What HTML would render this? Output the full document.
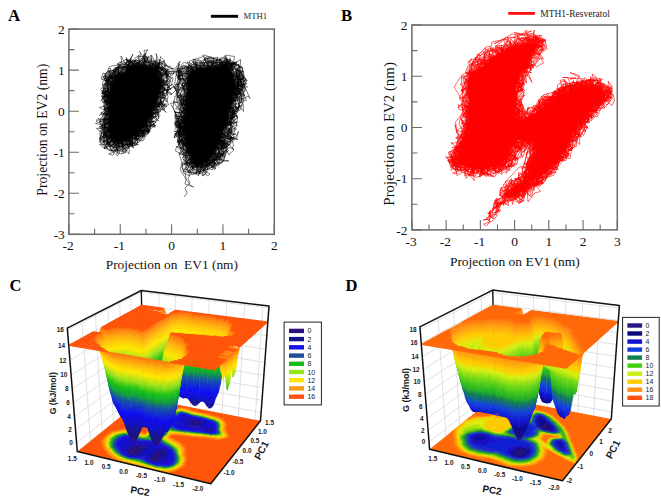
<!DOCTYPE html>
<html><head><meta charset="utf-8"><style>
html,body{margin:0;padding:0;background:#fff;width:661px;height:498px;overflow:hidden}
svg{display:block}

</style></head><body>
<svg width="661" height="498" viewBox="0 0 661 498">
<defs><filter id="bl" x="-10%" y="-10%" width="120%" height="120%"><feGaussianBlur stdDeviation="1.5"/></filter></defs>
<rect width="661" height="498" fill="#fff"/>
<g fill="#000" stroke="none" filter="url(#bl)"><path d="M110 92L113 80L120 73L130 67L146 63L157 68L161 82L159 98L151 116L141 130L130 139L120 144L112 141L108 134L108 118Z"/><path d="M188 71L206 66L228 66L234 76L236 86L232 104L226 126L219 146L208 161L198 168L191 162L186 146L184 126L185 104L186 82Z"/></g><g fill="none" stroke="#000" stroke-width="1" stroke-linejoin="round" transform="scale(.5)"><path d="M262 207l4 10-15 10-7 7 4 1-9-2 7 0-9-3-3 16-6 2-1 26 8-7 2 2-8-1-1 1-7 7 4-10-6 11 11 0-3 0-12-13-6 3-3-10 3 11 9 2-8 0 6 11-1-3 10-2 15 5-18 21 10 0-12-15-10-6 6-5-2-10-11 0-1 6-3 5 20-14-3-7 8 8 3-7-1 1 2-20-7-14 16 6-11 34-14-9-19 2 15 11 1-19 2 7 22 24 4-8-15 22-3-7-4 1 9-4-8-6 6-14 5 5-25 5 3-19-8-19-4 4 0 3 8-6 1 6 0-1-11 5 9 2 11-6 1-3 0 4-3 17-10-5 17-1-11-4 0 6 8-1 19-27-13 7-6 2 1-9 10 0 10 5-4 10 7-6 12-9 1 14-15 6 26-20 16-17 6 13 6 1 0 12-2-1 7-9 9-2-2-20 3-10-17-7 24-19 11 4-12-27-14-4 13 10 11 2 0-3 4-4-7 4 17-6 2-3-13-6 13 16-3 1-10-3 9-5 2 6 7 2 7-8-14 2 3 2-16-13 7 3-8 20-10-2 3 9 12 7 0 16-24-15-7 7-14 7 14 12 12-12-1 14-13 1-14-6-18 11 10 3 3-9 12 12 2 0 22 3 4 22-21-15 3 9 12-4 10-11-13 1-4-4-18-5 15 4-10 9 5 3 0-3-7 26 1-17 10-3 9 5 9-3-10 6-4 20-5 11-6-4 2 5-18-22-6 13-7-13-5-7-6 12-3-25-9-25 22 1-1-26-5-17 4-6-11 7 6-13 4 17-6 10-13 13 12-4-9-16-7-7 4-7-28 24 20 19-7 2 4 0 11 20 12-9-7-12 11 15 3-7 6 4 7-21-8-7 12 7 1-15-14 5 4-7 2-18 2-7 2-10 9 3-12-22 11-9-3 18 9-8-18 12 18-15 1 16-16 22-14-22-2-8 4 1 7 21-1-6 0-2-1-8-2 7-4 12-4 10 1 2 4 15-6-19-11-3-15 15 9 7 14-18-26-6 10 15 4 1 18-5 6 10-5 7 6-8 1 18-16-12 3 0-10 5-16-3-2-2 15 10 27 4-5-6 3 1 8-13 8-11 13-21-19-1-17 21-14-2 15 10-1-17 2-5-16-5-1 16-9-3-5-10 9 6 11 10-25-9-6 8 1 22 11-6 6-8-14 1-3-5 8-15 10 11 4 27-9-12 3 13-3-10 27 12-5-3-4-29-4 3 10 0-31-13-15-4-1 5 8 12-9 24 5 8-4-29 7-14-10 2 2 6 12-19 16 22 11-7 14 0-17 2-10-6-15 2 16-7-11-5 9-2-11 15-2 4 11-4-3-10 1 11 5 8 0-8 1 6 0-13-6 9 11 4-3-19 3 5 3 3-8 0-22 7 10-17 4 24 15 11-20 18-6 11 14 30 11-35-13 24-9-6 2-2 19 9-20-9-4-8-3-6 7 1-4 8-13 4 9 5 7-6 5 4 20-14-16-20 6-12-11-14 2-2 3-2-9 7-4 3 9 22 9-1-14 6-2 10 13 1 0-2-19 3 9-4-13-16 9 9 2-12 10 9 9 18 10 0 7 5-4 20 0-7 17 15-17 25-1 0 5 4-31 0 7-2 12-6-23-15 15 1 2-6-1 9 12-6-19-5 11-14 6-7 1 14 9-6 7 4-8 8-31 8 9 11-12-17 15-3-4-16 16 14 16-9-14-12-13-18 23-8 1 31 13-15-1 38-22 16-3 0-2 3 10-5-13 7 7 6 2 9-13-3 9-16-30-14-3-21 12 8-7-15 17-6 2 9 2 26 7 4-12-10-8 3 9 10 2 20-11-13-12 0-1-3-1 10-7-10 4-11 5 15 34 16-5 3 8 15 10 13 0-4 1-5-9-18 4-15 20 14 7-8-7 1-10 16 3-4 2-1 17-16 15-6-14-3-5 1 4 17-15-17 5-1 10 6-3 15-3-5-13-16 11-9 8-4-7-4-6-30 3 6 5 3-27 5 12 26-8 0-14 15 8-6 10-15-3 5 4 13-19-5-10-1 16-13-6 17 4 20-20-15-11-3 8 5-8 1 3 4 20-5 18 4-4-12 14 7-5 1 15-29-2-12 3-5-16-12-15-24-7 20-6 11 16-1-6-23 9-23 4 15 9-8 15-7 18 2-3 7 14 16-6-2 4-2-7-10-11-7-3-11-9-5 9 5 5-1-21 8 20 7-16 14 8-3 1 18-5-4 0-10 31-1-2 17 16 7 4-6-12 0-6 1 17-9-2-1-7 13-4 17-19 10-4-18 12-4 9-15-5 0-7-2-1-2 0-22-12 2 12 3 4-8 6-9 1 15 7-13 2-10-12 1-9 8 0-15 25 11 8 7-10 2-5 10-18-2-2-12 23-13 8-12-13-8 5 1-4-7-33 20-16 7 5-4 10 16-3 0 7 3 15 16 8 16-12-17-5 1 7-7 36-1 6 0-12 2 0-8-2-2-7 15 16 2-17 15 5-1-15 11-4-7-1 20-7-13-10 1 8 5 7-10 10 4-13-19-19-2 14 17 9 37 5-4-16 1 17 9-22 16-4-3-3-17 1 1 14 16 5-18 1 1-11 10-13 7-4 9-6 1-7-5 2 3-1 8-9 5-1-9-3-13-7 5 8-5 19-1 3 15 3-8-3-13 19 14-10-12 15 5-8-18-5 9-16 3 4-5-16-1-8-8 2-20 5 12 3-13 11-9 15-13-2 25-6 5-1 2 3-11-4-10 26 13-18-15 13-4 3 13 2 5 5-13-18 2 6-11 18 2 5-18 15-5-32 5-11 11-22-5 19-8 7 3-8 10 32 11-14 4-23-2 0-1 17 8-10-8-5-4 11 10-1 5-12-6-2-14 5 2 1-5-1 9 18 7-4-3-33 3 0 16-27 16 6 15 14 20 3 15 9-6-13-1-21 5 1 7-10 1-6-1-8-4 25-10 1 15-18 7 8 2 3-2-1-5-6-6-1 4-8-8 3 5-6-11-3-19 11-8 8 7-14-6-1-12 14-20 3 6 13 11 3-2-10 7-16-31-2 14-6-16 12 1 4-13 6-7 4-9 15-3-7-9-16 5-4 9 20-2 5 1 16-5-12-2-9-3 4 10 12-27 9-8-10 11-11-23 15 14 3-9 8-10-8 13 20-9 16 2-16-4-4-5 20 2 13 0-3-9 5 10 8 14-5 13 4-1-15-18 1-7 12 2-2 4 13-2 3 28 7 6-4-4 4-18 4-1-3 16-6 1 1 7 13-7-1 1 7-13 2-8 0 7-2-16-22 0-13-13 9 11 0 10 3 7 2-9-1 3-14-7-9-3 4-6 4-17-1 12-8 1 11 5 20 6-9 5-3 3-1-1-23 15-18 23 7 5 7-16-3 1-8-9-10 5-1 5-7 4-12-4 23-17 12-10-9-16 6-5 8 14 7-7-9 8-13 19-1-7-5 14 8-4 6-12 0-9-17 18 11 15-8 11 1-22 6 18-10 2 6-5 18-6-24 4-13 12-7 8-7-3 7-15 12-2-28-1 17-9-12 0 0 4 11-9 2-5 18 2 1 1-17 1-3 12-11 2 7 9 6 5-8 6 19 3 1 8 22-3-7 8-12-10 3-3 8-12 3-24 3 6-12 3 7-2-7 10-10 7 17 5 14 0-7-7 1-9 8 22 9-34 8 19 7 4-12 8-3 0-9-2 18 9-5 3 17-1-11 6 10 11-5-7-20 3-14 2-1 28 6-10-17 3 26-1-6-14 18-4-4 5-17-9-23 0-11 1 7-31-6 12-6 0 18-4 14 7-2-13 13 27 8-1-1-7 8 2-4-7-9 6 13-2-11 10 4-10 2 8-9 21-1-5-13 4 25-18-5-14-5 6 8 8 2 6-7 8-8-8-18-18-13-6 28-8-5 3-18 5-21 7 1-3 15-4 14-28 7 9 25 3 9-18-16-4-7 7-7 16 6 12-5-25-2 0 7 8-19-11-10 5-9-2 12 11 0-12-3 3-3 8 13 2-6 17 15-6 4 24 3 0-7 22-8 2 12 8-10 9-2 9-7-11 20 1 0-5-10-30-14-17-7-2 24-15-14-12 5-15-11 12 11 6 5-16-4 17-7 20 0-13 7 0 4 12-1 11 3-15-2 31-13-2-14-6-2-7-17-7-4-4-4-5 10 11 3 9 5-3-18 5-9-3 11 2-5-15-1-2-8 0-11-9 9-4-11-5 2-3 9 2 1 44-10 0 9 11-3-8 13-36-10-4-14-13 17-19-1 10 5-6 15-3 5 14-19-19-13-6 2 7 10-11 8-11 8 12 3-1-9 23 26-1 14 13 3 7-27 3 9 4-1 5 19-12-8-7-9 19-22-4 8-8-10-12 2-1-10 0 14-22 5-7 8 5 3 16-14 13 0-2 11-6-1-7 4 17-10-7 5-4 30 1-29 16 0-12-4-30 0 5-12-8 6 7-2 2-17-12 9 2-4 5 12 18 2-7 3 11-25 6-7 1 1-9-3 3 1 15 8-14 10 9-12 6 7 6-3-17-3-11-5-1 5-9-5 20 9-21-4-4 2 2-3-11-8 8 6 17-11 5 10 0 1 13-5-4-1 24 1-9-5 0 16-4 3 7 14-2-1-24 2 17 5-4-5 5-12-12 14 38-9 6-7 23 11 1 12-17 1-17-7-6 18 0-11 3 28 15-15-11 28-25 15-8-6 8 0-17 7-1 0-4 5-1-5-5 2 23 1-7-6-11 19-10 0 3-8-2-10-5 5 12-9 16 18-35-13-7 13-2-14 3-20 10 4-9 8-1 6 3 1-2 10 21-1-12 13-8-16-8 5 3 3 12 6-2-6-4-19-10 11-8-25 3 13 13-5 0-15-8 3-24-2-3 12 18-3-20 8-1-2 0-8 19 14 7-3-3 16 11 21 6 13-4 0 2-18-7-23-7-22-11-8 0-2 2 18 17-9 20-4 13 11-4-2 10 20-9-17-21 1 15 23 2-3-15-3 13 7-2-2 9-12 11 2-16 13 1-4 1-20 5 15 10-26-30-2 16 19 11-3-11-6-3-7-15-6-7-6 13-9 12 0-11-1 4 25-2-8 1-15-29-6-2 6 3-24 16 23-25-7 21 22 6-15-7-10-21 16 29 12-21-4 2 10 16-3 2 10-10 0-2-8 11 5 3 18 13 12-8-1-8-15-15-1 7-9-19-13 26-11 2-6-5-4-4 15-3 3 8-6-8 1-3 28 9 16 2-8 12 12 10 4 6-21 3 14-13 1 30 12-6 13 7-20-15-10 16-2 1-3-1 5-4-4-7 7 24-17 0 0 22-2-15 6-18-10-12-8-9-19 3-3 9 5-4-4-4-6-2 10-7-2 8 5 3-10 20-19 1-1-24-10 20 1-16 1 6 20 9-4-3 8-1-2 5 4 11-1-4 4-7 2-18 15-10 9 3-8 9-13 8 25 5 13-4 7 2 14 4-2-10 2 6-4 8-12-11-18-3-23 9 13 33 0 5 7-8-9 0 12 0-5-6 8-1 1 0 10 0-13-8 7-21 2-8 7 3-8-11-8 6-3 15-5 1-19 0-17 11 3-6-7 10 3 0 7-4 15 0-9-9-17 12-1 9 3 20-7 12 11 0 1 2 11 2-12 3 12 0 7-11-22-9-1 3 7-17-32-4-2 6 21 16 15 10 8 14-1-5 3 7 9 3 15 0 6-8 16-14-11 9 0-9-6-4-20 3 3-28-4 19-14-2-7 1 20-4 32-7-12 20-9 0 12 9 6-10 5 6 3 8-4-11 7-2 7-11-6-7-15-11-22 10 4 1 15 28-20 2 11 1 8 7-11-1 6 2 1-5-11 6-2-2-7-22 13 0-7-2-9-17-23 9-2-7-10 20-8-2 15-10 30 11 23 5-21 11 9-24-1-15-10 2-3 16 23 5 4 9-18-5 0 9 12-10 8 13-6-17 16-12-16-15-9-8 11 11-20 4-5-3 21-3-1-7 26-9-4-8 18 5-6 2 0 11 1-9-13-9-20-11-25-10-1-1 10-28-18-9-3 19-17 12 0 7 2-26 0-14 8 3 6 2 4-15-3-2 14 11 15 9 18 34-20 18-1-25-3-4 11-5-23-12-11 1 3-4-17-5-5 19-2 1-4-14 9 11 4 1-5 5-1 24-14-11-7 11 14 15-3 15-9 3 1 3 16-8-15 4 3 8-3-3 18-11 12-12-1 8-4-10 0-7 7 13 9-7 4 4 1-5-12-11-3 1-20-4-1-9-6-7 0 8 1-10-9 11 6 6-5 0 15-6 6 9 11-11-1 1 14-27-4-1 6-1 24 11-18 20-10 2-4-18-16 1 3-5-10-16 3 47-7 19 15 3 0-14-12 8 21-11-22 27 17-5-8 9-12 1 9 6-11-1 2-14-12 5-5-21 3-9 9 11-1 6-6 7-6 3 12 3 2 8 8-5-6-12-3 1-8 16-3 26 13-9-24 12 17-8 15 4-5-3 0-1 13-11-1 10 2-1 4-4-12 12-20-2 6 15-3-11 24 12-12 4 1 6-10 12-4-2 3-8 10-15-15-8 17 1-1-26 10 10 2 7-4 14 14 5 10 8 7-6-12 3-16 8-19 11-13-9 28 3-8 13-8-7-19-1 11 8-2-6-8-6 2-8 8-9-4-3 23-16 2-4-4 8-19-16 0 18 10-14 13-4-16-12-3 3 0-2 13 10 25-18 25 4-14 14 3-4-5-5-1 11 18 7 10-19 13-5-10-7 11-4 7 4-16-16-7 14 10-11-2-21 6 19-20-12-2 29-4 25-11 17-7 20 17 8-4 1 17-17-2-5 8 8-6 0-15 12-11 8-8 12 9-12-11 5-7 2 10-12-4-19 2-10-11 12-3 12-2 7 0 10 0-10-14-15-13 9 7 9-14-9 4-19 10 4-6 15 15-2-7 5 3-1 12-9-4 13-18-11 0-10 11 23 14 4 8-5 5-9-11 1-7-5 2 3-1-27 8-15-26-36 20 2 1 6-11-7-4-23 2 16 0-1 3-7-1 1 8 27 16 0 10-11 8-17-5 0-16 16 7-24-9 9-5-11 7-20-3-2 2 0 12-17 10-21 16 16-10 15-18 9 7-13 14-1-3-6-11 5 20 3 6 18 20-10 31 13-14-12-16 8 14 10-32-17 25 0-1-32 0 36-10 0 8 11 1-8 10 1-6 13 18 16-35 4 12 5-11-10 12-3 11-2 0-12 3-8 5 24 1-6-21-6-16 1-11 9-7-3 11 17 19-23-2 16 11 22 2-1-2-14-9 4-10-3-7 10-3 12 0 2 7 6-5 19-1 16-22 1 8-19 19-8 12 5-9 14-7 10 2-31-2-8-17 16 3-5-13-8 8 9 13-8 14-9 1-15 4-9 4 6 6-8-1 12-14-19 3 6-7 18 19 14 7 7-23 4-8 6 15 9-7-3-20 9 15 11-3 5-24-7 8-10 2-13 18 2-2 12-1-4 12 2-3 4 3-7-11-11-12 21-1 14-3-14 4-24-18 0-2 30 21 2-7-8 8 1-10-5-10 29-13 0-1-9 1 5-7 1-11-7-8-12 1 16-5-2 1-2 6 12 13 14 3-6-8-18-4-3-8 0 3 17 15-2 12 4-7 4 11-3-8-4 15-10-3-15 3 3 5-10 12-26 7 13-3 4-10 14 12 7-9 6-11 5-6-3-6 0-14-3 20 2 4 1-1-24-6-2-10 1 1 3 3-6 8-1 2 13 4 11 3 5-18 2 0-23-6 9 21 0 4-17 7-3-27-17 20-2-4 12-6-3-25-1-9-4-2 12 20-9-5-6 8-2 15-2 0 5-7 5 2 16 18 0 3-5 10 8-5-11 5 12 7 10 12-21-15-3 2-16-25-2 18-3-8-10 3 19 6-16 14 14-7 12-16-7 3 4-7 7-2 5 11 12 18-16 3-2 5-3 7 3-14-8-4-13 12 2-7-14 12 9-31-14 9 4-7 20 5 6-11-13-12 11 9-2 5-25-11-16-13 9-20-29 4 5-12 16-5 0-6-7 18 0-10-6-15-1 17 11 15-3 12 4-10-3 6 6 27 10 14-1 20-14-10-6-9-5 2 9-10 24-10-9 1-5 28 18-8 12-22-11-17-3-4 4-18-11-13-14-11-11 13 4-6 19 5 4 2-11 14-2 3 6-11 13 4 1 6 6 11 4 2-2 25-9 17 6-6 0 9 1-22 6 15-6-15-13 4-6-7 5 5-13-17 8 18-4 1-4 4 6 19-16 2-13 15-20-1 2 6 14-8-5-3-17-19 0 16-3 10 7 5-5-11-4-1 11 7 17-4 24-13-10-2 2 9-2 13-17 5-14-7-8-10 6-1 5 0 6-4-11 1-2-6-12 7 23-19 3-6-7-32 28-3 11 4 9 6 13 2 7 10-15-8 6-4 16 27 14 8-11 0 14-10-3 3-6-21 8-17-3-18-2-5-5 2 18 4 11 7 11 3-7-6-8-8 8 15 1-10-12 13-12 21 3 18-1-14-1 17 1-10 11-4-2-7-3 7 4 5-11-2 9 6-14-7-12 3-2-7-6 16-4-22-11 4 11-9 2 7 10 7 1-17 4 2 0 14-20-16-8 5 13 1 25-19 9 1 5 5 13 11 7-12 13-4-15 2 9 6-21 9 18 1-14-4 9 6-2-6-2 2-17 8-8 22-5 0 6-7-8 0 10-7 3-10 4-15 11-27-8 1-8-8-4 23 8 9-1-3 5-11 12-11 2-14-12 22-29-8-5-19 4 11-7-2-6-6 10-1 8 3-17 2-7-9 15 3 2 18 2 3-21-6 12-1 11 18-3 13 12 2-7-7 5 3-9 15 6 21-19 12-15-3 19 7-17 20 10-3-21-11-17 9-19 25-5-13 14 9 5 2-6-22 2-18 7 15 7-17-4 3 21 4 4 9 3-1-3-6 14-5 17 0-12 0 6 3-15-15-3-5-1 20 10 16-20-15-4 16 1-5 1-12-2 26 5-7 5 14-4-4-13-9 0-8-5 4 4 6 13 12-42-4-6-1 4-7 5-5 6-7-10 9 7-4-10-2-7 8-9-6-1-12 3 13 23 1 8-17 5-23-1-8 0-17 14-2 0 0 27 6-14 21-1-20 13 2 8 0 15-3 0-6 10-11 1-4-8-5-10-2-27 8-2-24 23-7 14 20-5 2-9-11-2-4 9-9-1 4-1-11 2 4 5 1 10-7-11 30-7 22-9 12 12 8-11-6 8 14 3-26 3 11-2 9-6 13 17-18 11 0-24 6-3-33-1 4-15 5-18-11 16 22 16-2 41 9 5-8 5 9 11-22-11-4-2 7-16 19-11 18 0-10-9 8 4-9-12 32-7-24-10 10 11-11-3 5 9-8 2-13 6 19 4-6-13 7 1 1-2-14 5 0 4 21 3-2-10-12 6 13-5 3-5 8-12-17-19 6-6-22 7-18 5 13-4-18 8 18 31-3-1 12-7-1 0-7-7 7-13-17 9-9-5 1 10 25 1-1-7-3 4-9 1 0 19-15 15-9 5-9 10 16-26-1 14 6 13-5-9 9-11 1-3-6-25-6 15-9-1-14-24-8 8-9-6 9 19 5 0-7 15 6 25 0 8-2-3 24-16 5 8 3-8-1-11 3 7-22-13-3 9 14-4 10-6 13 19 7 5-5-10 12 0-22 12 2-11 6 3-7 6-3-7 10-11 1-14-31-1-5 13 8-4 8 1 5-14 1-15 1 5 5-12 11 1-20 1-11-17 27-21-11-15-4-4 23 4-14-2 4 2-27 10-1 4-13-24-2 5 5-10 1 0 1 11 8 11-13 11 4 18-8 13 2 10 13-26-10 5 21 18 0-12-24 7 15 15-19 6 0 14-4-12 5 4-10-8 27 2 19 6 3 4-11 13 3-15 2-11 9 11-23-13 2-16 5-22 13-22 20-16 3 4-17-24-4-21 12 4 16-1-1 10 10-11 2 5-5-13 7 1 5 15 4 4-35 14 1-20-9 8-27 1-16 29 16 12 4-12-2 11 5 9-10 7 12-29-25-8-7-4 10-8-7 23-2 9 0 12-4-6-2 8 15-9-6 5 17-2-22-7 5 17 3 15 13 0-9-1-8-12 17 13-8-6 22-6 9-11 16 8 13-18 0 9-8 0 14-8-5 4 17-2 17-6-20 20-1-17 3 6-13-4 8 15-16 4 16 15-6 8 12 15 1-8 4 4 12-5-12 4 12-4 1 13-3-22 2-4 10-4-18-15 0-20 10 18 1-10-12-1-3-6 26 6-10-15-14-9-11 3-8 14 5-2 23-7-1-2-10 0-13-1-2 3 23-17-2 3 4 8-19-3 10-14 3 18 12-33-4 9 1-1-9 12 5 8-10-7 3 2-25 9 5-10 3-12 14 6-9 6-10-31 8-10-4 19-1 9 42 15 5-5 0 11-3-11-1-12-1-8 0-3-6 10-4 3-7 3-1-7 1-10-3 13 8-14 16 9-5 8-15-3 13 3 4-6 7 3-5-3-15-6-8 19-18 8-6-2 8-14 14 6 18-6-9 3 18 8 8 11-8-6-18-20 4-4-10 2-5 5-3 9-7 3-19 20-8 11 1-16 4-11-8 13-5 25 9-11 6-6 5 3 10 0 0-1 7-4 13 16-3-1 16 7-14-7-17-2-13-3 14-17 0 13 1 8-1-1-7 31-13-10 1 1 4-8 7 9-6 9 1-10-4-5-1 3 0 2-1-2-14 15-8-5 9-7-7 8-8-12-7 7-3-11 1-5 13 1 12-9 12 1-2-14-15 5 0 12 2 3 9 0 16-3-19-10-5 3-2-1 8-9 15 2-6 7-9-8-10 18-7-3-5 5 13 5-19 20 4 7-10-15-18-21-10 16 22 2 6-9 6 5-11-16-17-2 24 1 1 23-11 6 9 7 22 23 4-10-16-7 10-15-3-22-11-11-13 1 13-12 31-8-2-4 10-6 9-1-4-2-2-16-12-5-13 23 15-15 10 0 23 8 2 1 6-21-13 18-15-5 8 3-31-5 11-13-3 1 11 10 18 16 2 23 3-11 14-5-11 6-3 0 13-1 0 12 4-8-22 5 7 11 6-12-14 7 12 1 6-17 13 6-1-7 2 5-7 6 5 4 7-11-10 5 6-12 4 8 1 0 1-13-5-8-3 9-9 2-4-15-1 6-11 18-3-16 5 20-19 21-8-29-7 2 14-3 4-1-2-2-18-7 8-19 2 0-6 20-19 10-5-1-30 15 5 15 7 16 2-9-5-11 11-22-16-15-11 16 9 2-4-3-10 0 4-8 6 21 8-14 5 17-10 9 13-34-11 5 12 16-3-10-2-3-8-4 11-13 9-7 11 0 7 28-12 0-3-11 10-4-7 15-1 6-4 2-2 10 15-7-13 4 9-17-3 21-6-3-3-16 26-13 6 7-4-2 22 7-22-3 13-4 1 2 19 12 7-5-1-29-5-24-5 4-2 9-17 2-8 0 16 23 12-9-14-5 25-8-6 0 1-17 6 12-16 31 16-10 2-10 10 3-15-8-2 2 12-3-5 13-1-16-7-6-2 8 9 10-11 4 10 6-8 14-23 7-10-16 5-17 14-5-17 16-11-4-16 14-29 3 12 19-13-8 18 0 42 13 0-3 11-3-20 16 2-6 10 11-14-22 7-31-7 0-6 11 12-8 11 0-4 5-14-7 10 5-12 27 15 1 4-4-12-5-33 17-4-14-1-2-8 6 18 7-18 0 1 1 9-15-1 19 17-2-22 1 7-2-2 7 10 13-18-14 6-2 28-4 0-14-8 5 16 7-9-9-2 13 4-4-3 4 6 3 12 19-2 5 2 8 3 4 7 12-3-1 2-18-14-27 21 10-10-13-6-10 3-11-27-8-10-3 3 4 10 5 18 22 0 18-4 1 13 3-10 12 4 0-4-7-3 19 26-7-7-7 10-6-7-16 2 10 0 2-11-5 5-2 27-11-6-8 2-9-3-3 19 16-23-7-9 18-11-17-16 2-8 18 5-15-16 0-3-2-6 13-8-11 11-3-7 11-3-1 8 5 11-10-11 7 6-7-6 19-2-7-1 2-9 1-1 9 14 7-20-8-8 8 1-6-1 14-1-1 22-15-20-5 3-9 8 8 4 3 8 30-12-12-13-15 11-18-5-5 4-10 12-5-8-20 15-1 7-15 12-16 11 3-12 8-4-2-4 14-12-6-7 9 7 9 3-14-6-8 6 11 13-11-10 11-9 12 20 2 19 2 11-5 5 5 0 10-6 1-8-15 9 2 2 3 3-13-13-14-10-13 19 11 8-2-26-3-14 10 6-10 6 9-7 14-7-2 12-18 6-2 7 5-11 4 10 7-18-12 18-4 5-1 11 5-9 15 11 3-4 1 8-35-10 14 6 7 7 1-1-1-23-14 18 1-4-17 13 8-1 18 2 17-19 0 4 6-29-1 10 9-5-12 5 18 0 3-1-3-20 5 13 4-1 5-12-10-3-10 1 9 16-28 6 11 24-4-31-6-18 10 1 1 5 13-4-14-12 3-6 4 0-6 10-23 7-5 18 8-6 2 9 4 19-5-7 13-4-4-1-14-12-12 8-15-13 29-2-4-18 2 16 4 13-16 10-1 1 11 8 8-3-6 1 13 3 6-8 5 14-6 12-5-9 5 17-26-6-1-17-5-3 12 6 19-13 13 13-4-4-6 7-1 7-21 8 17-2 5 9-7 1 12-8 2 5 12 11-8 6-5-11-9 12-3-12 9 5-14-14-4 5-6 4-9 8 1-3 2-6 4-4-25 3 8-3 4 0 21 11 8-8-3-1 21-4-6 16 2-7-6 2 19-21 5-9-10 26-6 19 5-22 3 14-4-7 8 10-15-9-1 3-5-14-23 17-11-7-8-5 32-11-5-10 8 3 11-5 14-2 6-14-3 7-13 1-12-6 3 10 19 7-9-4 18 8 3 8-23-11 10 0 7-18 28 22 2-5-4 7 0 0-10-4 13-7 5 0-14-4-13 17 19-9 3-11 6-10 11-37-16 2 11 17-12 24-5-1 6 7 37-9 8-5 2-8-17 6 19-1-4-11 0 7-1-8-1 22 7 7 8-8-15-1-5 10-4 3 7-7-21 2 6-12-5-19-21-15-1-2-3-16-3 7-8 15-10 7-3 8-2-5 4-5 15 0 8 18-22 1-16-11-8 2-19-21 15-4 0 15 5-4 7 8 2-7 1-18 1-2 22 11-10 5-4 11 16-7 4 26-2 15-7-18-7-3 7-13 2 19 8 10 11-9-10 2 9-27 20 4-4 8-15 8 9-3 4 3-5-12 3 8 2-6 26 10 8 2 13 17-17-10-9 11 8 6-2-22 3-4-6 1-4-14 4-17-13-29-9-10 3 13-12 10 3-3-3 7 3 3-8-8 10 7 1 13-3-1 14-5-23 12 8 12 23 8 25 4 14-6-6 3-17 8-30-11-14 24-9 3 30-6 12 2 12-15 14 7-7-5-5-5-9-11-30 16 11-6-13 0-2 17-15-9 5-2 8 17 11 15 1 27-16-21-4 5 4 3-9-5 12-15-3 2 5 4 1 7-19-18 16-19-1-6-10 3-9-1-9-2 5-29-2 14 5-5-3 5 2-6-12-7-14-7-17 9-12-6-10-20 4-3 6 5-3 0 19-1-4 4 4-2 2 11-5 15 10 11-33-22 0-2-2 13-5 4-4 15 19-6 7-5-2 10-11 6 1-6 3-6-13 7 0 7 1-10 20-5 19-2-17-12 11 14 20-20 17 4-10-12-20 12 5-5-23 14 12 0 11-11-8-7 8 4-7 6 7 27 6 3-21-8 13 16 4 3-9 7-3-13 7 15-13 14 2 15 6-6 1 1 7-14-14-8-6 25 1-11 1 4-12-7-3-5 0-1 4 1-7-11-10-4-6 5 8-9-7 14-3-9 13 1 3-8 19-1 9 5-27-13-13-11 18 2 14 10-16-12 5 6-8-12 4 10 12-10-10-6-4-7 16-3-9-1-4 19-16 8 5 2 14-18-14 9 8 4 22 17 12-4 1 1 1-2 15-11-4-19-8 4-2-12 3-29 10 2 7 14 9-7 8 13-7-2-15 25 2-10-2-21 4 7 14-17-5-7-6 12 2-4 8 18 14-1 16 0 5 17-20-10 23-15 7 12-27-4-23-12-9 12 1-9 10-9-16-1 21-7-13 3 8 1-22 14 2-1 18-2-4-5 9-2 2 13 5 5-10 14-7 7-3 10 0 13 4-2 3-10-7 5 2 8-14 7-31-2-4-4 12 2-2-6-15-20 3 0 7 9-2-3 17-8 6-2-12-10-9-12-6 17-12-15 16 12-14-15 17-3 7 19-4-11-3 11 4 7 4-5 8-8 15 0 21 3-15-14-18 2 22-5-4 7-7-5 10 3-23 8-13 17 7-3 2 13 10-3 2 9 27-6-19 12 17 6-19-6-7-2 0-11-14-3-23-13-10-1-13 7 13-7 3-1-4-6 5 2 19-16 20-13-8 6 2-1-5-7 20 6 9-10 16 4-7 12-7-2 10 4 4 7-17-7 1 7-17 2-2-3 2 3 14-22 21 4 21 1-19 15 9 24 3-10-2-9-3-6-24 10-3-18 11 0-11 2 26 6 5-7-5 4-10 17-1 7 27 1-9-18 14-12 4 1 13 19 6 35 14-5 7 9 1 2-10-18-7 2-13-23 2-12-10 6 4 7-3 18-5 12-4-18-7 4 8 5 2 8 18 2 19-13-3 1-13 10 0-7 12 24-1 4 3-19 3 11-6-7-11 19-15 7-16-7-6-5 12 3 6-8 8 2-10-15 6-5 9-3 11-6-2 5 11-9 13-2 7 14-4-10 1-29-16-3-20 18 3-3-22-5 9-11 0-8 7-12 3 9 7 0 10 6-20 2 6 8-7 2-3-21-16 9 5 0 13 26-27-28 3 5 2-4-6 2 18 7 4-9 14 5 10 21 6-4 18 6-4 2-5-4 16 8-5-14 4 10-18 4-3 5 0-20-6-21 6-2 16 6-22 17-6 8-7 3-16 1-8-16-21 28 0-6 4-6-4 3 7-8 24 7 15 8-8-2 8 3-6-3 6 1-4 8 5-8-4 12-12-12 26 12 0 18-25 17-5-11 17-29 2-7-22-1-1-9 13 1 1 20-24-2-12 4-4-1-11-1 1 6-1 8 3-8-11 8-3 17 10-3 3 0 2 1 5-13-18-18 27-7-19 18-12 5 9-23 5-1 20 13 5 23-13-5 10-15 14 4 5-4-5-3 6-12-10 13-7 1 3-8 14-1 3 8-13 9-1-6 8-8 4 15-8 1 2 10 18 15 2-16-4 10-17-9 15-12-1 13-3 2 22-5-16-13-8 3 11-9 6 5 16-3-16-7 6-3 2-10 13 0 3-18-4-15-12 2-13 22 6-10-2 7-20 10-4-3 9 10 5 6 16-10-3-2 17 27-15 16 0 5-28-29-5-9-10 19-10 11 16-19 14 13 7 0-1-16 1 3 5-8-12-7-11 2-13 23-3 7-8-1 0 3 6 0-4 2-15 6 5-2-14 7 23 3 1 16 14 5-2-23-21-2 11 14 0 2-8 1-16 7 12-5 14-5-16-5-7-11-5 24 1-3-11 11-2 0 16 0-6-17-4 7-7-5 1 3-9-8 1-16-7-14-12 25 4-4 5 18-12-3 0 4-1-5-2 5-5-6 8-9 10-15-11-1 18-8 6-6 8-19 4 1 2 16 0-3-1 2-8-17 27-6 16 3 27 0 4-8-6 10-4 3 13-22-12 2-9-5 0-16 2 0-19 12-7-2-5-4 11-14-30 5 5 15 20 8 19 7-15 12 11-1-20 11-19-10-7 16 2 30-8 8 2-17-8-13 4 11 11 1 4-3 14 18 8-4 10 10-26-19 5 15-11 12-8 13-12 1 5-3-7 0-8 1-3-16-6 12-1 8 14 4-11-6-9-7 13 2-3-14 25-15-1 3 3 8 9-8 13 20 4 5 10 3-11-3-9-6-10-22 0-3-4 13 28-17 12-11 7-10 9 17-10-4 15-10 8-1 3 0 9-10 8-11-8-17-9 8-5 5-19-13-2-5 17 0 20-6 13-1 7 10 0-14-17-2 20-2 6 19-8 9 6 2-1 7-18-20-7-2-6-20 11 9-9-20 23 7-10 14-3 13 20-6 6-12-12-7 7 1-28 0-9 6-11-1 30-16 18 16 13 12-11-1-3-4 9 2 7 6 6 4-8 8-2-6 2 0 5 19-11 3 3 0-16-5 4 2-3-10 17-11-7 8 5 29-6 4-4-14-6-1 0-7-21-13 21-6 12-15 5 12 16 3-1-1-18-4-2 8-12-1 2-7 29 4-33-2-2-5 11 5-2 8-2 21 12 10-2-10 5 0-18 0 19-3-10 13-14-11 1 21-13-3-3 0 9-2-1 4-15-11 4 8-3-4 21-4 7-8 7 12 5-14 3-1-13-7-1 16-5-11 4 2-13-7 9-2 10 0-12 5 11 7 9-8-6-6-10-25 10 6-4-26-13 12 17-19-7 14-3-3-30-5 18-5-2 0 21 8 4-7-8 16-6 1 5-6-16-7 15 3-7 12 8 3-12 2-11-6-2 6 23 0-2 8 19 6-2-7-8 8 15-15-13 6 11 2-8-6 6 5 2 7 7 15-1-10-4 5-19-1 2-9-5 5-5-17-2-9 8 7 1-4 6 13-22 5 9-6-2-13 6-12 24 11-8 13-2 12-5 8-19 9-11"/><path d="M416 226l2-6-29 22-4 9-7 12-4-10-1 7 1-11 3 4-12 9 10 2 8 2-2 11-5 3-9-13 12-3-23 13 1 12 4-3 7-2-12-19 14 1 0-9-1-15 21 5-3-9-2-9-10 2-10 18 1-10 1-6-8-9 8 29-6 22 12-11-24 11 1-9 8 16 7-6-1 6-10 3 5-19 13-17-11-6-4 4 8-1-10-3 9-3 12 8-12 4 13 10-10 1 18 9 7-24 10-3 7 24-13 17 6-7-10 16-21-24 15 2-2 9 3-12 16-16 9-5 8 6-22 14-5 34 11-6-27 2-16-19 1 2-10-15-4 9 8-14 10-9 0-18-16-4 1 18 17 7 9 10-9-6-13-12 4 32 14 1-14-23 9 19 6-10 16-6-12 17-1 5-5-15-12 3 15-8 8-5-6 9 2-12 9 0-2-13 13 0 6 19-5 4-14 17 11-2-13 0 1-6 14-15-24-26 0 5 0 1-2 7-2-6-12-10 22 5-4 13-4 7 4-12-12-15 10-15 3-11-1-9 1 3 6 7 2-3-5 16 3 3-5-17 0 4 37-7-3-5-6 16-12 12 33-4-23-16-12-14-3 17-6-11-16-11-2-7 3-2-10 7-5-15 2 37 10-5 10-10 2 2 12 10-4-14-6 8-15 8-5-11 17-5 9-5-5-8 11-5-14 22-2-8 4 3 14 10-7-6-2-19 4 15-2 4 9-2 0-10-24 1-7 0 23 2 2-7-9-8-7-22 0 14-5 7 19 7 16 18 2-20-10-2-2-2 3-6 14 17 7-19-3 18-10 19 8 6 2 32-4-3-16 19-21-9 5-17 3 5-22 22 22 34-15 11-6-13-5-16 9 15-8 2 0 2 4 7 1 7 11-14 22 18 14-17 9-23 10 14 3 19-16-1 16 2 28-6 9 10-3-3 2-7-9-31-7-5 13 15 8-1-9 0 0-7-16 1-8-3-28 13-11 3-26 11-3 1 14 2-5 13 7-7-5-5 8 3 15 6-20 2 26 0 11 13 6-14 14-17 9 9 6-25-7 11-8-5-18-16-25 4-19-5 2 4 0 2 0 12 7-6 4 10-4 4-3 2 2 2-2-22-11 15-5 16-6-10 16 4-12-2 3 4-2-2 11-14 12 4-11 2 4-5 13 8 11 5-10 0-6-19 2 29 31 21-9 1-19-3 7 15 0 2 4 0-13-23 3 16 18 4-3 8 17-10-4-11 7-7-5 7-9-7 4-11 5 28-36-7 4 19 13-20-20 9 19-9 14 1-17 20 10-12-3 2-2 3 14-15-2-14 11-9-8 0 22 0-11 14-5-5-6 13-11 8 25-9 0-2-1-8-7-17-7 6-12 4-1-20 10 11-13 17-1-3-2 9 8 8 18-4-2 1 1-3-15-23 0-13-4-6 3 1 9-8-12 6-4 4-18-3 6 0 4 2-5-6-21-3 4 17-15-5 11 17 6-5-6-20 2 9-4 2 6-35 9-14 9-23 3-1 3-7 5-7-9-9-4 8-1-8 8-19-2 25-6 8 4 8-8-6-5 1 1-6-26-6 9 6-1 10-1-27 17-9-27-20-4-1 7-23-4 7-2 10 10-2 12-1-13-9-2 14 12-16-5 6-10 1-3-2-9 13 12-10 2 10 0-14 9-11 13 7 15 8-10-21 9 2 8 5-10 13-2-18-19 16 2-2 14-6 6 10-3-12 17-1-17 5-6-8 10 20 0-14-13 10 11 4-16-5 23 3 24-6-3 4 6 17-28 16 10-4 22-15-8-20 14-1-14-8 1 1-2 14-6-2-11-4 4-5-17 11-1 8-21 23-14-13 3-5 17-5 0 16-16 26 3 11-2-3-11-4-4 23 7 15-4 2 20 2-9-21 13-13 3-6 8-16-2-1 1 5 0-7-19-4-4-6 2-15-6 3 3-16-1 18-1-14 6 3 5 25 28 5-12 9-2 9 6-4 14-1 16-10-15-1-27 13-2 3-2 13 0 5 13-18-1 0 3 7 21-12 23 8 3 15 8 14-3 15-1-23-1 7-16 22-7 6-24-12 0 5-3 2-10-6-2-6-1 4-15 11 6-8 13-23 3-6-6 1 9 7-8 22-1-5 8 12-25 6 2 6 1-4 14 0 15 8-22-11 6-7-8-5-4 1 13-8-16-16-7-23 4-1 6-8 1 6 6 18-11-6 2 2 8-6-9-2 10 18 6-8-4-4 1 19-21 1 2 14-1 5 2 7 13 6-17-32 17 1-5 4 6-14 1 37 3-18 1 11-14-8 10 6 6-10 10-3-5 8-17-5 18 0-18-18 9 4 2 4 4 27 18 0-14-22 14-8-10 0 10-3-2 26 10-15 3-22 4 0-3-7 8 15-11 16-7 9-16-3-1-11-7-3-1-23 6-6 1-2-2-6 20 3 9-5 8 12-18 1 5-11-1-11-1 11 13-12 0-10-10-3 15-4-3 4 10-11 19 0 6 7-2 13 1 8-18 5 3-20 23-18-3 1 9 1 4 1-1 8-5 13-3 2-5 10-14-10-2-1 3 1-8-2 3 3-14 15-22 4-30 6 9 2-6 6-6-3-25 5 9 16 9 3 2-15 20 0 16-5 10 6 14 23 14-9 5 11 29-13 9-10 7-4-9 4-6 9 5 11-1 12-12-3-1 12 12 3-19 14 0-3-2-15-12-28 9 5 15-13 2 10-2 11-1-21-15 3 8 22 18-13-3 2-11-20-1-15 15-23 16 18-17-5 2-5 13-6-9 10-10-2-14 13 15-16-19 8-22 12-14 0-3-2-17-5 7-10-19 17-11 3 0-4 6-15 20 4 25-7-8 0-16 2 12-7 5-14 7-11-13-34 19-1-3-3-4 4 14-4-3 9-3 11-10-9-9 3-10 0-3 12-9-15 14-1 8 10-4-11 4-7-10 16-12-3 6-3-4 9-28 2-1 16 22-19 5 10 1 1-16-21 4 1 18 12 12 18-5-1 25 10 7 5 8 1-14-12-9 3 11 19-1-22 8-9-8 13 15-14-9-11-6 22-8 12-10-5-1 21 13 15 11 0 20-21-7-20 1 6 9 4-23-6 7-8-13-15 11-13 3-5 7-4-7 0 2 16-8-8 8 17 1 6 7 2 16-10 5 7-3-13-6 1 1-6 1-6 15 10 4 1-4 14-6 2-2 19 9 8 4 7 6 14-7 1-6-14-4-5 5 3-18-17-1-7-7-11 5 18 3-20-8-6 10 20-3-6-12 42 20 2-18-5-3-14 25-22 14-4-11-28-12 11 9-15-14 2 10 26-11-1-13 9-14-20 11-2-7 11 2 17-16 28-3-7 9-26-1 18 3-7-21 25 6-26 4 24 12-3 15-12 23 21 3-13-9 14-6 1 6 3-11 4 7 0 8-9-26 5-12 7 17 7-4-22 6 10-3 1 3 13 10-10 4 25-21 6 15 5 5-6 2 18-6-6-3-2 0-19 3 19 3-8 7-10-12 11 0-9-9-10 31-4 0-9 2-9-3 14-29 0-10-5-22 15 33 0-18 13 7 12-9-10 14 18-1 22 10-3-13 6-13 6-5 4-20-5-9 7 10-11 5-8-4 12 2-12-10 10 7-4 14 2-11-8 9-12-14 14 27 19 3-6 9 0-16 7 8 12 8-7 0-7-17-8 0-1-2-25 6 9-2-1-6 1-20-6-12 5-5-20-9 7-12-5 0-3-1 9 5-16 4-4-17-6 2 3 9-1 26-24 0-9-4 20 5-1 5 18 12 4-18 0-14-16 4-20 11-3 5-8 6-15 10-13-3-15-10 6-5-15-15-8 8-6-13 6 14 16-15-2 14 14-6 4 3 10-15 24 8 18 34-29 13-23-2 23 26 4 18 6 2-44-22-10 5-24 9 2 4 0-1-11 0 6-26 4-14-3 1 3 14 2 21 2-13 6 15 1-8-3-9-12 0-1-24-1 0 21-6 18-1-4-11-2 15-5 6-28-5 13 11-6-4 16-21 1 2-14 1 8 8-17 3 11-3-1-17 0-19 13 9-8-13-4-12 21 7-23 10 5 21-16 7 5 3 15 2 6 4 3-5 12 28 16-7 12 2-13 3-5-2-15 17-7-16 13 15 8 15 14-28 13-3 16 6-6 14-2-12 4 22 7 5-20-7-18 4-17-17 3 9 8 22 2 8-5-15-15-8-5 3 24-12 16 0 12 8-7 8-7 0 20 3 1-16 11 10 13-4 9-2-11 8-4-9 14 5-7 3-6-1 14-13 26 7-4 2 2-10 17-13 1 12 9 3-6-23 17 7 8-5-16 8 18 13-20-13 5 1-2-9-10-17-15-15 6 0-12-11 26-11 8 5-3 7-19-2-9 1-4-2 12-15-3-9 16 10-1 11 1 4-13 6-1-4 5-18-2 11 19-4-12 13 10-6 2 11 8 3-26-10-4 9-7 25 18 2 17-13 3-10 22-24-4 10 5 7 4-1-18-4 5 7 13 11 10-1 3-5-13-9-13 7-4 6 11 11-21-5-3 9-16 2-7-3 22-15-6 9 18 13-8-10 0 4 13 21-9-6-1-12 10 10 0-1-2 1-17 8-2 6-26-24-16-12-9-13 14 17-14 0 25-7-2 14 0 6 0-22 1-3-4 6 12-8 2-2 8-3 17-2 1 13-9-6-7 9 26-16 7 2 12 2 4-19 11-5-11 14-8 11 14-3-1-8-9 4-1-15-8 12 0-16-1-12-7 2 3 3 3 14-8-5-11 4 28 2 9-5 0-1-1 11-7-9-3 15 4-6-3-2-12-13 25 27 1-21-11-14-9-7 8 1 9 18 27 7 4-17-6 2-9-2-18 3-8 27-19 10 0 27-6-8 15-11-6 4 12-9-1-6-6 10-13-1 0 7-3 16-15 3 4 3-2-15-10 7 10 4 10-8 3-5 8-14 7 1-6-15-16-2 15 2-2-1 13 8 5-1 3-10 19 6-15 13 15 5-4-14-9 0 12 6-3-6-12-29-11-14 7 4 9 8-13-2-2-9 2-2 1 15-18-6-20-11-8-2-7 16 17 2-14 18 8 0-13-11-7-19 1-3 2 1-15 11-8-10-1-4 8 6-1-11-7 5-14 8 8 8 0 1-11-11 27-10-11 1 1-7-24 6 13 1 14 21-9-6 22 2-5-3-7 19-6-14 10 20 10 7-18-19 4-14-7 4 3-11 4-6 20 19 7 1-5 8 15-3-5-2 15 14 3-16-2 0-18-3 7 3-8-4 0-5-8 10 3-4 27-4 11-1-11 11 10 8-3 5 9 11 25-17 5-2-13 8-1 9-22-3-4 16-10-2-5-7-11 21 9-7 11-9 5 10 4-5 4 3 16-14-13-9 0-9-8-10-6 17-7 14 6 6 1 8-5 6-12-7-9 10 13-10-1-7 12 5 6 17-10-6-9-3 10-7 15 2 7 5 3-24 11 3-2 9-13-11 20 0-16 11-12 2 7-7 12 6 8-3 2 1-2 14-7-2-6 7 6-16-16-18 0 5-1 6 2 21-13-16 11-2-29 21-10 11 0-3-7-20 6-19-12 15 10 2-15-9-28-11-11-8-10 21-23-7 9 13-17 17-22-10 3 7 9 19-12-14 11-8 18-17-3 1 10 9 7 6 17-2 10 12 0-7-2-13 12 1-23 5 13 5 3 2-9 21-9-16 23 6-10 1 9 9 12-11-1-3-4-12-4-21 13 7 0-40-9-3-8 20 7 8-3 8 1-5-6-16-15-5 0-2-12-5 13-7 6 0 2-4-5 10 13 13 2 0-21 11-6-14-7 5 9 5-9-5-11 9-23-19-24-13 7 17 15 23-6-8 3-2 3 5-17-11-14-12-1-9 21 6-6 14 5-11-13 1-4-14-3-6 27 1-9 0 6 12 6-13-22 8 7 8-11 15 13 13-1-4 13 8 7 6 1 13-13 6-9 5 3 2 6 11-12 6-3 20-17-16 8-14 3 8 17-1-3-14-19 13 7-18-17 19-4-9 16 19 0 1 7 6-3 2-7-14 2-17 17-8-10 18 2 2-8 6 9 1-15-6-7 8 1-10 16 9-14-8 19 6 4 13 26 15 9-12-4 8-33-5 6 0 9-3-8 15 24-1-7 0 1-2 6-6-18-2-6-11 12-5 7 6 12 17-3-1 20 0 8-5-9-6-9-7-23 14-1-7-20 3 4 1-6-10 13-11-23 9 5-14-20 13 13-20 3 25-6-18 14-11 6 4-1 11-2-8-22 5 3 16 0-6 2-3 0 19 2 4 14-5-3-4 14 7-3-15 7 5 1-1 18 4 0-2-1 9 40-19-7-3-4 0-10-10 0-26 20 4-24-9-7 19 13-20-2 24 18-20-8-11 9-9 12 0-15-10 9 11 13-18-15 2-4-13-12-6-2 7 4-12-1 10 6 1 11 3 17 4-1 18-11-10 5 19 20 7 13-11 15 8 18 18 2 8 23 5-8 7-16 1 12-24-5-3-5 4 4-8 6 2-2 2-13-1-28-18-10-5-3-14-6-8-10 7 6 1-2-2-4-9 14-2 2 25 3 9 2 1 5 7 7 13-7-5-9 8 1 3-6 18-2 12 27-6-8 1 6-8 14-5 5 0 9-13-12 15 6 0-7-4 23 17-15 8 2 1 3-9 10-11-20-6-10 0-14-4-16 13 8-3 23-26-4 0-3 16-3 9-13 17-12-15-10 9 1-4 12 12-10-9-9 7 4-5 16 9 2-10 11 3-5-4 5-19 8-4-14-5-8-23 1 10-11-5-24-3 5-2-1 4-6 13 0 16 8-12 27 0 2 15 5-2-1-5-4 23 29 0-7 9-40-24 2-8-1 21-21-2 0-3-15-10-5-4-9-12-1-9 12 21-3-14 1-19-24-1-1-6-1-15-23 20-7-3 12-6 10 21-9-9 2 12-3-8-4 14 14 12-10 16 3 10 8 10 0 12-1 1 17 11-14-18-3-6 27-12 0 4 1 15 5-14 8-4-13-4 3-13 6-10 10 22 10 12-9 2-19 11-2-10 12-6 1-13-16 4-20 29 8-5-27-1-10-2 8-17 14 0-22 7 17 3 4-7 11 5 8 12 5-4 10-12 0-3 5 4 4-8 8-6-10-5 23 11-4 13 4-17-4-20-7-5 25 21 4-1 1 13 10-7-16 14-10-6-15 8 16 7 13-5 5-2 1-11 3-9 10 14-7-8-8 4-5-12-3 15 20 14-18-6 0-15 4-12 11 16-30-1 1-9-3-27 7-11 15-2 8 3-10 1 20 15-4 10 10 8-2-8 10 7-4 1 3 21 7-9 0 16 1 4-14-5 10-18 17 9-17 4-4-4-7 1-5 0 7-20 5-1-16 20-7-11 2-11-7 3 6 7-19-2-18-11 6 3 14-10 14-14-6 10 3 1 19 14-12 4 4-19 3-8 11 2 0 26 2-3 26 11 2-4 15-7 15-25-1 12-4 15-31 4-13 20-32-17-1 2 7 5-15 11-5 13-34 0-4 4 2-6-9-10-9 10-5-24-4-4-4 8-6 16 27-6-1 9-9-7-25 0 6-24 22 0 4 6-1-14 5 8-6-20-3-5 14 2-10 45-3 10-10-16 1 4 13-1 11 9-5-3 1 0-30-12 3 24 13-5 2-3 27 1-15-12 1-1-2-8 20-22-2 11 1-4 6 0-21-8-12 2-8-2-7 7 27 5 2-20-3 2 9 8 30-4 16 21-9 18 16-27 25 14-21-9 2-2-13 5-12-8-11-18 16-5 24 10 2-10-6-11-1 3 1 3-8 4 0 7 14 13 8 7-3 4 7 8 2 0 2-16 9 8-5-13-2 5 14 15-8-28-7-2 28-20-17 17-13 7 4-10-13-16 8-5-14 12-15 5-32 3 16-30-22 6-13 3 9 0 13 17 16-7 26 0-4-6 0 8 6 3-4-12-11 15-2-10-3 2 4-6 29 11 7 19-29-25-10 3-6 9 1-7-2-2 4-35 1-12-5 7 15-4 7 21-11 18 2 16 4-4-12 8-3 26-9-6 7 16-9 2-1 5-14-16 3 10-19 14-6-22 5-15 9 19-27 12-14 1-1-9-5-5 11 5 7-13 24-9 8-4 20 14-19-5 3 5 3 0-8 8-5-9-21-21 7 16 22 8 3 19 10 4-14-15 13 1 7 2-34 16-3-10-32 4 22 0-1 5 8-17-22 10 24-14-5-3 14 27-3 11-7 4 5-12-27 1-7-13-8-1-4 9-1-1 4-6 0 6 12-3-4 10-9-15-13 1 2 11 1-15-4-13 1-11-17 6-4 4 9 17 11-10 8 1 15-2 6-18-2 13-6 2-8 7 11-15 3 9-14 9 22-14 7 2-5-5-15 4 1-10-20-10 9 11-3-7-3-27 2 28 0-3 8-9 3-5-2 1 6 15-13 4 4-1 0 8-6-4-2 11-12 21-14 0 8-6 33 2 7 1-6-2 16-5-5 10-3-7 11-6 5 18-13-5-8-1 3 2-9-5-12 4 1-5-7-12-15-5 10 8 6-10-4-10 8-4-8-9 2 7 0 7-10-4 11 1-12 13 1-11 18 18-5 3-2-16 3-3 16-5-19 6 6-3 6-4 28 2 8 0 5 0 10 29-3 6 13 7 10-1-20-10 5-16 0 0-4-15-1-3-2-2 8-7 19-7 2 17-10-16-14 6 8 2-26 5 22 4 10 16 13 2-2 9-4-9 4-1 18-8 3-2 6-7-23-10 4 4-5 2 20-9-4 9-8-6 22-4-24-9 3-26 0-2-6 13 3-5-3 4-4-3-8-12 16 16 26 8 3 14 2-3-11 13 18 5 8 6-3 3 6-10 2-5-11 5 0 0 6-9-12 21 12-9 4-4-3-1-21-10-2-10 3-1-3-8-11-17-21-11 12-3 14-22-7-1-15-8 13 18 12 16-3 15 4 12 8-18-9 17 2-2-18 6 15 13 17 13 10 1 1 2-16 6 1-12-5 15-4-10-17 17 9-13-16 2 5-14 7-3-7 5-14 4-5 12-3-5-9 7 18 7-20-16-37-27 23-2-2-8 3 3-3-8-8-19 23 3 4-15 6-4-5 12-25-6-17 2-14 21-1 30 1 2-7 7 8-14-5 12-13 3 5-3 12-15 37-11-4-11-12 12 2 1-6 10 23-13 9-12 2-12 18 11-4 6-9 13 2-21-5-4 29-12-5 6 6-1-11 17-5 18-12-3-3 2-10 16 0 2 14 6-7 7 3-1 11 1-1 7-7 20 4-7 11-7-3-6 1-21 24-10-7 13 5 14 18 1 18-1 12 2-23 19 2 7 1-9-3 1-3-7 11 1-6-6 2-5 16-23-1-17 1 4-6 19-10-14-8 8 12 12 23 11 1-2 4-9 2 6-5 11-8-10 8-6 4 6-9-7-9 6-6-5-5 5-11-12 13 10 3-21 0-6 16-6 25-3-7-11-10-15-16-22 1 8-13-2 14 8-24-12-10 8 3 7-6-6 3 9 8 19-8 30 29-10-2-16-9-8 9 2-11 11-2-4 8-14-5-14-2 11 7-1 10 18-9-3 14-2-13 7-4-7-28 16-16-18 11 7-17 16-16 17-3-14-5 22 1-9-12-15-6 5-10 15-6 0-15 11-24-2-8-9 6 18 1-11-4-4-9-18 11 20 4 23-7 5-2-20-6-2 4-5 1 4 12-11 11 0-27-19-5 8 3 4 0 3 6 2-3 5 9-12 3 2-2-9 4 7-3-4 8 16-10 4 18-18-10 12 12 6-5 14-7-1 1-23 15-1 19 19-3-14-12-14 1 5 17 20 11 16-2-2-1-3-25-10-3-21 11 23-12 3 10 8-22-20-14 1 8-2 27-22 16 3 3 11 12-16-3 3 4 6 7-7-6-26-11 5 7 0-2 9-3 20-3-31 3 4-32 7-3-3-14 14-10 13 8-4 12-10 8-5 4-14 2 11 5 7 4 2-12 17-4-16 7 1-27 20 18-10-5 14-6 3-6 2-15 0-10-4 18 8-1-1 10-20-5-3 7-22 13 9-12 0-15 7 14 0-12 15-17-3 26 7-4 0 22 15-11 4 21 0 2 23-11-6-8 0 19 13 0-8-6 2 12-2 8-25 0-5 8 4 35 6-3 0-7-8 4 3-1 7 0-2 3-2 3-22-5-12-9 8 24 0-9-15 7 10 9 4 12-14-12-6-23 8 9 3-2-5-12 11-10 1-8-15-18 7 0-4 0 28 6 10 7-15 5-10 22-6-17-7-1 18 6-5-1 7-3-10 13 7 0-3-8 12 0-3-16 0-8 17-5 25-1 3-2-5-10-1-6 6-6 0 2-14-17-4-6 20 24-24 6 2-24 19 14-8 1-6 1-4-7 10 9 5 30-17-17 6 10 8-5-8-10-8-3-4 0 3-8-16 14-6 5 9 2-2-28 9-12-13-10 10-3-8-12 16 13-13 17-1 14-3-29 9-4-7 10-8 4 5-11-10 15 2-10-3-16 14-4 4 10-12 2 8 21 1-10-6 14 0-10 3 5 16 7-4-2-11-11 14-7-3 6 0 4-3-1-12-2-26-13-7-3 5 11 8-2 0-16 18 7 0 26-4-4-20-7 23-4 3 11-5-20 18 4 10 8 6 17-20 2 15-6-7-11-10 6 16-20-14 7-29 9-13 1 26-3-5 2-5 9-4-6 6 7-15-1-21 9-3-7 12-14-11-2-22 7-14 12-1-10-2 16 2 8 5-7 0-6-6 25 9-7-1-5-9 17 6 17 7 13 13 9-3 5-20 4 7-13-10 8 7 10-7 7 8 5 0 21 19-3-4-13 1 9 5-14-4 9 15-9-1-2 5-2-16-2 10-8 8 15-25 15 8-32 2-7 5 12-21-8-5-23-3-3 13 1-1 1-4 1 2-6 1 13 5-9 0 1-17 1 2 5 4 1 14 14 6 1 5 18 25 2-3-8-2 17 16 8-6-12 13-15-3-12-4-20-28 15-10 11-6 12-22-12 16 16-2 15-15 15 1 11 3-7-5 6-1-5-4-5 3 6 10-17-11-3 7 3 7-10 1 3 31 6 1 8 1 4 9 17-9-16 15 8 1 7 9-17-6-20-11 19-3-4 15-11-19 4-3-9 0-3 0-23-3 4-24-18 5-7 8-10 12 21 1 9 12-3-4-11-13-10-6 8-14 4-2-9 13 7-1-17-1 11-5-19-12-12-2 21 6 4-15 6-7 6 25 10 2-13-2 22-13 0 11 4 20-3-26 7 5-5-11-5 15 8-13 14-1-29 15-22 9-10-4 17 1-3 5-18-22 9 7 0 7-1 18 2 9 18 8-5 9 10 12-7-17 5 9 4-8-10-8-2-1 3-3 1-22 14-9-3-2 3 14 0-6-1 5-8-7-8-16 18 0 4 10 12-3 14 20 3-4 9-1 1-20 2 11-7-5 11 9-16-17 10 33 5 22 19-5-18-21-13 9 15 3 2 13 14 11 0 15-15-2-9-4-20 8 1 4 6-4 13-8 10-13 8 6-22 14 13 1-4-9 6-15-22 16-22-38 17 10 11 1 11-1-10 15 18 3 16 7 6-11 14-15 4 17 1 4-5-7-5 1-21 9-18-8 5 1-25 13 2-2-25 4-1 26-3-3-29 10 11-2-1-19-2-4-5 12 14 4 7-11-13-19-8 6-14 18 18-1 1-9 8 10-9-15 19-2-2 0 3-9-9 5 11-10 7 24 12 1-13-10-12 6 17 3 0-11 21 2-18 12-25-17-2 11-5-1-21-8-1 0 6-15-34 9 9 15-12 36-7 6 11-29 9 7 2 5 19-20 13 4 11-14-9 28 10-4-21-21 4 1 5 4 22-9 15 25 6-3 21-8 0 3 9-16-2 6 13 17-15-30-15-17 26-7 12 18-1 9 18 6-10-15 19-13-19 4 5-13 1-36 0-1-16 13 3 2 25-18 1 17-9 4-13-20-8 3 24-12-26 7-21-15 7 26-5 6-8-11-5-3-9-9-11-7 3-7 9 11 10 12-16 7 11 1 15 7 15 1 6 6-20 1 15-5-8-5 0 1-15-5 7 15-26 8 7-32 7 1-3 5 21-7-19-5-9-13 0 5-11-2 14-6-6 16 10-7 13-2 17-2-3 17-14 9-2 13 36 0-3 14-13-8 11 1-17 1-3-6 6-4 13 0-5-10-3-1 3 7-4 13-14-4-19 5 8 2 18 3-25 23-16 9-15 22 7-4-1-23 10 12-12-30 11-7 7 1 11-7 18-8-2-7-21 11 35-18 4 9 2 3-4 4 2 8-8 25 17 1 2-7-3-9-4-18 25-18 15-2 10 0-1-11-5-3-20-6-20 11-8 9 7-20 4 24-24-1-3 19 15-32 9 8-5 15 14-20 14 1-19-8 6 4-1-8-16-7-6 12 3 4-16-8 2-5 4 11 22-1-33 16 30 18-5 4-1 7-3 0 1-11 1 15 6-9-3-9 5-19-14-5 6-2-19 3 6 4 10 7 15-3 19 3 6 1 1 6 11 3-8-4-16 2 5-15-1 8 5-7 3-6-5 12-14 2 15 22 2-13-27 26-8 12 2-14 8-13-15-28 13 7 2 12-18-6-10-6-1 14-2 1 8-4 3 5-10-10-6 5 8-11 10-14 9 7-5 10 31 0 1-5-7-9 0 21-2 7 8 10 7 13-7-12 9-7-3 6 1 6-12 16-2-21 10 10-35-5 3 12-10-4-16-14 0 17-4-16-6 5 3-26 13 0 3-3 12-2 3 0-11 7-3-9 0-1 13 3-2-9 4-4 7 7-2 3 0-15-12 7-20 17-15-6-7-9 6 11 4-12-2 33 25 3-8-11 4-4-1 7-31 6 9-4-1-1 3 19 0-22-2-3-1-3-4-9-4-13 13 6 5 12-2 6-12 9-17 1 15 5 8-6 20-2 18-19-7 10 15 24-17 7-2 5 6-4-3 7-7 13-6-17-21-15 1 12-10-30 0 3 6-1-3-6 16-11-2-6-3 9 4-12-3-19-4 8 16 4-4 9 12-1-13 4 22-14 4 18 14-3-27 5-20 6-19 9 2-20 0-9-2-2 2 2-4-2 1-2-13-8-23-9-9 14 2-15-10 10-26-5 17 9 3 12 7-1-10 7-17-27 2-2-11 4-20-2 0 5-5-15 21 7 4-4 23 29-5-18 15-8 10 2-13 4 9-3-16-6 8 1-4 8 25 16 0-17 12 11-19 19-19-3-5-3-5-6-2 11 21-8 0-6 11-1 31 19 14-4 19 11-12-1-3-5 10-19 6-12-6-1 12 7 22 9-2 9-1 4-19-15-11 6-27 11-5 1-9 7 8 10-1-3-1-7-19 23 2 7-18 6-7-17 3-3-14-21-6-3-1 4-10-8 10-8 11 17-8 7-23 12 1-16-5 8 11 17-4-2 2 3 2 0-5 23-17-9 2 18 10-5 11-10-1 10 8-13-5-12 13 15-18-14-15 15-9-3 0 4 8 2 3 6-6 4 2-6-1-13 16 10-2 19 12 15 5 4 13 9-2-15 5-3-14 2 16 4 5-9-4-10-4-5-19 17 3-11-8 6-34-19-3 1 25 8 4 6-14 20 10-24-15-7 2-1 3-1 17 8-1-7 16-12-28 6 27-18 8-14-13 19 5 9 2 4-4 11 31-6 1 10 2-2-6 11-4 17-28-4-16-9 1-3 9 2-6 9 7-9 8 3-3 10 5-9-1-18 12-5 7 15 12 7 16-8 2 9-16 6-15 2 5 1-20-13 7 12-6 0-15-27 12 12 6-15 9 4 4-13 22-16 6-27-7 8-18 1 0-12-11 10-1-4 20 3-12-21-25 3-1 13-2-11 3-24 12-1 16 0 2 1 13 0-7-6-19 1-20 25 11-1 10 14-9 2-18-6-5 11 5-1 19-6 4 9 7 10 0-23-12 7 6 1 16 1-17-6-27 12 16 11-22 11-11-12 7-19-14 4-1 13 5-7 1 0 15 16 19-9-10 1-3 14-4-4 37-19 10-9 2-2-3 3-16-6 24 10-13-17-20-11-16 5 10 1-6-4 0-3 8 4-2-7 16 11-5 2-9 2 2-11 12-18 2 3 11-4-6 4 0 16 11 26 6-1 3-15 6-8-15 4 5 12 20 4-16-11 5-7 15 7-3 4 13-16 15 0 8-9 11 10 11-7 36 13 9 11 0-27-5 18-9-23 3 12 8 3-3-9 22-8-18 20 3-18 16 12 17-6-3 12-29 17 17-4 17-2 0 4 1-9-12 1-11 0 24 4-2-8-10-7-4 19-9 2-8-12 1-22 7 9 2-5-2 2 6 13 5 6-7 5-2 17 9 4-3-3-1 9-7-15-8-2-3 14 15 0 8 14-19 15-16-7 2-7 14 10 4 2-10-9 17-12 6-22-15-7-13-10-17-15 24 4-3-2-5 16-7-4 6 0-6 5-13 9-16-11-16-2 5 9 5 7-8 29 6 25 18-1-1 6-3-13-8 7-11 3 13-2 20-44-4 4 9-7 17 2 16-24-26 16-8 2-3-2-3 1 2 11 3 12-11 0-3 0 15-14-10 9-12-10-17 4 12-3-8-2-9-12 18-9-15-10 7-20-5-16-8 6-5-2 13-1-8 8 28 2-32-9 3 10-15 1 6 15-10 10 18-14-11 15-3-1-7-10-11-1 0-15-5 2 0-7 25 0 19 4 12-10 5 7-6-3 2-7-2 11 3-2 4 32-6-4-9 1-1-3 9-9-2 14 6-15-2-16-18 6 14 8 7 24-7 7 11 13 4 7 21-14 10 3-14 12-1-11 17 18-8 19-12-27-18-8 8-3 26 1 3-8 15 5 14 12-5 11 6-5-3 4-3 9-5-8-21 9 11 13-17-14-22 8-24-2-32 6 2-8 10-10 5 15-7-1-1 2-28 0-8 2-14 7-9 9-3-1 19-7 26 3-4-13 9-2 5 11 10 5 5-6-5-11 1-15 5-16-11 18-1-7-2 4 1 13 11-16 5 9-6 14-10-10 5-12 17 1-8-9-7-1 0-8 17-6 1-3-1 27 0 8 3 0-1-7-20-6 11-3-11 4 1-10-13-14 9-13 24-5-7-11 6-14 7 21-14 6 14-16-16-4 32 11-2 5-21-3-2-27 13 0 8 3-9 10-10 10 5-18 9 3-4-5 11-1-8 3-1 6-9 14-4-20 6 29 7-2-9 9-20 6-9-4 1 2-21-8-9-1 2-10 13 4-22-1-7 13 4-8 2-3 10 9 2-5 15-6-1-25 2-10-15 9 3 6 3 7 14 11 23 24 35-4 1-11 20-14-5-2 22-2-18-13-7-4 0-2 9 18 9 16 11-9 4 9 8 26 0 11-24 9-2 4 7-2-1-7-1-3-3 12 15-3-6-2-5-2-10-13-8 9 9-11 27-2-8-1-1-2-2 22 18 0-6-12-12 22-6 1 5-7-11 1 0-3 3 6 16-5 0 8-3 11-4 6 1-18-1-18-24-11-3 22 19-7 17 0 9-9-1-13 3 9-5-6 3-3 12 4-1 7-7-13-12-11 18-20-11-5 4 11 3-4-6 7-11 1-2-2-15 2-10-11-14 40 12 24-15 9 7 12 3-15 6 1-3 7 9-6 7-23 1-16-19-14-9-11-15-8-4 11-3-5 3-9 0 10-11-4 1-9 8-3 1 14-6 8-18 5 3 27-3 23 27-15 18-12-17 2-17 4 14 12-14-3 0 5 8-7 11-6 8-16 11 5 5-6-22-5-10 9-6-1 8-8 4-21 2-17-20 12-15 11 15 1-6 16 15 11-3-11-8-11-19-9 8-6 9-14-8 29-2 6-17 18-4 12-3-3 12-12 22-14 1 15 9 19-7-1 8 0 19-9 12-4 2 12-8 14-4-8-11-4 8-6 3 15-8-13 0 10-1-26-2 0-9 2-9 7-3 0 4 11-8-3-16 8-13 11-6 1 6-19-5-8 11 12-3-11 14-5 6 11-28-10 6 15-12 5-9-7 2-8-7-16-11 22-17-1-11 4 6-21-2-1 14-1-8-8 2-3-9 1 15 12-10-1-21-5-5 10 11-18-7 18 0 3-3-8-21-28 9-4 23-8 12 8 14 23 1-9 9 0-5 20 7 31 12 5 2 4-2-5 25-6-31-18 16-13 13 13-5 8 8 14 12 21 16 10-6 1 9-7-16-28 5-11 12-13-5-6 2 12-14-16-6-5-12 22 19-4-6-1-12 7-6 6-4 12 4 5-2 4-7-3 9 3-12 4-14-11 2-4 13-22-16 11-12 13-12-3 17-13-6 9 7 4-7 3 0-17-19 4-19 20 4 29 12-14 15-7 11 6 10 11 1-6 13 4 14-5-3 13 9 8-24-23 1-25-6-9 1-7-20-8-6-5 7-20 18 5 0-6 2 7 0 13 8 4-21-6 13-17-23 15 7 5-5-7-5-3 1-12-9 10-5-22 14 11-4-26-8 17 1-6-3 15-6 13-25 11-10 12 0-15 6 16 6 8 9-2 17-12 5-4-22 0 10 11-25 8-2-1 16-12-4-5 8 1 13-3 9-4-14-10-14 8 12 19 12 1-4 8-19-5 10-15 2 10-8 7-2 1 4-16 2 10 10-11-2-9-24 24 0-18 9-1-1 2 3-16 18-12 4 1-5-14-14 13-6-5 28 3 5-3 4 0 3-13-5-11 26 3 1 10-3 8 3 12-2 2-5-19 3-7 4 5-6 7 2 5 3 7-11-4-4 9-6-7 10-4-13-9 12 3-3-6 7 26-24"/><path d="M336 176l8-8 8 12-10 10-10-6 16-12 8 16"/><path d="M384 344l-8 12 4 10-10 10 4 10-6 8"/></g>
<path d="M68.9 234.3h10M68.9 213.78h5.5M68.9 193.26h10M68.9 172.74h5.5M68.9 152.22h10M68.9 131.7h5.5M68.9 111.18h10M68.9 90.66h5.5M68.9 70.14h10M68.9 49.62h5.5M68.9 29.1h10M68.9 234.3v-10M94.58 234.3v-5.5M120.25 234.3v-10M145.93 234.3v-5.5M171.6 234.3v-10M197.28 234.3v-5.5M222.95 234.3v-10M248.62 234.3v-5.5M274.3 234.3v-10" stroke="#6a6a6a" stroke-width="1.1" fill="none"/><rect x="68.9" y="29.1" width="205.4" height="205.2" fill="none" stroke="#6a6a6a" stroke-width="1.5"/><g font-family="Liberation Serif" font-size="13.4" fill="#111"><text x="64.8" y="33.7" text-anchor="end">2</text><text x="64.8" y="74.74" text-anchor="end">1</text><text x="64.8" y="115.78" text-anchor="end">0</text><text x="64.8" y="156.82" text-anchor="end">-1</text><text x="64.8" y="197.86" text-anchor="end">-2</text><text x="64.8" y="238.9" text-anchor="end">-3</text><text x="68.1" y="250.2" text-anchor="middle">-2</text><text x="119.45" y="250.2" text-anchor="middle">-1</text><text x="171.6" y="250.2" text-anchor="middle">0</text><text x="222.95" y="250.2" text-anchor="middle">1</text><text x="274.3" y="250.2" text-anchor="middle">2</text></g><text x="105.7" y="268.8" font-family="Liberation Serif" font-size="13.4" fill="#111" style="white-space:pre" textLength="132.3" lengthAdjust="spacingAndGlyphs">Projection on  EV1 (nm)</text><text transform="translate(47,129.7) rotate(-90)" text-anchor="middle" font-family="Liberation Serif" font-size="13.7" fill="#111">Projection on EV2 (nm)</text><text x="8.1" y="21.4" font-family="Liberation Serif" font-weight="bold" font-size="17" fill="#000">A</text><path d="M210.9 16.3H238.1" stroke="#000" stroke-width="2.9"/><text x="243.6" y="18.6" font-family="Liberation Serif" font-size="8.8" fill="#222" textLength="23.6" lengthAdjust="spacingAndGlyphs">MTH1</text>
<g fill="#ff0000" stroke="none" filter="url(#bl)"><path d="M481 66.2L497.4 53L513.9 44.8L533.6 42.3L539.4 43.9L532.4 57.1L522.9 69.4L517.2 82.6L514.7 99.1L515.9 109.4L511.8 121.7L516.3 132.8L511.8 147.6L505.7 160.8L496.2 167.4L483 169L469.4 167.4L459.6 163.3L457.1 155.9L463.7 146.4L466.1 123.8L467.8 99.1L465.7 82.6L470.3 72.3Z"/><path d="M535.3 115.5L547.6 103.2L565.3 92.1L583.8 87.1L597 86.7L602.4 92.9L597 99.9L587.1 110.6L575.6 127.9L566.6 146.4L555 160.8L542.7 172.3L530.3 180.1L522.1 192.9L515.1 197L507.7 196.6L506.5 192.9L511 188L521.3 183L530.3 171.1L537.7 154.6L537.7 138.2L533.6 127.1Z"/><path d="M512 124L526 119L536 123L538 133L524 140L512 136Z"/></g><g fill="none" stroke="#ff0000" stroke-width="1.2" stroke-linejoin="round" transform="scale(.5)"><path d="M993 214l29-36-8-6-28-3 46 3-4-9-5 6 13-2-2 7-4-3-13-4 9 1-40 14-23 4-7-15 0 20 2 15-13 9-3-11 11-29 10 16-14-30 4-8-16 5 19-1-24 24 11 16-9-12 19-20-4 3-18-24 17 11-4 4 11-11-1 7 35 21-28-5 7-32 15-18-11 1 29-3 2 25 19-15-11 21-5-7-10-13 35-3-16-19 11 0 2 2-4-6-11-7-4 12-2 12 23-30-6 2 15 15 22-4 11-8 15 30-6 3-8 5-9-13-17 2 3 8 4 3-23 11 9 0-1-12-8-2-2-3-2-30-17 16-27 2-15 7 2-17-1 32 2 7 2 32 11 2-17 25 13 1-11 8 11 16 0 12-1 10 3-5 27-3-2 18 5 16 21 8 3-22-1 14-32-8-16-19-9-23 12-7 21 0-18 0 4 8 4-7-18-22-15-13-2 40-9 11-9 16 20-9 22-15 20 1 2 12 8 8-4-13-6 4 17-9-36-12-10-10 8 2 10 4-9 24-2-7 12-4 8 19-1-27 11 3-4-7-13 19-7-19 21 7 20 20 11 16 2 8-11 21-2 14 1 1 2-15 1 6-8-15-25 8-18 9-11-6-1-1-10-6 16 14 0-3-6 12-10-1 25 36 0-32 0-15-22-3-18 12-19-20 0-17-2-2 5 25 10 15 10-17 1 23 7 4 3-3-6 2 3 27 1-3-17-10 8 0-12 7 4 2-13-4 4 0 6 3 18 2-2 12-6-7 17-13 24 14-47-15-6-3-13 3 7 6 7-6 36-11-6 6 15-11 18-16-3 11 10 11 5 1 17-4-22-10-4 10 16 5-18 3-25 17 5 7 17-13-2-2 10-9-2 12-11 8 14-7-17-12 3 0 6-19-2-12-1-2 23 14 0-7-5-29 11 23-12 7 11-2 3-4-21-3-1-8 5 11 4-18-1-2-30-1 5 19-25-5 2-18 7 5-24 25-5 29 3-16-18 3-15 13-9-1 6 13-7-7 11-3-1-12-15 0-7 2 4 9-4-11 5 8 7 3 3 2 4-5 16-10 10 3-10 14-11-15-13 1 15 25 23 8 2-22-2-14-23-3 21 10-21-8-2-1-8 7 21 0-10 6 10-17 0 8-7 2-12 1 20 8 2 12 10-19-9 11-9-8 1-11-15 21 14 0 3 22 13-17 8-11-15 22 13 1 9-20 0-9 25 3-15 8-8-1 3 3 24-23 3 19 6 4-1 11-4-3-14-17-4 3 8-10 14-11 6 7-8-6 0-13-2-6 11 14 13-20-6 1-27 45 5 12 4-39 12-13-32 18-12-1-15-4 8 19-6 6-18 16 10 7 6-11-4-12 4-7 19 16 6-4 9-1-16-24-6 19-13-21 6-19 3 19 13 4-3-9-14-21 16 20-21-9 0-30 4-14 17 1 14 6-5 18-9 10 6 15 2 13-22-18 6-29 0-14 2 7 9 28 18 14 0-16 11 14 13 13-16 3 1-21-20 3-2 4 20-15 13 20 5 8-18-7-8 27-15-19 21 6-7 13-12-6 17-1 29-10 14 6 4-4-4 12-11 2 3-7-15-11 2 14-4 6 10-23 18 8-4-1-12 15-10 0-8-30 0-14-9 2-20 33-5 10-5-7 11-8-1-1-27-13 1 0-8-1-26 18-7-7 3 11 13-15 10-9 16-9 5 18-21-9 27 13 18-4 7-13 9-14 11 15 2 21-11 3 0 6 0-1-9 21-16-12 11-10-6 5 8-5 8-18 7 15-2 2-3 6-14-5 11-7-16-2 14-19-2-11-5-4 3 0-14-7 18-1 0-16-14 6-5-2 3 4-1-2-34 20-15 7-18 3 5 1 13-1-4 23 4-1 6-1-11-12 10 13-12 8 23-16 11-25-16-14-3 13 6-5 7 14 5-16 2-16 16 7-12-9 2 16 0-15-3-27-5-12 0-15 23-13 6 20-6 8 14-1-1 6 1 1 13-8 16-3 16 11-5 11-7 22-3 2 12 14 19-9-5-3 2-4 10 17-21 23 1 5-19 5 13-9 6 20-11-13 12-17-14-22 2-6-14-2 4-16 7 17 3-9 0 20-35-11-15 3-7 0-14-13-22-3-1 12 6 13 11 20 1 22 20 10 34-12 6 7 10-15-10 4 10 6-24 6 6 20-3-32 0-10-14-7 11 13 9 4-1 10-4-34 22 22 0 9-6-39 1 23 5 1-6 13 8 8-12 4-14 1-19-2-8-19-7-4-34 22-15-9 8-10 4-2 1-17 1 0 33 3-3 18-11-17 10-22 9 14-6 12-6-7 1 4 1 15 13-7-11 26-10-13-7-9 9 12 18-14-16 8-20 18 19-21 12 2-5-24 30 9-21 6 8-9 3-14-17-10-1-1-13 19 5 2 9 3-11-17 17-15 3-6-6-28-4 30-5-1 22 3-21-5-10 24-2 5 23-20 1 2-11 15-8 20 12-13-13-16 18 3-12-17-28 4-2 38-15 8 7 5 9-9-4 17-5 15-1-4-10 6 5-12 1-18 1 9 9-15-4-24 13-4 1-8 11-1 5 19 2 3-24 7 18-8-16 0 23-18 55 13 7-38 2-20-9-15 5-6-18-20 18 6-5-2 24-8 0-20-5-10-13 0 8 1 15 2 5 6-12 13 8-4 8-17 0-6 9-3-1 2 9-1-10-8 12-6 3-2-3 8 0-14 0-13-17 1 2 8-1-1 17 3-8-4-6 18-30-3 0-8 6 19 19 8 7-8-16 8 3-10 4-10-32 4-25 13-14-1-20 9 1-13 18 6-7 3 2 41-6 12 6 12-4-12-8 26-2-19 20 8 4-5 4-19-35 11 27 31 7 15-5 13 20 1-6-4-3 8 20 17-15 9-17-15-14-3 6-16-6-12 1 8 11 9-24 13 3 4 4-13 5-8 27 9-6-36-3 19-9 27 7 18-2 11-14 22 10-13-9-5 25 13-6 22 20-5-9-1 11-7 7-15 0-1-22-15-15 6 6-4 19-4-9 0 3 13 28-26 13-4-24 17 6 3 21-11-5-24-6 2 0-9-16 14-36 9-13 34-19-9-4 17-12 0-6-7 6-21-7-2 19-14 2-32 8-19 15 5 3-10-4 35-5-1-19-12 20-15-5 23-4 10-11 30 16-7-16-2 24 1 5-17 4-31 16 31-12-14 6 19-20 6 9 17 11-14 9-2-19-10-18-12 4-12 18-40 8-9-16-2-1 1 14-6-6-6-29-20-11-8 14-5 17-13 7 18 11-27 13 8 7 4-12-6 12 5 7-20 29-18-13-14 6 1 9 4-25 10-4-2 14-13-2-10 19-4 15 19-12 7-8-12 3 9 9-10-39 14-6-7 5-3 0 6-2 5 9 6 4-11 3 13 2-2-14 0-3 11 27 16 0 3 5 26-18-10 24-3-24-7-7-8 26-9-10-7-6-19 3-22 12 16 5-18 4 8 0-2 17-6-11 22-14 3-15 10-14-1-4-11-15 3-3-4 7 2 13 17 31-9-24-7 15 12-2 5-9-11 0-18 7 19 6 30-6 7 0-8 12-5-4-3 13 25-4-26 7-10-14-22 26-16 10 4 23-5-26-6-27 5-21 18 4-13-1 21 10 6-11-5 7 2 3-8-9-6 19 14-9-4 20-1-28 20 6 12 2-2 7 19-11-30-10 20 3-11 24 3 11-12-10 29 9 16-2-24 4-6-26 6-17-3-17-14 29 7 30 4-7-18-21 5-6 0-10-18-16-13-2 7 28-11 15-11 14-1 14 4-18-5 8 6 19 13-2-5 8-5-11-17-4 2-15 15 4 27 10 7-2-28 6 6-5-10-5 16 6-8 5-3 20 0-13-13-14 1 27 9-6 12-7 9-23-15 21 10-11 8-23 10 10 7 15 11-15 15-3 7-29 13 12-4-39-14 12-31 8 14 0-16 13-14-7 16-35 6-8-3-16-2 7 23 17 1 30 22-11-13 7-27 5 4 34 13-11 12 2-1-7-15-40-11-12-17 15-3-4-5-11 7 6-8 7 19 5-10-2 10 19 0-6 21 1 13-17 25-8 7-8 1-7 14-1 5 1-6 9-17 30 21-16 3-11-26 12 10 15 10-2 11-5-8 22 8-11 6-3-8 2 6 18 1-12-24 29-14-14 13-10 7-7-13-10 18-16 20 15-1-1-14 2 3-24 4-4 7-9 12 14 18-15 2 5-16-13-13 2 13 25 1-5 7 12 20 7 25-1-2 3 20 0-10 35-6-6 4 3 21-9 7-25-18-16-5-16 7-14 2-13 7-5-3-18 2 25-18 1-8 0-4 6-23-32 24-8 14-6 6 5 1-3-6 8 25 18 5-16 9-1-7-11-14 3 6 5 4 2-10-3-24-6 6 6 22-12-27 23-15 0-9-5 14 11-4 7-20-2-5-13-20 3-13 8 11 5 9 2-11 0 18 10 6-7-1 2 5 8 5 24-9-7 35-10-7 18 2 28 16-1-21 25-15 3-32-20-10 18 7-24 3-3-12 17-35 8-11-17-5 19 20-12 14-20 8-12 1-2-2 5-3-3-17 12-11 6-5-6-13 12-7-3 10-9 4 8 20-29-2 23-10 4 3 15 0-4 26-33 13 5 32-16-11 21-10 5-1 24-21 13 15-13-16-9 20 4 3 12 1 12-1-2-10 5-7-5-3-4 3-17-16 8-15 1 10 15-1 11-20-34 1 6 17-3-40 18 2 5 15 1-9-11-29 7 12-9-23 12 39-5 13 8-4-12 8-22-10 14-2-19 9 26 0-2-15-10 11 0 12 14 21-7 5 7-11-23 11 3 15-23 3-4 23-20-15 3-16-8-6-8 9-23-8 7-7-11 16-2-24 11 11-5 29 4 24-13 14-4 10-11 22 16-3 2 5-8 17-8-6-6-12 17 12 4 13 5-4-11-22 14-11 1-2-18-2 15-2-1-6-8 6 12 4 6-14-5 9 6 18-6 9 4 6-23-3-3-7 4-2 8-1-2 9 7 0 6 15-8-16-4 11 11-8 7-6 12-2 34-8-21-17 3 3-12-24 3 15 10-8-3 5 9-40-1 10-10-11-10 19 0 13-3 0-17-10 6 6-11 14-3 17 15 29-4-3 3-10-13-24 12-29-8-29 3 8-12-1 8 5 17-17 24 6 3-5 2-7-1 12 23-9 14 5 5 0-5-9 10 4 14-10-13 11 18 8-16-2-8-10 20 1-7 0 16 35 10 2-1-2 0 15 1-13-16-13-3 23-3-20 5-2-5-9-12-15-2 6-6-31 0-18-6 4-20-1-8 4-5 16-14 7 8-8-40 7 3-27 33 8-10-3 16 7-5-2-8-20 3-25-3 10 7 19-6-1 2-9-12-7 1 24 10 3 6 0 3-8 9 14 11 2 18-26-15 7-6-7-8-1-7 2-3-9-7-7 37 15 8 8 20-13-12 2-23-25 21-13 21-12 28 11 3-23-23 5 2-7 7-6 14 0 16-19 8-4-5-5-1 0-4-2 14 23-14 5-2 8 4-1-6-2-24 26-6 12-17-2-3-5-12-15-12 8 18 14 6-15-6 19 3-10 9-14 7-19-25-27-28 6-5 24 0 17 8-11 2 1 3 8 1-13 12-13-3 14-16 18 13-6 7-3-10-5-12 12 0-13 4 8-4 19-3-25-7-5-9 5 8-14 4-3-9 24 18 5-23-4 0 3-20 3-2 17-5 3 0-13 24-19 9 29 22-16-6-14 26 29-16-12 8 8-13 6 19-10 19 27-14-16-13-33 7 14 17 4 26-16-22 20-16-25 27 7-29 40-20 1 22-3 9-11 2 14-9 3-21-11-6 32 17-2 2 15 22-11 3-5 14-3-13 1-3 23-7-4 4 16-13 5 2 21 10 27 9 1-16-12-4 6-26 3-9-1-2 0 2 5 15-8-11-1-18-20 0 10 26-8 11-13 15-13 20 7-2 7 6-3-14 9 4-26 2 6 8 8-14-15 4 14 4 12 3-1-2-18-11 25-8-11-20 18 28-1 15 19-12-23-11 5 11 7-11-3-12-13-7-2-17-20 15-16-25-1 10-15-10 4 9 18 5 5-6-2 18 2-5-19 7-4-5 8 0-13 50-3 5-19 1-12-8 5-2 9-20-11-22-20 2 0 5 11-24 9 24-7 4-9 3 30 5 35 0-11 18 17-8-11-1 10 14-10-17 6-38-19-21-6 1-20-12 1 13 3-22-4 1-37-7 34 9-13-23 13 24-20 9-7 9-10 7 3-7-3 30-20-3 21 33 32 10 9-26 4 17 9 2 13-7-25-27 11 4-3-14-8-15 7 13-16-12 15 2 2 18 11-14 0 0 10 2-7-14 18 1 2-5-23-15 9 9-16 7-22-27-5-6 18-8 18 32-23 18-4-15-5-1-3-3-13 7-21 12 14 14 15 6 0 12 24 5 13 24 5-4-12 4-13 5-15-2 1-10-17 1 7 7 13 3 32-4 0 13-1-11 8-6-4 0 4-1 14 10-31-6-10 10 13 8 8-12-11-11-11-29-17-10 37 15 23-10 5-23-12-12 5-5-3-9-9-8-3-6-10 0-3 0-12 24 4 21-24 7-6 5-23-2 11-6-5 19 1 7 10 19-8-1-4 18 15-10 8 11 1 3-9 5 1 3-15 24-14 10 14-11-3-11-10-3-13 19 1-12 2 2-22-4 3-5-4-13 6-11 7 10 6 21 9-17-4-20 12-16 17-10 7-13-6-23-19-2 8 12 2 8 5-3-3-22 6-11-6-12 20-4 26 4-9 7 13 26-2-30-5 18 26 6-2-1 2-3-23 41 18-4 10 5-27 2 9 22 1 1 14 10 22-13-4 12-36 4 5-2 2 12-34-1-3 5-14 6 10-36-4-8-11-10 9-1 11-14-6 0 1-8 17-4 11-35-2-21-7 5 18-13 21 23-1-19-15 20-7 16-10 8 16-39-3-7-8 6 2 0 17-1-15 0 20 1 28-2 8 9-16-9 7 28-2 4-1 1 7 4 14 8-8-1-9-5-2 23 12 7-1-3-1 16 17 16-33 14 7 4 9-16-8 3-12-3-2-12-4-10-27-2-10-15-3-14-5-3-16 18 4 2-14-21 5-2 9 23 8-15 22 5-8 14 11-4 19-30 21-18 4 3 23-10-2 13-4-11 12 7 28-11-40 15 1-19-7 5-11 14-14-13 7-8-13-6-3 17-15-11 13 17 13 1 3-5 10 7 4-18 9 12-2 6 15 12-4 20-10 2 24-3-27 1-7 19 7-2 5-3 19 28-5 4-3 1 18 0 28-4 1 2 14-17 8 11-14-13 1 33 8 9-23-6-3-45 7-10-11-7 21 8-1-13 17-28 25 8-23 5-12 15-10-11 7 7-5-7 0 12-22 5 10 20 19-15-1 16-16-27-13 31 12-3 29 5-6 2 27 15-12-9-7-14-21-9 6 16-16-4-14-12 12 10-25 12-3-3 0 16 14-2 3-13 1 0-3-3-10-28-11 4 11-11 9-3 7-3-10 10-22-21-34-11-18 17 0 18 1 6 1-6 5 3 4-12-6-20-2 13-13-29-3 0 8-6 5 5-9 4-12-1 2 21-17 3 12-8 1 14-7-2 18 17 23 31-4 11-7-17-6-19 9-2 9-11 8-10 5-39 6 25-5-13-16 4 0 17-17 26 20-9 30 19-26-12 6 9 17 25 7-20 15 18-3-25-15-9-22 0 3 0-15-8-14 1 8 25-12-6-13 6 20 0 1-17 23-9 29-15 2 2-15 4-12-31 7 2-9 10 20 11 25-12 1-3 0 22-1-8-17-12 28 8 16-3 0 6-23 5 3-20 1 5-3 28-12-8-34 10 1-2-22-1 11 14 9-11 8-1 12 2 23-10 0-18 8-27 17 1 6 3-17 18-14 1 8-18 5 19-18-16 5 2 19 13-9 1-21 2-17-2-16-16-16 18 8-2 2 14 10-32-8-7-1-2-10 6 6 14-4-11 25 11-21 13 12-7 0 8-1-7-12 5 10-10-9 12-21 11-23-12 10 6-12-14-1 14-33 5-5 3 8-1 13-4 6-14-10 25 11 18-26-6 22 4 3 13-23-5 14-12 10-14 21-3-3 23 12-19 9 20-25-22-21 13 17-8 13-16 8 2 19 7 32-18 18 18 11-3-17-12-4 7 21 7 12-3 4-20 1-15-2 17 14-13 14-7-16 4-20 19 23-13-12 19 13-14 11 0 9-1-6 20 7 3 12-21 0-14-11 7-10-9 11-9-11 10 30-15-3 28 2-1 9-5 2-2-8 21-1-12 1-10-8-12-18 7-13-11 19 8-25-1-2 11-2-7-2-9 0 0 16-4-9-8 10 9-10 7-5-1-12-13 5 1-3-1 0 5 6 10 4 11-4 12 11-2 22 3-3 7-14 3-5-19 2-9-13 4 7-1-18-4 6-10 0 2 29 13-3 5 10-14-13 13 0-2 10-7 2-17-5-5 7 22 11-17 4 9-27 7 18-19-7 18-15 19-19 4-3-14-15-5 14-13 12-3 16 17-7-17 11 9 1 5-18-2 24 13-20 1 6-13 15 7-9-10-4-13 3-6-10 16-11 16 9-4 6 20 25 0 12-6-6 3-3-1-2 4 2-5 2 16 4 29 11-12-1-20-14 20-9 14-16-1-17-12 8 4 18-5 21-11-18 2 4 1-10-10-18-12-12 4 26-6-5-20 22 11-7 9-11 7 8-1 6-9 21 16-2 18-9-22-25-17-2-8-2-1 0-5-4-12 11 28-23 14 7-22 12 22 0-23 7 3-7-27-7 18 23 13-2-7 12-24 8 8 2 2-17 10 1 7 7 17 0-6-10-8 4-9-10-31-2 7 8 18 5 0-17 2 6-12-15 22-13 11-10 12 5-33 3 19 5 0 3-6 4 4 5-2 22 8-8 2 14-8 9 8-15-16 2 12-3 1 9 5 21-7-7-5-4-1-8-2-11-6 3 5 8-5-4-18 1 17-27-9 14 24-10-2 0 2-2-8-8 13-1 5 21-21-10 20-3 5 11 4-7 8 15-7-12 2 2 3 13 0-10 2 18-6 5 0-18 2-16 6-15 4 12-24-15-13 15-11 4 7-6-1 23 17 4 12-2 6-5-10-19-13-11-16 8-16-5-3 1-8 10 5 17-3 6 20-21-5-10 12-19-4-5-1-8-8 5 8 14 9-11-3 7 4 4 15 9 12-9 19-20-31 25 5 2-13 2 8 21-14-7-25-18 12 15 8-4 12 12 3 3 8-3 1 18-6 1-24-20-21 1 1 10 7-2-21-14 16 2 9 18 17-18-2-7 9-1-11 4 5 26-18-5-15-10-1 2 9-2-7-14 12 11-2-9-2 16 10-21-3 14-7 8 19-12-8 9 2-24 21 17-4-13 40 13-1-1-8-25 7 1-18 17-12-8-4 18-3-7 7-12-6-8-10-2 12-23-33 8 8 3 7-15-5 13 41-10 1-13 11-15-8 3-3 3-7 10-12 14 4 6 20 17-2 0 7-20 6-6-24 4-7 35-27 9-9-1 14-1-11-16 24-3 5-15-9-26 7 25 14-18 23 12 1-2-16 4-20 4 7-4 6-24-1 6-18-3 1-14 4 11 11 15 9-5 12-19 8-5-13-22 6 30-13 28 4-10 0 9 21 5 7-2-9-22-8-6 6 1-17-8 5-11-17 5-2-4 12 13 1-8-5-3-18-15-11-3 2-5 1-17 13-1 0 14-12 1 22-13 16-10-14-12 28-5 5-10 24-9 6-13 12-9-7 19-41 0 38-1 9 2-15-6-18-6 9-1 10 0 5-9 16 5-25-13 6-1-2-15 11 4 17 14-7 4 2 26 6-16 8 2 9 0-8 14 5 0-13-2-10 1 31-26-4 5-10 3 0-2-12 12-1-3-12-11-23-6 0-4 19 6 0-3 20-15 12-7 2 0 0 4-7-12 4-6 3-2 17 3-8-3 14 19-11 26-9 12-11 11-26 0 14 17 4-15-9 13-7-30 15-2 10-11-1 11-14-30-19 1 11 2-1-19 18 22 3 8 1 2-26 22 3-7 10 3-6 13-4 26-9-1 9 3 2 38 7 14-9 0-8 17-29-6-12 12 1 2 10-1-18 19 17-7 15 20 21-16-12-16 16-8 2-5-5 14-19 9-5-22-16 7 22-6-3 8-5-13 3 26-1 16-5 4-1 3-8 7-25-8 6 9-11-21 0-3-8 32 20-5 28 26 8-20 5 14 17 1-13 18-24-1-16 11-15-33-18 9 5 29-3-8 3-20 0-23 2-22 6 3-16 1 13-39 10-11-9-8 9 0-6 4 19 1 8-25 10-8-11 5 0-11-1-6-19-9-13-11-14 11 7-14 1-2-9 7 21-4 11 3 0 12-12-5 2-7 19-7 3-2-1 9 1-4 10-10-4 3-8-2-20-5 3-3-10-25-10 15 16-7-8 1-13 7-5 14 6 1 13-2 1 4-4-5-9 13 0 42 18 4 15-9 28-24-4-8 22 11-8 3-28-9-1-8 14 34 13 1-20 4-10 4 36-2-14 8-3 14-3-7 4-4-14 16 26-18-4-18-12 16 4 5-33-9 5 9 10 16 5 13 3-15 2 19 9 1 9-7 5-2 0-9-21 12 13-16 14-25-14-5 26-24 13 7-24-7 2-9 3 6 0-5 4-28-9 17-25-2 6 12 7 20 8 2 7-4 1-31 14-3-4 16 15-21 21-8 4-6 7-7-3 0-20-12 11-12 2 9-5-21 15-4-12-10-2 7-17 7 34-3 9 2-13 0-16 16-14 9-5-3 16-6-9-24-6 14 18 3 6-18-8 26-7-32-24 5-1 17 14 13 3-14-11-17 1 5-7 13-1-4 5 19 9-12-2 3 4 1 0 18 5-5-8 2 1 13-10-15-19-1 4 12-28-5-10-22-9 3 1 8-3-1-15 8 2 0 5 1 10 9-12-2 10 9 19-2 12 1-7-2-26 10 9-7-11-7-6 23 8 6 4-8 4-13-13-7 18 20 7 0-6 5-35 25 0 7 11-15 17 3-19 25 7-21-16-27-7 29 14 4 1 13 16 10-3 25-13 5 8-9 2-24 3 10 26 22-14-14 0 6 9 23-1-7-3-3-10 20 27-38 10 7 1 16-2 36 15 4 2 15 0-6-12 22-24-9 14-16 3 14 16-12-8-3 7 11-3 18 7 8 20-39-18-6-20 17-8-4 25 6 9-9-9 21-3-29 1-4 3 8 24-6-5-21-9 17-19 26-9 2 7 0-7-20-5-6 12 19 3-28-16-4 4 0-20 6 8-5-14 7-7-5 13 5-7-23 1 10 12-1-25 19 0 11-8 6 0 13-13-2 21 13 0-7 7 9 37 13-25 4-16 0-3 17-3-19 2-4-11-18-12 13 19-14-9-7-17 11-10 13 26 9-3 6-10-1-5 3 0-9-17-6 15-1 12-14-4 8-16 5-14 2-13-23 12-5 14 6 0-22 10-30-6 28 7-4 7 0-3-19-1-22-9 18 20-33 20-8-14 4-22 14 5-25-9 10 16-6-8-23 17 17 17-2-1 0-30 17 8-19 14-4-16 9-19-4-10 15 24-22 0 14-13-4 0-10 10-16-11 1 11 6-11 11 7 2-3 11-22-35 7-11 5-8 8-4 5 11 9 0 8 8-13-25 5 3-7-2 10-8-10 6-12 7 0 16 3-1 29-6 11-12-27-2 0-18 4-11-8 9 11-8 31 2 9 8-4 3 19 1 27-23-4-2-4 3-29-18 0 7 19 22-8-14-6 13 0-12 4 7-11 15 9 11 9-22-1-8-14-6 9 15-7 26 15 11 14 9 10 35 0-13-7 16 10 3-12 14-3-11-6-10-32 17 14-17-13 5 19 16-7 5-13-13 16-13 1 7 1 12-5 11-4 1-7-21 11 7 15 28-29-11-30 25-10-14-4 5-15-6 12-7-6-11-6-17 7 3 18 24 20-21 4 8 10 5 18-5 9-15 30 2-5 17 15 14 2 11-12 8-5-4-6 9-16 8-18 5-4 5 2-9 2 2 7-7-8 9 28 13 12-12-13 6 9 0 2-4-10 4-36-6-2-4-20 20 5-5-2 9 0 9-11-5 25 32-11 0-8 19-3 0 13-24-6 4-4 8 29 11 13-19 6-18 5 8-5-6 12 2-31-21 11-6-3-4-11-10-1-8-15 6 8-15 13 11-9-17-22-6-2-4-1 12-8 15-14-15 8 7 5 19-13 6 11 11-23 2-6 14-16 24 1-2-8-24 16-5-2 8 13-5-1-9 0-6 7-15-4 4 6 13 12-2-32-4 16-33 6 11 6 7 36 7 0 6-1 2-5 4 20-16-1 10 1 0 21-15-1-5 23 9-13 5 12 4-12-14 8-3 2-21-10 4 1 5 27 4 4-6-13-24-6-12 4-1 9-2-2-6-12-26-16 27-27 13 28 6 14 4-24 5 2-2-2-18-19 5 26 14 15-5 14-15-24-20-7-11-10-16 14 0-9-1 7-8 9 2 8 13 6-20-21-15 5 30-1-31 10 5 13 8 8 10-25-3 4 12-18 4-15 12-7 21 14 11 27 11 8-23-4 3 5 8-10 10-3 25 20 0-17-20-18-25-10-23 6-13 0-35 17-30 5-5-5-5-1 7-7-7 12-7-15 10-14 2 10 1-10-12 7 3 4 5 7-24-17 28-9-5-8-6 24 6 5 17 44-11-16-9 22-6-8 15 13-2 18-19 4-10-10 12-24-6-1 5 18 5-6 1-7-7 6 6 6 4-10-12 31-4-10 0 5 3-2-4-10 13 0-16-8 9 5-6 3-11 2 1 8-1-14 1-3 7 20 21 4-16 3 14-20 12-2-9 11-11-30 10-17 6-7-13 10 20-2-6-10-3-14-3 3-1-11 9-5 23-16 3 24-2-3 15-16-19 6-10 9-8-9-1 9 13-27-10 11 1 30-13-6 4-10-10 2 9 29-2 2-13-1 9 7 17-14-2 41 18-13 4 4-7-8 6-6 26-2 22-51 5 6 6-8-6 7 18-9-12 12-9-8-8 4 9-12-11-19-13-8 15 7 2-11 0 0-14-2-9-6 17-8-11 29-4-5 5 1 29 14-18-2-1 21-2-14 12 15-15 16-4-16-14-12 8 11-6 4 1 13-17 5-5 4 28-10 15 2 14-28 11-10-6-14-6 2 4-2 20 17 16 15-23-12 20-6 12 6 3-17-22-16-14-5-4 22 9 31 7 14-4-11-4 18-29-1 2-6 15-14 0 12-3 28-4-8 34-6 11 10 6 8 7-14 5 9-14 7-28-22 1-24-5 12-16 1-11-9-3 12 13 10-18 3-1-9-21-37-3-15 13-15 1 1-7-5 8-2-9 18-16-15-2 21-6 1 2-16 2-7 9 10 7 4-4 11 2 19 13-8 7-17-3 28-5-9 10 6-28 8 10-4 13-1-4-2 1-10-10 15 5-29-2-14-5 19-13 9 18-2 34 9-10-6 13 13 13-14-22-12 10-8-2-4 9-10 15 5 13-13 9 22-50-7-21 0 11-18-7 25 14-4 3-1-11 20-23 30-10-10-23 18 2-22 1-7 3-7 14-9-5 19-11 17-8-17 4 42-16-1 38 29-16 24-13 5-13-14-16-2 8 17 6-12 1-12-16 5-5 9 3-15 3-8 10-11-9-14-7-14 1-27 13 36-20 30 4 2 9-15 26-3 16 9 3 16 14-18-33 5 0-12-6 12-5 12-12 5-12 1-12 0 6-18 4-22-5 21 4 14-7-12 3 3-5-10 8-6 4-6 10 11 14-15-3 8 3-14 5-14-7 8-17-2-3 12 20 13-13 11 24-1 6-23-14 9 10 18 0 7-8 27 2-15-9 15-1-12-14-13 4 0-9-10-4 14 18-9 21-12 1-6-9-2-6 6 7 6 27-2-10 15-11-11-22 20 0 4 8-17 12 27-24-26 10-25 10-5 22 2 13 8-8 2-18-11 1 17 0-13 22 7-3 7-16 1-4 3-20-9-14 2 12 22 2 5-16 18 9-8 6-14 24 2-9-12 6-1 22-20 10 1 18-10-8-19 0 23 1-18 17-17-8 1 29-7-28 6-1 1 4-15 14-8 39 7-15 1-4 0-6-11 4-3-3-24-26 14 19 2-5-8 0-3-24 33-11 17-20 8 34-17 30 9-21 6-18 14 10-1 7-24 0 7-11-10 0 2-10-3 13 25-9-12 3-17-6-9 7-6-8-3 10 17-2-4 8-9-3 6-12 9 10-10 21 37-11-3 13 4-15 13 13 2 6-7-1 2 41-3 16-33-3 0-9 19 5-14-18 17 7-5 25 15-1-12-6-10 4-25 10-1 21-11 1-4-20 30 9-15-9-5-13 10-4 2 18 1-21 10-4 3-5 27-38-2 26 8-7-1 7-7 4 1-17-18-24 19 11 7 0-16-1 18 5 0 12 2 8-8 34-15-24 18-4-3-7 3 31-15 7-1 5 3 9-7 13-15 23 10-7-21-5-8 31-11-5 1-13-9-6-10-1-26-1 7-28 20-14-6 10 2 2-13-6-4 2 1 9-12 14 9-2-5 32 3-7-6 12 26-20 8-9-10 9 22-1 9-7 2 8-24 14-13-10 21-21 1 9-18 2-2 16 3-16 6 16 12 35-20 5 20-6 10-2 7 3-4 1 9-26-6 16-8-10 3-13-6 6 13-14 19-23-9 12 2 5-1-4-12-9 1 14-3-3-20-13 1-12-11 6-1-1-2-20-9-2 2 17-5 7 16-13 3 18-1 20-2-12 15 24 4-13-6-21 15 27 12 3 3 1 8 7 8 2 12-11 16 6-1-7-10 20-9 10 7-8-8-9-15 1 19-19 3-8 3 16-8-14 5 6-18 0 14 20-7-14-10 20 0 4-35-7-26-19-3-34 10 7-24-9-5-15-2-13 13-16 18 7-21-4 6 21 6 11 0 17-19-15-4-16 3 13 17-13-9-10 4 1 4 31 13 3 4 27-6 19 15-1-4-5 8-1 1 21-19-5 16 3-5 8 18 9-15-3-4-16-5 19 5 6 15-5 0-6 11 7 5-5-3-8-3-10 7 3 7-13-1 6-5 2 13 9 10-4 6 2-19-19 27 6-8-22-3-14 25-23 12 16-15 17-10 35 7-15 2 2-20-14 15 12 9-9-4-7 0 16-5-8-2 4-8 23 13-1-11 1-2-14-13-26 19 15 14 8 16-19-7 18-12-40 0 21 10 0-1 19-19 3-8 3-9-5-13-23-12 7 17 11 10-7 15-1-1-13-13 7-2 8-17-27 10 5 5 21-1 35-21-9 5-1 23 1-5-2-13 18-3-8 14-6 3-4-20 1 1 9-13 12 1-30 5 7-6-13-15 22 8 5-28-33-4 11 17 15-2 3 10-2-9 6 4-12 14-13 11-13-13 10 4 24 15-1-18-12 3-12 9 12-26-24 4-1-18 15 2 7 9 2-19 1 4-10 18-27 19 20 11-9 9 13-13 8 23 12 16 10-4-9-24 13 14-9 2-3-7-1-2 14 5 3-1-5 8-22 10 11-10 1 19-8-18 21 3-9 11-11-19 19-13-14 2-9 7 17-10 0-3 9 8-33 14-23-4-11 2-2 8 12-27 19-3 14 12-11 22 8-6-2-17-12-19 7 3 18 17 0-11-7 15 1-12-2 12 11 21-23-22 13-7 0 12 5 11-28-8-13 9 0-3-9 15-20-12-12 13 23-7-8-4 22 3-44-10-3 10-10 1-9-6-25-8-2 15 17-26-30-2 8 3 10-2 7-14 7-3-22 5 27-3 12 22 0 11 18 19-18 6-28 3-8 3-2-13 3-8 8-8-20 10-3-9-17 9-12-4 15-15-21 14 0 15-5-6-1 4-15-2 11 21 1-4-9 15 4-28 4 3 5 6 3-20-17 24 3-3 2 18 6-9-16-1 11 8-3 7-8 1-3-12-2-17-12-13 24 15-11 4 10-7 3-26 5-23-24-3 23-23 22 2 0-9 9-21 3 12-2 5 25 34 10 5 5 35-14 2 5-21 18 25 2 4-8-4 19-12 9 13 9-2 12 13-18-2-21-6-15 3 16-33 0 11-13-25-6 12 5 21-12 6 12-5-10-9-23 6-22 12-6-7-4-14-6 36-4-15-3-13-11 13 8 18 6-17 2-20-24-13 5-10 15 23 10 0-2 6 24-6 14 10 4 7-6 3 4 4-17-13-17-6 24 19 2-25-7-13 16 0-1-5-5-20-6 15-1 18-7-7-17 8-19-11 7-34 5-16-8-5-11-1 25 26-9 4 8-7-2 4 7 5-16-15 14 12-36 1 6-6-10-4-5-18 19-1 3 5-6 2-3 1 3 24-13 9-1 16 22-9-6-13-11-9-2-4-2 10-3 26 0-14-1 1 8-14-1-3 1-12 2 1 0-13 11 11 3-12 13 7-7-7-13-12 19 1 23 15 10 22 3 1-8 8-16 15 6 0 25 15 8-2 17 10-14-5 1-5 8 8-13-3 8 3-18-11 22 18 7-13-3 6-6 10 5 6 0 1 11 1-4-1 1-10-11 6-14-11-8 4 21-10 25 25-6-1 22 0-17-4-1 10 5-2 35-26-8-2-27-6 22 22-5 1-5-19 22 13-24-9-34-7-8 12-7-20-6-10 12 19 15-9 1-3-3-8 15 3 10 19 7 5 3-19-6-9-9-23 3 18 3-7-9 24-8-4 6 8 12-14 15 12 10-11-4-36-7-19 9 16 6 9 2-28 9-11-2-2-2-16-1 8 19 15 8 20-1 13-14 12 0 0-26-13 10 16 19 7 16-28 4-1 7 16-8 23 9-24 21 10-3-18-3-8-32 10-11 10 9 3-3 1-3-17-3 16-5-16 24 10-4-10 28-19-18 0 3 5 3-28-4 13 22 23 2 5 9-7 15 11-5-8-3-12-2-39-19-5 6 5-11 13-18 10 18 7 5-6-23 12-5-1 13 18 8-9 7 14-25 0 15 20 15 8 8-23 2-8-21 6-18 0 5-15-4-11-12 18 17 6 11-4 19-9-7 6-20 10 1 8-29 28-7 2-6 10-5-5-6 5-2 8 4-15-23-1 34 15 11 4 15-14 18 1-3 8-9-18 4 4-17 14-3-12-7-11 5-7-12-19-1-5 17 3 5-10 1 7 2-3-16-17-7 4-29-10-4-6 22 16-34 13-13 10-17-6-21 13 28 12 31 6-1-25-15-4 33-16 1 10 38 22-4 11-9 11-7-5 15-6-12 12-1 0-2-8 8 5 10-8 14 7-3-1-5 0-3 7 17 1-5 1 3-3 4-15-4-18 22 4-20-14 7-8-10 13 11 17 5-25 5-16-16 6-23-18-4-7 12 2 13-13-12 5-19-21 19 4-2-4 11 13-18 17 10-12-16-1-7 2 4 22-7-18 0-2 15-15 17 18-12 3 18-3-6-3-11 14 34 1 0-18-7-1-13 7 6 6 10-5 7 13 16-5-21 2-12 20 12 5 15 6-5 16-5-9-14-6 4-15 0 1 19 22 11-12-1 6-7-11 6-1 0 8 5-11-11 15-12-17 3 14-2-1-6 6-24-7-17-22 6-13-17 6-11 21 13 3-10-4 11 10 20 1-14 10 2 6-29 10-8-7-29-4-20 16 6 6-11 6 6-20 0 7-13-15-7 11 2 2-10 3-14 5-16 19 0 2 0-35-17-17-17 2 2-12-2-3 19-35 35 2 11 33 17 17 20-25 15-26 20 24 19-4 9 0-3-19-14 10-9 23-19-15 7 32-34 0-9-19 1-18 1 20-7-26 15 12 16-6 2-4-4 17 3 15-4 2-5 9 30 31-14 7-31 0-19 14-12 2-10-20 12 15 34-15 9 12 23-29-5-15 2 2 0 22 7 17-12 3-12 14-3 2 16-17-10-4-2 13-7-1-3 3 4-5 1 12-15-6-24-10 9 14-5-17-8 5-6 9 4 5-18-2-23-11-5-14 7 11 15 22 2 10 25-6-11-7-4-3 1-6 2-14-24-1 19 8-2 6-6-21 5 15-2 5-9-10-6 23 7 3-16-16-6 7-7-16-18-2 11 30 15-12-14-10-15-12 17 22 3-6 7 15-27-7 4 14-6-17 8 19-9 15 0-8-10-15-3 3 16-9-8-9 14 8 18-8-19 8 8-32 4-13 1 6-25-20 14 23-2 14 16-10 0 18 6 7 17 6 19-1-8-9 5 11-18-2 14 1 6 3-10 2 15 2-1-1-11-1-5-8 17-15-11-6-4-5 17 2-10 1-6 8 22-21 16 11 7-2-22-6 15-1-20-28-9 1-14-6 0 4-8 1-11 1-17 13 18 4 16-16-10 25 1 4 28 5 7-1 11-7-13-5-5 9 28-9-6 24-6 8-1-5 17 14-18-4 0 0 6 3 1 0-8-4-18 3-17 13-11 2 4-8-3-22-17 4 2 23 14-2-3-10 2 8 14-10-9-7 10-7-3-5-2-19 1 6 2-18 1 7 17-11 2 8-16-1 11-9-9-5 4-10-8"/><path d="M1097 288l-9-2 9-23-9 2 3 3 5 7 31-26-4-13-10 6 21-26-12 11-5 3 14 2 13-13-3 10-10-8-8-4 29-7 6-13 1 11 19-5 12 9 2 0-14 17-18 28-16 26-24-26-1 11-14 14-2-21-11-16-10 17-15 2 8 0-2 15 5 11 7-20 2 3-1-4 2-13-24 24 1 31 1 9 24-2 17 4 9-16-37-4-16 18-1 0 9 11 12-11 5-1 3-7-2 13-7 24-6-13 14 10 11 2-5 3 4-3-13-9 19 7-12 10-5 5-21 3-17-11-1-1 7-19 15 12 19-9-26 12 15 10-2 1 18-9-6 9-3-4-16-14-1 12 8 21 13-12 1-12-4 3 24-9-5 7-13 3-21 15 4-14-10 10 0 10 7-9 1-13-1-4-7-1 16-18 17 3-10 7-5-25-2-4-9-8-19 34-5 12-1 0 7-28 12-32-3-1 4 2-4-20 26-22-13-8-5 5 22 8-10-4 3-1 23-14-21 14-3 0-2-9 2-13-2 7 8 23 17 29 7-21-6 3-14-8-10-5-4 5 1-13-21-14-8 7 0-4 9 11 20 15-10 26 13 17 3 10 8-4-1-17 1 2 15-5-5-3 16 7 9-2-4 4 2-5 0 12-9-1-8 20-7 10-16-12 5 4-12 13-3-18-2 17 19-12 12-11 7-1 3 2 20 3 4-23-10 12 3 5-31-8 12 20-11-16-5 1 2-11-7 36-16 14-22 9 6-12 6-2-2-13 7 12 33-15-20 5-2-6-4-6-12-8-2 3-8 1 13-1-22 11 5 22-6 22 9 5 24-12-29-15-6-3 6-16 25 14 9 2 8-3 0-1-7 1-7-14-20-4 9 22 14-1-14-1 11-20 13 9-25-18 5-2 12 3 18 3 3-22-9-17-4 4 23-25 10-9 2 3 3-6 0-7 6-14 11 11 2-1 9-21 5-7 7 5-18 20 12-6-13-8 8-10-6-19-17 6-15 14-11-14-3-11-14 27-6 10 27-2-7-6-2-2 5 9-17 4-5 3-33 24 28 36-8 3-8-4-4 10 4 2-5-6 18-29-24-10-6 18-6-7 13-1-7-12 6-10 0 22 6-2 7-11-7 2 12 2 14 1-18 4 11-18-25-1 14-13 17 10 23-24-16-7 7-18 17 0 5-11 0 5 22-7 32 6 2-12-12 1 9 25 11-6-6-25-31-2 3 11-30 13 9-7-8-19 13 11 15 7 7-9-12-5 10 11 5-11 17-5-4 22 21 1-20-7-9 35-9-1 1-18 9 13 1-1-20 10-5-11 4 17 16-2 9-9-7 24 5 0 22-12-6 2-5-5-25 11-57-11-16 30-2 0-15 12 13 4 16 8-5 3 18-10 20 8 4 6-3-28-15 27 14-19-5 1-31 10-6-1-7 10 10-10-9-2-6-7 12 16 5 18-1-11 2 14 30 0 3 7-7-9-6-30 18-12-2-12-9 9-21-23 28 7 2 3 16-18 35 1 9-19-10 2 2 16-21 0-20 15-11 3 9 6 0-7 5 20 6 15-18-1-9-6-3 18 9 37-19-15 0-19-3-4 25-9 5 5 23-3-23-16 19-8-1 1 15-25 7-19 0 6-9-16-5-9-3-18 14 7 15-9-2 25 7 19-5-1-8 5-5 9-6-3-2-3 1 10-12 7-14 7-6 3-32 2-1 9-7 2-13-10 22 0-11-1-18-1 2 4-11-4-8 16-6 24 2-24 4 28-2 0 7 7 6-26-1-6 20-15 4 17-9 19 2-15-4-2 1 9 0-6 23-4 5-21 4 3 26 7-9-3-15 23 13-10 5 13 5-7 10 3 1 4-5-8 15-17 10-23 1-14 14 5 6 3-15-4 2-12 20-19-27-1-6 4-1 24-4-7-1 3-1-26-10 5-5 2-3 16-12 9 9-17 2 2 7 8 4-1-1 16 11-6 10-11 2-17 7 8-16-4 24-17 4 9-28 26-2 19 0-7 19-7-5-5 15 3 3-4 2 4-1-17 10 6-10 5-14-1 2 8-6-11 7 23-5 5 0-10-8 12 10-21-9-5-9 21-16-3 9-12 0 1-12-2-2 2 14-3 10 14-10 9 3 8-7-9 5 13-7-2-5 1 2-8-20 5-5-13 1-2 0-5-24-15-18 20 9 8 5-8 19-2-17-21 15-5-7 12 13 24 11-20 11 10-2-8-7 10 5 4-4 13 8-6-19-10 8 1-17 7-9 10-6-1 19-22 8-6-11-4 17 5 1-22-26-1-15-2 2-4-5 8 3 2 15 8-16 22 38 6-6-3 12 2-13-6-2-10-4-33-12 4-15 8 17-4-7 22 1 12 15 3-2 1-7-17-13-5 13 16-9-4 9-24 8 7 9 11-8 5-6-5-9 10 4 10-12 21 11-22-29-14-2 1 25 23 2-28-9 7-12-11-8-9 0 8-10 10 9 2 20-4 7-2-7 15-12 5 1 27 4-8-14 2-4-4 27-16-18 7-16 12 18 9-11-29 15-4 2 9-14-5-10 11 9-14 16-15-20 25-4-12 18-18 12-17 7 18-12-3 15 6-6 29-8-1 16-19-1 16-9-36 6 6 9-13 5-25 2 13-2 5 7-14-22 13 6 14 11-1 3-15-9 1-2-12 18 13 19 3-15 16 8 23-20-14 19-4-2-15 1 11 9-19-8-3-33-2-7-7-10 14 5 8-10 16 5 8-15-17-1 3 3 0 22 21-18 20 13-8-8-3-16 14-7 6 24-20-27 4 14 23 6-6 0 17 4-35 6 9 16 6 12 24-10 27-24 16 6-23 4 28 2-7 16-10 7 5-9-3 1-26-2-22 1-9-12-3 6-8 6-5-1 2-8-13 8-1 2 6 9-2-10-15-50 28 15 4 9-13-10 4-3 7-1-4 15 2 3-7 7-21 4-21 17 31 10-12 0 2-8-9-14-8-13 7 8-11-12-15 13 2 5 0-13 26 25-11 7 7 14 25 32-2 20-11-9 14-4 1-9-4-4 6 3-3-14-14-8 9 21-13-21 16 6 4 18 10 12 0-20 4 11 13 7-17-16-9 8 3 0-13-10 0 11-25-15 4 14-6-14-10 6-29-6 17-14 23 0 6 4 2 2-7-15-2 3-5-9 1-6 17-5 7 3 4 4 3 12 23 9-25-18-18-18-15-37 19-9 23 23 15-5-4 13 18 12 8 13 13-1 11-9-7 16 1-14-18 12 18-14-13-20 21-8-36 10 1-10 9 6-3-3-10 5-20-12-16-14 25-6-16 3-1 5 10 15-15 14-8 9-21-15 1 34 37 16 10-6-7 6-9-11 45 20 17-9-10 0 6-15-8-2-4 0 12 0-9 11-4-3 19-7-21-6-30 11 7 9-9 11-2-7 8-2 24-13-30 6-15 17-15 17-26 2-1-28-12 7 17-10-14-29 23-11-9 3-4 16 9 13-31 26-4 0 10-16 14 5-6 20 11-8 18-11 30 13 10 6 8 1-22-1 11-9-15-12 24-14 3-12-7 19 7 4 0 7 3 0-4-23-7-1 7-7-5-14 11 3 3 0-35-13-8-7-24-1 1-7 44-4-8 12-6 20-6 10-16 15-14 7 9 29-1 31-8-14 11-23-12 32-4-16 13 0-13-1 4 27-9 5-1 5 13 10 5 6-10-24 3-2-5 25-3 3-4-31 3-12 3-2-9 16 1 11-10-12 8 1 24 0-23 0-21-14 0-7-1-6 17 9-13 6 13 14-1 14-2-15-9-11 10 7 3 4 20 0-16 13 3-25-3-15-7 13-13-14 3 10 2 7 12 3 3-20-24-5 17-7-5 12-15 6 4 1 25 13 3 9 5 8 12-13 12 18 0-11-11-9 18-16 13 17-16-31 5-8 18-7-12-1-3-16-19-1-13-6-14-3 21-3-11 14-16 0 4 14 13 25 3 7 5 13 16-2-1-24 4 27-11 6 0 18-11 9-10 5 3 2 10-5 10-26-20 19-10-20 0 6-1-1-14 8 5 17 19-30 24-18 15-8-18-20-16 11 6-4-12 25 3-13-8 16-3 9-3 1 4 14-5-4-10-19-4-6-10 0 30-4-5-20 17-20-8 4-15 0 20-4-3 2 4 17-15-13 17-8 5-16-14-2-10 17-3-17 13 1-8-4 3 1-11 10-7 5 0 21 20 2 1-3 6-1 5-9-22-1 4 3 14 1 5-9-6-11 2 11-8 15 3 16 2 13 24-14-32-7-4 10-8 4 0-27-5-7 11 5-2 16-7 8 3-15 8 14 7 21 11-1-10-22 2 8-12-28-2-17 1 23 9 15-1 5 1-15 9 7 0-7 5 20 1 22 19 5-14-3 2-17-39-2 15 2-4 20-16-5 6-19-9-2 2 18-5-9-7 4 13-5 18 3 3-2 10 2 8-10 3-34-4 21-16-15-12 24 8-1 16 11-19 11 31-13-1 37-9-5-20-2 3-8 1 4 11-4-17 4-9 5 3 9 13-7 17-23 19-35 5 0-3 4 0-14 2 12-7-18-3-17 16-3 10-27 14-1-45 20 0 10 13-1-33-14-3 10-6 27 5 12-16-4 17 2-3 15 4 11 13-4-5-2-6 0-20 6 26-10-3 8 13 9 10-3 2 5 10 4-7 6-3-1-2-4-3 6-21-11-10 0-4 3 6-16 24 13-23 21 11-17-37 13 3-14 11 26 6 1-4-12-3-14 6-28-5-6-2 3-1-25 5-7-13-9 2 15 44-46 2 10 6 0 13 11-15-1 9 0 9-17 27 6 21-27 18 2-13 5 25-8 13-8 14-18 16-1 0 18-22 8-12 9-19-5 10 1-9 13 8 9 3 1 22-4 5 21-1 2 4-14-17 6-1-9 5 7 2 16-8-10-24 10-10-9 7 20 8-5 3 1 1 15-5-8-1 18-7-3-12-6 3-3 1 2-8-18 17 7-24 3-5-22 8-6-8 7-3-10 7-3-5-6-10-7-17 21-24-13 22 5-12 12 30 20 23 19-10 4-26 1-11-10-5 20-8 8 19 3 5-13-1-2 7 1-12-13 7-9-4-13-28-2 16 2-20 7 3 2 8 3-13 0-6 0-8-10 9-4-10-20 8 11-2 7-5 9 0 20-2-3-3 9-8 10-4-1-5 11-7 14 3 8 26 1-6-14 12 1-20-24 6-13-17-9 17 4 13-13-38-11 0 27 1-12 2 9-1 15 1-24-13 19 6-9 19 3-2 15-4-5-3 35-1-2 17 12 12-21 2 27 4 9-8-5 13-21 11-4-1-22 23 4 7-5 9-26 9-3 11-8 17-18 14 27-31-27 6-19 5-27 1 4 12 7 7-2-4 12-6 19 1 22 5-15-19 5-3 2-4 5-9 12-2-4 26 8 11 6-27-3 6-11-19 5 9-13-9 15 18-3-7 6-17-11 27 14 16 9-23-11-10 11-29-26-12 3 14-28 13 4 20-29 6-10-14 3-12-13 19 8 19 12 8-14 5 9-26-10-15-13-6 24 15 13-11 0-7 7 5-2 5 13-2-14-26-5-3-3 28 14-8 25 10 12 15-9-2 3 1-20 13-30 3-11-11-15-18 1 20 3 31 1 16 18-2-13-7 14-8-7 15-1 10 43 7-13-3-8 4-17-2-1 8-2 18-13 6 1 8 3-17-11 1-6 4-23 7 8-17 20-2 0 20 1 1-3-32 0 19 19-4 5-14-7 18 19 4-15 6 15-7-11 5-9-7-12 6-5 8 3-7 11-3 2-15 2-8-4 15-9 25 1 3-30 8 4-1 9 11-20-6-19 10 18-20 8 8-20-14-3-9-3 8-1 10 19-21 14 11 1-1-4-16-7 28 3 16 3-15 1 4 0-6-6-15 14-3 1 21-11-8 2 6-2-17 1 3 3 10 5 5 3-2 0-21-3 6-11 6 26 0-3-9-14 4 1-12-12 1 13 13-25 21 16-1 11-12-15-11-18 14 0 6 4-6 1 1 3-2-1-21 6 26-11-3 4 16 16-10-23 9 13-10 28-23 16 4-8 6-7-11-11-8-20 18 9 6-5 8 0-14-4 10-2 0-2-21 25 4 7-15 1 0-6-2-21 10 14 29 3-12 0-13-5 7-4-12-6-3-18 16 19 0 12-8 31-30 0-6 1 13 23-11 0-8-10-16 7 12 16 1-12 1-12 11 0 14 9 3 0 10-19-15 10 3 19-13-2 6-13-16-2 27-6 2 5 7-14 1-17 5-5-6 6 15 13-16-5 10-16 7 4 7 11-13 1-8-2-7 10-10 14-4-10 1 4 5 11-7-14-34-5 17-12-1 14-7 4 26-3-10 13 2 31 3 5-7-7-26-23 5-11-23 10 5-17 21 2-5-6 13 15 20-17-23-2 6-10 11 3 22-7 18 0 6 4-11-4 0 6-28-3 19 11 9-13-14 24 5 14-4-17 11-15 3 20-28 31-2-14-19-30 5-4 1 11-2-19 3 22 0 3-12-16 10 5-4-5 24 29-1-22-4 16-2-12-30 0-38 13-5-19 7-3 13-8 29-5 16-3-5-3 1-22 23-10 12 2-1-8 11 1 15 23-3 23-19 14-13-14 2 4-7 1 7-16 21 5-22-4-3 9-10 9-12 4 6 3-26 11 9 3 9 2 11-5-21 18 2-2 24-29 7 10-32 9-9 16 14-18 25-26 6-7-13-1-14 21-2-7 21-8-6-7 3 12 10-10 8-9 6-5-3 5 6 5-8 16-13 16-4 18-12 5 0 2-2 3-3 1 13-2-6-2-7-11 13-10 6 17-9-24 7 7-8 8 7-6-20 5-30 0 7 5-14 19 0 14 0 14 18-18-2-4-1 0 17-8-3-3-10 22 4-6 3 3 3-7-13 5 7 18-27-5 3 13-20-22 24-8-16-20 2 21-32-12 0 8 30-24 11-2-10-3-2-9 4 10-13 5-22-1-12-4 10 23-8 1 26 32 4 9-6 4-8 1-7-15 2-7 1-8-2-11 4 22-5 8-10 17-6-8 24-24 17-9 5-12 0 7 19-38 3 8 3-16 4-2 26-8-16 14 2-4-11-5-6 2-1 29-13-8 8 19-10 3-9 19-11 10 10 27-21-1-20-16 2-3-6 28 6 3-11 10-3-16 2-24-2 6-11 12 6-5 9 1 16-7 1-13-10 3-6 27-22 14-5-1 3 4-3-12-17-5 4 14 3 0-3-18 4 6-4-13 2 4-11 16 18-3 2-20-6 8-19-9-9 15 1 18 8 9 4 7 7-3 21-2 0 3-14 1-7-18-15 17 7-10 11-6-22-16 5-13 11-4-17-1 17 15 5 0-5-29 14 26-18 1 1 15 6 30 18 2-7 10-9-8 5-10 1-16-12-2 18-15 9 1 23 1-1-4 6-5 2-12-5-34 0-2-18-19 15-7-9-1 7-4 1-12-8 4-5 2 1 22 3 3 22 7 17 29 25-11-25 0 19-15-4 11-15-21-10 20 12-20 15 1-1-29-3 4 6-4 4 20 7-8 11 20 10 8 19 5-5-3-20-12 15-9-36-5 24 33-7-17 27 1-7-16 11 0-7-8 7-7-19 8 3-3 16 11 16-1 11-8 10-10-1-5 5-3 3-22 6-13-6-6-14-15 25 10 14-13-10 6 1 7 10 7-33 15-22-7 6 14 4 3-11 2-8 6-3 5-8-2 14 3 0-4-19-2-10 0-14 5-9-5-22 18-3 18-8 0 21-7 16 21 18 6-49 0 13-14-8-7-4-17 9-12 9 12-12 10-15-12 12-10-6 6-23 5-12 22-14-5-2 5-6 11-9-34 7 5 17-21 26-3-4-10 16 5-22 7 22 5 12-2-7-2-15 17-7-23 1 10 2-3 4 18-2-18-8 8 7 27-4-14-39 31 3-19-9 26 19-8 24-15 8 1-16 8-7-13 16 14-11 10 4 7-10 21 17-11 11-13-4-2 13 3 9 29-3-14-19-21-19 17 1-14-14-9-12 17-14-14-7 17-4 0 11-5-14-4 7-7 4-29 8 16 14 17-16 7 9 1 1-16-15-8 3 5 5 2 15-16-6-9 0-2 10 29-5-15-9 40-12 12 38-8 4-9-14-9 6-16-11-8 8 8 15-34 6 19 42-8-25-11-19-7 23 5-22 7 26 16 7 14 15-23-10 7 5 7-1-21-9 12-21-4-6-4-1-15-27-11 3 0-1-1 9 1 7 8 20 9 16 2 11-4 18 3-15-8 12 26 4 8-4 4-12-1-4 13 9-30-8-23 2 13 12-8 7 36-4 15-4 3-4-5 7 18-10 6 4-11 12 3 1-10-5-3 14 2 9 4-6-14 13-7-16 4-5 7 7 7 2-11-7 13 2 7 0-26-4 5 8 13 9-17-13-6-10-10 6-9-21-22 16 27-18-20 28-3-2-3 14 11 3-12-12-3 17-3 3 11 11-3 36 7 0 1-9-6-14 5 0 8-11-10-11-11 9 15-8 8-9 8 33-18 4-1-20 10 9 9 5 29-27 3-9-35-10 10-2-17 6 10 1-12 4 15-16 1-8-13-11 3-7-5 24 18 7 8 3-9-7 18 8-3-30 8-20-9-6 3-13 11 2-18 4 6 38-4 12-4-2 1 5 7-15-22 20 13-10 19-7 8-17-3-8-17-5-8-5 29 1 11 3 13-5-12-19-18-10 14 8-8-24 2 18-31-18 2 5 21-4 7 6 6 8-5-5 8-3-28-22 11-1-12-13-2 14 0 7-27 7 7-9 19 1-23-5-4 10-2-1-6 32-5 7 12 4-9-18 11-5-1-10-1-6 31 10 0 13-13-8-29-15 10 11 40 16 19 31-8-7-4 6 8-4 10 15-6 11 4 0-10-4-4 1 24-4-3-6 6-21-21 22-19-5 7-11 26-7-14 6 12-3-28-6 5-3-7-31-22 19-19 21-12 16 4-12-11-13-3-4 18 5 27-1-2-1-4-19-5-22 13 14 6-7 8 12 0 1-15 18 4 25 0 19 8 4 12-7 5-8-7-10-21 21-1 22-8 21 8 9-21-2 11 9 8 1-9-17-2-23-25-11 20-9 4-11 23 8-10-17-18-3 7 7-20 9-2-3-9-3 0 24 12-10 9 18-10 13 4-5-3 18 9-7 19 10 3 1 12 1 7-16-10-3 11 13-26 8-9 0 13-18-7 7 10 8 5-11 11 2-1-8-3 19-19-3-1 8-25-1 26-25-9-1 22-10 31-16-2-16-23 2 5 18-18 11 17 11 12-4 13-6-5-1-19-7-4 0-34 6 11 20 21-16 7-6-8-3-19-17-13 9 17 8 12-10 12 0 11-2-3-25 22 3-15 18 11 1-4 10-8 3 11 3 3-2-9 1 0 1-12 13 9 0-24-29 2 2-10-14-1-14-16 0 9-13-2-11 0-6 26 7-15-17 24-1-2-3-6 1 13 10 3-15 16-8 4-16 19-11 17 0 1 33 17-8-5-10 13-10-2 13-5-6 12-8-17 11 3-11 12 9 0 5 5 2-8-34 9 12-6 0 4 1 1 9-4 3-8 11-12-17 8 15-2 2 2-12 1 19-7-15-4 10-20 8 0-5 6-21-5-23 12 15-8-9-17 40 12 16-4 26-8-21 17 10-9-8 20 6 13-28 7-7 9-24 2 3-1-1-12 4-14 7 7-1-12 8-3-9 12-4-1-13-1-13 0 22 20 0-4 6-5-8-2 21-4-12 3-1 8 2-1-14-13 23 2 8-7 3-4-17 10-12-4 4-4 14 0 16-21-5-6-31 15 17-2-21-3 1-13 3 12 9 9 0 7-13-16 23 0 14 4 2 6-13-2 0-12-31-1 6 6 13 16-13-5 26 22 2-6-1 17-2-9-4-18 2-7-22-3-2 1-9-16 0-5 23-16-15 16 28 4 2-16-16-15-6 2-12 6 8-8-4 26-2-9-4 8 9-9-5 2 35-10-15 7 2-13 3 2 9-9 1-19-3 1 0 8 22-33 3 16-39 34-16-26 17 8 30 9 6 6-26-10 5-29-6 1 31-4 14 7-2-6 15 11 2-17 2-15-22 1-1-11 6 12-5 0 2 0 19 10-5 1 24 2-7 10-17-1 11 12 19 9-14 17-11-31-3-13-17 9 2-9-11 36-7-2 2-7-2-15 18 1-13-7-9 9 8-3 5-7 20 7 9 17 14 6-9 10-13 15-21 7-15-11 20 11 7 11 22-4-21 5-6 5 3 0-4-4 9-34 20 8-1 8-9-6 11 9 4-23 22-34 13-13 12-6-33 7-15-7-23 2-3 20-1 1-17 7 8 25 32 2-22 30-4-13 17 9-2-7-12 4 4 2-25-9-14 10-3 11 4 6 8 1-8-4-17 16 4 8-17 4 0-7 7-22 4 4 19-14 5-4 20-12 11 8 28 8-14-7 16-8-15-2 8-17-18-5-13 12 3-15-1 8-10 12 16-6-20 22 15 3 3 10-6-37 15-12-10 6 5 21-21 5 19-18 1-5 1 6 26-17 15-16 25 20 8-13-12-5-20-5 17 12-3 20-12-24-13-8 10-10 1 2 36-4-21 1 1 1 21 27-9 2-24-8-12-10-26-10 12-8 5 8 32-6-10 7 29-24-15 3 10 20-10-5 4 11 26-12-9 8-14-21 3 15 7-9-9 2 2 10-6 28-13-3-1 2-17 4-2-22-5 0 7 40 10-20 12-7-3-3 3-6-5 5-8 12-1-21 10-18-3-24 19 9-12-7-9 1 1 26-5-3 1 2-3 1 22 27-6-9 10 9-10-18-6 24 3-3 3-7-5-1-19 21 11-44-6-27-18 10 26-2 14-10 7-8 14 25 11-5 11-4-42-8 22 11 7 2-54 4-8-7-21 5-11 21 10-3-1-23-9-7 1-1-11 3 13 1-18 16 37 5 1 15-11 7-6 12 0-12 0 11-1 24 18-13-12-3 8 30 8 3-36 7 10-25 34 1 21-9-14 2 28-19 5-23-6-16-19 8 8 0 10 0-13 8-8 4 1 33 8 7 2 4-5-13-3 15-15 7 4 3-16-9-17 12 12 2-23-15 13 1-9 1-3-22-1-22-24-16-11 4 29 8 13 7-12 9-33-12-7 2 0 8-9 10-5 6 15 8-3 17 14-29 1 9-6 30-19 4-6 10 16 1 2 16-10-24-13-10-8 6 6-13 2 12 1-12 9-33-4 5 16 2 9 7 3-17-15-7 1 12-9 10 11-8-10 8 12 18-7 18 2 2 3-20 6-8-16-8 3-9-8-4 7-13 3 3 4 23-17-14 7 16-8 15 8-14 8 0 5 8-12 0 6 7-3-20-11 20 9 7-5 1-5-11 14-10 8-9-4 16 6 1-1-13-11-6 38-15 36-8-2-7 11-19 3 29 0 1 3-21 1-3 19-7-1 8 18-1 3 5 8 10-6-3-5-1 16 20-11-14-12-6-3-6-2 3-4 1 7 6 16 10-12 16-1 3-7-24 9 20 9-17-4 11 0 6 3-5-2-12-5-4-1 10 10-2-7 20-11-10-7-22 2 21 1 11 19-45 28-11 12-15 4-6-34 19-7 6 16 26 7-15-4-2-1-11-16-8 23-2 0 8 2-4 12-13-19-6 5 5 1 27 5-28 3 5-6 27-4-14-24-2 16-17-1 0 5 18 5 31-14-2 9 6-22-2-3-7-7 4-1 3 10-19 7 2 4 23-4-11 7-26-9-3-14 32-6 8 10-9-6 22 13 0-15-8-12 1 12 5 9 2-12-25-7 10 7-2-17-7-6-13 2-11-28 9 12-13 25-8-9 6-21 12-12-8-14-10 23-7 15 0-16-5 8 8-16 6-17 10-12 1-2-5 4-12 7-7 11 10-5-5 21 26 10-38-29 7-15-1-1-2 5 6-5-8 9 15 7 1-10 17-10 5-9 11 11 0 19-26 19 11 6 12-6 1 16 6-7 11-3 6 1 1 1-1-16-10-9 11-1-25-2 11-9 12 24 28 5-17 4 13 11 4-5-24-10-2 4-13-16-3 25-1-17-11 30 1-23-7 7 23-7 9-17-13-13 6 11 29 11 4-36 15 13-2-6-2 7 4 10 2 21-1-17-34 3-5 2-19 29-19-7-1-3 2-18 1-6 12-29 1-9 9 1 11-20 9 1-2 1 5 12 1 0 29-12 6 1-23-9 5-1 18-3-2 9 0 14-15 6 2 4-30 17-2-18-27 37 13-5 4-1 7 15-20-16-21 8 9-11-4 13 0-10 8-2-5 6 1-14-2-7-6 3-9 29 27-8-1-10-4 10-1-8-9-11-3-8 6-12 0 29-2 0-12 21 24 4-6 0 7-17 9-7-5 18-27 2 8-6-13-9 8-4 2 23 19 7 20 1-7-5-24-22 4 23 17-1-2 1-11-7-7-7 14-8 11 2 26 17-16 2 7 7-13 0-4 20-33-21-6 9 35 2-19-15 14-1-3 9-10 9 10-8-3 4-7 14 19 0 16 1 9 25 3-6-10-7-10-22 19-10-24-17 8-3 3 4-25-4 3-27 3 51 10-6-1-20 15-1-14-2 8-6 10-15 5 11-9 11-9 7-21-16 11-18 12 20 7 29-6-7-4-5-2 12 7-13-5-7-7-14-12-6-14 14 14 8 17-6-12 11 24 0 0-25-6 3-3-5 33 26-3-13 13-12 12-9-3 7 17-30 11 0 26-13-20 13 4-1-18 2 13 5-12-1 11 5-3-6 0-2 9 15-10 8-8 4-11-3 1-4-13 4 16-1-9-9 13 6 16-16-8 2 14-20-11-3 11-6-12 14-1-1-15 4-16 6-9 23-10-10-11 23 18 30 4 4-21 7 15-20 2-2-14-3-10 6-26-8 13 8-6 13 4-3 10 5-12-5 11 15 4 22-5-8-1-10 1-17-14-10 18 15-11-5-4-26-8 13 3-15-7 20-14-7-20-24 9 6-16-8 3-8 17-8 3-10-19 24 5 10 3 1 10-4 6-8-10-5 26-21-17 4 17 10-4 11 3-6 40-15 4-7-1 0-36 14 3 18 18-8-19-6 22-7 17-12-11 8-1-10 6 10-17-14-16 12 20 2-5-19 27-13 1 0-13 5 13 34 22-8-14 0-23-7-3-5-10-7 23 13 2 39 12 22 2 4-16 2-19 10 12-25-22-18-5-14-15 9-4 7 3 5 9 6-1 21 6-21-11 15-10-11-21-8 11 0-6 8-7 7 4-2-4-4-9-6-5 8 14-8-2 4 12 26 6 0-16 7 5 25 15-5-5-13-17-4 7-7 19 0 31-19 5-20-10-22 12-3-4 4-5-7-7 12-7-19-21 4 15-10 16-9 1-4 20 20-1-15 3 2 7-17-3 11 14 10-9-16 15-14-3 12 12-3-31 28 20-21-1 2-2 8-13 0 1-8 21 15 10-6 9-11 13 24-9 1 3 7 0-36 12 15-21-13 16 14-16-7 10 6 4 13-35 17 6-2-6-28-4 21 6 11 9 8-6-26-3 17 12-6 10 8-34 6-9-23-13 26 13 4 31-2 2 13-21-5 21-11 3 4 4 3 0-7-5 7 1-13-1-1 24-16-24 3-20 20-4 0-1 6 12 11 1-21-1 9-6 13 10-17-7 9 11 18-16-21-12-2 13 1-2 3-29 1-2 7-8-4 24 5 16-14-13 7-14-20 6-7-27-18 13 8 22 36-10-6-13 21 1 6 3-4-42 3 2 9 26 22 14-5-23 11 2 7 24-6 6-10 8-6 8-27-19 8-8-10 6 24-7-4-18-1-7 4-2-5 11-4-41 19 6 11 2 9-5-6-3 4-10-18-4-17 15-19 6 0 4 9 6-13-29 3 6 19-4-20 14-7 4 3-12-29 11 10 12-5 15-3-7-8 17 23 11-2-5-5 14-4 0-22-4 6-14-10 24 1-7 3 11 0-7 43-28-12 2 10-12 15 4 5 7-4-6 16-26-8-12-8 9 11 18-8-18 15-8-19-2 29-10-29-2-5 21-12-13-5 9 10 19-13 23 5 4-11-5-17-5 24 5 1 6-15-6 21 3-2-27 7 33-18 26-3-10-27-24 11 24 8 20 16-2 7-5 12 12 5-21 15 16-18-13 6-8-15-14-6 12-6 30 5 15-4 2 16-11-37 24-7 4-3 9 8 5-16-1-6 12-2-28 26 2-9-12-10-8-6-1-8-6 23 17 15 19-9-18 5-17-3-15-7 1 12 25 10 4 1 10-1-7-31-9 28 14 8-14 8-2-10 1 14-1 6-6-2-32-12-15 29 10-6 0-9 3 14 6-13 11 28 3-3-2-4-12-5-15 12-19-25-3-3-7 20-4 22-9 16-13-4-2 6 5 4 9-6-17 6 30-4 12 4 10 2 0 7 8-3-16 7-7-2 1 11-15 5 2 0-12-7-2-3-5 0 10 23-16 5-9 7 12-9 1 6-9 11 13-5 2 5 20-31 8-4 3 10 6-9 16-17-10 4-6-17-42 15 2 0 8-4-12 24-11 19-20 9-7 23 16 11-14-13-28 9 5-5 1-3 13-30-6 9-8 33 12-20-9 7-13 13 17 8-1-12 18-18 1 9-4 10 21-27-13-9-12 4 2-1 9 6-1 14 11 10 3-11-7-17-6-14 17 19-14-5-28 21-9 1 4 2 4-2 7 1-11-5 1 14 2-8 6-22 15-1 18 8-3-21 13-1-4 18 10-9-5 5 10-3-25 19 7-4-25 18-1-1-16-36 12-2 9 1 34 8-24 10-1-19-3-1 20 2 16-11 3 3-4-2-20 0-5 21 1-17 9-16 11-20 0 11 15-12 12 1 36 1 5-15-7-2-12 3-37 3 3-1 8-2-19 19-15-3 0-1-3 0 8 23 9-9-16 2-13 13 17 19 12 2 9 11-12 3-9 13-4 5-2-29-1 8 8 1 33-51 10-2-4 13-12-4-25 15-13-10-4 8 26-15 10 15-7 9-5-8-3 1-5-13 1-10-4 3 0 15 8-4 16 2 21-5-11 7-15 8-20-2 23-23-3 2-7 23-4 1 1 3 3 11 15-14-10-14-9 7-18 1-17 9-1-4-14 9 2-4 4-6 0 24-10 3 12 4-17 6-1 2 3-4 27-14 11-16-6 10 13-8 16-13-16 5-18-11 1 27-13-3-3-1 20 8 21 18 5-21-14-9 0-14 15-25 7 0-9 19-10 20-6 20-9-5-2-6-5-6 3 9 10 14 0 7-1 5-6 3-2-4 6-8-18-4 4 4-18 0 2-13 2 17 14-21-1 14 8 5 3 11 2-6 6-15-4 10 6-7-10 6 22-28-6-21 22-22 3 7 9-5-16 0 5-2 7-5-8-7 21 16 17 3-2-18-15-5 14-4-3-2-20 29 9 15 11-13-18 2 12-8-7-7-22-19 7 16 10 5 21-28-6-10 1 1 6 40-21 8-3-1 15-10-2-31 3 17 9-6 26-10-9-11-19-7 3 31-15-35 6 8 6-8-12 5 19-34 17 10 11 4-22-15-11-16 14-27-14-14 1 7 12-15 8-2-19 7 12 12 0-3 9 3 7 1 1 32 6-2-1 13-5-20 4-22 5 11-21 3 8-20 20-8 19 11-3-27 15 20 1 22-18-1-3-2 17 2 11-12-8 0-11 4-14 14 6-4 15 9 4-10 1 0 20-21-23 8-21-3 12 9 1 11-27-36-15 13-2-6-10-11 13 5 11 12 1 8-7 0 11 22-26-27 4 7-7 11 13-21 2-4-10-11-8-3-3 8-2 11-16 19-26 15-2-21-5 7 19 26-8-2 9 6-18 10-4-13 13 9 17 20 19 9-5-9 6 3 4-8 4 0-13 1 1 10-5-2 15-12-4-8-2-19-11-2-10 20-12-24-30 19-2-3 2-7 31 0-24 13 6 6-6-4 17-7-1-16-6 2 1 6-5-15-4 18 5-7-1 12-1 15 10-25 2-16-4 7 3 9-2-7 1 2-4-10-2 16 6 0 7 17 3 3-1-1-5-4-27 11 28-12-26 10 9-18 9 12-11-14 12-1 18-19 9 16-4-1-9-8 26-34-2 15 11 2-6 4-9 0 25 14 32 11-3 1-34-4 22-1 3 4-26 2-9 2 9 13-1-1-7 8-28 5 8 22 15 13-15 14 3 6-12 9-9-26-17-26 8 9 24-16 1 9 9 25-18 3 4 22-18 9-11 23-20 3 8 2 15-12 0-16-19-9 8 18 4 7 3-10-7 7 21 4 8 0-32 12 11 5 28-16-17 5-11-3 2-16-11-22 1-3 0 15-7-20 8-18-2 17 8-10 16 6-8-9 5-1 17-4-9 15-20 1 1 15 48-4 9 5 3-16 22-13-3-7 11-20-4 18-4-3 9 8 1-30-12 3-8 2 26-24 10-5-2-14 5-1 1-9-6 18 17-11-7 4-2 20 12-14-5-23-12 12 2-4-8 14-14 6 30-24-9 8 14 3 5-11-16-10 6-6-15-30-1 8 20 14 0-7 0-8 24 14 1-10 7 5 1 3-39 13 15 7 1-23 6-6-26-2 2-4 7-9 7 3-16-1-1 17 22-12-3 7-5 17 8 18-21-30-6 5 3 10-14 8 4-5-8-13-13 1 11 18-8 0 2-30-5-8 8 14-7-10-11 22 10 12-12-6 6 31-19 9-17 13-5 22 1 30 11 23-18 1-11 5 16 3 14-14-11-27-17-4-7 19 11 11 5 15-1-2 11-4-8-16-20-6-8 3-2 9 11-11-5 16-10-14 9-5-5 1 2-33 9-16 10-10-6-3-5 20 0-14 17 13 1-5 3-8-4 6 13-6 1 11-3-3 20 31-3 0 5 19-6-17-8-20-7 16 24-14-17-21 5-17 9 9-10-15 0-17-1 6 16 13 13 11 0-11 8-9-18 16 3 11-6 8 1-1-8-13 20 16-25 3-5-10 10-20-9-10 10-2-15 1 23-13-8-4-7 2 6-1-8-7-34-1-16 36-8-3 5 13 5-2 5 8 9-5 22 12-20 25-15-3 13 5 2 12-31 13 2-1-7 26 5-4 6 20-12-3 9 13 13-7-8 0 7 6-3-20 3 4-15 19-2-7-19 8 24-1 7 12-3 9-22-4-16 11 0 7 0-4 15-26 24-2-6 9 7 17-3 5-7-13-3 12-11 17-3-7-22-15-1-2 0 11-4-22 15 16-20 6-3-10 19-5-2 13 7-5-19 0 12-1 5-3 24 6 2-24 0-7 21-1 5-15 23 6 10-12-12-19 4 16-5-2-13 1-11 17-3-13-22-1 1 19 5 5-7-3-15 0 11 13 22-3 16-5-27-3 22-3 6-11 8-7-5 4-19-2 18-7-2 0 10 9 4 0 27-31 6-5-17 0-13-26 2-6 7-15 0 12 9-2-4-32-22-5 2 1-3-19-8 13 21 0 25 2-11 8 9-6-4 4 24 14 14-2-3 3 15-16 2 11-25-21 14 9 4 3 16-5-26-4 10-10-3 5-4 0-1 7 8 19 7-1-3 15-23 21-3-25-8 5 11 18-22-12-12 19-15 18 10 19-5-6-5-6-10 3 13-11 6 10-14 9-8-4-16-6 29-32-12-11-15-8 17 9-12-4 15-4-11 13-3 4-7 11 20-21 3-16-5 10 5 12 13 16-5 13-8-7-4-8 13 1 5-11 4 52-2 1 11-16-15-3-12-4 20-2-9-29 9 5-29-8-9 11-9 23 19-7 2 6-10 25 18-4 1-15-18 3 5 10-22-16-5 20 21-14 4-12 13 6 12 12 16 0-24 4-3-2-29-15 1 11-3-14 10 7 7 18-7 7 5 3 1-16 24-2 8-14-2 1-6-23-3-19 29 10-14-2 1 0-3 4 5 18 3-20 1-8 5 16-41-23 22-8 2-20 5 16 6-8-16-4 21 6 14-6-4-7-10-37 12 0-6-17 0-11 6 29 10-13 32-5-27 3-8 1 3 0 3 11-27 26-3-34 8 1-2 21 3-13 2 32-12 9 4 26-25-2 2-2 15-6 27-7-4 14-9-1-11 5-7-16-9-5 10-17 7-5 22-4 6-1-9-32 0 1 19 15 12-25-13 22-1-8-3 18-6-4-11 11-5 29 10-5-8-10 29 10 11-18 18-13 12-15 0 4-16 13 26-9-6-10-1-5-18-7 38 17-15 19-5-4-4-6-7 16-4-8-20 13 1 19-11-25 16-19-3-18-20 3-7-11-3-6 2 3 25 2 22 13 5 8 9 7 8 8 7-9-19-4-2 10-4 0-4 5-7-3-9 8-6 8-4-35 10 1-34 7 1-6-11-12 6 6-3 5 12-30-5 14 10 6 16 21 19-15-24 10 11 4 5 10-17-15-14 22-5-1 2 12 8-15 13-16 0-5-21-7-15 18 15-19-8 3 9-12-7 11 2-1-10 8 13-23 19 2 21 2-6-1-24 3-8 36-5-12-16-12-8 8-30 31 14 10-15-12 9 1 29 29-11 6 28 3-9 1-4-20 17-7-18 19 26-19-5-15 22-16 29-16 1 5 20-20-27-12-7 19 6 5"/><path d="M1004 400l-1 10-9 4 0 14-8 1-9 12 3 2-2-7 0-9-3-1 17-1 1-15 10-2 7-5-19 4-4 1 5-10-4 13-4 11 8-9 7 11-10 1 13-5-11 2 4-3-9 17 1 2-7-6-1-9 0 4 2-7 0 14 4 1 1-7 9 2-10 12-1 0-1 1-16 5 6 4 7-9-8-6 10-5 8-19 6-2-5-7 2 12 8-11 7 6-3-11-1-5-2 2-13 5 5 3 9 1-7 17 3-14-4-6-2-7 8 7 6 6 1-9-14 14-16 11 2 4 0 9-14 2 6-1 0 1 11-16 13-16-4-8 11-4-11 6-5 8 1 5-4 2 12-2 4-1-9-6 4 9-8-3 16-7-12-1 5 8 3-10-4-3 2-1-3 2 0 11"/><path d="M1051 258l-9-16 5 14-7-9 20 3-12 19-20-1-8-6 7-1 5 10-4-11-15 0-4-13 1 1-3-3 7 29 10 10 2 0-4-2 1-10 12-5-14 5-4 0-15-22 2-4 23 5 21 5 10 0-7-12 13-4-4-13 0 5 0 9 11 6 22 7-6 19-3-3-11 3 7-12 2-8-21 23-11 11-29-6 8-2-6-11 4-12 1 6 4-10 3 22-16-12-6-26 0 15 8 9-2 21 10 4-2-1 0-1 1 11-13-5 9 6-8-1 8-2-11-19-4-5 3 4 11 16-4-1-9-21 0 9 21 8-5 2 11-2 1 1-18 6-13-11 2 9 14-1-2-14 6 6 6 0 0-8-9-1 10-16 23 1 13 15-16-3-19-5-20 2-4-5 4-8 5-2 4 17 3 0 10-7 3 3-6-5-5 20 14 10 10-12 19-8-8 4 19-5 7-4 2-6-6 3-14-1-19 4-8 10 14 6-14-8 11 0-13 2 4-6 1 22-7 13 6 3 4-11-8-2-4 7-13-10 3-36 3-2 6-12-3-11-20 23-1-9 0 3 16 13-14-7 4 0-4-5 4 13 1-3 15 21 3 1-17-10 15 6-3-8-4-3 2 19 3-8-28 8 0-1 12-11-1 1 9-14 14-4-9 3-8-14-1-10 3 3 14 4-26 9 2 1 24 12-2 6-16 19-8-7 1-24 24 8 15 8-19 6 12-15 20 9-8-25 19-1-7-1-4-10-4 2-11 4-21 6 10-3 1-7 15-10-13 2 14 13-15 8 3 20-12-11 3 10 1-11 19 5-3-5 14 24-4 2-4 2-13 7-8-3-8 10 6-2 7-14-12-17-13-9 2 0-5-3 5 8 23 12 0-12 4-4 37-13-3 5 13 29 3-5-7 5 11-13 2 0-22-3-1 4-2-3 6-23 6 7-12-4-19-7-6 28-12-27-7 4 2 0-5-11 12-5 5 4-4 9-19-14-5 21-13 1 18 20-5 0-10-9 9-3-17-14 20 8 23 16-2-6 18 10 3 7 15-4 1-7-9 2 12 2 3-3-9 11 9-8 2-10 12 4-8-3-10 8 3-21 8 1-3-2-3 17-2 13-2 10-7 0-3-3 10-17 5-14-6 3 3 10-16-3 13-6-1 8-3-9-9 16-3 0-6 4 2 11-13-9-9-2-1 7 2-11-3 12 13 12-1 2-3-1-8 2-6-12 3 10 9-3 1-16 18-10-6-1-19-6 17 12 3 1 2-3-15-11 2-5-2-4 12 22-6-2 3 10 2-19 4 8-5 14-6 8-5-11-17 16 0-19-4-6-7-2 6 1-2 11-11-11 7 15 16-4-6 7 0-6 2-4-7-10 5 12 4-2-15 10 17-6-10 3 8-2-5 1-16-17-1-23 12 14-14-16 13 14-14 0 4 1 0 3 13-13 7 17 8 2-5 20 21-1 2 5 2-10 8-28 14-20-4 7 1 1 7 0-16 2-6 3 30 8-19-22 4 16-9 11-9-10-9-8-6 5 3 3-20-11 24 4 13 3 14-11 1 11-15-5 0-4 8 2 23 19 1 10-1-4-7-23-23-7 7 4-14 17 6-20 6 8-3 11-24 11 15-6-3-28-8-3 2 11 9 3-3 5 4 4-21 16-7-23-10-2 12-5 2-11 33-1-27 12-8 29-20-4 10-13 22-14-17 8 2-7-1 14 2-8-21-1-1-7-4 3-1 13 15-17 5 0-10 1 9 6 5 5-10-9 15-5 8-6 21 11-2-6 0 9 4-6-11 13 18 15 9 8 5-11-15 22-10-24 7-11 4-5-1-1 14 1 2 10 0 1-12-10 15-9 3 7 13 8 3 9-7-12-9 14-19 6-6-12-8-10-14-2-4 11 1-3 9 26 16 5-5-8-9 0 0 2 21 6 7 10-10-21 5 6-24-1-1 15 1-4-25-17 11 8 19 2 7 16-17-6 11-12-13 2-5-18 14 6 19-2 14 3-1-1-13-12-20 14 15 10 22 0-14 11 3 2-10-8-27 6 0 3 4 2 7 5 3-5 5 2-1-1-13-13-2 0-1-23-9 7-11 4 12 4-2 9-18 11-4 1 10-20-9-14-6 22 16 13-9-2 7-20-13-1-3-1 31-1 1-32 19 0-3 2 19-6 20 3 1 2-5 5 4 1-32 3-23 26-5-4 0-19 6 8-12-7-7 3 8 1 1-8 1-7-6 10 10 18 0-11 20 6 13-8-22-10 14 3 33 4 3 4-10-7 7 5-4 3-3 4-8-17-19 17-7-5-9 1 11-15-1-2 14 6 12-11-28 24 2-13-9-23 0 15-2 24 16 8 0 2-5-11-4 11 8 6 9-11-1 20-7-5-8 13 3-20 2 2 3-1-8-11 12-8 13 23 2 1 11-10 0-18-22 2 6 11 13-9-15-13 7 12-30-14 8 3 8-13 22 12-12 12 6 9-25 6-19-1-2 7-6-2-3-10 17 17 25-6-16-12 5 7-7-1-3 9 4 4 8-19-14 5-19 0-1-24 12 23 13 17 0-20-7-21-2-3 7-3-2-11-7-5-6 2 1 8 15 7-1 14-20 0-18-13 27 4 11 13-18 15 5-2 14 22 0 9-9-1 8-1-16-6-1 2 11-1-2 11-4 1 10-15-9-19 10 4 8-4-17-9-19-5 9-1-16-13 4 38 11 0 3-10-4 7 14-2 23-12 25 4-29 16 1 6-10 5 12-11-10-14-8-6-10-15 4 19 9 8-2 1-16 9-4-17-11-15 1 8 32-13 4 16-27-4-1-17 4 15 0-12-7 15-4-1 7-6 6-12-3-9-12 8 9 26 5-2 2-3 5-3 24 2-10-5 0 2-3 20-8-8 8 1-8 10-2-1 24-1-5 5 9 2 6-21-4 18-2-3-12 23 10-22-6-11-8 7 7 6-11-9-7 23-4-4 3-1-9-5 1-12-4 7 5 4 8 5-3 7-17-6 5 0-4-9 11 3-4-13 16-1-2-11-1-9 18 21 18-5-32 3-1-18 7 8 10 13-3-7-11-12-27-15 6 13 0-5-1 5-3 18-5-2 17 3-7 5 9 0 2-10 10-13 26 3 8 23-5-2 5 0-7-19-12 21 20-15 6-19-23 6-1-21 14 2 5 12-2-7-3-6-1 7 6-1 11 11-3 6 2 14 4-9-6-5-8-2 0 5-1 6 5 6-9-12 2-8-14 5 23-2-13 8 15 15 1-6-4 17-2-4-5 3 7-5 11-13 6-2-28 5-13 0-9-9 0 16 15-13-8 19 13 5-5 10-5-13 4-2-19-6 15-2-19 1 3 12-6 13 7-15 8-6 10-2 11 5-4-27-17 9 15 6-4-8 3-7-6 2 1 1 2-15 2-15 10-2-2 15-5 19 0-1-2-8-12 7 6-1 15 3-4 22 9-18 4 3 12-12-13 6 7 4-15 5 7-14-17-6-11-12 6 10-12 5 8-13-9 6 3-15-9 14-10-2 10 16-22-6-12 14 13-4-3 2 3 3 7-9-17-23 20-14 4 4-10-4 5 6 13 5-2-8-26 7 1 4 3-8 23 1-1 6 4 4 7 13-1-1 1-20 15-4 8 2 2 20 2-1 6 6-15-17-13 10 18 2 16 5-2-5-7-5 11 4-7 1-1 7-22-13-25 1-2-7-13 13 2 17 16 3 14-7 1-15-11 2-7 6-9-1 22-6-16-11-4 10 32-3-8-5-5 10 23 14 7 13-16 7 15-2-36 5 2-1 3-19 12 13 3-7-10-8-9-2 4 16 13-12 23 6 11-14 4-5-10 5-14-13-7 18 17 6 0 14 8-9-2 5 3-11-8-13 13 1-5 4-16 0-4-3-6-10-1 11-13 7 10-6 5-2-4 18 15 2-11 5 5-14-6 10 5-3 9 0 0-5-9 10 6-9-10 4 8-11 3-14 14-1-11-9 5 32 2-9 6-16"/></g>
<path d="M411.9 229.9h10M411.9 204.29h5.5M411.9 178.68h10M411.9 153.06h5.5M411.9 127.45h10M411.9 101.84h5.5M411.9 76.22h10M411.9 50.61h5.5M411.9 25h10M411.9 229.9v-10M429.02 229.9v-5.5M446.13 229.9v-10M463.25 229.9v-5.5M480.37 229.9v-10M497.48 229.9v-5.5M514.6 229.9v-10M531.72 229.9v-5.5M548.83 229.9v-10M565.95 229.9v-5.5M583.07 229.9v-10M600.18 229.9v-5.5M617.3 229.9v-10" stroke="#6a6a6a" stroke-width="1.1" fill="none"/><rect x="411.9" y="25" width="205.4" height="204.9" fill="none" stroke="#6a6a6a" stroke-width="1.5"/><g font-family="Liberation Serif" font-size="13.4" fill="#111"><text x="407.5" y="29.6" text-anchor="end">2</text><text x="407.5" y="80.82" text-anchor="end">1</text><text x="407.5" y="132.05" text-anchor="end">0</text><text x="407.5" y="183.28" text-anchor="end">-1</text><text x="407.5" y="234.5" text-anchor="end">-2</text><text x="411.1" y="246.3" text-anchor="middle">-3</text><text x="445.33" y="246.3" text-anchor="middle">-2</text><text x="479.57" y="246.3" text-anchor="middle">-1</text><text x="514.6" y="246.3" text-anchor="middle">0</text><text x="548.83" y="246.3" text-anchor="middle">1</text><text x="583.07" y="246.3" text-anchor="middle">2</text><text x="617.3" y="246.3" text-anchor="middle">3</text></g><text x="449.9" y="266.3" font-family="Liberation Serif" font-size="13.5" fill="#111" textLength="129.8" lengthAdjust="spacingAndGlyphs">Projection on EV1 (nm)</text><text transform="translate(394,133.9) rotate(-90)" text-anchor="middle" font-family="Liberation Serif" font-size="14.9" fill="#111">Projection on EV2 (nm)</text><text x="341.1" y="20.8" font-family="Liberation Serif" font-weight="bold" font-size="16.8" fill="#000">B</text><path d="M508.2 13.4H534.9" stroke="#ff1010" stroke-width="2.8"/><text x="540.3" y="17.2" font-family="Liberation Serif" font-size="9.6" fill="#222" textLength="69.5" lengthAdjust="spacingAndGlyphs">MTH1-Resveratol</text>
<defs><linearGradient id="gC" gradientUnits="userSpaceOnUse" x1="0" y1="0" x2="0" y2="1000"><stop offset="0.000" stop-color="#ff550a"/><stop offset="0.029" stop-color="#ff550a"/><stop offset="0.057" stop-color="#ff550a"/><stop offset="0.086" stop-color="#ff550a"/><stop offset="0.114" stop-color="#ff550a"/><stop offset="0.143" stop-color="#ff740d"/><stop offset="0.171" stop-color="#ff920e"/><stop offset="0.200" stop-color="#ffad0c"/><stop offset="0.229" stop-color="#ffc508"/><stop offset="0.257" stop-color="#ffd604"/><stop offset="0.286" stop-color="#ffe800"/><stop offset="0.314" stop-color="#dae609"/><stop offset="0.343" stop-color="#b4e312"/><stop offset="0.371" stop-color="#8bde19"/><stop offset="0.400" stop-color="#55d016"/><stop offset="0.429" stop-color="#1fc114"/><stop offset="0.457" stop-color="#12b224"/><stop offset="0.486" stop-color="#0fa338"/><stop offset="0.514" stop-color="#118068"/><stop offset="0.543" stop-color="#14589f"/><stop offset="0.571" stop-color="#1241bb"/><stop offset="0.600" stop-color="#102ed0"/><stop offset="0.629" stop-color="#0e1be4"/><stop offset="0.657" stop-color="#0c0cf2"/><stop offset="0.686" stop-color="#0d0de5"/><stop offset="0.714" stop-color="#0f0fd7"/><stop offset="0.743" stop-color="#1010c3"/><stop offset="0.771" stop-color="#1212aa"/><stop offset="0.800" stop-color="#141491"/><stop offset="0.829" stop-color="#1a128b"/><stop offset="0.857" stop-color="#201086"/><stop offset="0.886" stop-color="#271083"/><stop offset="0.914" stop-color="#2d1080"/><stop offset="0.943" stop-color="#2d1080"/><stop offset="0.971" stop-color="#2d1080"/><stop offset="1.000" stop-color="#2d1080"/></linearGradient></defs><path d="M90.4 441L82 320.6M102.2 431.5L95.3 313.8M113.5 422.5L107.9 307.5M124.1 413.9L119.6 301.5M134.2 405.8L130.8 295.8M160 401.3L158.9 292.6M175 404.2L175.3 294.6M190.4 407.2L192.1 296.7M206.1 410.2L209.2 298.8M222.1 413.3L226.7 300.9M238.4 416.5L244.7 303.1M255.1 419.7L263 305.3M76.5 442.7L143.6 390.3M143.6 390.3L261.1 412.5M75.5 429.7L143.3 378.8M143.3 378.8L262 400.3M74.4 416.4L143 367.1M143 367.1L262.9 387.9M73.3 402.9L142.8 355.3M142.8 355.3L263.8 375.3M72.2 389L142.5 343.1M142.5 343.1L264.8 362.4M71 374.8L142.2 330.8M142.2 330.8L265.8 349.2M69.9 360.2L141.9 318.2M141.9 318.2L266.8 335.7M68.7 345.3L141.6 305.3M141.6 305.3L267.8 322M67.4 330.1L141.3 292.2M141.3 292.2L268.8 307.9" fill="none" stroke="#d4d4d4" stroke-width=".7"/><path d="M141.3 290.5L143.7 398.1" fill="none" stroke="#111" stroke-width="1.4"/><path fill="#ff550a" d="M77.3 451.6L210.8 483.7L260.5 420.8L143.7 398.1Z"/><path fill="#ff740d" stroke="#ff740d" stroke-width=".4" d="M114.5 460.5l3.5 .8l1.2 -1.1l-3.5 -.8zM164.8 472.6l3.7 .9l1.1 -1.2l-3.7 -.9zM110.5 458.2l5.2 1.2l1.2 -1.1l-5.2 -1.2zM169.6 472.3l1.9 .4l1.1 -1.2l-1.9 -.4zM108.3 456.3l3.4 .8l1.2 -1.1l-3.4 -.8zM172.6 471.6l1.9 .4l1.1 -1.2l-1.9 -.4zM106.2 454.4l3.4 .8l1.2 -1.1l-3.4 -.8zM105.7 452.9l1.7 .4l1.2 -1.1l-1.7 -.4zM176.6 469.7l1.9 .4l1.1 -1.2l-1.9 -.4zM105.2 451.5l1.7 .4l1.2 -1.1l-1.7 -.4zM103.1 449.6l1.7 .4l1.2 -1l-1.7 -.4zM180.6 467.8l1.9 .4l1 -1.2l-1.9 -.4zM102.7 448.2l1.7 .4l1.2 -1l-1.7 -.4zM181.6 466.7l1.9 .4l1 -1.1l-1.8 -.4zM102.2 446.8l1.7 .4l1.2 -1l-1.7 -.4zM182.6 465.5l1.8 .4l1 -1.1l-1.8 -.4zM101.8 445.4l1.7 .4l1.2 -1l-1.6 -.4zM183.7 464.4l1.8 .4l1 -1.1l-1.8 -.4zM101.4 444l1.6 .4l1.2 -1l-1.6 -.4zM100.9 442.6l1.6 .4l1.2 -1l-1.6 -.4zM183.9 461.7l1.8 .4l1 -1.1l-1.8 -.4zM100.5 441.2l1.6 .4l1.2 -1l-1.6 -.4zM184.9 460.6l1.8 .4l1 -1.1l-1.8 -.4zM101.7 440.2l1.6 .4l1.2 -1l-1.6 -.4zM184.1 459.1l1.8 .4l1 -1.1l-1.8 -.4zM102.5 437.9l1.6 .4l1.2 -1l-1.6 -.4zM184.3 456.5l1.8 .4l1 -1.1l-1.8 -.4zM103.6 437l1.6 .4l1.2 -1l-1.6 -.4zM183.5 455l1.8 .4l1 -1.1l-1.8 -.4zM104.8 436l1.6 .4l1.2 -1l-1.6 -.4zM182.7 453.5l1.8 .4l1 -1.1l-1.8 -.4zM106 435l1.6 .4l1.2 -1l-1.6 -.4zM183.7 452.5l1.8 .4l1 -1.1l-1.8 -.4zM107.1 434.1l1.6 .4l1.2 -.9l-1.6 -.4zM182.9 451l1.8 .4l1 -1l-1.8 -.4zM108.3 433.1l1.6 .4l1.1 -.9l-1.6 -.4zM183.9 450l1.8 .4l1 -1l-1.8 -.4zM109.4 432.2l1.6 .4l1.1 -.9l-1.6 -.4zM183.1 448.6l1.8 .4l1 -1l-1.8 -.4zM112.2 431.6l1.6 .4l1.1 -.9l-1.6 -.4zM182.3 447.1l1.8 .4l1 -1l-1.7 -.4zM114.9 431l1.6 .4l1.1 -.9l-1.6 -.3zM181.6 445.7l1.7 .4l1 -1l-1.7 -.4zM117.6 430.5l1.6 .4l1.1 -.9l-1.6 -.3zM179.1 443.9l1.7 .4l1 -1l-1.7 -.4zM120.3 429.9l1.6 .3l1.1 -.9l-1.6 -.3zM176.6 442.2l3.4 .8l1 -1l-3.4 -.7zM123 429.3l4.8 1l1.1 -.9l-4.8 -1zM139.1 432.8l6.5 1.4l1 -.9l-6.5 -1.4zM172.5 440.1l3.4 .7l1 -1l-3.4 -.7zM145.1 432.9l1.6 .4l1 -.9l-1.6 -.4zM168.4 438l3.4 .7l1 -1l-3.4 -.7zM146.1 432l1.6 .4l1 -.9l-1.6 -.4zM147.2 431.1l1.6 .4l1 -.9l-1.6 -.3zM168.7 435.7l1.7 .4l1 -1l-1.7 -.4zM148.2 430.1l1.6 .3l1 -.9l-1.6 -.3zM171.3 435.1l1.7 .4l1 -1l-1.7 -.4zM175.7 434.9l6.8 1.4l.9 -1l-6.7 -1.4zM186.7 436.1l6.8 1.5l.9 -1l-6.8 -1.4zM196.2 436.9l6.9 1.5l.9 -1l-6.9 -1.5zM207.4 438.2l10.5 2.2l.9 -1l-10.4 -2.2zM218.8 439.4l1.8 .4l.8 -1l-1.8 -.4zM221.4 438.8l1.8 .4l.8 -1l-1.8 -.4zM224 438.2l1.8 .4l.8 -1l-1.8 -.4zM226.6 437.6l1.8 .4l.8 -1l-1.8 -.4zM227.4 436.6l1.8 .4l.8 -1l-1.7 -.4zM226.5 435.3l1.7 .4l.8 -1l-1.7 -.4zM225.5 434l1.7 .4l.8 -.9l-1.7 -.4zM224.6 432.7l1.7 .4l.8 -.9l-1.7 -.4zM225.4 431.7l1.7 .4l.8 -.9l-1.7 -.4zM224.5 430.4l1.7 .4l.8 -.9l-1.7 -.3zM223.6 429.2l1.7 .3l.8 -.9l-1.7 -.3zM224.5 428.2l1.7 .3l.8 -.9l-1.7 -.3zM224.4 426.1l1.7 .3l.8 -.9l-1.7 -.3zM225.2 425.2l1.7 .3l.8 -.9l-1.7 -.3zM224.3 423.9l1.7 .3l.8 -.9l-1.7 -.3zM223.4 422.7l1.7 .3l.8 -.9l-1.7 -.3zM222.5 421.5l1.7 .3l.8 -.9l-1.7 -.3zM221.7 420.3l1.7 .3l.8 -.9l-1.7 -.3zM219.2 418.8l3.3 .7l.8 -.9l-3.3 -.6zM175.3 409.1l1.6 .3l.9 -.8l-1.5 -.3zM210.2 416l8.2 1.6l.8 -.9l-8.1 -1.6zM177.7 408.6l1.6 .3l.9 -.8l-1.5 -.3zM190.2 411.1l19.1 3.8l.8 -.8l-19.1 -3.7zM180.2 408.1l7.8 1.5l.9 -.8l-7.8 -1.5z"/><path fill="#ff920e" stroke="#ff920e" stroke-width=".4" d="M118 461.3l21.2 5.1l1.2 -1.1l-21.2 -5.1zM161.1 471.7l3.7 .9l1.1 -1.2l-3.7 -.9zM115.7 459.4l1.7 .4l1.2 -1.1l-1.7 -.4zM167.8 471.9l1.9 .4l1.1 -1.2l-1.9 -.4zM111.8 457.1l3.4 .8l1.2 -1.1l-3.4 -.8zM170.7 471.1l1.9 .4l1.1 -1.2l-1.9 -.4zM109.6 455.2l1.7 .4l1.2 -1.1l-1.7 -.4zM173.7 470.4l1.9 .4l1.1 -1.2l-1.9 -.4zM107.4 453.3l1.7 .4l1.2 -1.1l-1.7 -.4zM106.9 451.9l1.7 .4l1.2 -1.1l-1.7 -.4zM177.7 468.5l1.9 .4l1 -1.2l-1.9 -.4zM104.8 450l1.7 .4l1.2 -1l-1.7 -.4zM178.7 467.4l1.9 .4l1 -1.1l-1.8 -.4zM104.3 448.6l1.7 .4l1.2 -1l-1.7 -.4zM103.9 447.2l1.7 .4l1.2 -1l-1.7 -.4zM181.8 464l1.8 .4l1 -1.1l-1.8 -.4zM103 444.4l1.6 .4l1.2 -1l-1.6 -.4zM182.9 462.8l1.8 .4l1 -1.1l-1.8 -.4zM102.6 443l1.6 .4l1.2 -1l-1.6 -.4zM102.1 441.6l1.6 .4l1.2 -1l-1.6 -.4zM183.1 460.2l1.8 .4l1 -1.1l-1.8 -.4zM102.9 439.3l1.6 .4l1.2 -1l-1.6 -.4zM183.3 457.6l1.8 .4l1 -1.1l-1.8 -.4zM104.1 438.3l1.6 .4l1.2 -1l-1.6 -.4zM182.5 456.1l1.8 .4l1 -1.1l-1.8 -.4zM105.3 437.3l1.6 .4l1.2 -1l-1.6 -.4zM181.7 454.6l1.8 .4l1 -1.1l-1.8 -.4zM107.6 435.4l1.6 .4l1.2 -1l-1.6 -.4zM181.9 452.1l1.8 .4l1 -1.1l-1.8 -.4zM108.7 434.4l1.6 .4l1.1 -1l-1.6 -.4zM109.9 433.5l1.6 .4l1.1 -.9l-1.6 -.4zM182.1 449.6l1.8 .4l1 -1l-1.8 -.4zM111 432.6l1.6 .4l1.1 -.9l-1.6 -.4zM181.4 448.2l1.8 .4l1 -1l-1.8 -.4zM113.8 432l1.6 .4l1.1 -.9l-1.6 -.4zM180.6 446.7l1.7 .4l1 -1l-1.7 -.4zM116.5 431.4l1.6 .4l1.1 -.9l-1.6 -.4zM179.8 445.3l1.7 .4l1 -1l-1.7 -.4zM119.2 430.8l1.6 .4l1.1 -.9l-1.6 -.3zM177.3 443.6l1.7 .4l1 -1l-1.7 -.4zM121.9 430.2l3.2 .7l1.1 -.9l-3.2 -.7zM141.3 434.5l3.3 .7l1.1 -1l-3.3 -.7zM173.2 441.4l3.4 .8l1 -1l-3.4 -.7zM169.1 439.3l3.4 .7l1 -1l-3.4 -.7zM166.7 437.6l1.7 .4l1 -1l-1.7 -.4zM167.7 436.7l1.7 .4l1 -1l-1.7 -.4zM169.6 434.7l1.7 .4l1 -1l-1.7 -.4zM172.3 434.2l3.4 .7l1 -1l-3.3 -.7zM180 434.6l6.8 1.4l.9 -1l-6.8 -1.4zM192.8 436.2l3.4 .7l.9 -1l-3.4 -.7zM200.5 436.7l6.9 1.5l.9 -1l-6.9 -1.5zM211.8 437.9l7 1.5l.9 -1l-7 -1.5zM224.8 437.2l1.8 .4l.8 -1l-1.7 -.4zM225.6 436.2l1.7 .4l.8 -1l-1.7 -.4zM223.7 431.4l1.7 .4l.8 -.9l-1.7 -.4zM222.8 430.1l1.7 .4l.8 -.9l-1.7 -.3zM222.8 427.9l1.7 .3l.8 -.9l-1.7 -.3zM223.6 427l1.7 .3l.8 -.9l-1.7 -.3zM223.5 424.8l1.7 .3l.8 -.9l-1.7 -.3zM220.9 421.2l1.7 .3l.8 -.9l-1.7 -.3zM220 420l1.7 .3l.8 -.9l-1.7 -.3zM214.3 417.8l4.9 1l.8 -.9l-4.9 -1zM176.9 409.4l1.6 .3l.9 -.8l-1.6 -.3zM203.7 414.7l6.5 1.3l.8 -.8l-6.4 -1.3zM179.3 408.9l1.6 .3l.9 -.8l-1.6 -.3zM184 409.8l6.3 1.2l.9 -.8l-6.3 -1.2z"/><path fill="#ffad0c" stroke="#ffad0c" stroke-width=".4" d="M139.2 466.5l21.9 5.3l1.1 -1.2l-21.8 -5.2zM117.5 459.8l5.2 1.3l1.2 -1.1l-5.2 -1.2zM126.2 461.9l1.8 .4l1.2 -1.1l-1.8 -.4zM164.1 471l3.7 .9l1.1 -1.2l-3.7 -.9zM115.2 457.9l1.7 .4l1.2 -1.1l-1.7 -.4zM168.9 470.7l1.9 .4l1.1 -1.2l-1.9 -.4zM111.3 455.6l3.4 .8l1.2 -1.1l-3.4 -.8zM171.8 470l1.9 .4l1.1 -1.2l-1.9 -.4zM109.1 453.7l3.4 .8l1.2 -1.1l-3.4 -.8zM174.7 469.3l1.9 .4l1.1 -1.2l-1.9 -.4zM108.6 452.2l1.7 .4l1.2 -1.1l-1.7 -.4zM175.8 468.1l1.9 .4l1.1 -1.2l-1.8 -.4zM106.5 450.4l3.4 .8l1.2 -1l-3.4 -.8zM106 449l1.7 .4l1.2 -1l-1.7 -.4zM179.8 466.2l1.8 .4l1 -1.1l-1.8 -.4zM180.8 465.1l1.8 .4l1 -1.1l-1.8 -.4zM103.4 445.8l1.7 .4l1.2 -1l-1.7 -.4zM104.2 443.4l1.6 .4l1.2 -1l-1.6 -.4zM182 461.3l1.8 .4l1 -1.1l-1.8 -.4zM103.8 442l1.6 .4l1.2 -1l-1.6 -.4zM103.3 440.6l1.6 .4l1.2 -1l-1.6 -.4zM182.3 458.7l1.8 .4l1 -1.1l-1.8 -.4zM104.5 439.6l1.6 .4l1.2 -1l-1.6 -.4zM181.5 457.2l1.8 .4l1 -1.1l-1.8 -.4zM180.7 455.7l1.8 .4l1 -1.1l-1.8 -.4zM106.4 436.4l1.6 .4l1.2 -1l-1.6 -.4zM180.9 453.1l1.8 .4l1 -1.1l-1.8 -.4zM181.1 450.6l1.8 .4l1 -1l-1.8 -.4zM180.4 449.2l1.8 .4l1 -1l-1.8 -.4zM112.6 432.9l1.6 .4l1.1 -.9l-1.6 -.4zM179.6 447.8l1.8 .4l1 -1l-1.7 -.4zM115.4 432.3l1.6 .4l1.1 -.9l-1.6 -.4zM178.8 446.4l1.7 .4l1 -1l-1.7 -.4zM118.1 431.7l1.6 .4l1.1 -.9l-1.6 -.4zM176.4 444.6l3.5 .8l1 -1l-3.5 -.8zM120.8 431.2l1.6 .4l1.1 -.9l-1.6 -.3zM173.9 442.8l3.4 .8l1 -1l-3.4 -.8zM125.1 430.9l3.2 .7l1.1 -.9l-3.2 -.7zM136.4 433.4l4.9 1.1l1.1 -.9l-4.9 -1.1zM144.6 435.2l1.6 .4l1 -1l-1.6 -.4zM169.8 440.7l3.4 .7l1 -1l-3.4 -.7zM145.7 434.2l1.6 .4l1 -.9l-1.6 -.4zM167.4 439l1.7 .4l1 -1l-1.7 -.4zM146.7 433.3l1.6 .4l1 -.9l-1.6 -.4zM147.8 432.4l1.6 .4l1 -.9l-1.6 -.4zM169 433.4l3.3 .7l1 -.9l-3.3 -.7zM174.9 433.6l5 1.1l.9 -.9l-5 -1.1zM184.3 434.4l8.5 1.8l.9 -1l-8.5 -1.8zM197.1 436l3.4 .7l.9 -1l-3.4 -.7zM204.9 436.5l6.9 1.5l.9 -1l-6.9 -1.5zM219.6 438.4l1.8 .4l.8 -1l-1.7 -.4zM222.2 437.8l1.8 .4l.8 -1l-1.7 -.4zM224.7 434.9l1.7 .4l.8 -1l-1.7 -.4zM223.8 433.6l1.7 .4l.8 -.9l-1.7 -.4zM222.9 432.3l1.7 .4l.8 -.9l-1.7 -.4zM222 431l1.7 .4l.8 -.9l-1.7 -.4zM221.1 429.7l1.7 .3l.8 -.9l-1.7 -.3zM221.9 428.8l1.7 .3l.8 -.9l-1.7 -.3zM221.9 426.6l1.7 .3l.8 -.9l-1.7 -.3zM222.7 425.7l1.7 .3l.8 -.9l-1.7 -.3zM221.8 424.5l1.7 .3l.8 -.9l-1.7 -.3zM222.6 423.6l1.7 .3l.8 -.9l-1.7 -.3zM221.7 422.4l1.7 .3l.8 -.9l-1.7 -.3zM219.2 420.8l1.7 .3l.8 -.9l-1.7 -.3zM215.1 419l4.9 1l.8 -.9l-4.9 -1zM174.4 409.9l1.6 .3l.9 -.8l-1.6 -.3zM207.7 416.5l6.5 1.3l.8 -.9l-6.5 -1.3zM187.8 411.6l15.9 3.1l.8 -.8l-15.9 -3.1zM180.8 409.2l3.1 .6l.9 -.8l-3.1 -.6z"/><path fill="#ffc508" stroke="#ffc508" stroke-width=".4" d="M122.7 461.1l3.5 .8l1.2 -1.1l-3.5 -.8zM128 462.3l16 3.8l1.2 -1.1l-16 -3.8zM162.2 470.5l1.8 .4l1.1 -1.2l-1.8 -.4zM116.9 458.3l3.5 .8l1.2 -1.1l-3.5 -.8zM167 470.3l1.9 .4l1.1 -1.2l-1.8 -.4zM114.7 456.4l1.7 .4l1.2 -1.1l-1.7 -.4zM170 469.5l1.9 .4l1.1 -1.2l-1.8 -.4zM112.5 454.5l1.7 .4l1.2 -1.1l-1.7 -.4zM172.9 468.8l1.9 .4l1.1 -1.2l-1.8 -.4zM110.3 452.6l1.7 .4l1.2 -1.1l-1.7 -.4zM176.9 466.9l1.8 .4l1 -1.1l-1.8 -.4zM107.7 449.4l1.7 .4l1.2 -1l-1.7 -.4zM177.9 465.8l1.8 .4l1 -1.1l-1.8 -.4zM105.6 447.6l1.7 .4l1.2 -1l-1.7 -.4zM105.1 446.1l1.7 .4l1.2 -1l-1.7 -.4zM180 463.5l1.8 .4l1 -1.1l-1.8 -.4zM104.6 444.7l1.7 .4l1.2 -1l-1.6 -.4zM181 462.4l1.8 .4l1 -1.1l-1.8 -.4zM181.3 459.8l1.8 .4l1 -1.1l-1.8 -.4zM105 441l1.6 .4l1.2 -1l-1.6 -.4zM105.7 438.7l1.6 .4l1.2 -1l-1.6 -.4zM106.9 437.7l1.6 .4l1.2 -1l-1.6 -.4zM179.9 454.2l1.8 .4l1 -1.1l-1.8 -.4zM109.2 435.8l1.6 .4l1.2 -1l-1.6 -.4zM180.1 451.7l1.8 .4l1 -1.1l-1.8 -.4zM110.3 434.8l1.6 .4l1.1 -1l-1.6 -.4zM179.4 450.2l1.8 .4l1 -1l-1.8 -.4zM111.5 433.9l1.6 .4l1.1 -.9l-1.6 -.4zM178.6 448.8l1.8 .4l1 -1l-1.8 -.4zM114.2 433.3l1.6 .4l1.1 -.9l-1.6 -.4zM177.9 447.4l1.7 .4l1 -1l-1.7 -.4zM117 432.7l1.6 .4l1.1 -.9l-1.6 -.4zM177.1 446l1.7 .4l1 -1l-1.7 -.4zM119.7 432.1l1.6 .4l1.1 -.9l-1.6 -.4zM174.6 444.2l1.7 .4l1 -1l-1.7 -.4zM122.4 431.5l1.6 .4l1.1 -.9l-1.6 -.4zM140.3 435.4l4.9 1.1l1.1 -1l-4.9 -1.1zM170.5 442.1l3.4 .8l1 -1l-3.4 -.7zM168.1 440.3l1.7 .4l1 -1l-1.7 -.4zM164 438.2l3.4 .7l1 -1l-3.4 -.7zM165 437.3l1.7 .4l1 -1l-1.7 -.4zM166 436.3l1.7 .4l1 -1l-1.7 -.4zM148.8 431.4l1.6 .4l1 -.9l-1.6 -.4zM167 435.3l1.7 .4l1 -1l-1.7 -.4zM168 434.4l1.7 .4l1 -1l-1.7 -.4zM173.3 433.2l1.7 .4l1 -.9l-1.7 -.4zM180.9 433.7l3.4 .7l.9 -.9l-3.4 -.7zM193.7 435.2l3.4 .7l.9 -1l-3.4 -.7zM203.2 436.1l1.7 .4l.9 -1l-1.7 -.4zM212.7 437l7 1.5l.8 -1l-6.9 -1.5zM220.5 437.4l1.7 .4l.8 -1l-1.7 -.4zM223.1 436.8l1.7 .4l.8 -1l-1.7 -.4zM223.9 435.9l1.7 .4l.8 -1l-1.7 -.4zM223 434.6l1.7 .4l.8 -1l-1.7 -.4zM222.1 433.3l1.7 .4l.8 -.9l-1.7 -.4zM221.2 432l1.7 .4l.8 -.9l-1.7 -.4zM221.1 427.6l1.7 .3l.8 -.9l-1.7 -.3zM221 425.4l1.7 .3l.8 -.9l-1.7 -.3zM220.9 423.3l1.7 .3l.8 -.9l-1.7 -.3zM220.1 422.1l1.7 .3l.8 -.9l-1.7 -.3zM213.4 418.7l1.6 .3l.8 -.9l-1.6 -.3zM176 410.2l1.6 .3l.9 -.8l-1.6 -.3zM204.5 415.9l3.2 .6l.8 -.8l-3.2 -.6zM178.4 409.7l1.6 .3l.9 -.8l-1.6 -.3zM184.7 411l3.1 .6l.9 -.8l-3.1 -.6z"/><path fill="#ffd604" stroke="#ffd604" stroke-width=".4" d="M144 466.2l5.4 1.3l1.1 -1.1l-5.4 -1.3zM158.5 469.7l3.7 .9l1.1 -1.2l-3.7 -.9zM120.4 459.1l1.7 .4l1.2 -1.1l-1.7 -.4zM116.4 456.8l1.7 .4l1.2 -1.1l-1.7 -.4zM109.8 451.2l1.7 .4l1.2 -1l-1.7 -.4zM107.2 447.9l1.7 .4l1.2 -1l-1.7 -.4zM179 464.7l1.8 .4l1 -1.1l-1.8 -.4zM105.8 443.7l1.6 .4l1.2 -1l-1.6 -.4zM180.2 460.9l1.8 .4l1 -1.1l-1.8 -.4zM105.4 442.4l1.6 .4l1.2 -1l-1.6 -.4zM180.5 458.3l1.8 .4l1 -1.1l-1.8 -.4zM106.1 440l1.6 .4l1.2 -1l-1.6 -.4zM179.7 456.8l1.8 .4l1 -1.1l-1.8 -.4zM107.3 439l1.6 .4l1.2 -1l-1.6 -.4zM178.9 455.3l1.8 .4l1 -1.1l-1.8 -.4zM108 436.7l1.6 .4l1.2 -1l-1.6 -.4zM179.1 452.7l1.8 .4l1 -1.1l-1.8 -.4zM113.1 434.2l1.6 .4l1.1 -.9l-1.6 -.4zM175.4 445.6l1.7 .4l1 -1l-1.7 -.4zM172.9 443.8l1.7 .4l1 -1l-1.7 -.4zM124 431.9l3.2 .7l1.1 -.9l-3.2 -.7zM137 434.7l3.3 .7l1.1 -1l-3.3 -.7zM168.8 441.7l1.7 .4l1 -1l-1.7 -.4zM164.7 439.6l3.4 .7l1 -1l-3.4 -.7zM169.9 432.5l3.3 .7l1 -.9l-3.3 -.7zM177.6 433l3.4 .7l.9 -.9l-3.3 -.7zM190.3 434.5l3.4 .7l.9 -1l-3.4 -.7zM199.7 435.4l3.4 .7l.9 -1l-3.4 -.7zM209.2 436.2l3.5 .7l.9 -1l-3.5 -.7zM218.7 437.1l1.7 .4l.8 -1l-1.7 -.4zM221.3 436.5l1.7 .4l.8 -1l-1.7 -.4zM220.3 430.7l1.7 .4l.8 -.9l-1.7 -.3zM220.2 428.5l1.7 .3l.8 -.9l-1.7 -.3zM217.6 420.5l1.7 .3l.8 -.9l-1.7 -.3zM210.2 418l3.3 .6l.8 -.9l-3.3 -.6zM177.5 410.5l1.6 .3l.9 -.8l-1.6 -.3zM190.1 413l14.4 2.8l.8 -.8l-14.4 -2.8zM180 410l4.7 .9l.9 -.8l-4.7 -.9z"/><path fill="#ffe800" stroke="#ffe800" stroke-width=".4" d="M149.4 467.5l9.1 2.2l1.1 -1.2l-9.1 -2.2zM122.1 459.6l17.6 4.2l1.2 -1.1l-17.6 -4.2zM165.2 469.8l1.8 .4l1.1 -1.2l-1.8 -.4zM118.2 457.2l1.7 .4l1.2 -1.1l-1.7 -.4zM168.1 469.1l1.8 .4l1.1 -1.2l-1.8 -.4zM114.2 454.9l1.7 .4l1.2 -1.1l-1.7 -.4zM171 468.4l1.8 .4l1.1 -1.2l-1.8 -.4zM112 453l1.7 .4l1.2 -1.1l-1.7 -.4zM174 467.7l1.8 .4l1.1 -1.2l-1.8 -.4zM175 466.5l1.8 .4l1.1 -1.1l-1.8 -.4zM109.4 449.8l1.7 .4l1.2 -1l-1.7 -.4zM106.8 446.5l1.7 .4l1.2 -1l-1.7 -.4zM106.3 445.1l1.7 .4l1.2 -1l-1.7 -.4zM179.2 462l1.8 .4l1 -1.1l-1.8 -.4zM106.6 441.4l1.6 .4l1.2 -1l-1.6 -.4zM108.5 438.1l1.6 .4l1.2 -1l-1.6 -.4zM178.1 453.8l1.8 .4l1 -1.1l-1.8 -.4zM110.8 436.1l1.6 .4l1.1 -1l-1.6 -.4zM178.4 451.3l1.8 .4l1 -1l-1.8 -.4zM112 435.2l1.6 .4l1.1 -1l-1.6 -.4zM177.6 449.8l1.8 .4l1 -1l-1.8 -.4zM176.9 448.4l1.8 .4l1 -1l-1.7 -.4zM115.8 433.6l1.6 .4l1.1 -.9l-1.6 -.4zM176.1 447l1.7 .4l1 -1l-1.7 -.4zM118.6 433l1.6 .4l1.1 -.9l-1.6 -.4zM173.6 445.2l1.7 .4l1 -1l-1.7 -.4zM121.3 432.4l1.6 .4l1.1 -.9l-1.6 -.4zM169.5 443.1l3.4 .8l1 -1l-3.4 -.8zM127.2 432.6l1.6 .4l1.1 -.9l-1.6 -.4zM167.1 441.3l1.7 .4l1 -1l-1.7 -.4zM146.3 435.6l1.7 .4l1 -1l-1.6 -.4zM163 439.2l1.7 .4l1 -1l-1.7 -.4zM167.3 433.1l1.7 .4l1 -.9l-1.7 -.4zM168.3 432.1l1.7 .4l1 -.9l-1.7 -.4zM175.9 432.6l1.7 .4l1 -.9l-1.7 -.4zM185.2 433.5l5.1 1.1l.9 -.9l-5.1 -1.1zM196.3 434.7l3.4 .7l.9 -1l-3.4 -.7zM205.8 435.5l3.4 .7l.9 -1l-3.4 -.7zM217 436.7l1.7 .4l.8 -1l-1.7 -.4zM222.1 435.5l1.7 .4l.8 -1l-1.7 -.4zM221.2 434.2l1.7 .4l.8 -.9l-1.7 -.4zM219.4 429.4l1.7 .3l.8 -.9l-1.7 -.3zM220.2 426.3l1.7 .3l.8 -.9l-1.7 -.3zM220.1 424.2l1.7 .3l.8 -.9l-1.7 -.3zM219.3 422.9l1.7 .3l.8 -.9l-1.7 -.3zM218.4 421.7l1.7 .3l.8 -.9l-1.7 -.3zM214.3 419.9l3.3 .7l.8 -.9l-3.3 -.7zM175.1 411l1.6 .3l.9 -.8l-1.6 -.3zM205.3 417l4.9 1l.8 -.9l-4.9 -1zM186.9 412.4l3.2 .6l.9 -.8l-3.2 -.6z"/><path fill="#dae609" stroke="#dae609" stroke-width=".4" d="M139.8 463.8l3.6 .9l1.1 -1.1l-3.6 -.8zM163.3 469.4l1.8 .4l1.1 -1.2l-1.8 -.4zM119.9 457.6l1.7 .4l1.2 -1.1l-1.7 -.4zM115.9 455.3l1.7 .4l1.2 -1.1l-1.7 -.4zM111.5 451.6l1.7 .4l1.2 -1.1l-1.7 -.4zM176.1 465.4l1.8 .4l1 -1.1l-1.8 -.4zM108.9 448.3l1.7 .4l1.2 -1l-1.7 -.4zM178.2 463.1l1.8 .4l1 -1.1l-1.8 -.4zM107 442.7l1.6 .4l1.2 -1l-1.6 -.4zM179.4 459.4l1.8 .4l1 -1.1l-1.8 -.4zM107.8 440.4l1.6 .4l1.2 -1l-1.6 -.4zM109.7 437.1l1.6 .4l1.2 -1l-1.6 -.4zM177.4 452.3l1.8 .4l1 -1.1l-1.8 -.4zM114.7 434.6l1.6 .4l1.1 -1l-1.6 -.4zM174.4 446.6l1.7 .4l1 -1l-1.7 -.4zM171.9 444.8l1.7 .4l1 -1l-1.7 -.4zM122.9 432.8l1.6 .4l1.1 -.9l-1.6 -.4zM137.6 436l6.6 1.5l1.1 -1l-6.6 -1.4zM167.8 442.7l1.7 .4l1 -1l-1.7 -.4zM145.2 436.5l1.7 .4l1.1 -1l-1.7 -.4zM165.4 440.9l1.7 .4l1 -1l-1.7 -.4zM147.3 434.6l1.6 .4l1 -1l-1.6 -.4zM162.3 437.9l1.7 .4l1 -1l-1.7 -.4zM148.4 433.7l1.6 .4l1 -.9l-1.6 -.4zM163.3 436.9l1.7 .4l1 -1l-1.7 -.4zM172.6 431.9l3.3 .7l1 -.9l-3.3 -.7zM183.5 433.1l1.7 .4l.9 -.9l-1.7 -.4zM194.6 434.3l1.7 .4l.9 -1l-1.7 -.4zM204 435.1l1.7 .4l.9 -1l-1.7 -.4zM213.5 436l3.5 .7l.8 -1l-3.5 -.7zM219.6 436.1l1.7 .4l.8 -1l-1.7 -.4zM220.4 432.9l1.7 .4l.8 -.9l-1.7 -.4zM219.4 427.2l1.7 .3l.8 -.9l-1.7 -.3zM174.2 411.9l1.6 .3l.9 -.8l-1.6 -.3zM212.6 419.5l1.6 .3l.8 -.9l-1.6 -.3zM176.6 411.4l1.6 .3l.9 -.8l-1.6 -.3zM203.7 416.7l1.6 .3l.8 -.9l-1.6 -.3zM179.1 410.8l1.6 .3l.9 -.8l-1.6 -.3zM183.8 411.8l3.2 .6l.9 -.8l-3.1 -.6z"/><path fill="#b4e312" stroke="#b4e312" stroke-width=".4" d="M143.3 464.6l3.6 .9l1.1 -1.1l-3.6 -.9zM159.7 468.5l3.7 .9l1.1 -1.2l-3.7 -.9zM121.6 458l1.7 .4l1.2 -1.1l-1.7 -.4zM113.7 453.4l1.7 .4l1.2 -1.1l-1.7 -.4zM111 450.2l1.7 .4l1.2 -1l-1.7 -.4zM177.1 464.2l1.8 .4l1 -1.1l-1.8 -.4zM108.4 446.9l1.7 .4l1.2 -1l-1.7 -.4zM108 445.5l1.7 .4l1.2 -1l-1.7 -.4zM107.5 444.1l1.7 .4l1.2 -1l-1.6 -.4zM178.4 460.5l1.8 .4l1 -1.1l-1.8 -.4zM108.2 441.7l1.6 .4l1.2 -1l-1.6 -.4zM178.7 457.8l1.8 .4l1 -1.1l-1.8 -.4zM177.9 456.4l1.8 .4l1 -1.1l-1.8 -.4zM108.9 439.4l1.6 .4l1.2 -1l-1.6 -.4zM176.6 450.9l1.8 .4l1 -1l-1.8 -.4zM113.6 435.5l1.6 .4l1.1 -1l-1.6 -.4zM175.9 449.4l1.8 .4l1 -1l-1.8 -.4zM175.1 448l1.7 .4l1 -1l-1.7 -.4zM117.5 434l1.6 .4l1.1 -.9l-1.6 -.4zM172.6 446.2l1.7 .4l1 -1l-1.7 -.4zM120.2 433.4l1.6 .4l1.1 -.9l-1.6 -.4zM170.2 444.4l1.7 .4l1 -1l-1.7 -.4zM124.5 433.2l1.6 .4l1.1 -.9l-1.6 -.4zM144.2 437.5l1.7 .4l1.1 -1l-1.7 -.4zM166 442.3l1.7 .4l1 -1l-1.7 -.4zM163.7 440.6l1.7 .4l1 -1l-1.7 -.4zM161.3 438.8l1.7 .4l1 -1l-1.7 -.4zM164.3 435.9l1.7 .4l1 -1l-1.7 -.4zM166.3 434l1.7 .4l1 -.9l-1.7 -.4zM167.6 430.9l5 1.1l1 -.9l-5 -1.1zM180.2 432.4l3.4 .7l.9 -.9l-3.3 -.7zM191.2 433.6l3.4 .7l.9 -.9l-3.4 -.7zM202.3 434.8l1.7 .4l.9 -1l-1.7 -.4zM211.8 435.6l1.7 .4l.9 -1l-1.7 -.4zM217.8 435.8l1.7 .4l.8 -1l-1.7 -.4zM220.4 435.2l1.7 .4l.8 -1l-1.7 -.4zM219.5 431.6l1.7 .4l.8 -.9l-1.7 -.4zM218.6 430.3l1.7 .4l.8 -.9l-1.7 -.3zM218.5 428.1l1.7 .3l.8 -.9l-1.7 -.3zM219.3 425.1l1.7 .3l.8 -.9l-1.7 -.3zM173.3 412.7l1.6 .3l.9 -.8l-1.6 -.3zM216.8 421.4l1.7 .3l.8 -.9l-1.7 -.3zM211 419.2l1.6 .3l.8 -.9l-1.6 -.3zM190.8 414.2l12.8 2.5l.8 -.9l-12.8 -2.5zM180.6 411.2l3.1 .6l.9 -.8l-3.1 -.6z"/><path fill="#8bde19" stroke="#8bde19" stroke-width=".4" d="M146.9 465.5l5.4 1.3l1.1 -1.1l-5.4 -1.3zM157.8 468.1l1.8 .4l1.1 -1.2l-1.8 -.4zM123.3 458.5l1.7 .4l1.2 -1.1l-1.7 -.4zM166.3 468.7l1.8 .4l1.1 -1.2l-1.8 -.4zM117.6 455.7l1.7 .4l1.2 -1.1l-1.7 -.4zM169.2 467.9l1.8 .4l1.1 -1.2l-1.8 -.4zM172.1 467.2l1.8 .4l1.1 -1.1l-1.8 -.4zM109.4 440.8l1.6 .4l1.2 -1l-1.6 -.4zM177.1 454.9l1.8 .4l1 -1.1l-1.8 -.4zM110.1 438.4l1.6 .4l1.2 -1l-1.6 -.4zM176.3 453.4l1.8 .4l1 -1.1l-1.8 -.4zM111.3 437.4l1.6 .4l1.2 -1l-1.6 -.4zM112.4 436.5l1.6 .4l1.1 -1l-1.6 -.4zM116.3 434.9l1.6 .4l1.1 -1l-1.6 -.4zM173.4 447.6l1.7 .4l1 -1l-1.7 -.4zM170.9 445.8l1.7 .4l1 -1l-1.7 -.4zM168.5 444.1l1.7 .4l1 -1l-1.7 -.4zM126.1 433.5l1.6 .4l1.1 -.9l-1.6 -.4zM164.3 441.9l1.7 .4l1 -1l-1.7 -.4zM162 440.2l1.7 .4l1 -1l-1.7 -.4zM165.3 435l1.7 .4l1 -1l-1.7 -.4zM166.6 431.8l1.7 .4l1 -.9l-1.7 -.4zM178.5 432l1.7 .4l.9 -.9l-1.7 -.4zM189.5 433.2l1.7 .4l.9 -.9l-1.7 -.4zM198.9 434.1l3.4 .7l.9 -1l-3.4 -.7zM216.1 435.4l1.7 .4l.8 -1l-1.7 -.4zM219.5 433.8l1.7 .4l.8 -.9l-1.7 -.4zM218.5 423.8l1.7 .3l.8 -.9l-1.7 -.3zM217.6 422.6l1.7 .3l.8 -.9l-1.7 -.3zM215.1 421.1l1.7 .3l.8 -.9l-1.7 -.3zM175.7 412.2l1.6 .3l.9 -.8l-1.6 -.3zM209.3 418.9l1.6 .3l.8 -.9l-1.6 -.3zM178.2 411.7l1.6 .3l.9 -.8l-1.6 -.3zM189.2 413.9l1.6 .3l.9 -.8l-1.6 -.3z"/><path fill="#55d016" stroke="#55d016" stroke-width=".4" d="M152.4 466.8l5.5 1.3l1.1 -1.2l-5.4 -1.3zM125.1 458.9l15.8 3.8l1.1 -1.1l-15.8 -3.7zM115.4 453.9l1.7 .4l1.2 -1.1l-1.7 -.4zM113.2 452l1.7 .4l1.2 -1.1l-1.7 -.4zM173.2 466.1l1.8 .4l1.1 -1.1l-1.8 -.4zM110.6 448.7l1.7 .4l1.2 -1l-1.7 -.4zM177.4 461.6l1.8 .4l1 -1.1l-1.8 -.4zM109.1 444.5l1.7 .4l1.2 -1l-1.7 -.4zM108.7 443.1l1.6 .4l1.2 -1l-1.6 -.4zM177.6 458.9l1.8 .4l1 -1.1l-1.8 -.4zM175.6 451.9l1.8 .4l1 -1.1l-1.8 -.4zM174.1 449.1l1.8 .4l1 -1l-1.7 -.4zM119.1 434.3l1.6 .4l1.1 -.9l-1.6 -.4zM121.8 433.7l1.6 .4l1.1 -.9l-1.6 -.4zM136.5 437l6.6 1.5l1.1 -1l-6.6 -1.5zM166.7 443.7l1.7 .4l1 -1l-1.7 -.4zM127.8 433.9l4.9 1.1l1.1 -1l-4.9 -1.1zM145.8 437.8l1.7 .4l1.1 -1l-1.7 -.4zM149.2 438.6l1.7 .4l1 -1l-1.7 -.4zM160.3 439.8l1.7 .4l1 -1l-1.7 -.4zM168.6 429.9l1.6 .3l1 -.9l-1.6 -.3zM173.5 431l5 1.1l.9 -.9l-5 -1.1zM186.2 432.5l3.4 .7l.9 -.9l-3.4 -.7zM197.2 433.7l1.7 .4l.9 -.9l-1.7 -.4zM210.1 435.3l1.7 .4l.9 -1l-1.7 -.4zM218.7 434.8l1.7 .4l.8 -1l-1.7 -.4zM218.5 426l1.7 .3l.8 -.9l-1.7 -.3zM174.8 413l1.6 .3l.9 -.8l-1.6 -.3zM206.1 418.2l3.3 .7l.8 -.9l-3.3 -.6zM187.6 413.5l1.6 .3l.9 -.8l-1.6 -.3z"/><path fill="#1fc114" stroke="#1fc114" stroke-width=".4" d="M140.9 462.6l3.6 .8l1.1 -1.1l-3.6 -.8zM164.4 468.2l1.8 .4l1.1 -1.2l-1.8 -.4zM119.4 456.1l1.7 .4l1.2 -1.1l-1.7 -.4zM117.1 454.3l1.7 .4l1.2 -1.1l-1.7 -.4zM112.7 450.5l1.7 .4l1.2 -1l-1.7 -.4zM174.2 464.9l1.8 .4l1 -1.1l-1.8 -.4zM175.3 463.8l1.8 .4l1 -1.1l-1.8 -.4zM110.1 447.3l1.7 .4l1.2 -1l-1.7 -.4zM176.3 462.7l1.8 .4l1 -1.1l-1.8 -.4zM109.6 445.9l1.7 .4l1.2 -1l-1.7 -.4zM109.9 442.1l1.6 .4l1.2 -1l-1.6 -.4zM176.9 457.4l1.8 .4l1 -1.1l-1.8 -.4zM110.6 439.8l1.6 .4l1.2 -1l-1.6 -.4zM111.7 438.8l1.6 .4l1.2 -1l-1.6 -.4zM112.9 437.8l1.6 .4l1.1 -1l-1.6 -.4zM114 436.8l1.6 .4l1.1 -1l-1.6 -.4zM174.8 450.5l1.8 .4l1 -1l-1.8 -.4zM115.2 435.9l1.6 .4l1.1 -1l-1.6 -.4zM171.6 447.2l1.7 .4l1 -1l-1.7 -.4zM169.2 445.5l1.7 .4l1 -1l-1.7 -.4zM143.1 438.5l1.7 .4l1.1 -1l-1.7 -.4zM165 443.3l1.7 .4l1 -1l-1.7 -.4zM147.5 438.2l1.7 .4l1 -1l-1.7 -.4zM150.8 439l1.7 .4l1 -1l-1.7 -.4zM162.6 441.6l1.7 .4l1 -1l-1.7 -.4zM146.9 436.9l1.7 .4l1 -1l-1.7 -.4zM165.6 432.7l1.7 .4l1 -.9l-1.7 -.4zM170.2 430.3l3.3 .7l1 -.9l-3.3 -.7zM184.5 432.2l1.7 .4l.9 -.9l-1.7 -.4zM195.5 433.3l1.7 .4l.9 -.9l-1.7 -.4zM206.6 434.5l3.4 .7l.9 -1l-3.4 -.7zM214.4 435l1.7 .4l.8 -1l-1.7 -.4zM218.6 432.5l1.7 .4l.8 -.9l-1.7 -.4zM217.7 429l1.7 .3l.8 -.9l-1.7 -.3zM217.6 424.7l1.7 .3l.8 -.9l-1.7 -.3zM173 414.7l1.6 .3l.9 -.8l-1.6 -.3zM173.9 413.8l1.6 .3l.9 -.8l-1.6 -.3zM215.9 422.3l1.7 .3l.8 -.9l-1.7 -.3zM213.5 420.7l1.7 .3l.8 -.9l-1.6 -.3zM202.8 417.6l3.3 .6l.8 -.9l-3.2 -.6zM186.1 413.2l1.6 .3l.9 -.8l-1.6 -.3z"/><path fill="#12b224" stroke="#12b224" stroke-width=".4" d="M144.5 463.5l1.8 .4l1.1 -1.1l-1.8 -.4zM160.8 467.4l3.7 .9l1.1 -1.2l-3.7 -.9zM121.1 456.5l1.7 .4l1.2 -1.1l-1.7 -.4zM167.4 467.5l1.8 .4l1.1 -1.1l-1.8 -.4zM170.3 466.8l1.8 .4l1.1 -1.1l-1.8 -.4zM114.9 452.4l1.7 .4l1.2 -1.1l-1.7 -.4zM112.2 449.1l1.7 .4l1.2 -1l-1.7 -.4zM176.6 460l1.8 .4l1 -1.1l-1.8 -.4zM110.3 443.5l1.7 .4l1.2 -1l-1.6 -.4zM111 441.1l1.6 .4l1.2 -1l-1.6 -.4zM176.1 455.9l1.8 .4l1 -1.1l-1.8 -.4zM175.3 454.5l1.8 .4l1 -1.1l-1.8 -.4zM172.4 448.7l1.7 .4l1 -1l-1.7 -.4zM117.9 435.3l1.6 .4l1.1 -1l-1.6 -.4zM169.9 446.9l1.7 .4l1 -1l-1.7 -.4zM120.7 434.7l1.6 .4l1.1 -1l-1.6 -.4zM167.4 445.1l1.7 .4l1 -1l-1.7 -.4zM123.4 434.1l1.6 .4l1.1 -.9l-1.6 -.4zM144.8 438.8l3.3 .7l1.1 -1l-3.3 -.7zM163.3 442.9l1.7 .4l1 -1l-1.7 -.4zM147.9 435.9l1.7 .4l1 -1l-1.7 -.4zM159.6 438.5l1.7 .4l1 -1l-1.7 -.4zM166.9 429.6l1.6 .3l1 -.9l-1.6 -.3zM167.9 428.7l3.3 .7l1 -.9l-3.3 -.7zM182.8 431.8l1.7 .4l.9 -.9l-1.7 -.4zM193.8 433l1.7 .4l.9 -.9l-1.7 -.4zM204.9 434.2l1.7 .4l.9 -.9l-1.7 -.4zM217 434.4l1.7 .4l.8 -1l-1.7 -.4zM217.8 431.3l1.7 .4l.8 -.9l-1.7 -.4zM217.7 426.9l1.7 .3l.8 -.9l-1.7 -.3zM216.8 423.5l1.7 .3l.8 -.9l-1.7 -.3zM211.8 420.4l1.6 .3l.8 -.9l-1.6 -.3zM177.3 412.5l1.6 .3l.9 -.8l-1.6 -.3zM194.8 416l8.1 1.6l.8 -.9l-8.1 -1.6zM179.8 412l1.6 .3l.9 -.8l-1.6 -.3zM182.9 412.6l3.2 .6l.9 -.8l-3.2 -.6z"/><path fill="#0fa338" stroke="#0fa338" stroke-width=".4" d="M146.3 463.9l1.8 .4l1.1 -1.1l-1.8 -.4zM158.9 466.9l1.8 .4l1.1 -1.1l-1.8 -.4zM122.8 457l1.7 .4l1.2 -1.1l-1.7 -.4zM133.3 459.4l8.8 2.1l1.1 -1.1l-8.8 -2.1zM118.8 454.7l1.7 .4l1.2 -1.1l-1.7 -.4zM114.4 450.9l1.7 .4l1.2 -1l-1.7 -.4zM111.8 447.7l1.7 .4l1.2 -1l-1.7 -.4zM111.3 446.3l1.7 .4l1.2 -1l-1.7 -.4zM175.6 461.2l1.8 .4l1 -1.1l-1.8 -.4zM110.8 444.9l1.7 .4l1.2 -1l-1.7 -.4zM111.5 442.5l1.6 .4l1.2 -1l-1.6 -.4zM112.2 440.1l1.6 .4l1.2 -1l-1.6 -.4zM113.4 439.2l1.6 .4l1.2 -1l-1.6 -.4zM174.6 453l1.8 .4l1 -1.1l-1.8 -.4zM114.5 438.2l1.6 .4l1.1 -1l-1.6 -.4zM173.8 451.5l1.8 .4l1 -1.1l-1.8 -.4zM115.7 437.2l1.6 .4l1.1 -1l-1.6 -.4zM173.1 450.1l1.8 .4l1 -1l-1.8 -.4zM116.8 436.2l1.6 .4l1.1 -1l-1.6 -.4zM119.6 435.6l1.6 .4l1.1 -1l-1.6 -.4zM135.4 438l6.6 1.5l1.1 -1l-6.6 -1.5zM165.7 444.7l1.7 .4l1 -1l-1.7 -.4zM125 434.5l6.5 1.4l1.1 -1l-6.5 -1.4zM148.1 439.6l1.7 .4l1.1 -1l-1.7 -.4zM160.9 441.2l1.7 .4l1 -1l-1.7 -.4zM148.5 437.2l3.3 .7l1 -1l-3.3 -.7zM149 435l1.7 .4l1 -1l-1.6 -.4zM160.6 437.5l1.7 .4l1 -1l-1.7 -.4zM161.6 436.5l1.7 .4l1 -1l-1.7 -.4zM164.6 433.7l1.7 .4l1 -.9l-1.7 -.4zM171.2 429.3l1.6 .3l1 -.9l-1.6 -.3zM181.1 431.4l1.7 .4l.9 -.9l-1.7 -.4zM192.1 432.6l1.7 .4l.9 -.9l-1.7 -.4zM201.5 433.5l3.4 .7l.9 -.9l-3.4 -.7zM212.7 434.7l1.7 .4l.9 -1l-1.7 -.4zM217.8 433.5l1.7 .4l.8 -.9l-1.7 -.4zM216.9 430l1.7 .3l.8 -.9l-1.7 -.3zM175.5 414.2l1.6 .3l.9 -.8l-1.6 -.3zM214.3 421.9l1.7 .3l.8 -.9l-1.7 -.3zM176.4 413.3l1.6 .3l.9 -.8l-1.6 -.3zM210.2 420.1l1.6 .3l.8 -.9l-1.6 -.3zM190 415l4.8 1l.9 -.8l-4.8 -1zM181.3 412.3l1.6 .3l.9 -.8l-1.6 -.3z"/><path fill="#118068" stroke="#118068" stroke-width=".4" d="M148.1 464.3l5.4 1.3l1.1 -1.1l-5.4 -1.3zM157.1 466.5l1.8 .4l1.1 -1.1l-1.8 -.4zM124.5 457.4l3.5 .8l1.2 -1.1l-3.5 -.8zM131.5 459l1.8 .4l1.2 -1.1l-1.7 -.4zM142.1 461.5l1.8 .4l1.1 -1.1l-1.8 -.4zM165.5 467.1l1.8 .4l1.1 -1.1l-1.8 -.4zM116.6 452.8l1.7 .4l1.2 -1.1l-1.7 -.4zM171.3 465.6l1.8 .4l1.1 -1.1l-1.8 -.4zM113.9 449.5l1.7 .4l1.2 -1l-1.7 -.4zM112 443.9l1.7 .4l1.2 -1l-1.7 -.4zM175.8 458.5l1.8 .4l1 -1.1l-1.8 -.4zM175.1 457l1.8 .4l1 -1.1l-1.8 -.4zM112.7 441.5l1.6 .4l1.2 -1l-1.6 -.4zM118.4 436.6l1.6 .4l1.1 -1l-1.6 -.4zM170.6 448.3l1.7 .4l1 -1l-1.7 -.4zM168.2 446.5l1.7 .4l1 -1l-1.7 -.4zM122.3 435.1l1.6 .4l1.1 -1l-1.6 -.4zM142 439.4l3.3 .7l1.1 -1l-3.3 -.7zM164 444.3l1.7 .4l1 -1l-1.7 -.4zM149.8 439.9l3.4 .7l1 -1l-3.4 -.7zM161.6 442.5l1.7 .4l1 -1l-1.7 -.4zM155.9 440.1l5.1 1.1l1 -1l-5.1 -1.1zM162.6 435.6l1.7 .4l1 -1l-1.7 -.4zM165 431.4l1.7 .4l1 -.9l-1.6 -.4zM172.8 429.7l8.3 1.8l.9 -.9l-8.3 -1.7zM168.9 427.7l1.6 .3l1 -.9l-1.6 -.3zM188.8 431.9l3.4 .7l.9 -.9l-3.4 -.7zM199.8 433.1l1.7 .4l.9 -.9l-1.7 -.4zM215.2 434.1l1.7 .4l.8 -.9l-1.7 -.4zM216.9 427.8l1.7 .3l.8 -.9l-1.7 -.3zM216.8 425.6l1.7 .3l.8 -.9l-1.7 -.3zM174.6 415l1.6 .3l.9 -.8l-1.6 -.3zM206.9 419.4l3.3 .7l.8 -.9l-3.3 -.7zM178.9 412.8l1.6 .3l.9 -.8l-1.6 -.3zM188.4 414.7l1.6 .3l.9 -.8l-1.6 -.3z"/><path fill="#14589f" stroke="#14589f" stroke-width=".4" d="M153.5 465.6l3.6 .9l1.1 -1.1l-3.6 -.9zM128 458.2l3.5 .8l1.2 -1.1l-3.5 -.8zM143.9 461.9l1.8 .4l1.1 -1.1l-1.8 -.4zM120.5 455.1l1.7 .4l1.2 -1.1l-1.7 -.4zM168.4 466.4l1.8 .4l1.1 -1.1l-1.8 -.4zM118.3 453.2l1.7 .4l1.2 -1.1l-1.7 -.4zM116.1 451.3l1.7 .4l1.2 -1l-1.7 -.4zM172.4 464.5l1.8 .4l1.1 -1.1l-1.8 -.4zM173.5 463.4l1.8 .4l1 -1.1l-1.8 -.4zM113.4 448.1l1.7 .4l1.2 -1l-1.7 -.4zM174.5 462.3l1.8 .4l1 -1.1l-1.8 -.4zM112.5 445.3l1.7 .4l1.2 -1l-1.7 -.4zM174.8 459.6l1.8 .4l1 -1.1l-1.8 -.4zM174.3 455.5l1.8 .4l1 -1.1l-1.8 -.4zM113.8 440.5l1.6 .4l1.2 -1l-1.6 -.4zM173.6 454.1l1.8 .4l1 -1.1l-1.8 -.4zM115 439.5l1.6 .4l1.1 -1l-1.6 -.4zM172.8 452.6l1.8 .4l1 -1.1l-1.8 -.4zM116.1 438.5l1.6 .4l1.1 -1l-1.6 -.4zM117.3 437.6l1.6 .4l1.1 -1l-1.6 -.4zM171.3 449.7l1.8 .4l1 -1l-1.7 -.4zM121.2 436l1.6 .4l1.1 -1l-1.6 -.4zM136 439.3l3.3 .7l1.1 -1l-3.3 -.7zM166.4 446.1l1.7 .4l1 -1l-1.7 -.4zM128.8 436.5l4.9 1.1l1.1 -1l-4.9 -1.1zM145.4 440.2l3.4 .7l1.1 -1l-3.3 -.7zM162.3 443.9l1.7 .4l1 -1l-1.7 -.4zM163.6 434.6l1.7 .4l1 -1l-1.7 -.4zM170.5 428.1l1.6 .3l1 -.9l-1.6 -.3zM187.1 431.6l1.7 .4l.9 -.9l-1.7 -.4zM198.1 432.8l1.7 .4l.9 -.9l-1.7 -.4zM210.9 434.3l1.7 .4l.9 -1l-1.7 -.4zM216 426.5l1.7 .3l.8 -.9l-1.7 -.3zM216 424.4l1.7 .3l.8 -.9l-1.7 -.3zM215.1 423.2l1.7 .3l.8 -.9l-1.7 -.3zM212.6 421.6l1.7 .3l.8 -.9l-1.7 -.3zM178 413.6l1.6 .3l.9 -.8l-1.6 -.3zM205.2 419.1l1.6 .3l.8 -.9l-1.6 -.3zM186.8 414.4l1.6 .3l.9 -.8l-1.6 -.3z"/><path fill="#102ed0" stroke="#102ed0" stroke-width=".4" d="M145.6 462.4l1.8 .4l1.1 -1.1l-1.8 -.4zM158.2 465.3l3.6 .9l1.1 -1.1l-3.6 -.9zM124 455.9l1.7 .4l1.2 -1.1l-1.7 -.4zM132.7 457.9l3.5 .8l1.2 -1.1l-3.5 -.8zM143.2 460.4l1.8 .4l1.1 -1.1l-1.8 -.4zM166.6 465.9l1.8 .4l1.1 -1.1l-1.8 -.4zM120 453.6l1.7 .4l1.2 -1.1l-1.7 -.4zM169.5 465.2l1.8 .4l1.1 -1.1l-1.8 -.4zM170.6 464.1l1.8 .4l1.1 -1.1l-1.8 -.4zM117.3 450.3l1.7 .4l1.2 -1l-1.7 -.4zM171.6 463l1.8 .4l1.1 -1.1l-1.8 -.4zM172.7 461.8l1.8 .4l1 -1.1l-1.8 -.4zM114.6 447.1l1.7 .4l1.2 -1l-1.7 -.4zM114.1 445.6l1.7 .4l1.2 -1l-1.7 -.4zM114.8 443.2l1.7 .4l1.2 -1l-1.7 -.4zM173.3 456.6l1.8 .4l1 -1.1l-1.8 -.4zM172.5 455.1l1.8 .4l1 -1.1l-1.8 -.4zM115.5 440.9l1.6 .4l1.2 -1l-1.6 -.4zM171.8 453.7l1.8 .4l1 -1.1l-1.8 -.4zM116.6 439.9l1.6 .4l1.1 -1l-1.6 -.4zM117.8 438.9l1.6 .4l1.1 -1l-1.6 -.4zM118.9 437.9l1.6 .4l1.1 -1l-1.6 -.4zM169.6 449.3l1.7 .4l1 -1l-1.7 -.4zM134.9 440.3l3.3 .7l1.1 -1l-3.3 -.7zM167.1 447.5l1.7 .4l1 -1l-1.7 -.4zM122.8 436.4l1.6 .4l1.1 -1l-1.6 -.4zM129.4 437.8l3.3 .7l1.1 -1l-3.3 -.7zM142.6 440.8l3.4 .7l1.1 -1l-3.3 -.7zM163 445.3l1.7 .4l1 -1l-1.7 -.4zM150.4 441.3l1.7 .4l1 -1l-1.7 -.4zM160.6 443.5l1.7 .4l1 -1l-1.7 -.4zM156.5 441.4l3.4 .8l1 -1l-3.4 -.7zM163 433.3l1.7 .4l1 -.9l-1.7 -.4zM175.4 429.1l3.3 .7l.9 -.9l-3.3 -.7zM182.1 430.5l1.7 .4l.9 -.9l-1.7 -.3zM171.5 427.2l1.6 .3l.9 -.9l-1.6 -.3zM193 431.7l1.7 .4l.9 -.9l-1.7 -.4zM205.8 433.2l3.4 .7l.9 -.9l-3.4 -.7zM168.5 424.3l3.2 .7l.9 -.9l-3.2 -.7zM213.5 433.7l1.7 .4l.8 -.9l-1.7 -.4zM169.4 423.5l3.2 .7l.9 -.9l-3.2 -.7zM170.4 422.6l1.6 .3l.9 -.9l-1.6 -.3zM171.3 421.7l1.6 .3l.9 -.9l-1.6 -.3zM215.2 429.6l1.7 .3l.8 -.9l-1.7 -.3zM172.5 418.7l1.6 .3l.9 -.9l-1.6 -.3zM215.2 427.4l1.7 .3l.8 -.9l-1.7 -.3zM173.4 417.9l1.6 .3l.9 -.9l-1.6 -.3zM172.8 416.7l3.2 .6l.9 -.9l-3.2 -.6zM215.1 425.3l1.7 .3l.8 -.9l-1.7 -.3zM175.3 416.2l1.6 .3l.9 -.8l-1.6 -.3zM214.3 424l1.7 .3l.8 -.9l-1.7 -.3zM213.5 422.8l1.7 .3l.8 -.9l-1.7 -.3zM209.3 420.9l1.6 .3l.8 -.9l-1.6 -.3zM189.1 415.9l4.8 1l.9 -.9l-4.8 -1z"/><path fill="#0e1be4" stroke="#0e1be4" stroke-width=".4" d="M147.4 462.8l10.8 2.6l1.1 -1.1l-10.8 -2.5zM125.7 456.3l1.7 .4l1.2 -1.1l-1.7 -.4zM130.9 457.5l1.7 .4l1.2 -1.1l-1.7 -.4zM145 460.8l1.8 .4l1.1 -1.1l-1.8 -.4zM164.8 465.5l1.8 .4l1.1 -1.1l-1.8 -.4zM121.7 454l1.7 .4l1.2 -1.1l-1.7 -.4zM137.3 457.7l7 1.7l1.1 -1.1l-7 -1.6zM167.7 464.8l1.8 .4l1.1 -1.1l-1.8 -.4zM119.5 452.1l1.7 .4l1.2 -1.1l-1.7 -.4zM119 450.7l1.7 .4l1.2 -1l-1.7 -.4zM116.8 448.9l1.7 .4l1.2 -1l-1.7 -.4zM116.3 447.4l1.7 .4l1.2 -1l-1.7 -.4zM171.9 460.3l1.8 .4l1 -1.1l-1.8 -.4zM115.8 446l1.7 .4l1.2 -1l-1.7 -.4zM173 459.2l1.8 .4l1 -1.1l-1.8 -.4zM115.3 444.6l1.7 .4l1.2 -1l-1.7 -.4zM172.2 457.7l1.8 .4l1 -1.1l-1.8 -.4zM116.5 443.6l1.7 .4l1.2 -1l-1.7 -.4zM171.5 456.2l1.8 .4l1 -1.1l-1.8 -.4zM116 442.2l1.7 .4l1.2 -1l-1.6 -.4zM117.1 441.3l1.6 .4l1.1 -1l-1.6 -.4zM118.3 440.3l1.6 .4l1.1 -1l-1.6 -.4zM171 452.2l1.8 .4l1 -1.1l-1.8 -.4zM119.4 439.3l1.6 .4l1.1 -1l-1.6 -.4zM170.3 450.7l1.8 .4l1 -1l-1.8 -.4zM120.6 438.3l1.6 .4l1.1 -1l-1.6 -.4zM167.8 448.9l1.7 .4l1 -1l-1.7 -.4zM121.7 437.3l1.6 .4l1.1 -1l-1.6 -.4zM129.9 439.2l5 1.1l1.1 -1l-5 -1.1zM138.2 441l3.3 .7l1.1 -1l-3.3 -.7zM163.7 446.7l3.5 .8l1 -1l-3.5 -.8zM124.4 436.7l4.9 1.1l1.1 -1l-4.9 -1.1zM146 441.5l3.4 .8l1.1 -1l-3.4 -.7zM159.5 444.6l3.4 .8l1 -1l-3.4 -.8zM152.1 441.7l3.4 .8l1 -1l-3.4 -.7zM158.9 443.2l1.7 .4l1 -1l-1.7 -.4zM159.3 434.9l3.3 .7l1 -1l-3.3 -.7zM160.3 433.9l3.3 .7l1 -.9l-3.3 -.7zM178.7 429.8l3.3 .7l.9 -.9l-3.3 -.7zM173.1 427.5l3.3 .7l.9 -.9l-3.3 -.7zM184.7 429.9l8.4 1.8l.9 -.9l-8.4 -1.7zM170.8 425.9l3.3 .7l.9 -.9l-3.3 -.7zM197.3 431.5l8.5 1.8l.9 -.9l-8.5 -1.8zM171.7 425l1.6 .3l.9 -.9l-1.6 -.3zM211.8 433.4l1.7 .4l.9 -.9l-1.7 -.4zM214.4 432.8l1.7 .4l.8 -.9l-1.7 -.4zM172 422.9l1.6 .3l.9 -.9l-1.6 -.3zM215.2 431.8l1.7 .4l.8 -.9l-1.7 -.4zM172.9 422l1.6 .3l.9 -.9l-1.6 -.3zM169 420.1l6.4 1.3l.9 -.9l-6.4 -1.3zM170 419.3l4.8 1l.9 -.9l-4.8 -1zM214.3 428.4l1.7 .3l.8 -.9l-1.7 -.3zM174.1 419.1l1.6 .3l.9 -.9l-1.6 -.3zM213.5 427.1l1.7 .3l.8 -.9l-1.7 -.3zM171.8 417.6l1.6 .3l.9 -.9l-1.6 -.3zM175 418.2l1.6 .3l.9 -.9l-1.6 -.3zM214.3 426.2l1.7 .3l.8 -.9l-1.7 -.3zM175.9 417.3l1.6 .3l.9 -.9l-1.6 -.3zM213.5 424.9l1.7 .3l.8 -.9l-1.7 -.3zM176.9 416.5l1.6 .3l.9 -.9l-1.6 -.3zM212.6 423.7l1.7 .3l.8 -.9l-1.7 -.3zM177.8 415.6l1.6 .3l.9 -.8l-1.6 -.3zM211.8 422.5l1.7 .3l.8 -.9l-1.7 -.3zM178.7 414.8l1.6 .3l.9 -.8l-1.6 -.3zM204.4 420l4.9 1l.8 -.9l-4.9 -1zM179.6 414l1.6 .3l.9 -.8l-1.6 -.3zM185.9 415.2l3.2 .6l.9 -.8l-3.2 -.6z"/><path fill="#1241bb" stroke="#1241bb" stroke-width=".4" d="M161.9 466.2l3.7 .9l1.1 -1.1l-3.6 -.9zM122.3 455.5l1.7 .4l1.2 -1.1l-1.7 -.4zM136.2 458.7l7.1 1.7l1.1 -1.1l-7 -1.7zM117.8 451.7l1.7 .4l1.2 -1.1l-1.7 -.4zM115.6 449.9l1.7 .4l1.2 -1l-1.7 -.4zM115.1 448.5l1.7 .4l1.2 -1l-1.7 -.4zM112.9 446.7l1.7 .4l1.2 -1l-1.7 -.4zM173.7 460.7l1.8 .4l1 -1.1l-1.8 -.4zM113.6 444.3l1.7 .4l1.2 -1l-1.7 -.4zM174 458.1l1.8 .4l1 -1.1l-1.8 -.4zM113.2 442.9l1.7 .4l1.2 -1l-1.6 -.4zM114.3 441.9l1.6 .4l1.2 -1l-1.6 -.4zM172.1 451.1l1.8 .4l1 -1l-1.8 -.4zM120.1 437l1.6 .4l1.1 -1l-1.6 -.4zM168.9 447.9l1.7 .4l1 -1l-1.7 -.4zM139.3 440l3.3 .7l1.1 -1l-3.3 -.7zM164.7 445.7l1.7 .4l1 -1l-1.7 -.4zM123.9 435.4l4.9 1.1l1.1 -1l-4.9 -1.1zM148.7 440.9l1.7 .4l1.1 -1l-1.7 -.4zM159.9 442.2l1.7 .4l1 -1l-1.7 -.4zM149.6 436.3l1.7 .4l1 -1l-1.7 -.4zM164 432.4l1.7 .4l1 -.9l-1.7 -.4zM172.1 428.4l3.3 .7l.9 -.9l-3.3 -.7zM183.7 430.9l3.3 .7l.9 -.9l-3.3 -.7zM168.2 426.5l3.3 .7l1 -.9l-3.3 -.7zM194.7 432l3.4 .7l.9 -.9l-3.4 -.7zM169.1 425.6l1.6 .3l.9 -.9l-1.6 -.3zM209.2 434l1.7 .4l.9 -.9l-1.7 -.4zM216.1 433.1l1.7 .4l.8 -.9l-1.7 -.4zM216.9 432.2l1.7 .4l.8 -.9l-1.7 -.4zM216.1 430.9l1.7 .4l.8 -.9l-1.7 -.3zM216 428.7l1.7 .3l.8 -.9l-1.7 -.3zM173.7 415.9l1.6 .3l.9 -.8l-1.6 -.3zM176.2 415.3l1.6 .3l.9 -.8l-1.6 -.3zM177.1 414.5l1.6 .3l.9 -.8l-1.6 -.3zM211 421.3l1.7 .3l.8 -.9l-1.6 -.3zM193.9 416.8l11.3 2.3l.8 -.9l-11.3 -2.3zM180.4 413.1l6.3 1.3l.9 -.8l-6.3 -1.3z"/><path fill="#0c0cf2" stroke="#0c0cf2" stroke-width=".4" d="M127.4 456.7l3.5 .8l1.2 -1.1l-3.5 -.8zM159.3 464.2l5.4 1.3l1.1 -1.1l-5.4 -1.3zM123.4 454.4l1.7 .4l1.2 -1.1l-1.7 -.4zM135.6 457.2l1.7 .4l1.1 -1.1l-1.7 -.4zM144.4 459.3l1.8 .4l1.1 -1.1l-1.8 -.4zM165.9 464.4l1.8 .4l1.1 -1.1l-1.8 -.4zM121.2 452.5l1.7 .4l1.2 -1.1l-1.7 -.4zM168.8 463.7l1.8 .4l1.1 -1.1l-1.8 -.4zM120.7 451.1l1.7 .4l1.2 -1l-1.7 -.4zM169.8 462.5l1.8 .4l1.1 -1.1l-1.8 -.4zM118.5 449.2l1.7 .4l1.2 -1l-1.7 -.4zM170.9 461.4l1.8 .4l1 -1.1l-1.8 -.4zM118 447.8l1.7 .4l1.2 -1l-1.7 -.4zM117.5 446.4l1.7 .4l1.2 -1l-1.7 -.4zM171.2 458.8l1.8 .4l1 -1.1l-1.8 -.4zM117 445l1.7 .4l1.2 -1l-1.7 -.4zM170.4 457.3l1.8 .4l1 -1.1l-1.8 -.4zM117.6 442.6l1.7 .4l1.1 -1l-1.7 -.4zM170.7 454.7l1.8 .4l1 -1.1l-1.8 -.4zM170 453.3l1.8 .4l1 -1.1l-1.8 -.4zM169.3 451.8l1.8 .4l1 -1.1l-1.8 -.4zM168.6 450.4l1.8 .4l1 -1l-1.7 -.4zM132.1 440.9l6.7 1.5l1.1 -1l-6.7 -1.5zM166.1 448.5l1.7 .4l1 -1l-1.7 -.4zM123.3 437.7l6.6 1.5l1.1 -1l-6.6 -1.5zM141.5 441.8l3.4 .8l1.1 -1l-3.4 -.7zM160.2 446l3.4 .8l1 -1l-3.4 -.8zM149.3 442.3l3.4 .8l1.1 -1l-3.4 -.7zM157.8 444.2l1.7 .4l1 -1l-1.7 -.4zM176.4 428.2l8.3 1.7l.9 -.9l-8.3 -1.7zM174 426.6l3.3 .7l.9 -.9l-3.3 -.7zM188.9 429.7l8.4 1.8l.9 -.9l-8.4 -1.7zM173.4 425.4l1.6 .3l.9 -.9l-1.6 -.3zM210.1 433l1.7 .4l.9 -.9l-1.7 -.4zM172.7 424.1l1.6 .3l.9 -.9l-1.6 -.3zM173.6 423.2l1.6 .3l.9 -.9l-1.6 -.3zM214.3 430.5l1.7 .4l.8 -.9l-1.7 -.3zM213.5 429.3l1.7 .3l.8 -.9l-1.7 -.3zM174.8 420.3l1.6 .3l.9 -.9l-1.6 -.3zM212.6 428l1.7 .3l.8 -.9l-1.7 -.3zM175.7 419.4l1.6 .3l.9 -.9l-1.6 -.3zM176.6 418.5l1.6 .3l.9 -.9l-1.6 -.3zM212.6 425.8l1.7 .3l.8 -.9l-1.7 -.3zM177.5 417.7l1.6 .3l.9 -.9l-1.6 -.3zM211.8 424.6l1.7 .3l.8 -.9l-1.7 -.3zM178.4 416.8l1.6 .3l.9 -.9l-1.6 -.3zM211 423.4l1.7 .3l.8 -.9l-1.7 -.3zM179.3 416l1.6 .3l.9 -.8l-1.6 -.3zM206.8 421.5l5 1l.8 -.9l-4.9 -1zM180.2 415.1l1.6 .3l.9 -.8l-1.6 -.3zM188.2 416.7l16.2 3.2l.8 -.9l-16.2 -3.2zM181.1 414.3l4.8 1l.9 -.8l-4.8 -.9z"/><path fill="#0d0de5" stroke="#0d0de5" stroke-width=".4" d="M146.8 461.2l1.8 .4l1.1 -1.1l-1.8 -.4zM155.7 463.4l3.6 .9l1.1 -1.1l-3.6 -.8zM125.2 454.8l1.7 .4l1.2 -1.1l-1.7 -.4zM133.8 456.8l1.7 .4l1.1 -1.1l-1.7 -.4zM146.1 459.7l1.8 .4l1.1 -1.1l-1.8 -.4zM162.2 463.5l3.6 .9l1.1 -1.1l-3.6 -.8zM122.9 452.9l1.7 .4l1.2 -1.1l-1.7 -.4zM138.5 456.6l8.8 2.1l1.1 -1.1l-8.8 -2zM166.9 463.2l1.8 .4l1.1 -1.1l-1.8 -.4zM122.4 451.5l1.7 .4l1.2 -1.1l-1.7 -.4zM120.2 449.6l1.7 .4l1.2 -1l-1.7 -.4zM169.1 461l1.8 .4l1.1 -1.1l-1.8 -.4zM119.6 448.2l1.7 .4l1.2 -1l-1.7 -.4zM170.1 459.9l1.8 .4l1 -1.1l-1.8 -.4zM119.1 446.8l1.7 .4l1.2 -1l-1.7 -.4zM169.4 458.4l1.8 .4l1 -1.1l-1.8 -.4zM118.6 445.4l1.7 .4l1.2 -1l-1.7 -.4zM168.7 456.9l1.8 .4l1 -1.1l-1.8 -.4zM118.1 444l1.7 .4l1.2 -1l-1.7 -.4zM169.7 455.8l1.8 .4l1 -1.1l-1.8 -.4zM119.3 443l1.7 .4l1.1 -1l-1.7 -.4zM169 454.3l1.8 .4l1 -1.1l-1.8 -.4zM118.8 441.6l1.7 .4l1.1 -1l-1.6 -.4zM168.2 452.9l1.8 .4l1 -1.1l-1.8 -.4zM119.9 440.6l1.6 .4l1.1 -1l-1.6 -.4zM167.5 451.4l1.8 .4l1 -1.1l-1.8 -.4zM121.1 439.7l1.6 .4l1.1 -1l-1.6 -.4zM134.3 442.6l1.7 .4l1.1 -1l-1.7 -.4zM166.8 450l1.7 .4l1 -1l-1.7 -.4zM122.2 438.7l1.6 .4l1.1 -1l-1.6 -.4zM127.1 439.8l5 1.1l1.1 -1l-5 -1.1zM138.8 442.4l3.4 .8l1.1 -1l-3.4 -.7zM159.2 447l6.9 1.6l1 -1l-6.9 -1.5zM144.9 442.5l5.1 1.1l1.1 -1l-5.1 -1.1zM156.8 445.2l3.4 .8l1 -1l-3.4 -.8zM152.7 443l5.1 1.1l1 -1l-5.1 -1.1zM177.3 427.3l3.3 .7l.9 -.9l-3.3 -.7zM183.9 428.7l5 1l.9 -.9l-5 -1zM175 425.7l1.6 .3l.9 -.9l-1.6 -.3zM193.2 429.5l16.9 3.5l.9 -.9l-16.9 -3.5zM174.3 424.5l1.6 .3l.9 -.9l-1.6 -.3zM212.7 432.4l1.7 .4l.8 -.9l-1.7 -.4zM213.5 431.5l1.7 .4l.8 -.9l-1.7 -.4zM174.5 422.3l1.6 .3l.9 -.9l-1.6 -.3zM175.5 421.5l1.6 .3l.9 -.9l-1.6 -.3zM176.4 420.6l1.6 .3l.9 -.9l-1.6 -.3zM211 427.7l1.7 .3l.8 -.9l-1.7 -.3zM177.3 419.7l1.6 .3l.9 -.9l-1.6 -.3zM210.1 426.4l3.4 .7l.8 -.9l-3.4 -.7zM178.2 418.9l1.6 .3l.9 -.9l-1.6 -.3zM211 425.5l1.7 .3l.8 -.9l-1.7 -.3zM179.1 418l1.6 .3l.9 -.9l-1.6 -.3zM210.1 424.3l1.7 .3l.8 -.9l-1.7 -.3zM207.7 422.7l3.3 .7l.8 -.9l-3.3 -.7zM180.9 416.3l1.6 .3l.9 -.8l-1.6 -.3zM200.3 420.2l6.6 1.3l.8 -.9l-6.5 -1.3zM181.8 415.4l6.4 1.3l.9 -.9l-6.4 -1.3z"/><path fill="#0f0fd7" stroke="#0f0fd7" stroke-width=".4" d="M148.6 461.7l7.2 1.7l1.1 -1.1l-7.2 -1.7zM132.1 456.4l1.7 .4l1.2 -1.1l-1.7 -.4zM147.9 460.1l1.8 .4l1.1 -1.1l-1.8 -.4zM158.6 462.7l3.6 .8l1.1 -1.1l-3.6 -.8zM124.6 453.3l1.7 .4l1.2 -1.1l-1.7 -.4zM136.7 456.2l1.7 .4l1.1 -1.1l-1.7 -.4zM165.1 462.8l1.8 .4l1.1 -1.1l-1.8 -.4zM141.3 455.9l5.3 1.2l1.1 -1.1l-5.2 -1.2zM168 462.1l1.8 .4l1.1 -1.1l-1.8 -.4zM121.9 450l1.7 .4l1.2 -1l-1.7 -.4zM167.3 460.6l1.8 .4l1.1 -1.1l-1.8 -.4zM121.3 448.6l1.7 .4l1.2 -1l-1.7 -.4zM166.5 459.1l3.6 .8l1.1 -1.1l-3.6 -.8zM120.8 447.2l1.7 .4l1.2 -1l-1.7 -.4zM167.6 458l1.8 .4l1 -1.1l-1.8 -.4zM120.3 445.8l1.7 .4l1.2 -1l-1.7 -.4zM166.9 456.5l1.8 .4l1 -1.1l-1.8 -.4zM119.8 444.4l3.3 .8l1.1 -1l-3.3 -.8zM167.9 455.4l1.8 .4l1 -1.1l-1.8 -.4zM120.9 443.4l3.3 .8l1.1 -1l-3.3 -.8zM167.2 453.9l1.8 .4l1 -1.1l-1.8 -.4zM120.4 442l10 2.3l1.1 -1l-10 -2.3zM121.6 441l13.3 3l1.1 -1l-13.3 -3zM122.7 440l11.6 2.6l1.1 -1l-11.6 -2.6zM136 443l3.4 .8l1.1 -1l-3.4 -.8zM156.4 447.6l3.5 .8l1 -1l-3.4 -.8zM163.3 449.2l3.5 .8l1 -1l-3.5 -.8zM123.8 439l3.3 .7l1.1 -1l-3.3 -.7zM142.1 443.2l3.4 .8l1.1 -1l-3.4 -.8zM155.7 446.2l3.4 .8l1 -1l-3.4 -.8zM150 443.7l6.8 1.5l1 -1l-6.8 -1.5zM180.6 428l3.3 .7l.9 -.9l-3.3 -.7zM176.6 426l16.6 3.4l.9 -.9l-16.5 -3.4zM175.9 424.8l28.2 5.9l.9 -.9l-28.2 -5.8zM210.9 432.1l1.7 .4l.9 -.9l-1.7 -.4zM175.2 423.6l8.2 1.7l.9 -.9l-8.1 -1.7zM176.2 422.7l1.6 .3l.9 -.9l-1.6 -.3zM179.4 423.4l3.3 .7l.9 -.9l-3.3 -.7zM212.6 430.2l1.7 .4l.8 -.9l-1.7 -.3zM177.1 421.8l1.6 .3l.9 -.9l-1.6 -.3zM203.4 427.2l3.4 .7l.9 -.9l-3.3 -.7zM211.8 428.9l1.7 .3l.8 -.9l-1.7 -.3zM178 420.9l1.6 .3l.9 -.9l-1.6 -.3zM204.3 426.3l6.7 1.4l.8 -.9l-6.7 -1.4zM178.9 420l1.6 .3l.9 -.9l-1.6 -.3zM205.1 425.4l5 1l.8 -.9l-5 -1zM179.8 419.2l3.2 .7l.9 -.9l-3.2 -.7zM206 424.5l5 1l.8 -.9l-5 -1zM180.7 418.3l3.2 .7l.9 -.9l-3.2 -.6zM206.8 423.6l3.3 .7l.8 -.9l-3.3 -.7zM180 417.1l4.8 1l.9 -.9l-4.8 -1zM204.4 422l3.3 .7l.8 -.9l-3.3 -.7zM182.5 416.6l17.8 3.6l.9 -.9l-17.7 -3.6z"/><path fill="#1010c3" stroke="#1010c3" stroke-width=".4" d="M126.9 455.2l5.2 1.2l1.2 -1.1l-5.2 -1.2zM156.8 462.2l1.8 .4l1.1 -1.1l-1.8 -.4zM135 455.8l1.7 .4l1.1 -1.1l-1.7 -.4zM147.3 458.6l1.8 .4l1.1 -1.1l-1.8 -.4zM159.7 461.5l5.4 1.3l1.1 -1.1l-5.4 -1.3zM124.1 451.9l1.7 .4l1.2 -1.1l-1.7 -.4zM139.6 455.5l1.7 .4l1.1 -1.1l-1.7 -.4zM146.6 457.1l1.8 .4l1.1 -1.1l-1.8 -.4zM160.8 460.4l7.2 1.7l1.1 -1.1l-7.2 -1.7zM123.5 450.4l1.7 .4l1.2 -1l-1.7 -.4zM140.7 454.4l8.7 2l1.1 -1.1l-8.7 -2zM161.9 459.3l5.4 1.3l1.1 -1.1l-5.4 -1.2zM123 449l3.4 .8l1.2 -1l-3.4 -.8zM141.9 453.4l8.7 2l1.1 -1.1l-8.7 -2zM163 458.2l3.6 .8l1.1 -1.1l-3.6 -.8zM122.5 447.6l5.1 1.2l1.1 -1l-5.1 -1.2zM143 452.3l8.7 2l1.1 -1.1l-8.7 -2zM164 457.1l3.6 .8l1.1 -1.1l-3.6 -.8zM122 446.2l6.7 1.5l1.1 -1l-6.7 -1.5zM144.1 451.2l8.7 2l1.1 -1.1l-8.7 -2zM165.1 456.1l1.8 .4l1.1 -1.1l-1.8 -.4zM123.1 445.1l8.4 1.9l1.1 -1l-8.4 -1.9zM145.2 450.2l8.7 2l1.1 -1.1l-8.6 -2zM166.2 455l1.8 .4l1 -1.1l-1.8 -.4zM124.3 444.1l8.4 1.9l1.1 -1l-8.4 -1.9zM146.3 449.2l8.6 2l1.1 -1l-8.6 -2zM130.4 444.3l5 1.1l1.1 -1l-5 -1.1zM144 447.3l13.8 3.1l1.1 -1l-13.8 -3.1zM166.5 452.5l1.8 .4l1 -1.1l-1.8 -.4zM134.9 444l3.4 .8l1.1 -1l-3.4 -.8zM145 446.3l15.5 3.5l1.1 -1l-15.5 -3.5zM164 450.6l3.5 .8l1 -1l-3.5 -.8zM139.4 443.8l17 3.8l1.1 -1l-17 -3.8zM159.9 448.4l3.5 .8l1 -1l-3.5 -.8zM145.5 443.9l10.2 2.3l1.1 -1l-10.2 -2.3zM204.1 430.7l3.4 .7l.9 -.9l-3.4 -.7zM209.2 431.7l1.7 .4l.9 -.9l-1.7 -.4zM183.4 425.3l21.6 4.5l.9 -.9l-21.6 -4.4zM211.8 431.1l1.7 .4l.8 -.9l-1.7 -.4zM177.8 423l1.6 .3l.9 -.9l-1.6 -.3zM182.7 424l4.9 1l.9 -.9l-4.9 -1zM197.5 427.1l10.1 2.1l.9 -.9l-10 -2.1zM211 429.8l1.7 .3l.8 -.9l-1.7 -.3zM178.7 422.1l8.1 1.7l.9 -.9l-8.1 -1.7zM200.1 426.5l3.3 .7l.9 -.9l-3.3 -.7zM206.7 427.9l5.1 1l.8 -.9l-5 -1zM179.6 421.3l8.1 1.7l.9 -.9l-8.1 -1.7zM200.9 425.6l3.3 .7l.9 -.9l-3.3 -.7zM180.5 420.4l6.5 1.3l.9 -.9l-6.5 -1.3zM201.8 424.7l3.3 .7l.9 -.9l-3.3 -.7zM183 419.8l4.9 1l.9 -.9l-4.8 -1zM202.6 423.8l3.3 .7l.8 -.9l-3.3 -.7zM183.9 419l6.5 1.3l.9 -.9l-6.5 -1.3zM203.5 422.9l3.3 .7l.8 -.9l-3.3 -.7zM184.8 418.1l9.7 2l.9 -.9l-9.7 -1.9zM197.8 420.7l6.6 1.3l.8 -.9l-6.5 -1.3z"/><path fill="#1212aa" stroke="#1212aa" stroke-width=".4" d="M149.7 460.6l1.8 .4l1.1 -1.1l-1.8 -.4zM153.2 461.4l3.6 .8l1.1 -1.1l-3.6 -.8zM126.3 453.7l1.7 .4l1.2 -1.1l-1.7 -.4zM133.2 455.3l1.7 .4l1.1 -1.1l-1.7 -.4zM149 459l1.8 .4l1.1 -1.1l-1.8 -.4zM157.9 461.1l1.8 .4l1.1 -1.1l-1.8 -.4zM125.8 452.3l1.7 .4l1.2 -1.1l-1.7 -.4zM137.9 455.1l1.7 .4l1.1 -1.1l-1.7 -.4zM148.4 457.5l1.8 .4l1.1 -1.1l-1.8 -.4zM159 460l1.8 .4l1.1 -1.1l-1.8 -.4zM125.2 450.8l1.7 .4l1.2 -1l-1.7 -.4zM139 454l1.7 .4l1.1 -1.1l-1.7 -.4zM149.5 456.4l1.8 .4l1.1 -1.1l-1.8 -.4zM160.1 458.9l1.8 .4l1.1 -1.1l-1.8 -.4zM126.4 449.8l1.7 .4l1.1 -1l-1.7 -.4zM140.1 453l1.7 .4l1.1 -1.1l-1.7 -.4zM150.6 455.4l1.8 .4l1.1 -1.1l-1.8 -.4zM161.2 457.8l1.8 .4l1.1 -1.1l-1.8 -.4zM127.6 448.7l1.7 .4l1.1 -1l-1.7 -.4zM141.2 451.9l1.7 .4l1.1 -1.1l-1.7 -.4zM151.7 454.3l1.8 .4l1.1 -1.1l-1.7 -.4zM162.3 456.7l1.8 .4l1.1 -1.1l-1.8 -.4zM128.7 447.7l1.7 .4l1.1 -1l-1.7 -.4zM142.4 450.8l1.7 .4l1.1 -1l-1.7 -.4zM152.8 453.2l1.7 .4l1.1 -1.1l-1.7 -.4zM163.3 455.7l1.8 .4l1.1 -1.1l-1.8 -.4zM131.5 447.1l1.7 .4l1.1 -1l-1.7 -.4zM143.5 449.8l1.7 .4l1.1 -1l-1.7 -.4zM153.9 452.2l1.7 .4l1.1 -1.1l-1.7 -.4zM164.4 454.6l1.8 .4l1 -1.1l-1.8 -.4zM132.7 446l3.4 .8l1.1 -1l-3.4 -.8zM142.9 448.4l3.4 .8l1.1 -1l-3.4 -.8zM154.9 451.1l1.7 .4l1.1 -1l-1.7 -.4zM165.4 453.5l1.8 .4l1 -1.1l-1.8 -.4zM135.5 445.4l3.4 .8l1.1 -1l-3.4 -.8zM140.5 446.6l3.4 .8l1.1 -1l-3.4 -.8zM157.7 450.5l3.5 .8l1.1 -1l-3.5 -.8zM164.7 452.1l1.8 .4l1 -1.1l-1.8 -.4zM138.3 444.8l6.8 1.5l1.1 -1l-6.8 -1.5zM160.5 449.8l3.5 .8l1 -1l-3.5 -.8zM207.5 431.4l1.7 .4l.9 -.9l-1.7 -.4zM205 429.7l6.8 1.4l.8 -.9l-6.8 -1.4zM187.6 425l9.9 2l.9 -.9l-9.9 -2zM207.6 429.2l3.4 .7l.8 -.9l-3.4 -.7zM186.8 423.8l3.3 .7l.9 -.9l-3.3 -.7zM195.1 425.5l5 1l.9 -.9l-5 -1zM187.7 422.9l1.6 .3l.9 -.9l-1.6 -.3zM199.3 425.3l1.7 .3l.9 -.9l-1.7 -.3zM187 421.7l3.3 .7l.9 -.9l-3.3 -.7zM200.1 424.4l1.7 .3l.9 -.9l-1.7 -.3zM187.9 420.8l3.3 .7l.9 -.9l-3.2 -.7zM199.3 423.1l3.3 .7l.9 -.9l-3.3 -.7zM190.4 420.3l3.3 .7l.9 -.9l-3.2 -.7zM198.6 421.9l4.9 1l.9 -.9l-4.9 -1zM194.5 420.1l3.3 .7l.9 -.9l-3.3 -.7z"/><path fill="#141491" stroke="#141491" stroke-width=".4" d="M151.5 461l1.8 .4l1.1 -1.1l-1.8 -.4zM128.1 454.1l5.2 1.2l1.1 -1.1l-5.2 -1.2zM156.1 460.7l1.8 .4l1.1 -1.1l-1.8 -.4zM136.1 454.7l1.7 .4l1.1 -1.1l-1.7 -.4zM150.1 457.9l1.8 .4l1.1 -1.1l-1.8 -.4zM127 451.2l1.7 .4l1.2 -1l-1.7 -.4zM128.1 450.2l1.7 .4l1.1 -1l-1.7 -.4zM129.3 449.1l1.7 .4l1.1 -1l-1.7 -.4zM139.5 451.5l1.7 .4l1.1 -1.1l-1.7 -.4zM130.4 448.1l3.4 .8l1.1 -1l-3.4 -.8zM140.6 450.4l1.7 .4l1.1 -1l-1.7 -.4zM133.2 447.5l1.7 .4l1.1 -1l-1.7 -.4zM140 449l3.4 .8l1.1 -1l-3.4 -.8zM155.6 452.6l1.7 .4l1.1 -1.1l-1.7 -.4zM162.6 454.2l1.8 .4l1.1 -1.1l-1.8 -.4zM136 446.8l6.8 1.6l1.1 -1l-6.8 -1.5zM156.7 451.5l3.5 .8l1.1 -1.1l-3.5 -.8zM161.9 452.7l3.5 .8l1 -1.1l-3.5 -.8zM138.8 446.2l1.7 .4l1.1 -1l-1.7 -.4zM161.2 451.3l3.5 .8l1 -1.1l-3.5 -.8zM190.1 424.5l4.9 1l.9 -.9l-4.9 -1zM189.4 423.2l3.3 .7l.9 -.9l-3.3 -.7zM194.3 424.3l5 1l.9 -.9l-4.9 -1zM190.3 422.4l1.6 .3l.9 -.9l-1.6 -.3zM196.8 423.7l3.3 .7l.9 -.9l-3.3 -.7zM191.2 421.5l1.6 .3l.9 -.9l-1.6 -.3zM196.1 422.5l3.3 .7l.9 -.9l-3.3 -.7zM193.7 420.9l4.9 1l.9 -.9l-4.9 -1z"/><path fill="#1a128b" stroke="#1a128b" stroke-width=".4" d="M150.8 459.5l5.3 1.3l1.1 -1.1l-5.3 -1.2zM127.5 452.7l1.7 .4l1.2 -1.1l-1.7 -.4zM134.4 454.3l1.7 .4l1.1 -1.1l-1.7 -.4zM157.2 459.6l1.8 .4l1.1 -1.1l-1.8 -.4zM137.3 453.6l1.7 .4l1.1 -1.1l-1.7 -.4zM151.2 456.9l1.8 .4l1.1 -1.1l-1.8 -.4zM158.3 458.5l1.8 .4l1.1 -1.1l-1.8 -.4zM138.4 452.6l1.7 .4l1.1 -1.1l-1.7 -.4zM152.3 455.8l1.8 .4l1.1 -1.1l-1.8 -.4zM159.4 457.4l1.8 .4l1.1 -1.1l-1.8 -.4zM131 449.5l1.7 .4l1.1 -1l-1.7 -.4zM153.4 454.7l1.8 .4l1.1 -1.1l-1.8 -.4zM160.5 456.3l1.8 .4l1.1 -1.1l-1.8 -.4zM133.8 448.9l1.7 .4l1.1 -1l-1.7 -.4zM138.9 450.1l1.7 .4l1.1 -1l-1.7 -.4zM154.5 453.6l1.8 .4l1.1 -1.1l-1.7 -.4zM161.6 455.3l1.8 .4l1.1 -1.1l-1.8 -.4zM134.9 447.8l5.1 1.2l1.1 -1l-5.1 -1.2zM157.3 453l1.8 .4l1.1 -1.1l-1.7 -.4zM160.9 453.8l1.8 .4l1.1 -1.1l-1.8 -.4zM160.2 452.3l1.8 .4l1.1 -1.1l-1.7 -.4zM192.7 423.9l1.6 .3l.9 -.9l-1.6 -.3zM191.9 422.7l4.9 1l.9 -.9l-4.9 -1zM192.8 421.8l3.3 .7l.9 -.9l-3.3 -.7z"/><path fill="#201086" stroke="#201086" stroke-width=".4" d="M129.2 453.1l5.2 1.2l1.1 -1.1l-5.2 -1.2zM151.9 458.4l5.3 1.2l1.1 -1.1l-5.3 -1.2zM128.7 451.6l1.7 .4l1.1 -1.1l-1.7 -.4zM135.5 453.2l1.7 .4l1.1 -1.1l-1.7 -.4zM153 457.3l1.8 .4l1.1 -1.1l-1.8 -.4zM156.5 458.1l1.8 .4l1.1 -1.1l-1.8 -.4zM129.8 450.6l1.7 .4l1.1 -1l-1.7 -.4zM136.7 452.2l1.7 .4l1.1 -1.1l-1.7 -.4zM154.1 456.2l1.8 .4l1.1 -1.1l-1.8 -.4zM132.7 449.9l1.7 .4l1.1 -1l-1.7 -.4zM136.1 450.7l3.4 .8l1.1 -1l-3.4 -.8zM155.2 455.1l1.8 .4l1.1 -1.1l-1.8 -.4zM158.7 455.9l1.8 .4l1.1 -1.1l-1.8 -.4zM135.5 449.3l3.4 .8l1.1 -1l-3.4 -.8zM156.3 454l5.3 1.2l1.1 -1.1l-5.3 -1.2zM159.1 453.4l1.8 .4l1.1 -1.1l-1.8 -.4z"/><path fill="#271083" stroke="#271083" stroke-width=".4" d="M130.4 452l5.2 1.2l1.1 -1.1l-5.1 -1.2zM154.8 457.7l1.8 .4l1.1 -1.1l-1.8 -.4zM131.5 451l5.1 1.2l1.1 -1.1l-5.1 -1.2zM155.9 456.6l3.5 .8l1.1 -1.1l-3.5 -.8zM134.4 450.3l1.7 .4l1.1 -1l-1.7 -.4zM156.9 455.5l1.8 .4l1.1 -1.1l-1.8 -.4z"/><g stroke-width="1.0" stroke-linejoin="round"><path fill="#ff550a" stroke="#ff550a" d="M141.6 305.3l22.3 2.9l-1 .6l-22.4 -3z"/><path transform="matrix(1 0 0 0.1092 0 293.9)" fill="url(#gC)" stroke="url(#gC)" d="M163.9 131l1.6 35l-1 2l-1.6 -31zM165.6 166l1.6 60l-1 -6l-1.6 -52z"/><path fill="#ff550a" stroke="#ff550a" d="M175.4 310.3l92.4 11.6l-.7 .7l-92.6 -11.8zM140.6 305.9l22.4 3l-1 .6l-22.4 -3z"/><path transform="matrix(1 0 0 0.1095 0 294.4)" fill="url(#gC)" stroke="url(#gC)" d="M163 131l1.6 31l-1 2l-1.6 -27zM164.6 162l1.6 53l-1 -5l-1.7 -46z"/><path fill="#ff550a" stroke="#ff550a" d="M174.4 310.9l92.6 11.8l-.7 .7l-92.9 -11.9zM139.6 306.4l22.4 3l-1 .6l-22.5 -3z"/><path transform="matrix(1 0 0 0.1097 0 295)" fill="url(#gC)" stroke="url(#gC)" d="M162 131l1.6 27l-1 2l-1.6 -23zM163.6 158l1.7 46l-1 -5l-1.7 -39z"/><path fill="#ff550a" stroke="#ff550a" d="M173.5 311.4l6.6 .4l-.9 .6l-6.6 -.5z"/><path transform="matrix(1 0 0 0.1107 0 297.3)" fill="url(#gC)" stroke="url(#gC)" d="M180.1 131l1.7 2l-1 43l-1.6 -39zM181.8 133l1.7 10l-1 56l-1.7 -23zM183.4 143l1.7 4l-1 56l-1.7 -4zM185.1 147l1.7 -7l-1 55l-1.7 8z"/><path transform="matrix(1 0 0 0.1111 0 298.1)" fill="url(#gC)" stroke="url(#gC)" d="M186.8 132l1.7 1l-1 47l-1.7 7zM188.5 133l1.7 2l-1 40l-1.7 5zM190.2 135l1.7 2l-1 31l-1.7 7zM191.8 137l1.7 3l-.9 19l-1.7 9z"/><path fill="#ff550a" stroke="#ff550a" d="M193.5 313.6l72.8 9.7l-.7 .7l-73 -8.2zM138.5 307l22.5 3l-1 .6l-22.5 -3z"/><path transform="matrix(1 0 0 0.1099 0 295.5)" fill="url(#gC)" stroke="url(#gC)" d="M161 131l1.6 24l-1 1l-1.6 -19zM162.7 155l1.7 39l-1 -6l-1.7 -32z"/><path fill="#ff550a" stroke="#ff550a" d="M172.5 311.9l5 .3l-1 .6l-5 -.4z"/><path transform="matrix(1 0 0 0.1109 0 297.6)" fill="url(#gC)" stroke="url(#gC)" d="M177.5 131l1.7 3l-1 41l-1.7 -38zM179.2 134l1.6 38l-1 42l-1.6 -39zM180.8 172l1.7 23l-1 55l-1.6 -36zM182.4 195l1.7 4l-1 56l-1.7 -5z"/><path transform="matrix(1 0 0 0.1113 0 298.5)" fill="url(#gC)" stroke="url(#gC)" d="M184.1 191l1.7 -8l-1 56l-1.7 8zM185.8 183l1.7 -7l-1 55l-1.7 8zM187.5 176l1.7 -5l-1 53l-1.7 7zM189.2 171l1.7 -6l-1 58l-1.7 1z"/><path transform="matrix(1 0 0 0.1117 0 299.3)" fill="url(#gC)" stroke="url(#gC)" d="M190.9 157l1.7 -10l-1 60l-1.7 7zM192.6 147l1.7 -7l-1 60l-1.7 7zM194.3 140l1.7 2l-1 57l-1.7 1zM196 142l1.7 -2l-1 58l-1.7 1z"/><path transform="matrix(1 0 0 0.1120 0 300.2)" fill="url(#gC)" stroke="url(#gC)" d="M197.7 131l1.7 3l-1 58l-1.7 -2zM199.5 134l1.7 2l-1 58l-1.7 -2zM201.2 136l1.7 2l-1 59l-1.7 -3zM202.9 138l1.7 2l-1 60l-1.7 -3z"/><path transform="matrix(1 0 0 0.1124 0 301)" fill="url(#gC)" stroke="url(#gC)" d="M204.6 131l1.7 3l-1 59l-1.7 -1zM206.3 134l1.7 2l-1 58l-1.7 -1zM208.1 136l1.7 2l-1 48l-1.8 8zM209.8 138l1.7 2l-1 43l-1.8 3z"/><path transform="matrix(1 0 0 0.1128 0 301.9)" fill="url(#gC)" stroke="url(#gC)" d="M211.5 131l1.7 3l-1 34l-1.8 7zM213.3 134l1.7 2l-.9 25l-1.8 7zM215 136l1.8 2l-.9 16l-1.8 7z"/><path fill="#ff550a" stroke="#ff550a" d="M216.8 317.4l48.8 6.5l-.7 .7l-49 -5.3zM137.5 307.6l24.2 5.1l-1 .2l-24.2 -4.7z"/><path transform="matrix(1 0 0 0.1103 0 296.3)" fill="url(#gC)" stroke="url(#gC)" d="M161.7 149l1.7 32l-1 -5l-1.7 -26z"/><path transform="matrix(1 0 0 0.1108 0 297.3)" fill="url(#gC)" stroke="url(#gC)" d="M168.9 162l1.7 -21l1 -5l-1.7 28z"/><path fill="#ff550a" stroke="#ff550a" d="M171.5 312.4l3.3 .1l-1 .6l-3.3 -.2z"/><path transform="matrix(1 0 0 0.1110 0 298)" fill="url(#gC)" stroke="url(#gC)" d="M174.9 131l1.7 2l-1 44l-1.7 -40zM176.5 133l1.7 39l-1 43l-1.7 -38zM178.2 172l1.6 39l-1 41l-1.6 -37zM179.8 211l1.6 36l-1 60l-1.6 -55z"/><path transform="matrix(1 0 0 0.1114 0 298.8)" fill="url(#gC)" stroke="url(#gC)" d="M181.5 239l1.7 4l-1 84l-1.6 -29zM183.1 243l1.7 -7l-1 97l-1.7 -6zM184.8 236l1.7 -8l-1 84l-1.7 21zM186.5 228l1.7 -7l-1 57l-1.7 34z"/><path transform="matrix(1 0 0 0.1118 0 299.7)" fill="url(#gC)" stroke="url(#gC)" d="M188.2 212l1.7 -1l-1 57l-1.7 2zM189.9 211l1.7 -8l-1 62l-1.7 3zM191.6 203l1.7 -7l-1 62l-1.7 7zM193.3 196l1.7 0l-1 54l-1.7 8z"/><path transform="matrix(1 0 0 0.1122 0 300.5)" fill="url(#gC)" stroke="url(#gC)" d="M195 187l1.7 -1l-1 57l-1.7 -2zM196.7 186l1.7 2l-1 58l-1.7 -3zM198.4 188l1.7 3l-1 57l-1.7 -2zM200.1 191l1.7 3l-1 57l-1.7 -3z"/><path transform="matrix(1 0 0 0.1126 0 301.4)" fill="url(#gC)" stroke="url(#gC)" d="M201.9 185l1.7 3l-1 56l-1.7 -2zM203.6 188l1.7 2l-1 55l-1.7 -1zM205.3 190l1.7 1l-1 56l-1.7 -2zM207 191l1.8 -9l-1 58l-1.8 7z"/><path transform="matrix(1 0 0 0.1130 0 302.3)" fill="url(#gC)" stroke="url(#gC)" d="M208.8 174l1.8 -3l-1 54l-1.8 6zM210.5 171l1.8 -7l-1.1 59l-1.8 2zM212.3 164l1.8 -7l-1.1 63l-1.8 3zM214.1 157l1.8 -6l-1.1 62l-1.8 7z"/><path transform="matrix(1 0 0 0.1134 0 303.1)" fill="url(#gC)" stroke="url(#gC)" d="M215.9 142l1.8 2l-1.1 58l-1.8 3zM217.6 144l1.8 -8l-1.1 57l-1.8 9zM219.4 136l1.8 2l-1 44l-1.8 11zM221.2 138l1.8 2l-1 33l-1.8 9z"/><path transform="matrix(1 0 0 0.1138 0 304)" fill="url(#gC)" stroke="url(#gC)" d="M223 132l1.8 2l-.9 23l-1.8 7z"/><path fill="#ff550a" stroke="#ff550a" d="M224.8 319.2l40.1 5.4l-.7 .7l-40.3 -3.4zM136.5 308.1l24.2 4.7l-1 .2l-24.3 -4.3z"/><path transform="matrix(1 0 0 0.1105 0 296.9)" fill="url(#gC)" stroke="url(#gC)" d="M160.7 145l1.7 25l-1 -5l-1.7 -19z"/><path transform="matrix(1 0 0 0.1110 0 297.9)" fill="url(#gC)" stroke="url(#gC)" d="M167.9 155l1.7 -15l1 -4l-1.7 21z"/><path fill="#ff550a" stroke="#ff550a" d="M170.6 312.9l1.7 -0l-1 .6l-1.7 -.1z"/><path transform="matrix(1 0 0 0.1112 0 298.3)" fill="url(#gC)" stroke="url(#gC)" d="M172.2 131l1.7 3l-1 46l-1.7 -43zM173.9 134l1.7 40l-1 47l-1.7 -41zM175.6 174l1.7 37l-1 46l-1.7 -36zM177.2 211l1.6 38l-1 59l-1.6 -51z"/><path transform="matrix(1 0 0 0.1116 0 299.2)" fill="url(#gC)" stroke="url(#gC)" d="M178.9 240l1.6 55l-1 63l-1.6 -58zM180.5 295l1.6 28l-1 89l-1.6 -54zM185.5 308l1.7 -33l-1.1 147l-1.7 19z"/><path transform="matrix(1 0 0 0.1121 0 300.2)" fill="url(#gC)" stroke="url(#gC)" d="M187.2 264l1.7 -2l-1.1 127l-1.7 21zM188.9 262l1.7 -3l-1.1 111l-1.7 19zM190.6 259l1.7 -7l-1.1 107l-1.7 11zM192.3 252l1.7 -8l-1.1 92l-1.7 23z"/><path transform="matrix(1 0 0 0.1124 0 301.1)" fill="url(#gC)" stroke="url(#gC)" d="M194 235l1.7 2l-1.1 90l-1.7 0zM195.7 237l1.7 3l-1.1 90l-1.7 -3zM197.4 240l1.7 3l-1.1 90l-1.7 -3zM199.1 243l1.7 2l-1.1 91l-1.7 -3z"/><path transform="matrix(1 0 0 0.1128 0 302)" fill="url(#gC)" stroke="url(#gC)" d="M200.8 236l1.7 2l-1.1 91l-1.7 -2zM202.5 238l1.7 2l-1.1 91l-1.7 -2zM204.3 240l1.7 1l-1.1 82l-1.7 8zM206 241l1.8 -7l-1.1 80l-1.8 9z"/><path transform="matrix(1 0 0 0.1132 0 302.9)" fill="url(#gC)" stroke="url(#gC)" d="M207.7 225l1.8 -5l-1 56l-1.8 29zM209.5 220l1.8 -3l-1 51l-1.8 8zM211.3 217l1.8 -3l-1.1 59l-1.7 -5zM213 214l1.8 -6l-1.1 58l-1.8 7z"/><path transform="matrix(1 0 0 0.1136 0 303.7)" fill="url(#gC)" stroke="url(#gC)" d="M214.8 199l1.8 -2l-1 52l-1.8 8zM216.6 197l1.8 -10l-1 50l-1.8 12zM218.4 187l1.8 -11l-1 51l-1.8 10zM220.2 176l1.8 -9l-1.1 53l-1.8 7z"/><path transform="matrix(1 0 0 0.1140 0 304.6)" fill="url(#gC)" stroke="url(#gC)" d="M222 159l1.8 -8l-1.1 55l-1.8 5zM223.8 151l1.8 -10l-1.1 55l-1.8 10zM225.7 141l1.8 -3l-1 34l-1.9 24zM227.5 138l1.8 2l-.8 6l-1.9 26z"/><path fill="#ff550a" stroke="#ff550a" d="M229.3 320.6l34.8 4.7l-.8 .7l-34.9 -4.7zM135.4 308.7l24.3 4.3l-1 .2l-24.3 -3.9z"/><path transform="matrix(1 0 0 0.1108 0 297.4)" fill="url(#gC)" stroke="url(#gC)" d="M159.7 141l1.7 18l-1 -5l-1.7 -12zM165.3 165l1.7 -7l1 2l-1.6 14z"/><path fill="#ff550a" stroke="#ff550a" d="M167.9 315.1l3.3 -1.6l-1 1.5l-3.3 -.2z"/><path transform="matrix(1 0 0 0.1114 0 298.9)" fill="url(#gC)" stroke="url(#gC)" d="M171.3 131l1.7 44l-1 29l-1.7 -59zM172.9 175l1.7 40l-1 44l-1.7 -55zM174.6 215l1.7 37l-1 62l-1.6 -55zM176.3 252l1.6 50l-1 69l-1.6 -57z"/><path transform="matrix(1 0 0 0.1118 0 299.7)" fill="url(#gC)" stroke="url(#gC)" d="M177.9 294l1.6 58l-1 65l-1.6 -55z"/><path transform="matrix(1 0 0 0.1135 0 303.5)" fill="url(#gC)" stroke="url(#gC)" d="M206.6 299l1.8 -29l-1.3 129l-1.8 19zM208.5 270l1.8 -8l-1.2 118l-1.8 19zM210.2 262l1.7 5l-1.2 104l-1.8 9zM212 267l1.8 -7l-1.2 104l-1.8 7z"/><path transform="matrix(1 0 0 0.1139 0 304.3)" fill="url(#gC)" stroke="url(#gC)" d="M213.7 252l1.8 -9l-1.2 91l-1.8 21zM215.5 243l1.8 -12l-1.2 80l-1.8 23zM217.3 231l1.8 -10l-1.1 56l-1.9 34zM219.1 221l1.8 -7l-1.1 56l-1.8 7z"/><path transform="matrix(1 0 0 0.1143 0 305.2)" fill="url(#gC)" stroke="url(#gC)" d="M221 205l1.8 -5l-1.1 54l-1.8 7zM222.8 200l1.8 -10l-1.1 52l-1.8 12zM224.6 190l1.9 -24l-1 44l-1.9 32zM226.5 166l1.9 -26l-1 39l-2 31z"/><path transform="matrix(1 0 0 0.1147 0 306.2)" fill="url(#gC)" stroke="url(#gC)" d="M228.4 132l1.8 2l-.8 5l-2 31z"/><path fill="#ff550a" stroke="#ff550a" d="M230.2 321.5l33.1 4.5l-.8 .7l-33.2 -4.5zM134.4 309.3l26 5.2l-1 -.6l-26 -4z"/><path transform="matrix(1 0 0 0.1111 0 298.2)" fill="url(#gC)" stroke="url(#gC)" d="M159.3 141l1.7 5l1 12l-1.7 -11z"/><path fill="#ff550a" stroke="#ff550a" d="M164.3 314.7l5 .9l1 -.6l-5 .7z"/><path transform="matrix(1 0 0 0.1117 0 299.5)" fill="url(#gC)" stroke="url(#gC)" d="M170.3 140l1.7 58l-1 5l-1.7 -58zM172 198l1.7 55l-1 8l-1.7 -58zM173.6 253l1.6 55l-1 30l-1.7 -77z"/><path transform="matrix(1 0 0 0.1144 0 305.6)" fill="url(#gC)" stroke="url(#gC)" d="M218.1 265l1.8 -8l-1.3 116l-1.8 19zM219.9 257l1.8 -6l-1.3 96l-1.9 26zM221.7 251l1.8 -13l-1 42l-2.1 67zM223.5 238l1.9 -32l-1 47l-1.9 27z"/><path transform="matrix(1 0 0 0.1149 0 306.5)" fill="url(#gC)" stroke="url(#gC)" d="M225.5 198l2 -31l-1.1 48l-1.9 29zM227.4 167l2 -31l-1 43l-2 36zM229.4 136l1.8 2l-.9 12l-2 29z"/><path fill="#ff550a" stroke="#ff550a" d="M231.2 322.4l31.4 4.2l-.8 .7l-31.5 -3.5zM133.3 309.9l36 5.8l-1 .4l-36.1 -5.6z"/><path transform="matrix(1 0 0 0.1119 0 300)" fill="url(#gC)" stroke="url(#gC)" d="M169.3 139l1.7 59l-1 2l-1.7 -57zM171 198l1.7 57l-1 2l-1.7 -57zM172.7 255l1.7 77l-1 4l-1.7 -79z"/><path transform="matrix(1 0 0 0.1150 0 306.9)" fill="url(#gC)" stroke="url(#gC)" d="M222.5 267l1.9 -27l-1.1 68l-2.2 81zM224.4 240l1.9 -29l-1 43l-2.1 54zM226.4 211l2 -35l-1.1 50l-1.9 28zM228.4 176l2 -30l-1 43l-2 37z"/><path transform="matrix(1 0 0 0.1154 0 307.9)" fill="url(#gC)" stroke="url(#gC)" d="M230.3 138l1.8 -4l-.8 5l-2 41z"/><path fill="#ff550a" stroke="#ff550a" d="M232.2 323.3l29.6 4l-.8 .7l-29.7 -4zM132.2 310.5l36.1 5.6l-1 .5l-36.2 -5.5z"/><path transform="matrix(1 0 0 0.1122 0 300.6)" fill="url(#gC)" stroke="url(#gC)" d="M168.3 137l1.7 57l-1 3l-1.7 -55zM170 194l1.7 57l-1 2l-1.7 -56zM171.7 251l1.7 79l-1 3l-1.7 -80z"/><path transform="matrix(1 0 0 0.1155 0 308)" fill="url(#gC)" stroke="url(#gC)" d="M225.4 243l1.9 -28l-1 37l-2.1 66zM227.3 215l2 -36l-1 32l-2 41zM229.3 179l2 -41l-1 28l-2.1 45zM231.3 138l1.8 2l-.8 6l-1.9 20z"/><path fill="#ff550a" stroke="#ff550a" d="M233.2 324.2l27.9 3.8l-.8 .7l-28 -3.8zM131.2 311l36.2 5.5l-1 .8l-36.3 -5.8z"/><path transform="matrix(1 0 0 0.1124 0 301.2)" fill="url(#gC)" stroke="url(#gC)" d="M167.3 137l1.7 54l-1 7l-1.7 -54zM169 191l1.7 56l-1 7l-1.7 -56zM170.7 247l1.7 80l-1 7l-1.7 -80z"/><path transform="matrix(1 0 0 0.1159 0 308.9)" fill="url(#gC)" stroke="url(#gC)" d="M226.3 244l2 -41l-.9 25l-2 43zM228.3 203l2.1 -45l-1 30l-2 40zM230.4 158l1.9 -20l-.8 6l-2.1 44z"/><path fill="#ff550a" stroke="#ff550a" d="M232.3 324.9l28 3.8l-.8 .7l-28 -3.8zM130.1 311.6l36.3 5.8l-1 1l-36.3 -6.2z"/><path transform="matrix(1 0 0 0.1127 0 301.8)" fill="url(#gC)" stroke="url(#gC)" d="M166.3 138l1.7 55l-1 10l-1.7 -55zM168 193l1.7 55l-1 11l-1.7 -56zM169.7 248l1.7 80l-1 12l-1.7 -81z"/><path transform="matrix(1 0 0 0.1162 0 309.8)" fill="url(#gC)" stroke="url(#gC)" d="M227.4 219l2 -39l-1 28l-2 40zM229.4 180l2.1 -44l-1 26l-2.1 46zM231.5 136l1.8 2l-.8 6l-2 18z"/><path fill="#ff550a" stroke="#ff550a" d="M233.3 325.8l26.2 3.6l-.8 .7l-26.3 -3.6zM129 312.2l36.3 6.2l-1 .9l-36.4 -6.5z"/><path transform="matrix(1 0 0 0.1129 0 302.4)" fill="url(#gC)" stroke="url(#gC)" d="M165.3 142l1.7 55l-1 10l-1.7 -57zM167 197l1.7 56l-1 12l-1.7 -58zM168.8 253l1.7 81l-1 13l-1.7 -82z"/><path fill="#ff550a" stroke="#ff550a" d="M232.5 326.5l26.3 3.6l-.8 .7l-26.3 -3.6zM127.9 312.8l36.4 6.5l-1 .5l-36.5 -6.4z"/><path transform="matrix(1 0 0 0.1132 0 303)" fill="url(#gC)" stroke="url(#gC)" d="M164.3 145l1.7 57l-1 6l-1.7 -59zM166.1 202l1.7 57l-1 10l-1.7 -61zM167.8 259l1.7 82l-1 13l-1.7 -85z"/><path transform="matrix(1 0 0 0.1148 0 306.6)" fill="url(#gC)" stroke="url(#gC)" d="M190.8 780l1.6 22l-.9 18l-1.6 -26z"/><path fill="#ff550a" stroke="#ff550a" d="M231.6 327.2l26.3 3.6l-.8 .7l-26.4 -3.7zM126.8 313.4l36.5 6.4l-1 .3l-36.6 -6z"/><path transform="matrix(1 0 0 0.1135 0 303.6)" fill="url(#gC)" stroke="url(#gC)" d="M163.3 143l1.7 60l-1 4l-1.7 -62zM165 203l1.7 60l-1 7l-1.7 -63zM166.8 263l1.7 85l-1 50l-1.7 -128z"/><path transform="matrix(1 0 0 0.1151 0 307.2)" fill="url(#gC)" stroke="url(#gC)" d="M189.9 787l1.6 26l-.9 5l-1.6 -25z"/><path transform="matrix(1 0 0 0.1171 0 311.9)" fill="url(#gC)" stroke="url(#gC)" d="M226.6 227l2.1 -48l-1 26l-2.1 43zM228.7 179l2.1 -43l-1 33l-2 36zM230.8 136l1.9 2l-.9 6l-2 25z"/><path fill="#ff550a" stroke="#ff550a" d="M232.6 328.1l24.5 3.4l-.8 .7l-24.6 -3.4zM125.7 314l36.6 6l-1 -.1l-36.6 -5.3z"/><path transform="matrix(1 0 0 0.1137 0 304.2)" fill="url(#gC)" stroke="url(#gC)" d="M162.3 140l1.7 61l-1 -4l-1.8 -58zM164 201l1.7 63l-1 -4l-1.7 -63zM165.8 264l1.7 128l-1 9l-1.8 -141z"/><path transform="matrix(1 0 0 0.1155 0 308.3)" fill="url(#gC)" stroke="url(#gC)" d="M191.3 820l1.7 12l.9 9l-1.6 -13zM193 832l1.7 2l.9 9l-1.7 -2zM194.7 834l1.7 -4l.9 5l-1.7 8zM196.4 830l1.7 -8l.9 0l-1.7 13z"/><path transform="matrix(1 0 0 0.1159 0 309.2)" fill="url(#gC)" stroke="url(#gC)" d="M198.1 811l1.7 -11l.9 -4l-1.7 15zM199.8 800l1.7 -13l.9 -7l-1.7 16z"/><path transform="matrix(1 0 0 0.1175 0 312.8)" fill="url(#gC)" stroke="url(#gC)" d="M227.7 197l2 -36l-1 31l-2 35zM229.8 161l2 -25l-.9 18l-2.1 38z"/><path fill="#ff550a" stroke="#ff550a" d="M231.8 328.8l24.6 3.4l-.8 .7l-24.7 -2zM124.6 314.6l36.6 5.3l-1 .4l-36.7 -5.2z"/><path transform="matrix(1 0 0 0.1140 0 304.8)" fill="url(#gC)" stroke="url(#gC)" d="M161.3 133l1.8 59l-1 2l-1.8 -57zM163 192l1.7 63l-1 22l-1.8 -83zM164.7 255l1.8 140l-1 33l-1.8 -151z"/><path transform="matrix(1 0 0 0.1157 0 308.7)" fill="url(#gC)" stroke="url(#gC)" d="M188.8 786l1.7 14l.9 16l-1.6 -20zM190.5 800l1.7 8l.9 20l-1.7 -12zM192.2 808l1.7 2l.8 19l-1.7 -1zM193.8 810l1.7 0l.8 15l-1.7 4z"/><path transform="matrix(1 0 0 0.1161 0 309.6)" fill="url(#gC)" stroke="url(#gC)" d="M195.5 799l1.7 -1l.9 8l-1.7 8zM197.2 798l1.7 -4l.9 2l-1.7 10zM198.9 794l1.7 -9l.9 -3l-1.7 14z"/><path transform="matrix(1 0 0 0.1178 0 313.5)" fill="url(#gC)" stroke="url(#gC)" d="M226.7 221l2 -35l-1 35l-2 30zM228.8 186l2.1 -38l-1.1 41l-2 32zM230.8 148l1.9 -10l-.9 10l-2.1 41z"/><path fill="#ff550a" stroke="#ff550a" d="M232.8 329.8l22.8 3.2l-.8 .7l-22.9 -2.8zM123.5 315.2l36.7 5.2l-1 .6l-36.8 -5.2z"/><path transform="matrix(1 0 0 0.1142 0 305.4)" fill="url(#gC)" stroke="url(#gC)" d="M160.2 132l1.8 56l-1 11l-1.8 -62zM162 188l1.8 83l-1 9l-1.8 -81zM163.7 271l1.8 151l-1 8l-1.8 -150z"/><path transform="matrix(1 0 0 0.1160 0 309.3)" fill="url(#gC)" stroke="url(#gC)" d="M187.9 768l1.7 9l.9 16l-1.7 -15zM189.6 777l1.7 4l.9 20l-1.7 -8zM191.3 781l1.7 2l.9 20l-1.7 -2zM193 783l1.7 3l.8 17l-1.7 0z"/><path transform="matrix(1 0 0 0.1164 0 310.3)" fill="url(#gC)" stroke="url(#gC)" d="M194.7 775l1.7 4l.9 12l-1.7 1zM196.4 779l1.7 1l.9 7l-1.7 4zM198.1 780l1.7 -3l.9 1l-1.7 9zM199.8 777l1.7 -6l.9 -4l-1.7 11z"/><path transform="matrix(1 0 0 0.1183 0 314.6)" fill="url(#gC)" stroke="url(#gC)" d="M229.8 178l2.1 -41l-1.1 45l-2.1 34zM231.9 137l1.9 -1l-.9 9l-2.1 37z"/><path fill="#ff550a" stroke="#ff550a" d="M233.8 330.7l21 2.9l-.8 .7l-21 -2.7zM122.4 315.9l36.8 5.2l-1 .6l-36.9 -5.2z"/><path transform="matrix(1 0 0 0.1145 0 306)" fill="url(#gC)" stroke="url(#gC)" d="M159.2 132l1.8 61l-1 10l-1.8 -66zM161 193l1.8 81l-1 6l-1.8 -77zM162.7 274l1.8 149l-1 6l-1.8 -149z"/><path transform="matrix(1 0 0 0.1162 0 309.9)" fill="url(#gC)" stroke="url(#gC)" d="M187 755l1.7 5l.9 10l-1.7 -9zM188.7 760l1.7 1l.9 13l-1.7 -4zM190.4 761l1.7 2l.9 13l-1.7 -2zM192.1 763l1.7 4l.9 11l-1.7 -2z"/><path transform="matrix(1 0 0 0.1166 0 310.9)" fill="url(#gC)" stroke="url(#gC)" d="M193.8 756l1.7 6l.9 10l-1.7 -5zM195.5 762l1.7 4l.9 7l-1.7 -1zM197.2 766l1.7 0l.9 3l-1.7 4z"/><path fill="#1010c3" stroke="#1010c3" d="M199.8 400.6l5.2 -.1l-.9 1.2l-5.1 -1.5z"/><path transform="matrix(1 0 0 0.1177 0 313.3)" fill="url(#gC)" stroke="url(#gC)" d="M211.7 797l1.9 -29l-.9 17l-1.8 17z"/><path transform="matrix(1 0 0 0.1187 0 315.5)" fill="url(#gC)" stroke="url(#gC)" d="M230.8 173l2.1 -37l-1.1 46l-2.1 36zM232.9 136l1.9 0l-.9 12l-2.1 34z"/><path fill="#ff550a" stroke="#ff550a" d="M234.8 331.7l19.1 2.7l-.8 .7l-19.2 -2.1zM121.2 316.5l36.9 5.2l-1.1 .7l-37 -5.2z"/><path transform="matrix(1 0 0 0.1147 0 306.6)" fill="url(#gC)" stroke="url(#gC)" d="M158.1 132l1.8 65l-1 11l-1.8 -71zM159.9 197l1.8 77l-1 16l-1.8 -82zM161.7 274l1.8 148l-1 31l-1.8 -163zM163.5 422l1.8 190l-1 40l-1.8 -199z"/><path fill="#0f0fd7" stroke="#0f0fd7" d="M178.6 395.1l16.9 4.6l-.9 -.4l-16.9 -3.9z"/><path transform="matrix(1 0 0 0.1170 0 311.8)" fill="url(#gC)" stroke="url(#gC)" d="M194.6 748l1.7 -2l.9 10l-1.7 -4zM196.3 746l1.7 -5l.8 15l-1.7 0zM198.1 741l1.7 -4l.8 18l-1.7 1zM199.8 737l1.7 -3l.8 24l-1.7 -3z"/><path transform="matrix(1 0 0 0.1174 0 312.8)" fill="url(#gC)" stroke="url(#gC)" d="M201.6 723l1.7 4l.8 31l-1.7 -11zM203.3 727l1.7 14l.7 37l-1.7 -20zM205 741l1.7 18l.7 40l-1.7 -21zM206.7 759l1.7 10l.7 45l-1.7 -15z"/><path transform="matrix(1 0 0 0.1179 0 313.7)" fill="url(#gC)" stroke="url(#gC)" d="M208.4 758l1.8 -3l.7 43l-1.8 4zM210.2 755l1.8 -17l.7 42l-1.8 18zM212 738l1.9 -21l.7 30l-1.9 33zM213.8 717l1.9 -35l.7 21l-2 44z"/><path transform="matrix(1 0 0 0.1183 0 314.7)" fill="url(#gC)" stroke="url(#gC)" d="M215.8 671l1.9 -32l.8 15l-1.9 38zM217.7 639l2.1 -70l.8 17l-2.1 68zM219.8 569l2.1 -69l1.2 -75l-2.6 161z"/><path transform="matrix(1 0 0 0.1190 0 316.5)" fill="url(#gC)" stroke="url(#gC)" d="M231.8 173l2.1 -34l-1.1 42l-2.1 37zM233.9 139l1.9 -3l-.9 6l-2.1 39z"/><path fill="#ff550a" stroke="#ff550a" d="M235.9 332.7l17.3 2.4l-.8 .7l-17.3 -2.5zM120.1 317.1l37 5.2l-1.1 .7l-37 -5.3z"/><path transform="matrix(1 0 0 0.1150 0 307.2)" fill="url(#gC)" stroke="url(#gC)" d="M157.1 132l1.8 71l-1.1 -1l-1.8 -65zM158.9 203l1.8 81l-1 0l-1.8 -82zM160.7 284l1.8 163l-1 0l-1.9 -163zM162.5 447l1.8 199l-1 2l-1.8 -201z"/><path transform="matrix(1 0 0 0.1163 0 310.3)" fill="url(#gC)" stroke="url(#gC)" d="M179.4 734l1.7 5l-.9 2l-1.7 -18zM185.2 751l1.7 -6l.9 8l-1.7 -1z"/><path transform="matrix(1 0 0 0.1169 0 311.5)" fill="url(#gC)" stroke="url(#gC)" d="M186.9 731l1.7 -4l.9 13l-1.7 0zM188.6 727l1.7 -3l.9 18l-1.7 -2zM190.3 724l1.7 -3l.9 26l-1.7 -5zM192.1 721l1.7 -2l.8 33l-1.7 -5z"/><path transform="matrix(1 0 0 0.1173 0 312.4)" fill="url(#gC)" stroke="url(#gC)" d="M193.8 708l1.7 -3l.8 34l-1.7 2zM195.5 705l1.7 -5l.8 34l-1.7 5zM197.3 700l1.8 -3l.8 33l-1.7 4zM199 697l1.8 -3l.8 33l-1.7 3z"/><path transform="matrix(1 0 0 0.1177 0 313.4)" fill="url(#gC)" stroke="url(#gC)" d="M200.8 683l1.7 2l.8 35l-1.7 -4zM202.5 685l1.7 4l.7 45l-1.7 -14zM204.3 689l1.7 13l.7 49l-1.7 -17zM206 702l1.8 2l.7 58l-1.7 -11z"/><path transform="matrix(1 0 0 0.1181 0 314.4)" fill="url(#gC)" stroke="url(#gC)" d="M207.7 693l1.8 0l.7 54l-1.8 4zM209.5 693l1.8 -14l.6 52l-1.8 16zM211.3 679l1.8 -9l.7 40l-1.9 21zM213.1 670l1.9 -21l.7 26l-1.9 35z"/><path transform="matrix(1 0 0 0.1186 0 315.4)" fill="url(#gC)" stroke="url(#gC)" d="M215 638l2.2 -87l.5 81l-1.9 32zM217.2 551l2.1 -69l.5 80l-2.1 70zM219.3 482l2.1 -60l.5 71l-2.1 69z"/><path transform="matrix(1 0 0 0.1194 0 317.4)" fill="url(#gC)" stroke="url(#gC)" d="M231.9 190l2.2 -47l.9 -9l-2.1 38z"/><path fill="#ff550a" stroke="#ff550a" d="M235 333.4l17.3 2.5l-.8 .7l-17.4 -2.1zM119 317.7l37 5.3l-1.1 .7l-37.1 -5.3z"/><path transform="matrix(1 0 0 0.1153 0 307.8)" fill="url(#gC)" stroke="url(#gC)" d="M156 132l1.8 65l-1.1 1l-1.8 -61zM157.8 197l1.8 81l-1.1 0l-1.8 -80zM159.6 278l1.9 162l-1 1l-1.9 -163zM161.5 440l1.8 201l-1 4l-1.9 -204z"/><path transform="matrix(1 0 0 0.1166 0 310.9)" fill="url(#gC)" stroke="url(#gC)" d="M177.5 690l1.7 16l.9 27l-1.7 -17zM179.2 706l1.7 12l.9 25l-1.7 -10zM180.9 718l1.7 3l.9 28l-1.7 -6zM182.6 721l1.7 -7l.9 30l-1.7 5z"/><path transform="matrix(1 0 0 0.1170 0 311.9)" fill="url(#gC)" stroke="url(#gC)" d="M184.3 704l1.7 -7l.9 30l-1.7 6zM186 697l1.7 -6l.9 32l-1.7 4zM187.7 691l1.7 -3l.9 31l-1.7 4zM189.5 688l1.7 -1l.9 30l-1.7 2z"/><path transform="matrix(1 0 0 0.1175 0 312.8)" fill="url(#gC)" stroke="url(#gC)" d="M191.2 676l1.7 -2l.9 29l-1.7 3zM192.9 674l1.7 -2l.8 28l-1.7 3zM194.7 672l1.8 -5l.8 29l-1.7 4zM196.4 667l1.8 -3l.8 28l-1.8 4z"/><path transform="matrix(1 0 0 0.1179 0 313.8)" fill="url(#gC)" stroke="url(#gC)" d="M198.2 653l1.8 -3l.8 28l-1.8 3zM200 650l1.8 -4l.8 35l-1.7 -3zM201.7 646l1.9 -30l.7 69l-1.7 -4zM203.6 616l1.8 2l.6 80l-1.7 -13z"/><path transform="matrix(1 0 0 0.1183 0 314.8)" fill="url(#gC)" stroke="url(#gC)" d="M205.4 607l1.8 -19l.5 101l-1.8 -2zM207.2 588l1.8 -11l.5 111l-1.8 1zM209 577l1.9 -37l.4 134l-1.8 14zM211 540l1.8 -2l.4 128l-1.8 8z"/><path transform="matrix(1 0 0 0.1187 0 315.8)" fill="url(#gC)" stroke="url(#gC)" d="M212.8 527l2 -37l.3 144l-1.9 21zM214.8 490l2.1 -58l.4 115l-2.2 87zM216.8 432l2 -37l.5 83l-2.1 69zM218.8 395l2 -27l.6 50l-2.1 60z"/><path transform="matrix(1 0 0 0.1194 0 317.3)" fill="url(#gC)" stroke="url(#gC)" d="M224.8 302l2.1 -51l.6 42l-2.1 40zM226.9 251l2.1 -33l.7 21l-2.2 54zM229 218l2.1 -35l.8 8l-2.2 48zM231.1 183l2.1 -36l.9 -4l-2.2 48z"/><path fill="#ff550a" stroke="#ff550a" d="M234.1 334.5l17.4 2.1l-.8 .7l-17.4 -2.5zM117.8 318.4l37.1 5.3l-1.1 .7l-37.2 -5.3z"/><path transform="matrix(1 0 0 0.1155 0 308.5)" fill="url(#gC)" stroke="url(#gC)" d="M155 132l1.8 60l-1 18l-1.8 -73zM156.8 192l1.8 80l-1 47l-1.9 -109zM158.6 272l1.9 163l-1 67l-1.9 -183zM160.5 435l1.9 203l-1 9l-1.8 -145z"/><path transform="matrix(1 0 0 0.1170 0 311.8)" fill="url(#gC)" stroke="url(#gC)" d="M178.2 665l1.7 13l.9 30l-1.7 -12zM179.9 678l1.7 1l.9 32l-1.7 -3zM181.6 679l1.7 -3l.9 29l-1.7 6zM183.4 676l1.7 -9l.9 31l-1.7 7z"/><path transform="matrix(1 0 0 0.1174 0 312.8)" fill="url(#gC)" stroke="url(#gC)" d="M185.1 656l1.7 -6l.9 31l-1.7 6zM186.8 650l1.7 -2l.9 30l-1.7 3zM188.6 648l1.7 2l.9 27l-1.7 1zM190.3 650l1.7 3l.9 22l-1.7 2z"/><path transform="matrix(1 0 0 0.1178 0 313.7)" fill="url(#gC)" stroke="url(#gC)" d="M192.1 643l1.8 -38l.8 57l-1.7 2zM193.9 605l1.8 -30l.7 82l-1.8 5zM195.7 575l1.8 -21l.7 100l-1.8 3zM197.5 554l1.8 -24l.6 121l-1.8 3z"/><path transform="matrix(1 0 0 0.1183 0 314.7)" fill="url(#gC)" stroke="url(#gC)" d="M199.4 520l1.9 -26l.5 143l-1.8 3zM201.2 494l1.9 -46l.4 159l-1.9 30zM203.2 448l1.8 0l.4 160l-1.8 -1zM205 448l1.9 -21l.3 162l-1.8 19z"/><path transform="matrix(1 0 0 0.1187 0 315.7)" fill="url(#gC)" stroke="url(#gC)" d="M206.9 417l1.9 -20l.3 170l-1.8 12zM208.7 397l1.9 -11l.3 145l-1.9 36zM210.6 386l1.9 -21l.2 163l-1.8 3zM212.5 365l1.9 -25l.3 151l-2 37z"/><path transform="matrix(1 0 0 0.1191 0 316.7)" fill="url(#gC)" stroke="url(#gC)" d="M214.5 330l2 -22l.4 115l-2.1 57zM216.4 308l1.9 -2l.5 80l-2 37zM218.3 306l1.9 0l.6 53l-2 27zM220.2 306l2 -22l.6 58l-1.9 17z"/><path transform="matrix(1 0 0 0.1196 0 317.8)" fill="url(#gC)" stroke="url(#gC)" d="M222.2 274l2 -15l.7 39l-2 34zM224.1 259l2.1 -39l.7 27l-2.1 51zM228.3 184l2.1 -31l.7 26l-2.1 35zM230.4 153l2 -4l.9 -6l-2.1 36z"/><path fill="#ff550a" stroke="#ff550a" d="M233.2 334.9l17.4 2.5l-.8 .8l-17.5 -2.5zM116.7 319l37.2 5.3l-1.1 .7l-37.3 -5.4z"/><path transform="matrix(1 0 0 0.1158 0 309.1)" fill="url(#gC)" stroke="url(#gC)" d="M153.9 132l1.8 72l-1.1 4l-1.8 -71zM155.7 204l1.9 108l-1.1 6l-1.9 -110zM157.6 312l1.9 184l-1 7l-1.9 -185z"/><path transform="matrix(1 0 0 0.1174 0 312.7)" fill="url(#gC)" stroke="url(#gC)" d="M179 610l1.7 31l.9 28l-1.7 -1zM180.7 641l1.8 -36l.9 61l-1.7 3zM182.5 605l1.8 -28l.9 80l-1.7 9zM184.2 577l1.8 -24l.8 98l-1.7 6z"/><path transform="matrix(1 0 0 0.1178 0 313.7)" fill="url(#gC)" stroke="url(#gC)" d="M186 543l1.8 -16l.8 111l-1.7 2zM187.8 527l1.8 -24l.7 138l-1.7 -3zM189.6 503l1.9 -47l.6 187l-1.7 -2zM191.5 456l1.8 -5l.6 155l-1.8 37z"/><path transform="matrix(1 0 0 0.1182 0 314.7)" fill="url(#gC)" stroke="url(#gC)" d="M193.3 441l1.8 -12l.6 136l-1.8 31zM195.1 429l1.8 -21l.6 137l-1.8 20zM196.9 408l1.9 -22l.6 135l-1.8 24zM198.8 386l1.9 -15l.6 124l-1.9 26z"/><path transform="matrix(1 0 0 0.1186 0 315.7)" fill="url(#gC)" stroke="url(#gC)" d="M200.6 362l1.9 -11l.7 88l-1.9 46zM202.5 351l1.9 -19l.6 107l-1.8 0zM204.4 332l1.9 -21l.6 107l-1.9 21zM206.3 311l2 -31l.5 118l-1.9 20z"/><path transform="matrix(1 0 0 0.1191 0 316.7)" fill="url(#gC)" stroke="url(#gC)" d="M208.2 271l1.9 -6l.5 112l-1.9 11zM210.1 265l1.9 -5l.5 96l-1.9 21zM212 260l1.9 -5l.6 76l-1.9 25zM213.9 255l1.9 -6l.6 60l-2 22z"/><path transform="matrix(1 0 0 0.1195 0 317.7)" fill="url(#gC)" stroke="url(#gC)" d="M215.8 240l1.9 -7l.6 64l-1.9 2zM217.7 233l1.9 7l.6 58l-1.9 -1zM219.6 240l1.9 -8l.7 43l-2 23zM221.5 232l1.9 -5l.7 33l-2 15z"/><path transform="matrix(1 0 0 0.1201 0 319)" fill="url(#gC)" stroke="url(#gC)" d="M225.5 181l2.1 -36l.7 28l-2.1 36zM227.6 145l1.9 -3l.9 0l-2.1 31z"/><path fill="#ff550a" stroke="#ff550a" d="M230.4 336.1l19.4 2l-.8 .8l-19.4 -2.8zM115.5 319.6l37.3 5.4l-1.1 .7l-37.4 -5.4z"/><path transform="matrix(1 0 0 0.1161 0 309.7)" fill="url(#gC)" stroke="url(#gC)" d="M152.8 132l1.8 70l-1.1 4l-1.9 -69zM154.6 202l1.9 110l-1.1 5l-1.9 -111zM156.5 312l1.9 185l-1 6l-2 -186z"/><path transform="matrix(1 0 0 0.1176 0 313.3)" fill="url(#gC)" stroke="url(#gC)" d="M178.1 485l1.7 4l.9 145l-1.7 -31zM179.9 489l1.8 -49l.8 158l-1.8 36zM181.7 440l1.8 -10l.8 140l-1.8 28zM183.4 430l1.8 -14l.8 130l-1.8 24z"/><path transform="matrix(1 0 0 0.1181 0 314.3)" fill="url(#gC)" stroke="url(#gC)" d="M185.2 406l1.8 -14l.8 128l-1.8 16zM187 392l1.8 -13l.8 117l-1.8 24zM188.8 379l1.8 -14l.8 85l-1.9 46zM190.7 365l1.8 -15l.8 95l-1.8 5z"/><path transform="matrix(1 0 0 0.1185 0 315.3)" fill="url(#gC)" stroke="url(#gC)" d="M192.5 340l1.9 -19l.7 101l-1.8 13zM194.4 321l1.8 -2l.8 82l-1.8 21zM196.2 319l1.9 -32l.7 93l-1.9 21zM198.1 287l1.9 -13l.7 91l-1.9 15z"/><path transform="matrix(1 0 0 0.1189 0 316.3)" fill="url(#gC)" stroke="url(#gC)" d="M200 265l1.9 -12l.7 92l-1.9 10zM201.8 253l1.9 -11l.7 84l-1.9 19zM203.7 242l1.9 -9l.7 71l-1.9 22zM205.6 233l1.9 -4l.8 45l-2 30z"/><path transform="matrix(1 0 0 0.1194 0 317.3)" fill="url(#gC)" stroke="url(#gC)" d="M207.5 219l1.9 -2l.8 42l-1.9 6zM209.4 217l1.9 -2l.8 39l-1.9 5z"/><path transform="matrix(1 0 0 0.1201 0 319.1)" fill="url(#gC)" stroke="url(#gC)" d="M220.8 172l1.9 -4l.7 46l-1.9 5zM222.8 168l2 -22l.7 33l-2.1 35zM224.8 146l1.9 -1l.9 -2l-2.1 36z"/><path fill="#ff550a" stroke="#ff550a" d="M227.6 336.3l21.4 2.5l-.8 .8l-21.4 -3.1zM114.3 320.3l37.4 5.4l-1.1 1.2l-37.5 -5.9z"/><path transform="matrix(1 0 0 0.1163 0 310.4)" fill="url(#gC)" stroke="url(#gC)" d="M151.7 132l1.9 68l-1.1 20l-1.9 -78zM153.6 200l1.9 111l-1.1 11l-1.9 -102zM155.5 311l2 186l-1 12l-2 -187z"/><path transform="matrix(1 0 0 0.1183 0 315)" fill="url(#gC)" stroke="url(#gC)" d="M184.4 301l1.8 -29l.8 113l-1.8 14zM186.2 272l1.8 -4l.8 104l-1.8 13z"/><path transform="matrix(1 0 0 0.1191 0 316.8)" fill="url(#gC)" stroke="url(#gC)" d="M197.2 225l1.9 -14l.8 50l-1.9 13zM199.1 211l1.9 -12l.8 50l-1.9 12zM201 199l1.9 -4l.8 43l-1.9 11zM204.8 189l1.9 -7l.8 43l-1.9 4z"/><path transform="matrix(1 0 0 0.1196 0 318)" fill="url(#gC)" stroke="url(#gC)" d="M206.7 171l1.9 -4l.8 44l-1.9 2zM208.6 167l1.9 -2l.8 44l-1.9 2zM210.5 165l1.9 -3l.7 44l-1.9 3zM212.4 162l2 -15l.7 50l-1.9 9z"/><path transform="matrix(1 0 0 0.1201 0 319.1)" fill="url(#gC)" stroke="url(#gC)" d="M214.4 138l1.9 2l.7 39l-1.9 8zM216.3 140l1.9 2l.7 40l-1.9 -3zM218.2 142l1.9 3l.8 28l-2 9zM220.1 145l1.9 2l.8 22l-1.9 4z"/><path transform="matrix(1 0 0 0.1205 0 320.1)" fill="url(#gC)" stroke="url(#gC)" d="M222 138l1.9 2l.9 -3l-2 22z"/><path fill="#ff550a" stroke="#ff550a" d="M224.8 336.6l23.4 3l-.9 .8l-23.4 -3.4zM113.2 320.9l37.5 5.9l-1.1 1.2l-37.6 -6.5z"/><path transform="matrix(1 0 0 0.1166 0 311)" fill="url(#gC)" stroke="url(#gC)" d="M150.6 136l1.9 78l-1.1 12l-1.9 -80zM152.5 214l1.9 102l-1 33l-1.9 -123zM154.4 316l2 186l-1 35l-2 -188z"/><path transform="matrix(1 0 0 0.1194 0 317.4)" fill="url(#gC)" stroke="url(#gC)" d="M196.4 169l1.9 -13l.8 49l-1.9 14zM198.3 156l1.9 -6l.8 43l-1.9 12zM200.2 150l1.9 -3l.8 42l-1.9 4zM202.1 147l1.9 0l.8 35l-1.9 7z"/><path transform="matrix(1 0 0 0.1198 0 318.5)" fill="url(#gC)" stroke="url(#gC)" d="M203.9 138l1.9 2l.9 27l-1.9 6zM205.8 140l1.9 2l.9 21l-1.9 4zM207.7 142l1.9 3l.9 16l-1.9 2zM209.6 145l1.9 2l.9 11l-1.9 3z"/><path fill="#ff550a" stroke="#ff550a" d="M211.5 336.1l34.9 5.1l.9 -.8l-34.9 -3zM112 321.6l37.6 6.5l-1.1 .9l-37.6 -6.7z"/><path transform="matrix(1 0 0 0.1169 0 311.7)" fill="url(#gC)" stroke="url(#gC)" d="M149.5 140l1.9 80l-1.1 4l-1.9 -76zM151.4 220l1.9 123l-1.1 -14l-1.9 -105zM153.4 343l2 187l-1.1 -20l-2 -181z"/><path transform="matrix(1 0 0 0.1190 0 316.6)" fill="url(#gC)" stroke="url(#gC)" d="M184.3 167l1.8 -6l.9 46l-1.8 4zM186.2 161l1.8 -2l.9 49l-1.8 -1zM188 159l1.9 -4l.9 51l-1.8 2zM189.9 155l1.9 -8l.9 51l-1.9 8z"/><path transform="matrix(1 0 0 0.1194 0 317.6)" fill="url(#gC)" stroke="url(#gC)" d="M191.7 138l1.9 2l.9 39l-1.9 10zM193.6 140l1.9 2l.9 25l-1.9 12zM195.5 142l1.9 3l.9 10l-1.9 12z"/><path fill="#ff550a" stroke="#ff550a" d="M197.3 334.9l48.2 7.1l.9 -.8l-48.2 -5.1zM110.8 322.2l37.6 6.7l-1.1 -.5l-37.7 -5.5z"/><path transform="matrix(1 0 0 0.1171 0 312.3)" fill="url(#gC)" stroke="url(#gC)" d="M148.4 142l1.9 76l-1.1 1l-1.9 -82zM150.3 218l1.9 104l-1.1 8l-2 -111zM152.3 322l2 182l-1.1 7l-2.1 -181z"/><path transform="matrix(1 0 0 0.1189 0 316.3)" fill="url(#gC)" stroke="url(#gC)" d="M176 156l1.8 -11l1 45l-1.8 10zM177.8 145l1.8 -3l1 40l-1.8 8zM179.6 142l1.8 2l1 30l-1.8 8zM181.5 144l1.8 3l1 23l-1.8 4z"/><path transform="matrix(1 0 0 0.1193 0 317.3)" fill="url(#gC)" stroke="url(#gC)" d="M183.3 138l1.8 2l1 15l-1.8 6zM185.2 140l1.9 2l1 10l-1.8 3z"/><path fill="#ff550a" stroke="#ff550a" d="M187 334.2l57.7 8.5l.9 -.8l-57.6 -6.5zM109.6 322.9l37.7 5.5l-1.1 .7l-37.8 -5.6z"/><path transform="matrix(1 0 0 0.1174 0 313)" fill="url(#gC)" stroke="url(#gC)" d="M147.3 132l1.9 81l-1.1 4l-1.9 -80zM149.2 213l2 110l-1.1 6l-2 -112zM151.2 323l2.1 182l-1.1 7l-2.1 -183z"/><path transform="matrix(1 0 0 0.1190 0 316.7)" fill="url(#gC)" stroke="url(#gC)" d="M173.1 138l1.8 2l1 12l-1.8 11zM174.9 140l1.8 2l1 -1l-1.8 11z"/><path fill="#ff550a" stroke="#ff550a" d="M177.8 333.5l66.9 9.2l-.9 .8l-67.1 -9.9zM108.4 323.5l37.8 5.6l-1.1 .7l-37.9 -5.6z"/><path transform="matrix(1 0 0 0.1177 0 313.6)" fill="url(#gC)" stroke="url(#gC)" d="M146.2 132l1.9 79l-1.2 -12l-1.9 -61zM148.1 211l2 112l-1.2 -43l-1.9 -81zM150.1 323l2.1 182l-1.2 -59l-2.1 -166z"/><path fill="#ff550a" stroke="#ff550a" d="M171.3 332.8l72.6 10.7l-.9 .8l-72.7 -10.8zM107.2 324.2l37.9 5.6l-1.1 .7l-38 -5.6z"/><path transform="matrix(1 0 0 0.1180 0 314.3)" fill="url(#gC)" stroke="url(#gC)" d="M145.1 132l1.9 61l-1.1 -2l-1.9 -53zM147 193l1.9 80l-1.1 0l-1.9 -82zM148.9 273l2.1 166l-1.1 1l-2.1 -167z"/><path transform="matrix(1 0 0 0.1195 0 317.8)" fill="url(#gC)" stroke="url(#gC)" d="M170.2 132l1.8 2l-1.1 6l-1.8 34z"/><path fill="#ff550a" stroke="#ff550a" d="M172 333.8l70.9 10.5l-.9 .8l-71.1 -10.6zM106 324.9l18.7 2.8l-1.2 1.3l-18.8 -3.5z"/><path transform="matrix(1 0 0 0.1171 0 312.2)" fill="url(#gC)" stroke="url(#gC)" d="M124.7 132l1.7 2l-1.1 30l-1.8 -21zM126.4 134l1.7 2l-1 50l-1.8 -22zM128.2 136l1.7 2l-.9 69l-1.8 -21zM129.9 138l1.7 2l-.9 70l-1.7 -3z"/><path transform="matrix(1 0 0 0.1175 0 313.2)" fill="url(#gC)" stroke="url(#gC)" d="M131.6 132l1.7 2l-1 65l-1.7 2zM133.4 134l1.7 2l-1 50l-1.7 13zM135.1 136l1.8 2l-1.1 36l-1.7 12zM136.9 138l1.8 2l-1.1 26l-1.7 8z"/><path transform="matrix(1 0 0 0.1179 0 314.2)" fill="url(#gC)" stroke="url(#gC)" d="M138.6 132l1.8 2l-1.1 15l-1.7 8z"/><path fill="#ff550a" stroke="#ff550a" d="M140.4 330l3.5 .5l-1.1 .7l-3.5 .5z"/><path transform="matrix(1 0 0 0.1182 0 314.9)" fill="url(#gC)" stroke="url(#gC)" d="M143.9 132l1.9 53l-1.1 2l-1.9 -49zM145.8 185l1.9 82l-1.1 0l-2 -80zM147.8 267l2.1 166l-1.1 -2l-2.1 -164z"/><path transform="matrix(1 0 0 0.1196 0 318.2)" fill="url(#gC)" stroke="url(#gC)" d="M167.3 203l1.8 -33l-1.1 49l-1.8 18zM169.2 170l1.8 -34l-1.1 62l-1.8 21zM171 136l1.8 2l-1.1 44l-1.8 16zM172.8 138l1.8 3l-1.1 24l-1.8 17z"/><path transform="matrix(1 0 0 0.1201 0 319.3)" fill="url(#gC)" stroke="url(#gC)" d="M174.7 132l1.8 2l-1.1 6l-1.9 16z"/><path fill="#ff550a" stroke="#ff550a" d="M176.5 335.3l65.6 9.7l-.9 .8l-65.7 -9.8zM104.7 325.5l13.6 2l-1.2 .7l-13.6 -2z"/><path transform="matrix(1 0 0 0.1170 0 312.2)" fill="url(#gC)" stroke="url(#gC)" d="M118.4 132l1.7 2l-1.1 27l-1.8 -24zM120.1 134l1.7 2l-1 48l-1.8 -23zM121.8 136l1.8 8l-1 55l-1.8 -15zM123.6 144l1.8 21l-1 50l-1.8 -16z"/><path transform="matrix(1 0 0 0.1174 0 313.1)" fill="url(#gC)" stroke="url(#gC)" d="M125.4 156l1.8 22l-1 48l-1.8 -20zM127.2 178l1.8 20l-1 51l-1.8 -23zM129 198l1.7 4l-1 52l-1.7 -5zM130.7 202l1.7 -2l-1 54l-1.7 0z"/><path transform="matrix(1 0 0 0.1179 0 314.1)" fill="url(#gC)" stroke="url(#gC)" d="M132.4 190l1.7 -12l-1 57l-1.7 10zM134.1 178l1.7 -12l-1 59l-1.7 10zM135.8 166l1.7 -8l-1 56l-1.7 11zM137.6 158l1.7 -8l-1 56l-1.7 8z"/><path transform="matrix(1 0 0 0.1183 0 315.1)" fill="url(#gC)" stroke="url(#gC)" d="M139.3 141l1.7 -7l-1 53l-1.7 9zM141 134l1.8 2l-1 42l-1.7 9zM142.8 136l1.9 49l-1.2 -4l-1.8 -3zM144.7 185l2 80l-1.2 -10l-2 -74z"/><path transform="matrix(1 0 0 0.1187 0 316.1)" fill="url(#gC)" stroke="url(#gC)" d="M146.6 256l2.1 163l-1.2 -21l-2.1 -153z"/><path transform="matrix(1 0 0 0.1198 0 318.7)" fill="url(#gC)" stroke="url(#gC)" d="M164.5 258l1.8 -25l-1.1 47l-1.8 28zM166.3 233l1.8 -18l-1.1 48l-1.8 17zM168.1 215l1.8 -21l-1.1 50l-1.8 19zM169.9 194l1.8 -16l-1.1 52l-1.8 14z"/><path transform="matrix(1 0 0 0.1203 0 319.7)" fill="url(#gC)" stroke="url(#gC)" d="M171.7 169l1.8 -17l-1.1 51l-1.8 18zM173.6 152l1.9 -16l-1.1 53l-1.8 14zM175.4 136l1.9 3l-1.1 38l-1.9 12zM177.3 139l1.9 2l-1.1 26l-1.9 10z"/><path transform="matrix(1 0 0 0.1207 0 320.7)" fill="url(#gC)" stroke="url(#gC)" d="M179.2 132l1.9 2l-1.1 6l-1.9 17z"/><path fill="#ff550a" stroke="#ff550a" d="M181 336.9l60.2 9l-.9 .8l-60.3 -9zM103.5 326.2l11.9 1.8l-1.2 .7l-11.9 -1.8z"/><path transform="matrix(1 0 0 0.1172 0 312.6)" fill="url(#gC)" stroke="url(#gC)" d="M115.4 132l1.7 2l-1.1 28l-1.8 -25zM117.2 134l1.8 23l-1 45l-1.9 -40zM119 157l1.8 23l-1 56l-1.9 -34zM120.8 180l1.8 15l-1 55l-1.8 -14z"/><path transform="matrix(1 0 0 0.1176 0 313.6)" fill="url(#gC)" stroke="url(#gC)" d="M122.6 186l1.8 16l-1 54l-1.8 -15zM124.4 202l1.8 20l-1 49l-1.8 -15zM126.2 222l1.8 23l-1 43l-1.8 -17zM128 245l1.7 5l-.9 70l-1.8 -32z"/><path transform="matrix(1 0 0 0.1180 0 314.5)" fill="url(#gC)" stroke="url(#gC)" d="M129.7 241l1.7 0l-1 44l-1.6 26zM131.5 241l1.7 -10l-1 56l-1.7 -2zM133.2 231l1.7 -10l-1 57l-1.7 9zM134.9 221l1.7 -11l-1 58l-1.7 10z"/><path transform="matrix(1 0 0 0.1185 0 315.5)" fill="url(#gC)" stroke="url(#gC)" d="M136.6 201l1.7 -8l-1 52l-1.7 13zM138.3 193l1.7 -10l-1 54l-1.7 8zM140 183l1.7 -9l-1 57l-1.7 6zM141.8 174l1.8 4l-1 55l-1.8 -2z"/><path transform="matrix(1 0 0 0.1189 0 316.5)" fill="url(#gC)" stroke="url(#gC)" d="M143.5 168l2 73l-1.1 9l-1.8 -26zM145.5 241l2.1 152l-1.1 9l-2.1 -152z"/><path transform="matrix(1 0 0 0.1200 0 319.1)" fill="url(#gC)" stroke="url(#gC)" d="M161.7 399l1.7 -95l-1 83l-1.8 12zM163.4 304l1.8 -28l-1 82l-1.8 29zM165.2 276l1.8 -17l-1 65l-1.8 34zM167 259l1.8 -19l-1.1 52l-1.8 32z"/><path transform="matrix(1 0 0 0.1204 0 320.1)" fill="url(#gC)" stroke="url(#gC)" d="M168.9 230l1.8 -13l-1.1 48l-1.8 17zM170.7 217l1.8 -18l-1.1 55l-1.8 11zM172.5 199l1.8 -14l-1.1 55l-1.8 14zM174.4 185l1.9 -12l-1.1 54l-1.9 13z"/><path transform="matrix(1 0 0 0.1209 0 321.2)" fill="url(#gC)" stroke="url(#gC)" d="M176.2 164l1.9 -10l-1.1 53l-1.9 11zM178.1 154l1.9 -18l-1.1 54l-1.9 17zM180 136l1.9 3l-1.1 33l-1.9 18zM181.8 139l1.9 2l-1.1 6l-1.9 25z"/><path fill="#ff550a" stroke="#ff550a" d="M183.7 338.2l46.5 7.1l-1 1.5l-46.6 -7.8z"/><path transform="matrix(1 0 0 0.1241 0 328.8)" fill="url(#gC)" stroke="url(#gC)" d="M230.2 133l2 5l-1.1 34l-1.9 -27zM232.2 138l2 9l-1.4 78l-1.7 -53zM234.2 147l2 7l-1.6 111l-1.8 -40zM236.2 154l2 0l-1.5 92l-2.1 19z"/><path transform="matrix(1 0 0 0.1244 0 329.7)" fill="url(#gC)" stroke="url(#gC)" d="M238.2 146l2.1 -9l-.9 6l-2.7 95z"/><path fill="#ff550a" stroke="#ff550a" d="M102.3 326.9l10.2 1.5l-1.2 .7l-10.3 -1.5z"/><path transform="matrix(1 0 0 0.1174 0 313)" fill="url(#gC)" stroke="url(#gC)" d="M112.5 132l1.7 2l-1.1 29l-1.8 -26zM114.2 134l1.8 25l-1 42l-1.9 -38zM116.1 159l1.9 40l-1 39l-1.9 -37zM118 199l1.9 33l-1 45l-1.9 -39z"/><path transform="matrix(1 0 0 0.1178 0 314)" fill="url(#gC)" stroke="url(#gC)" d="M119.8 223l1.8 14l-.9 66l-1.9 -35zM121.6 237l1.8 15l-.9 78l-1.8 -27zM123.4 252l1.8 16l-.8 92l-1.8 -30zM125.2 268l1.8 16l-.7 107l-1.8 -31z"/><path transform="matrix(1 0 0 0.1182 0 315)" fill="url(#gC)" stroke="url(#gC)" d="M127 275l1.8 32l-.8 91l-1.8 -17zM128.8 307l1.6 -25l-.8 106l-1.7 10zM130.4 282l1.7 1l-.8 96l-1.7 9zM132.2 283l1.7 -8l-.8 94l-1.7 10z"/><path transform="matrix(1 0 0 0.1186 0 316)" fill="url(#gC)" stroke="url(#gC)" d="M133.9 265l1.7 -11l-.9 91l-1.7 14zM135.6 254l1.7 -13l-.9 85l-1.7 19zM137.3 241l1.7 -8l-.9 72l-1.7 21zM139 233l1.7 -6l-.9 76l-1.7 2z"/><path transform="matrix(1 0 0 0.1191 0 317)" fill="url(#gC)" stroke="url(#gC)" d="M140.7 217l1.8 3l-.9 78l-1.8 -5zM142.5 220l1.8 26l-1 76l-1.8 -24zM144.4 246l2.1 152l-1.1 1l-2 -77z"/><path transform="matrix(1 0 0 0.1205 0 320.3)" fill="url(#gC)" stroke="url(#gC)" d="M164.2 346l1.8 -34l-1 82l-1.8 33zM166 312l1.8 -32l-1 81l-1.8 33zM167.8 280l1.8 -16l-1.1 75l-1.8 22zM169.6 264l1.8 -12l-1.1 64l-1.8 23z"/><path transform="matrix(1 0 0 0.1209 0 321.4)" fill="url(#gC)" stroke="url(#gC)" d="M171.4 243l1.8 -15l-1.1 59l-1.8 19zM173.3 228l1.9 -12l-1.1 56l-1.8 15zM175.1 216l1.9 -11l-1.1 51l-1.9 16zM177 205l1.9 -16l-1.1 48l-1.9 19z"/><path transform="matrix(1 0 0 0.1214 0 322.4)" fill="url(#gC)" stroke="url(#gC)" d="M178.9 179l1.9 -18l-1.1 50l-1.9 16zM180.8 161l1.9 -25l-1.1 51l-1.9 24zM182.7 136l1.9 3l-1.1 21l-1.9 27z"/><path fill="#ff550a" stroke="#ff550a" d="M184.6 339.3l44.7 7.6l-1 1.6l-44.8 -6.6z"/><path transform="matrix(1 0 0 0.1244 0 329.6)" fill="url(#gC)" stroke="url(#gC)" d="M229.3 138l1.9 28l-1.1 38l-1.7 -52zM235.2 343l3.3 -193l.9 -6l-2.7 95z"/><path transform="matrix(1 0 0 0.1170 0 312.2)" fill="url(#gC)" stroke="url(#gC)" d="M101 132l1.7 2l-1.1 25l-1.7 1zM102.7 134l1.7 2l-1.1 21l-1.7 2z"/><path fill="#ff550a" stroke="#ff550a" d="M104.4 328.1l5.1 .8l-1.2 1.3l-5.1 .4z"/><path transform="matrix(1 0 0 0.1175 0 313.4)" fill="url(#gC)" stroke="url(#gC)" d="M109.6 132l1.7 2l-1 40l-1.9 -31zM111.3 134l1.8 25l-1 44l-1.9 -29zM113.1 159l1.9 38l-1 39l-1.9 -33zM115 197l1.9 37l-1 39l-1.9 -37z"/><path transform="matrix(1 0 0 0.1179 0 314.4)" fill="url(#gC)" stroke="url(#gC)" d="M116.9 225l1.9 39l-.9 63l-2 -63zM118.8 264l1.9 35l-.8 85l-2 -57zM120.7 299l1.8 27l-.7 103l-1.9 -45zM122.5 326l1.8 30l-.8 96l-1.8 -23z"/><path transform="matrix(1 0 0 0.1190 0 316.9)" fill="url(#gC)" stroke="url(#gC)" d="M134.7 336l1.7 -19l-.9 94l-1.7 19zM136.4 317l1.7 -21l-.8 100l-1.7 15zM138.1 296l1.7 -2l-.9 90l-1.7 12zM139.8 294l1.8 4l-.9 96l-1.8 -10z"/><path transform="matrix(1 0 0 0.1195 0 317.9)" fill="url(#gC)" stroke="url(#gC)" d="M141.6 289l1.8 25l-.9 91l-1.8 -21zM143.4 314l2 76l-1 38l-1.8 -23z"/><path transform="matrix(1 0 0 0.1210 0 321.5)" fill="url(#gC)" stroke="url(#gC)" d="M166.7 349l1.8 -22l-1 74l-1.8 26zM168.6 327l1.8 -22l-1.1 79l-1.8 17zM170.4 305l1.8 -20l-1.1 80l-1.8 19zM172.2 285l1.8 -15l-1.1 72l-1.8 23z"/><path transform="matrix(1 0 0 0.1215 0 322.6)" fill="url(#gC)" stroke="url(#gC)" d="M174.1 260l1.9 -16l-1.1 44l-1.9 44zM175.9 244l1.9 -19l-1.1 45l-1.9 18zM177.8 225l1.9 -16l-1.1 47l-1.9 14zM179.7 209l1.9 -23l-1.1 49l-1.9 21z"/><path transform="matrix(1 0 0 0.1219 0 323.7)" fill="url(#gC)" stroke="url(#gC)" d="M181.6 176l1.9 -27l-1.1 45l-1.9 31zM183.5 149l1.9 -13l-1.1 21l-1.9 37z"/><path fill="#ff550a" stroke="#ff550a" d="M185.4 340.3l42.9 8.2l-.9 -0l-43.1 -5.6z"/><path transform="matrix(1 0 0 0.1247 0 330.4)" fill="url(#gC)" stroke="url(#gC)" d="M228.3 145l1.7 52l-.8 -25l-1.9 -27zM231 225l1.8 41l.2 110l-1.5 -76zM232.8 266l2.1 -20l.3 90l-2.3 40zM234.9 246l2.7 -95l.9 -7l-3.3 192z"/><path transform="matrix(1 0 0 0.1173 0 312.8)" fill="url(#gC)" stroke="url(#gC)" d="M99.9 154l1.7 -1l-1 53l-1.6 9zM101.6 153l1.7 -2l-1 45l-1.6 10zM103.3 151l1.7 -1l-1.1 37l-1.6 9zM105 150l1.7 -1l-1.1 28l-1.6 10z"/><path transform="matrix(1 0 0 0.1177 0 313.8)" fill="url(#gC)" stroke="url(#gC)" d="M106.7 140l1.7 -1l-.9 57l-1.9 -27zM108.4 139l1.9 31l-1 51l-1.8 -25zM110.2 170l1.9 30l-1 41l-1.8 -20zM112.1 200l1.9 32l-1 40l-1.9 -31z"/><path transform="matrix(1 0 0 0.1181 0 314.8)" fill="url(#gC)" stroke="url(#gC)" d="M114 223l1.9 37l-.9 59l-2 -57zM115.9 260l2 63l-.9 55l-2 -59zM117.9 323l2 57l-.9 58l-2 -60z"/><path transform="matrix(1 0 0 0.1218 0 323.3)" fill="url(#gC)" stroke="url(#gC)" d="M173 325l1.9 -44l-1.1 83l-1.8 34zM174.8 281l1.9 -17l-1.1 73l-1.9 27zM176.7 264l1.9 -15l-1.1 62l-1.9 26zM178.6 249l1.9 -20l-1.1 44l-1.9 38z"/><path transform="matrix(1 0 0 0.1222 0 324.4)" fill="url(#gC)" stroke="url(#gC)" d="M180.5 219l1.9 -31l-1.1 43l-1.9 32zM182.4 188l1.9 -37l-1.1 46l-1.9 34zM184.3 151l1.9 -12l-1.1 23l-2 35z"/><path fill="#ff550a" stroke="#ff550a" d="M186.3 341.4l41.1 7.1l-.9 .1l-41.3 -4.4z"/><path transform="matrix(1 0 0 0.1250 0 331.1)" fill="url(#gC)" stroke="url(#gC)" d="M226.5 139l2 6l.8 21l-1.9 -28zM228.5 145l2 9l.5 65l-1.7 -53zM230.5 154l2 7l.3 98l-1.8 -40zM232.5 161l2.1 -1l.4 79l-2.1 20z"/><path transform="matrix(1 0 0 0.1254 0 332)" fill="url(#gC)" stroke="url(#gC)" d="M234.5 153l2.1 -10l.9 -6l-2.7 95z"/><path transform="matrix(1 0 0 0.1178 0 314)" fill="url(#gC)" stroke="url(#gC)" d="M102.3 186l1.6 -10l-1.1 37l-1.6 17zM103.9 176l1.6 -9l-1.1 28l-1.6 18zM105.6 167l1.9 28l-1.1 32l-1.9 -32zM107.4 195l1.8 24l-1.1 36l-1.9 -28z"/><path transform="matrix(1 0 0 0.1182 0 315)" fill="url(#gC)" stroke="url(#gC)" d="M109.3 210l1.8 20l-1 42l-1.9 -26zM111.1 230l1.9 31l-.9 59l-2 -48zM113 261l2 56l-.9 58l-2 -55zM115 317l2 59l-.9 56l-2 -57z"/><path transform="matrix(1 0 0 0.1224 0 324.9)" fill="url(#gC)" stroke="url(#gC)" d="M177.5 297l1.9 -38l-1.1 58l-1.9 47zM179.4 259l1.9 -32l-1.1 43l-1.9 47zM181.3 227l1.9 -34l-1.1 44l-1.9 33zM183.2 193l2 -35l-1.1 45l-1.9 34z"/><path transform="matrix(1 0 0 0.1228 0 326)" fill="url(#gC)" stroke="url(#gC)" d="M185.2 148l1.9 -14l-1.1 25l-2 35zM187.1 134l1.9 2l-1.1 7l-2 16z"/><path fill="#ff550a" stroke="#ff550a" d="M189 342.7l47.6 7.2l-.9 .8l-47.7 -7.3z"/><path transform="matrix(1 0 0 0.1182 0 315.1)" fill="url(#gC)" stroke="url(#gC)" d="M104.4 185l1.9 32l-1.4 -13l-1.9 -35zM106.3 217l1.9 27l-1.3 0l-2 -40zM108.2 244l1.9 27l-1.2 12l-1.9 -39zM110.1 271l2 48l-1 37l-2.1 -73z"/><path transform="matrix(1 0 0 0.1228 0 325.9)" fill="url(#gC)" stroke="url(#gC)" d="M178.3 308l1.9 -47l-1.1 62l-1.9 56zM180.2 261l1.9 -33l-1.1 44l-1.9 51zM182.1 228l1.9 -33l-1.1 43l-1.9 34zM184.1 195l2 -35l-1.1 36l-2 42z"/><path transform="matrix(1 0 0 0.1233 0 327)" fill="url(#gC)" stroke="url(#gC)" d="M186 150l2 -16l-1.1 6l-2 46z"/><path fill="#ff550a" stroke="#ff550a" d="M188 343.5l47.7 7.3l-.9 .8l-47.9 -7.3z"/><path transform="matrix(1 0 0 0.1185 0 315.8)" fill="url(#gC)" stroke="url(#gC)" d="M103 163l1.9 35l-1.4 -9l-2 -43zM105 198l2 40l-1.3 0l-2 -49zM106.9 238l1.9 38l-1.2 9l-2 -47zM108.9 276l2.1 73l-1.2 18l-2.2 -82z"/><path transform="matrix(1 0 0 0.1233 0 327.2)" fill="url(#gC)" stroke="url(#gC)" d="M181 260l1.9 -33l-1.1 32l-2 57zM183 227l2 -43l-1.1 32l-2 43zM184.9 184l2 -45l-1.1 34l-2 43zM186.9 139l1.9 2l-1.1 7l-2 25z"/><path fill="#ff550a" stroke="#ff550a" d="M188.9 344.6l35.7 5.6l-1 1.8l-35.8 -6.6z"/><path transform="matrix(1 0 0 0.1259 0 333.5)" fill="url(#gC)" stroke="url(#gC)" d="M224.6 133l2 6l-1.1 41l-1.9 -33zM226.6 139l2 11l-1.5 96l-1.7 -66zM228.6 150l2 8l-1.7 138l-1.8 -50zM230.6 158l2.1 -1l-1.6 114l-2.2 25z"/><path transform="matrix(1 0 0 0.1263 0 334.4)" fill="url(#gC)" stroke="url(#gC)" d="M232.6 150l2.1 -13l-.9 6l-2.8 120z"/><path transform="matrix(1 0 0 0.1185 0 315.7)" fill="url(#gC)" stroke="url(#gC)" d="M95.1 138l1.7 2l1.4 9l-1.7 1z"/><path fill="#ff550a" stroke="#ff550a" d="M96.8 332.3l3.5 .5l1.3 .3l-3.4 .3z"/><path transform="matrix(1 0 0 0.1188 0 316.5)" fill="url(#gC)" stroke="url(#gC)" d="M101.6 140l2 43l-1.3 6l-2.1 -51zM103.6 183l2 49l-1.2 13l-2.1 -56zM105.6 232l2 47l-1.1 32l-2.1 -66zM107.6 279l2.2 81l-1.2 15l-2.1 -64z"/><path transform="matrix(1 0 0 0.1237 0 328.2)" fill="url(#gC)" stroke="url(#gC)" d="M181.9 249l2 -42l-1.1 34l-2 44zM183.8 207l2 -42l-1.1 28l-2 48zM184.7 193l2 -45l1.1 -9l-2 26z"/><path fill="#ff550a" stroke="#ff550a" d="M187.8 345.4l35.8 6.6l-1 1.9l-35.8 -7.3z"/><path transform="matrix(1 0 0 0.1262 0 334.3)" fill="url(#gC)" stroke="url(#gC)" d="M223.6 140l1.9 34l-1.2 45l-1.7 -64zM229.4 391l3.5 -240l.9 -7l-2.8 120z"/><path fill="#ff550a" stroke="#ff550a" d="M93.4 331.8l6.9 1.1l-1.3 .7l-6.9 -1.1z"/><path transform="matrix(1 0 0 0.1191 0 317.2)" fill="url(#gC)" stroke="url(#gC)" d="M100.3 132l2.1 51l-1.3 8l-2.1 -53zM102.4 183l2.1 56l-1.3 7l-2.1 -55zM104.4 239l2.1 66l-1.2 7l-2.1 -66z"/><path transform="matrix(1 0 0 0.1244 0 329.8)" fill="url(#gC)" stroke="url(#gC)" d="M186.7 135l2 -1l-1.1 7l-2 23z"/><path fill="#ff550a" stroke="#ff550a" d="M188.7 346.5l33.9 7.4l-.9 -.2l-34 -6.3z"/><path transform="matrix(1 0 0 0.1265 0 335.1)" fill="url(#gC)" stroke="url(#gC)" d="M222.5 148l1.7 65l-.8 -33l-1.9 -33zM223.5 180l1.7 66l.4 94l-1.3 -127zM225.2 246l1.8 50l.1 138l-1.5 -94zM227 296l2.2 -25l.2 112l-2.3 51z"/><path transform="matrix(1 0 0 0.1269 0 336)" fill="url(#gC)" stroke="url(#gC)" d="M229.2 263l2.8 -119l1 -7l-3.5 238z"/><path fill="#ff550a" stroke="#ff550a" d="M92.1 332.5l6.9 1.1l-1.3 .7l-6.9 -1.1z"/><path transform="matrix(1 0 0 0.1194 0 317.8)" fill="url(#gC)" stroke="url(#gC)" d="M99 132l2.1 53l-1.3 0l-2 -47zM101.1 185l2.1 54l-1.3 -3l-2.1 -51zM103.2 239l2.1 67l-1.4 -22l-2 -48z"/><path transform="matrix(1 0 0 0.1245 0 330)" fill="url(#gC)" stroke="url(#gC)" d="M181.6 255l2 -44l-1.1 33l-2 43zM183.6 211l2 -48l-1.1 41l-2 40zM185.6 163l2 -24l-1.1 22l-2 43z"/><path fill="#ff550a" stroke="#ff550a" d="M187.6 347.3l34 6.3l-1 -.1l-34.1 -3.6z"/><path transform="matrix(1 0 0 0.1269 0 335.9)" fill="url(#gC)" stroke="url(#gC)" d="M220.6 140l2 6l.8 28l-1.9 -34zM222.7 146l2 11l.5 82l-1.7 -65zM224.7 157l2 9l.2 123l-1.8 -50zM226.7 166l2.1 -1l.3 99l-2.2 25z"/><path transform="matrix(1 0 0 0.1272 0 336.8)" fill="url(#gC)" stroke="url(#gC)" d="M228.8 157l2.2 -13l1 -7l-2.8 119z"/><path fill="#ff550a" stroke="#ff550a" d="M90.8 333.2l6.9 1.1l-1.3 .7l-7 -1.1z"/><path transform="matrix(1 0 0 0.1196 0 318.5)" fill="url(#gC)" stroke="url(#gC)" d="M97.7 132l2 46l-1.4 -6l-2 -34zM99.8 178l2.1 52l-1.4 -12l-2 -46zM101.8 230l2 47l-1.4 -12l-2 -47z"/><path transform="matrix(1 0 0 0.1249 0 331.1)" fill="url(#gC)" stroke="url(#gC)" d="M182.5 234l2 -39l-1.1 44l-2 38zM184.5 195l2 -43l-1.1 45l-2 42zM186.5 152l2 -13l-1.1 17l-2 41z"/><path fill="#ff550a" stroke="#ff550a" d="M188.5 348.4l36.2 7.4l-1 .9l-36.3 -6.1z"/><path fill="#ff740d" stroke="#ff740d" d="M224.7 355.8l4.1 1l-1 .9l-4.1 -1z"/><path fill="#ff550a" stroke="#ff550a" d="M228.8 356.8l2.2 -1.7l-1 .9l-2.2 1.7zM89.5 333.9l7 1.1l-1.3 .7l-7 -1.1z"/><path transform="matrix(1 0 0 0.1199 0 319.2)" fill="url(#gC)" stroke="url(#gC)" d="M96.4 132l2 34l-1.4 -7l-1.9 -21zM98.4 166l2 46l-1.4 -3l-2.1 -50zM100.4 212l2 46l-1.4 -6l-2 -43z"/><path transform="matrix(1 0 0 0.1254 0 332.4)" fill="url(#gC)" stroke="url(#gC)" d="M185.4 185l2 -40l-1.1 41l-2 40zM187.4 145l2 -8l-1.1 8l-2 41z"/><path fill="#ff550a" stroke="#ff550a" d="M189.4 349.6l30.3 4.9l-1 1.5l-30.3 -5.4z"/><path transform="matrix(1 0 0 0.1275 0 337.5)" fill="url(#gC)" stroke="url(#gC)" d="M219.7 133l2 6l-1.1 32l-1.9 -26zM221.7 139l2 11l-1.3 73l-1.8 -52zM223.7 150l2 9l-1.5 103l-1.9 -39zM225.8 159l2.1 -1l-1.4 85l-2.2 19z"/><path transform="matrix(1 0 0 0.1279 0 338.4)" fill="url(#gC)" stroke="url(#gC)" d="M227.8 150l2.2 -13l-1 7l-2.6 92z"/><path fill="#ff550a" stroke="#ff550a" d="M88.1 334.6l7 1.1l-1.3 .7l-7 -1.1z"/><path transform="matrix(1 0 0 0.1202 0 319.9)" fill="url(#gC)" stroke="url(#gC)" d="M95.1 132l1.9 21l-1.4 -13l-1.8 -2zM97 153l2.1 49l-1.4 -7l-2.1 -55zM99.1 202l2 43l-1.4 -8l-2 -42z"/><path transform="matrix(1 0 0 0.1257 0 333.2)" fill="url(#gC)" stroke="url(#gC)" d="M184.2 220l2 -41l-1.1 40l-2 39zM186.3 179l2 -41l-1.1 37l-2 44zM188.3 138l2 1l-1.1 7l-2 29z"/><path fill="#ff550a" stroke="#ff550a" d="M190.3 350.7l28.3 5.3l-1 1.3l-28.4 -5.7z"/><path transform="matrix(1 0 0 0.1278 0 338.3)" fill="url(#gC)" stroke="url(#gC)" d="M218.6 138l1.9 27l-1.1 22l-1.9 -39zM225.2 292l2.9 -141l1 -6l-2.6 91z"/><path fill="#ff550a" stroke="#ff550a" d="M86.8 335.4l8.7 1.4l-1.3 .7l-8.8 -1.4z"/><path transform="matrix(1 0 0 0.1206 0 320.9)" fill="url(#gC)" stroke="url(#gC)" d="M95.5 132l2.1 54l-1.4 -10l-2 -38zM97.7 186l2 43l-1.4 -12l-2 -41z"/><path transform="matrix(1 0 0 0.1247 0 330.8)" fill="url(#gC)" stroke="url(#gC)" d="M161.4 869l1.8 -39l1.1 -16l-1.8 33zM163.2 830l1.8 -36l1.1 -9l-1.8 29z"/><path transform="matrix(1 0 0 0.1258 0 333.4)" fill="url(#gC)" stroke="url(#gC)" d="M177.9 525l2 -104l1.1 -75l-2 133z"/><path fill="#ff550a" stroke="#ff550a" d="M189.2 351.6l28.4 5.7l-1 .1l-28.5 -4.6z"/><path transform="matrix(1 0 0 0.1281 0 339.2)" fill="url(#gC)" stroke="url(#gC)" d="M217.6 142l1.9 38l-.9 -21l-2 -17zM218.6 159l1.9 30l.6 68l-1.7 -77zM220.6 189l2 24l.4 101l-1.8 -57zM222.5 213l2.1 -9l.5 81l-2.2 29z"/><path transform="matrix(1 0 0 0.1285 0 340.1)" fill="url(#gC)" stroke="url(#gC)" d="M224.7 196l2.4 -52l1 -7l-2.9 140z"/><path fill="#ff550a" stroke="#ff550a" d="M85.5 336.1l8.8 1.4l-1.3 .8l-8.8 -1.4z"/><path transform="matrix(1 0 0 0.1209 0 321.6)" fill="url(#gC)" stroke="url(#gC)" d="M94.2 132l2 37l-1.6 -29l-1.8 -2zM96.2 169l2 42l-1.5 -26l-2.1 -45z"/><path transform="matrix(1 0 0 0.1221 0 324.5)" fill="url(#gC)" stroke="url(#gC)" d="M115.6 670l1.9 25l1.4 30l-1.9 -34zM117.5 695l1.9 32l1.4 25l-1.8 -27zM119.3 727l1.9 28l1.2 2l-1.7 -5z"/><path fill="#1010c3" stroke="#1010c3" d="M122.4 417l3.5 2l-1.2 .9l-3.6 -3.2z"/><path transform="matrix(1 0 0 0.1236 0 328.1)" fill="url(#gC)" stroke="url(#gC)" d="M139 856l1.6 -35l1.1 -13l-1.6 29zM140.7 821l1.7 -28l1.1 -8l-1.7 23z"/><path transform="matrix(1 0 0 0.1250 0 331.6)" fill="url(#gC)" stroke="url(#gC)" d="M160.3 875l1.8 -43l1.1 -10l-1.8 38zM162.1 832l1.8 -39l1.1 -7l-1.8 36z"/><path transform="matrix(1 0 0 0.1262 0 334.5)" fill="url(#gC)" stroke="url(#gC)" d="M178.8 455l2 -99l1.1 -47l-2 102zM180.8 356l2.1 -89l1.1 -24l-2 66zM182.9 267l2 -50l1.1 -25l-2 51zM184.9 217l2.1 -47l1.1 -25l-2.1 47z"/><path transform="matrix(1 0 0 0.1267 0 335.7)" fill="url(#gC)" stroke="url(#gC)" d="M188.1 135l2 -1l-1.1 7l-2 19z"/><path fill="#ff550a" stroke="#ff550a" d="M190.1 352.7l28.5 6.8l-.9 -1.1l-28.7 -4.8z"/><path transform="matrix(1 0 0 0.1287 0 340.6)" fill="url(#gC)" stroke="url(#gC)" d="M219.8 143l2.1 5l.7 53l-2 -24zM221.9 148l2.1 1l.7 42l-2.1 10zM224 149l2.1 -3l1 -6l-2.4 51z"/><path fill="#ff550a" stroke="#ff550a" d="M84.1 336.9l10.6 1.7l-1.3 .8l-10.6 -1.7z"/><path transform="matrix(1 0 0 0.1213 0 322.6)" fill="url(#gC)" stroke="url(#gC)" d="M94.7 132l2.1 44l-1.6 -30l-1.8 -8zM101.2 263l2.2 63l1.7 54l-2.2 -69z"/><path transform="matrix(1 0 0 0.1220 0 324.2)" fill="url(#gC)" stroke="url(#gC)" d="M105.6 383l2.2 70l1.7 70l-2.2 -79zM107.8 453l2.3 89l1.6 45l-2.1 -64zM110.1 542l2 52l1.6 55l-2.1 -62zM112.1 594l2 53l1.4 27l-1.9 -25z"/><path transform="matrix(1 0 0 0.1224 0 325.3)" fill="url(#gC)" stroke="url(#gC)" d="M114.2 635l1.9 28l1.4 25l-1.9 -26zM116.1 663l1.9 27l1.4 29l-1.9 -31zM117.9 690l1.9 31l1.4 26l-1.9 -28zM119.8 721l1.9 29l1.3 10l-1.8 -13z"/><path transform="matrix(1 0 0 0.1238 0 328.6)" fill="url(#gC)" stroke="url(#gC)" d="M136.3 899l1.6 -34l1.1 -14l-1.6 29zM137.9 865l1.6 -38l1.1 -11l-1.6 35zM139.5 827l1.7 -30l1.1 -9l-1.7 28z"/><path transform="matrix(1 0 0 0.1252 0 332.1)" fill="url(#gC)" stroke="url(#gC)" d="M157.5 901l1.8 -24l1.1 -8l-1.8 25zM159.2 877l1.7 -43l1.1 -7l-1.8 42zM161 834l1.8 -39l1.1 -7l-1.8 39z"/><path transform="matrix(1 0 0 0.1262 0 334.4)" fill="url(#gC)" stroke="url(#gC)" d="M173 674l1.9 -28l-1.1 16l-1.9 35zM173.8 662l1.9 -63l1.1 -37l-1.9 84zM175.7 599l1.9 -77l1.1 -66l-2 106zM179.7 413l2.1 -118l1.1 -27l-2.1 89z"/><path transform="matrix(1 0 0 0.1270 0 336.5)" fill="url(#gC)" stroke="url(#gC)" d="M185.9 176l2.1 -35l1.1 -7l-2 19z"/><path fill="#ff550a" stroke="#ff550a" d="M189 353.6l37.1 5.9l-1 .9l-37.2 -5.9zM82.7 337.6l12.4 2.7l-1.4 0l-12.4 -2z"/><path transform="matrix(1 0 0 0.1217 0 323.6)" fill="url(#gC)" stroke="url(#gC)" d="M95.1 138l2 35l-1.6 -24l-1.8 -11zM97.2 173l2.1 41l-1.6 -30l-2 -35zM97.6 184l2 39l1.6 31l-2 -40zM99.7 223l2 41l1.7 52l-2.2 -62z"/><path transform="matrix(1 0 0 0.1221 0 324.6)" fill="url(#gC)" stroke="url(#gC)" d="M101.7 254l2 32l1.9 93l-2.2 -73zM103.7 286l2.3 85l1.8 78l-2.2 -70zM106 371l2.3 80l1.8 87l-2.3 -89zM108.3 451l2.2 80l1.6 58l-2 -51z"/><path transform="matrix(1 0 0 0.1226 0 325.7)" fill="url(#gC)" stroke="url(#gC)" d="M110.5 520l2 45l1.7 66l-2 -53zM112.5 565l2 46l1.5 47l-1.9 -27zM114.5 611l2 50l1.4 24l-1.9 -27zM116.5 661l1.9 27l1.4 28l-1.9 -31z"/><path transform="matrix(1 0 0 0.1231 0 326.8)" fill="url(#gC)" stroke="url(#gC)" d="M118.4 677l1.9 23l1.4 33l-1.9 -29zM120.3 700l1.9 31l1.4 31l-1.9 -29zM122.2 731l1.9 40l1.3 17l-1.8 -26z"/><path transform="matrix(1 0 0 0.1240 0 329.1)" fill="url(#gC)" stroke="url(#gC)" d="M133.5 915l1.7 -17l1.2 -4l-1.7 15zM135.1 898l1.6 -34l1.2 -4l-1.6 34zM136.7 864l1.6 -38l1.2 -4l-1.6 38zM138.4 826l1.7 -27l1.2 -7l-1.7 30z"/><path fill="#1010c3" stroke="#1010c3" d="M142.9 425.4l5.4 .9l-1.1 .9l-5.4 -.7z"/><path transform="matrix(1 0 0 0.1255 0 332.8)" fill="url(#gC)" stroke="url(#gC)" d="M156.4 892l1.8 -23l1.1 0l-1.8 24zM158.1 869l1.8 -39l1.1 -4l-1.7 43zM159.9 830l1.8 -35l1.1 -8l-1.8 39z"/><path transform="matrix(1 0 0 0.1264 0 334.9)" fill="url(#gC)" stroke="url(#gC)" d="M169 747l1.9 -39l1.1 -16l-1.9 38zM170.9 708l1.9 -35l1.1 -16l-1.9 35zM172.7 673l1.9 -52l1.1 -27l-1.9 63zM174.6 621l1.9 -77l1.1 -27l-1.9 77z"/><path transform="matrix(1 0 0 0.1269 0 336.1)" fill="url(#gC)" stroke="url(#gC)" d="M176.6 533l2 -114l1.1 -22l-2 109zM178.6 419l2 -95l1.1 -44l-2.1 117zM180.6 324l2.1 -75l1.1 -20l-2 51zM182.7 249l2.1 -45l1.1 -25l-2.1 50z"/><path fill="#ff550a" stroke="#ff550a" d="M187.9 354.4l37.2 5.9l-1 .9l-37.3 -5.1zM81.4 338.4l14.2 3.3l-1.4 -.3l-14.2 -2.3z"/><path transform="matrix(1 0 0 0.1221 0 324.6)" fill="url(#gC)" stroke="url(#gC)" d="M94.2 138l1.8 6l1.6 31l-2 -35zM96 144l2 37l1.6 33l-2 -39zM98.1 181l2 34l1.6 40l-2 -41zM100.1 215l2 31l1.6 41l-2 -32z"/><path transform="matrix(1 0 0 0.1226 0 325.6)" fill="url(#gC)" stroke="url(#gC)" d="M102.1 236l2 34l1.9 92l-2.3 -85zM104.1 270l2.2 67l2 104l-2.3 -79zM106.3 337l2.3 88l1.9 96l-2.2 -80zM108.6 425l2.2 79l1.7 62l-2 -45z"/><path transform="matrix(1 0 0 0.1230 0 326.8)" fill="url(#gC)" stroke="url(#gC)" d="M110.8 493l2.1 51l1.6 56l-2 -46zM112.9 544l2.1 56l1.6 51l-2 -51zM115 600l2 48l1.4 30l-1.9 -27zM117 648l1.9 21l1.4 32l-1.9 -23z"/><path transform="matrix(1 0 0 0.1235 0 327.9)" fill="url(#gC)" stroke="url(#gC)" d="M118.8 657l1.9 29l1.4 35l-1.9 -32zM120.7 686l2 41l1.4 33l-1.9 -39zM122.7 727l2 43l1.4 36l-2 -46zM124.6 770l1.9 37l1.4 44l-1.9 -45z"/><path transform="matrix(1 0 0 0.1239 0 329)" fill="url(#gC)" stroke="url(#gC)" d="M126.6 795l1.9 41l1.4 41l-1.9 -38zM128.5 836l1.9 30l1.4 40l-1.8 -29zM130.3 866l1.8 8l1.4 42l-1.8 -10zM132.1 874l1.7 -10l1.3 35l-1.7 17z"/><path transform="matrix(1 0 0 0.1244 0 330.1)" fill="url(#gC)" stroke="url(#gC)" d="M133.8 852l1.6 -30l1.3 31l-1.6 34zM135.4 822l1.6 -33l1.3 26l-1.6 38zM137.1 789l1.7 -28l1.3 27l-1.7 27zM138.8 761l1.7 -14l1.3 28l-1.7 13z"/><path transform="matrix(1 0 0 0.1249 0 331.3)" fill="url(#gC)" stroke="url(#gC)" d="M140.5 735l1.8 -3l1.3 27l-1.8 4zM142.3 732l1.8 1l1.3 27l-1.8 -1zM144.1 733l1.8 10l1.2 26l-1.8 -9zM145.9 743l1.9 29l1.2 16l-1.8 -19z"/><path transform="matrix(1 0 0 0.1257 0 333.3)" fill="url(#gC)" stroke="url(#gC)" d="M153.4 872l1.8 7l1.1 8l-1.8 -8zM155.2 879l1.8 -21l1.1 6l-1.8 23zM157 858l1.8 -34l1.1 1l-1.8 39zM158.8 824l1.8 -27l1.1 -7l-1.8 35z"/><path transform="matrix(1 0 0 0.1262 0 334.5)" fill="url(#gC)" stroke="url(#gC)" d="M160.6 784l1.8 -13l1.1 -10l-1.8 17zM167.9 766l1.9 -39l1.1 -15l-1.9 39z"/><path transform="matrix(1 0 0 0.1268 0 336)" fill="url(#gC)" stroke="url(#gC)" d="M169.8 712l1.9 -36l1.1 -14l-1.9 35zM171.6 676l1.9 -52l1.1 -14l-1.9 52zM173.5 624l1.9 -88l1.1 -2l-1.9 76zM175.5 536l2 -102l1.1 -14l-2 114z"/><path transform="matrix(1 0 0 0.1273 0 337.2)" fill="url(#gC)" stroke="url(#gC)" d="M177.5 423l2 -100l1.1 -9l-2 95zM179.5 323l2 -69l1.1 -14l-2.1 74zM181.5 254l2.1 -48l1.1 -12l-2.1 46zM183.6 206l2.1 -48l1.1 -9l-2.1 45z"/><path fill="#ff550a" stroke="#ff550a" d="M186.8 356.2l37.3 5.1l-1 .9l-37.4 -4.8zM80 339.1l16 3l-1.4 .4l-16 -2.6z"/><path transform="matrix(1 0 0 0.1225 0 325.6)" fill="url(#gC)" stroke="url(#gC)" d="M96 135l2 37l-1.6 -32l-1.8 -2zM96.4 140l2 25l1.7 41l-2 -34zM98.4 165l2 34l1.6 38l-2 -31zM100.4 199l2 32l1.6 40l-2 -34z"/><path transform="matrix(1 0 0 0.1230 0 326.7)" fill="url(#gC)" stroke="url(#gC)" d="M102.4 222l2 31l1.8 75l-2.2 -67zM104.4 253l1.9 25l2.2 137l-2.3 -87zM106.4 278l2.4 100l2 116l-2.2 -79zM108.8 378l2.4 109l1.7 58l-2.1 -51z"/><path transform="matrix(1 0 0 0.1234 0 327.8)" fill="url(#gC)" stroke="url(#gC)" d="M111.2 476l2 46l1.7 68l-2.1 -56zM113.3 522l2 50l1.7 65l-2 -47zM115.3 572l2 38l1.5 48l-1.9 -21zM117.3 610l2 48l1.4 29l-1.9 -29z"/><path transform="matrix(1 0 0 0.1239 0 328.9)" fill="url(#gC)" stroke="url(#gC)" d="M119.3 646l1.9 35l1.4 35l-2 -40zM121.3 681l2 40l1.4 38l-2 -43zM123.2 721l1.9 28l1.5 47l-1.9 -37zM125.1 749l1.9 38l1.5 50l-1.9 -41z"/><path transform="matrix(1 0 0 0.1244 0 330)" fill="url(#gC)" stroke="url(#gC)" d="M127 775l1.9 24l1.5 55l-1.9 -29zM128.9 799l1.8 6l1.5 57l-1.8 -8zM130.7 805l1.7 -5l1.4 53l-1.7 9zM132.4 800l1.7 -27l1.4 51l-1.6 29z"/><path transform="matrix(1 0 0 0.1248 0 331.2)" fill="url(#gC)" stroke="url(#gC)" d="M134 761l1.7 -29l1.4 46l-1.6 33zM135.7 732l1.7 -22l1.3 40l-1.7 28zM137.4 710l1.7 -15l1.3 41l-1.7 14zM139.2 695l1.8 -1l1.3 39l-1.8 3z"/><path transform="matrix(1 0 0 0.1253 0 332.4)" fill="url(#gC)" stroke="url(#gC)" d="M140.9 682l1.8 3l1.3 37l-1.8 -1zM142.8 685l1.8 11l1.3 36l-1.8 -10zM144.6 696l1.9 30l1.3 35l-1.9 -29zM146.5 726l1.9 42l1.3 39l-1.9 -46z"/><path transform="matrix(1 0 0 0.1258 0 333.5)" fill="url(#gC)" stroke="url(#gC)" d="M148.4 755l1.9 48l1.2 35l-1.9 -44zM150.3 803l1.9 38l1.2 29l-1.9 -32zM152.2 841l1.8 9l1.2 27l-1.8 -7zM154.1 850l1.8 -11l1.2 17l-1.8 21z"/><path transform="matrix(1 0 0 0.1263 0 334.7)" fill="url(#gC)" stroke="url(#gC)" d="M155.8 826l1.8 -27l1.1 11l-1.8 33zM157.6 799l1.8 -14l1.1 -3l-1.8 28zM159.4 785l1.8 -12l1.1 -4l-1.8 13zM161.3 773l1.8 -9l1.1 3l-1.8 2z"/><path transform="matrix(1 0 0 0.1268 0 335.9)" fill="url(#gC)" stroke="url(#gC)" d="M163.1 752l1.8 -7l1.1 12l-1.8 -2zM164.9 745l1.9 -8l1.1 15l-1.9 5zM166.8 737l1.9 -27l1.1 3l-1.9 39zM168.7 710l1.9 -29l1.1 -4l-1.9 36z"/><path transform="matrix(1 0 0 0.1273 0 337.1)" fill="url(#gC)" stroke="url(#gC)" d="M170.5 669l1.9 -44l1.1 -12l-1.9 52zM172.4 625l1.9 -97l1.1 -2l-1.9 87zM174.4 528l2 -125l1.1 21l-2 102zM176.4 403l2 -102l1.1 23l-2 100z"/><path transform="matrix(1 0 0 0.1277 0 338.3)" fill="url(#gC)" stroke="url(#gC)" d="M178.4 290l2 -52l1.1 6l-2 69zM180.4 238l2.1 -48l1.1 6l-2.1 48zM182.5 190l2.1 -44l1.1 3l-2.1 47z"/><path fill="#ff550a" stroke="#ff550a" d="M185.7 357.4l37.4 4.8l-1 .9l-37.5 -6.1zM78.6 339.9l17.8 2.9l-1.4 .8l-17.9 -2.9z"/><path transform="matrix(1 0 0 0.1229 0 326.6)" fill="url(#gC)" stroke="url(#gC)" d="M96.4 132l2 24l-1.5 -16l-1.8 -2zM96.9 140l1.9 11l1.7 39l-2 -34zM98.8 151l2 34l1.6 37l-2 -32zM100.8 185l2 34l1.6 35l-2 -32z"/><path transform="matrix(1 0 0 0.1234 0 327.7)" fill="url(#gC)" stroke="url(#gC)" d="M102.8 209l2 28l1.6 32l-1.9 -25zM104.8 237l2 31l2 101l-2.4 -100zM106.8 268l2.2 60l2.2 149l-2.4 -108zM109 328l2.3 91l1.9 104l-2 -46z"/><path transform="matrix(1 0 0 0.1238 0 328.8)" fill="url(#gC)" stroke="url(#gC)" d="M111.3 409l2.2 75l1.8 78l-2 -50zM113.6 484l2 41l1.7 75l-2 -38zM115.6 525l2 44l1.7 78l-2 -47zM117.6 569l2 49l1.6 64l-1.9 -35z"/><path transform="matrix(1 0 0 0.1243 0 330)" fill="url(#gC)" stroke="url(#gC)" d="M119.6 606l2 43l1.6 61l-2 -39zM121.6 649l1.9 25l1.6 64l-1.9 -28zM123.5 674l2 50l1.5 52l-1.9 -38zM125.5 724l1.9 19l1.5 57l-1.9 -24z"/><path transform="matrix(1 0 0 0.1248 0 331.1)" fill="url(#gC)" stroke="url(#gC)" d="M127.4 731l1.8 5l1.5 58l-1.8 -7zM129.2 736l1.8 -3l1.5 56l-1.7 5zM130.9 733l1.7 -22l1.4 51l-1.7 27zM132.6 711l1.7 -23l1.4 45l-1.7 29z"/><path transform="matrix(1 0 0 0.1253 0 332.3)" fill="url(#gC)" stroke="url(#gC)" d="M134.3 676l1.7 -16l1.4 39l-1.7 22zM136.1 660l1.7 -16l1.4 40l-1.7 15zM137.8 644l1.8 0l1.3 39l-1.8 1zM139.6 644l1.8 5l1.3 37l-1.8 -3z"/><path transform="matrix(1 0 0 0.1257 0 333.4)" fill="url(#gC)" stroke="url(#gC)" d="M141.5 638l1.9 17l1.3 30l-1.8 -11zM143.3 655l1.9 23l1.3 37l-1.9 -30zM145.2 678l1.9 40l1.3 38l-1.9 -41zM147.1 718l1.9 43l1.3 43l-1.9 -48z"/><path transform="matrix(1 0 0 0.1262 0 334.6)" fill="url(#gC)" stroke="url(#gC)" d="M149.1 749l1.9 33l1.3 48l-1.9 -38zM151 782l1.8 4l1.3 52l-1.8 -8zM152.8 786l1.8 -8l1.2 49l-1.8 11zM154.6 778l1.8 -22l1.2 44l-1.8 27z"/><path transform="matrix(1 0 0 0.1267 0 335.8)" fill="url(#gC)" stroke="url(#gC)" d="M156.4 744l1.8 -8l1.2 38l-1.8 13zM158.2 736l1.8 -7l1.2 33l-1.8 12zM160.1 729l1.9 -8l1.2 32l-1.8 9zM161.9 721l1.9 -6l1.1 31l-1.8 7z"/><path transform="matrix(1 0 0 0.1272 0 337)" fill="url(#gC)" stroke="url(#gC)" d="M163.8 702l1.9 -5l1.1 29l-1.9 8zM165.7 697l1.9 -19l1.1 21l-1.9 27zM167.5 678l1.9 -24l1.1 16l-1.9 29zM169.4 654l1.9 -77l1.1 49l-1.9 44z"/><path transform="matrix(1 0 0 0.1277 0 338.2)" fill="url(#gC)" stroke="url(#gC)" d="M171.3 566l1.9 -69l1.1 20l-1.9 97zM173.3 497l2 -125l1.1 21l-2 124zM175.2 372l2 -89l1.1 8l-2 102zM177.3 283l2 -52l1.1 8l-2 52z"/><path transform="matrix(1 0 0 0.1282 0 339.5)" fill="url(#gC)" stroke="url(#gC)" d="M179.3 220l2.1 -52l1.1 13l-2.1 48zM181.4 168l2.1 -24l1.1 -7l-2.1 44z"/><path fill="#ff550a" stroke="#ff550a" d="M184.6 357l37.5 6.1l-1 .9l-37.6 -6.1zM77.2 340.6l21.6 4.5l-1.4 -.2l-21.5 -3.5z"/><path transform="matrix(1 0 0 0.1234 0 327.9)" fill="url(#gC)" stroke="url(#gC)" d="M97.4 138l1.8 4l1.6 31l-2 -33zM99.2 142l2 32l1.6 34l-2 -35zM101.2 174l2 32l1.6 29l-2 -27zM103.3 206l2 30l1.6 31l-2 -32z"/><path transform="matrix(1 0 0 0.1239 0 329)" fill="url(#gC)" stroke="url(#gC)" d="M105.3 226l2 27l1.8 63l-2.2 -59zM107.3 253l2 30l2.1 124l-2.3 -91zM109.3 283l2.1 52l2.2 147l-2.2 -75zM111.4 335l2.2 59l2.1 129l-2 -41z"/><path transform="matrix(1 0 0 0.1244 0 330.1)" fill="url(#gC)" stroke="url(#gC)" d="M113.5 383l2.2 63l1.9 110l-2 -44zM115.7 446l2.2 71l1.8 88l-2 -49zM117.9 517l2 40l1.8 90l-2 -42zM119.9 557l2 34l1.7 81l-1.9 -25z"/><path transform="matrix(1 0 0 0.1249 0 331.3)" fill="url(#gC)" stroke="url(#gC)" d="M121.8 579l1.9 23l1.8 108l-2 -50zM123.7 602l1.9 24l1.7 103l-1.9 -19zM125.6 626l1.8 7l1.7 101l-1.8 -5zM127.5 633l1.8 2l1.7 96l-1.8 3z"/><path transform="matrix(1 0 0 0.1253 0 332.5)" fill="url(#gC)" stroke="url(#gC)" d="M129.3 624l1.7 -17l1.6 90l-1.7 22zM131 607l1.7 -17l1.6 84l-1.7 23zM132.7 590l1.8 -13l1.5 81l-1.7 16zM134.5 577l1.8 -13l1.5 78l-1.7 16z"/><path transform="matrix(1 0 0 0.1258 0 333.6)" fill="url(#gC)" stroke="url(#gC)" d="M136.3 552l1.8 2l1.5 77l-1.8 -1zM138.1 554l1.9 6l1.5 76l-1.8 -5zM140 560l1.9 26l1.4 67l-1.9 -17zM141.9 586l1.9 34l1.4 56l-1.9 -23z"/><path transform="matrix(1 0 0 0.1263 0 334.8)" fill="url(#gC)" stroke="url(#gC)" d="M143.9 608l2 65l1.3 31l-1.9 -40zM145.9 673l1.9 32l1.3 42l-1.9 -43zM147.8 705l1.9 25l1.3 50l-1.9 -33zM149.7 730l1.8 3l1.3 51l-1.8 -4z"/><path transform="matrix(1 0 0 0.1268 0 336)" fill="url(#gC)" stroke="url(#gC)" d="M151.5 720l1.8 -4l1.2 47l-1.8 8zM153.4 716l1.8 -16l1.2 42l-1.8 21zM155.2 700l1.9 -3l1.2 37l-1.8 8zM157 697l1.9 -4l1.2 34l-1.8 7z"/><path transform="matrix(1 0 0 0.1273 0 337.2)" fill="url(#gC)" stroke="url(#gC)" d="M158.9 681l1.9 -8l1.2 33l-1.9 8zM160.8 673l1.9 -6l1.2 33l-1.9 6zM162.6 667l1.9 -6l1.2 34l-1.9 5zM164.5 661l1.9 -7l1.1 22l-1.9 19z"/><path transform="matrix(1 0 0 0.1278 0 338.5)" fill="url(#gC)" stroke="url(#gC)" d="M166.4 642l1.9 -66l1.1 64l-1.9 24zM168.3 576l1.9 -75l1.1 63l-1.9 76zM170.2 501l1.9 -86l1.1 80l-1.9 69zM172.1 415l2 -80l1.1 35l-2 125z"/><path transform="matrix(1 0 0 0.1283 0 339.7)" fill="url(#gC)" stroke="url(#gC)" d="M174.1 324l2 -69l1.1 15l-2 89zM176.1 255l2 -48l1.1 12l-2 51zM178.2 207l2.1 -49l1.1 9l-2.1 52zM180.2 158l2.1 -9l1.1 -7l-2.1 25z"/><path fill="#ff550a" stroke="#ff550a" d="M183.4 357.9l37.6 6.1l-1 .9l-37.7 -6.2zM75.8 341.4l23.4 4l-1.4 .6l-23.4 -3.8z"/><path transform="matrix(1 0 0 0.1239 0 328.9)" fill="url(#gC)" stroke="url(#gC)" d="M99.2 133l2 32l-1.6 -24l-1.8 -3zM99.7 141l2 19l1.6 37l-2 -32zM101.6 160l2 31l1.6 35l-2 -29zM103.6 191l2 27l1.6 36l-2 -28z"/><path transform="matrix(1 0 0 0.1243 0 330.1)" fill="url(#gC)" stroke="url(#gC)" d="M105.7 208l2 28l1.6 38l-2 -30zM107.7 236l2 23l1.8 66l-2.1 -51zM109.6 259l1.9 18l2 107l-2.2 -59zM111.6 277l2 24l2.2 146l-2.2 -63z"/><path transform="matrix(1 0 0 0.1248 0 331.2)" fill="url(#gC)" stroke="url(#gC)" d="M113.5 291l2.3 76l2.1 140l-2.2 -71zM115.8 367l2 41l2.1 139l-2 -40zM117.8 408l2 42l2 130l-2 -33zM119.9 450l1.9 23l1.9 130l-1.9 -23z"/><path transform="matrix(1 0 0 0.1253 0 332.4)" fill="url(#gC)" stroke="url(#gC)" d="M121.8 462l2 34l1.9 119l-1.9 -23zM123.8 496l1.8 4l1.8 122l-1.8 -7zM125.6 500l2 29l1.7 96l-1.8 -3zM127.6 529l1.8 -12l1.7 91l-1.7 17z"/><path transform="matrix(1 0 0 0.1258 0 333.5)" fill="url(#gC)" stroke="url(#gC)" d="M129.4 506l1.8 -11l1.6 84l-1.7 17zM131.1 495l1.8 -7l1.6 79l-1.8 12zM133 488l1.8 -3l1.5 68l-1.8 14zM134.8 485l1.9 2l1.5 68l-1.8 -2z"/><path transform="matrix(1 0 0 0.1262 0 334.7)" fill="url(#gC)" stroke="url(#gC)" d="M136.6 475l1.9 7l1.5 68l-1.9 -7zM138.5 482l1.9 26l1.4 68l-1.9 -26zM140.5 508l1.9 17l1.5 84l-1.9 -33zM142.4 525l2 41l1.5 108l-2 -65z"/><path transform="matrix(1 0 0 0.1267 0 335.9)" fill="url(#gC)" stroke="url(#gC)" d="M144.4 554l2 43l1.4 97l-1.9 -32zM146.3 597l1.9 20l1.4 102l-1.9 -25zM148.3 617l1.9 23l1.4 82l-1.8 -3zM150.2 640l1.8 -8l1.3 85l-1.8 5z"/><path transform="matrix(1 0 0 0.1272 0 337.1)" fill="url(#gC)" stroke="url(#gC)" d="M152 620l1.9 6l1.3 63l-1.8 15zM153.9 626l1.9 1l1.3 59l-1.9 3zM155.8 627l1.9 0l1.2 55l-1.9 4zM157.7 627l1.9 -19l1.2 66l-1.9 8z"/><path transform="matrix(1 0 0 0.1277 0 338.4)" fill="url(#gC)" stroke="url(#gC)" d="M159.5 596l1.9 -17l1.2 77l-1.9 5zM161.4 579l1.9 -17l1.2 88l-1.9 6zM163.3 562l1.9 -21l1.2 102l-1.9 7zM165.2 541l1.9 -37l1.2 73l-1.9 66z"/><path transform="matrix(1 0 0 0.1282 0 339.6)" fill="url(#gC)" stroke="url(#gC)" d="M167.1 493l1.9 -85l1.2 83l-1.9 74zM169 408l2 -71l1.2 68l-1.9 86zM171 337l2 -66l1.1 54l-2 80zM173 271l2 -35l1.1 20l-2 69z"/><path transform="matrix(1 0 0 0.1287 0 340.8)" fill="url(#gC)" stroke="url(#gC)" d="M175 226l2 -40l1.1 12l-2 47zM177 186l2.1 -42l1.1 4l-2.1 50z"/><path fill="#ff550a" stroke="#ff550a" d="M180.2 359.9l39.7 5.1l-1 .9l-39.8 -6.5zM74.4 342.2l27.2 6.6l-1.5 -1.3l-27.2 -4.5z"/><path transform="matrix(1 0 0 0.1244 0 330.2)" fill="url(#gC)" stroke="url(#gC)" d="M100.1 138l1.8 3l1.7 38l-2 -30zM102 141l2 30l1.6 36l-2 -28zM104 171l2 22l1.6 41l-2 -27zM106 193l2 23l1.6 41l-2 -23z"/><path transform="matrix(1 0 0 0.1249 0 331.4)" fill="url(#gC)" stroke="url(#gC)" d="M108 205l2 23l1.6 37l-1.9 -18zM110 228l2 23l1.6 38l-2 -24zM111.9 251l2 24l1.9 90l-2.3 -76zM113.9 275l2 24l1.9 108l-2 -42z"/><path transform="matrix(1 0 0 0.1253 0 332.6)" fill="url(#gC)" stroke="url(#gC)" d="M115.9 288l2 21l2 128l-2 -41zM117.9 309l2.1 44l1.9 107l-1.9 -23zM119.9 353l1.9 16l1.9 125l-2 -34zM121.9 369l2 26l1.8 104l-1.8 -5z"/><path transform="matrix(1 0 0 0.1258 0 333.7)" fill="url(#gC)" stroke="url(#gC)" d="M123.8 385l1.8 -2l1.9 133l-2 -29zM125.7 383l1.9 3l1.8 118l-1.8 12zM127.5 386l1.8 -5l1.8 112l-1.8 11zM129.4 381l1.9 8l1.7 97l-1.8 7z"/><path transform="matrix(1 0 0 0.1263 0 334.9)" fill="url(#gC)" stroke="url(#gC)" d="M131.3 378l1.9 -1l1.6 95l-1.8 3zM133.1 377l1.9 1l1.6 96l-1.9 -2zM135 378l1.9 6l1.6 96l-1.9 -6zM136.9 384l2 19l1.6 103l-1.9 -26z"/><path transform="matrix(1 0 0 0.1268 0 336.1)" fill="url(#gC)" stroke="url(#gC)" d="M138.9 392l1.9 13l1.6 107l-1.9 -17zM140.8 405l1.9 18l1.6 129l-2 -40zM142.8 423l2 33l1.6 139l-2 -43zM144.7 456l2 28l1.5 131l-1.9 -20z"/><path transform="matrix(1 0 0 0.1273 0 337.3)" fill="url(#gC)" stroke="url(#gC)" d="M146.7 472l1.9 4l1.6 150l-1.9 -22zM148.6 476l1.9 -5l1.5 147l-1.8 8zM150.5 471l2 43l1.4 110l-1.9 -6zM152.5 514l1.9 -2l1.4 113l-1.9 -1z"/><path transform="matrix(1 0 0 0.1278 0 338.6)" fill="url(#gC)" stroke="url(#gC)" d="M154.4 501l1.9 18l1.3 94l-1.9 0zM156.3 519l1.9 -11l1.3 86l-1.9 19zM158.2 508l1.9 -51l1.3 120l-1.9 17zM160.1 457l1.9 -12l1.3 115l-1.9 17z"/><path transform="matrix(1 0 0 0.1283 0 339.8)" fill="url(#gC)" stroke="url(#gC)" d="M162 434l1.9 -22l1.3 115l-1.9 21zM163.9 412l1.9 -23l1.2 102l-1.9 36zM165.9 389l1.9 -50l1.2 67l-1.9 85zM167.8 339l2 -63l1.2 60l-2 70z"/><path transform="matrix(1 0 0 0.1288 0 341.1)" fill="url(#gC)" stroke="url(#gC)" d="M169.8 265l2 -29l1.2 22l-2 67zM171.8 236l2 -39l1.2 27l-2 34zM173.8 197l2 -35l1.2 22l-2 40zM175.9 162l2.1 -13l1.2 -7l-2.1 42z"/><path fill="#ff550a" stroke="#ff550a" d="M179.1 359.4l39.8 6.5l-1.1 .9l-40 -6.6zM73 343l29 4.8l-1.4 .8l-29.1 -4.8z"/><path transform="matrix(1 0 0 0.1248 0 331.3)" fill="url(#gC)" stroke="url(#gC)" d="M102 132l2 30l-1.5 -21l-1.9 -3zM102.5 141l1.9 2l1.7 41l-2 -22zM104.3 143l2 23l1.6 40l-2 -22zM106.3 166l2 24l1.6 38l-2 -22z"/><path transform="matrix(1 0 0 0.1253 0 332.5)" fill="url(#gC)" stroke="url(#gC)" d="M108.3 180l2 22l1.6 40l-2 -24zM110.3 202l2 21l1.6 42l-2 -23zM112.3 223l2 20l1.6 46l-2 -24zM114.3 243l2 19l1.6 47l-2 -20z"/><path transform="matrix(1 0 0 0.1258 0 333.6)" fill="url(#gC)" stroke="url(#gC)" d="M116.2 251l2 17l1.7 75l-2.1 -44zM118.2 268l1.9 13l1.7 78l-1.9 -16zM120.1 281l1.9 7l1.8 98l-2 -27zM122 288l1.8 -7l1.8 102l-1.8 3z"/><path transform="matrix(1 0 0 0.1263 0 334.8)" fill="url(#gC)" stroke="url(#gC)" d="M123.9 271l1.9 3l1.8 102l-1.9 -3zM125.8 274l1.9 6l1.7 91l-1.8 5zM127.7 280l1.9 6l1.7 93l-1.9 -8zM129.6 286l1.9 -1l1.7 93l-1.9 1z"/><path transform="matrix(1 0 0 0.1267 0 336)" fill="url(#gC)" stroke="url(#gC)" d="M131.5 275l1.9 -1l1.6 94l-1.9 -1zM133.4 274l1.9 5l1.6 95l-1.9 -6zM135.3 279l1.9 11l1.6 103l-2 -19zM137.3 290l2 12l1.6 104l-1.9 -13z"/><path transform="matrix(1 0 0 0.1272 0 337.2)" fill="url(#gC)" stroke="url(#gC)" d="M139.2 291l1.9 10l1.6 111l-1.9 -17zM141.2 301l1.9 8l1.6 136l-2 -33zM143.1 309l2 39l1.6 125l-2 -28zM145.1 348l1.9 1l1.6 128l-1.9 -4z"/><path transform="matrix(1 0 0 0.1277 0 338.5)" fill="url(#gC)" stroke="url(#gC)" d="M147.1 338l1.9 2l1.5 120l-1.9 5zM149 340l2 20l1.5 144l-2 -44zM151 360l1.9 0l1.5 142l-1.9 2zM152.9 360l2 26l1.4 134l-1.9 -18z"/><path transform="matrix(1 0 0 0.1282 0 339.7)" fill="url(#gC)" stroke="url(#gC)" d="M154.9 375l1.9 1l1.4 121l-1.9 11zM156.9 376l1.9 -21l1.3 91l-1.9 51zM158.8 355l1.9 -21l1.3 101l-1.9 11zM160.7 334l2 -15l1.3 94l-1.9 22z"/><path transform="matrix(1 0 0 0.1287 0 341)" fill="url(#gC)" stroke="url(#gC)" d="M162.7 308l2 -34l1.3 105l-1.9 23zM164.6 274l2 -9l1.2 64l-1.9 50zM166.6 265l2 -27l1.2 28l-2 63zM168.6 238l2 -29l1.2 28l-2 29z"/><path transform="matrix(1 0 0 0.1292 0 342.2)" fill="url(#gC)" stroke="url(#gC)" d="M170.6 198l2 -30l1.2 20l-2 38zM172.7 168l2 -24l1.2 8l-2 36z"/><path fill="#ff550a" stroke="#ff550a" d="M175.9 361.9l42 4.9l-1.1 1l-42.1 -7zM71.5 343.7l32.8 5.4l-1.4 .8l-32.9 -5.5z"/><path transform="matrix(1 0 0 0.1254 0 332.7)" fill="url(#gC)" stroke="url(#gC)" d="M104.3 132l2 23l-1.5 -14l-1.9 -3zM104.9 141l1.9 2l1.6 35l-2 -23zM106.7 143l2 14l1.7 44l-2 -23zM108.7 157l2 20l1.6 44l-2 -20z"/><path transform="matrix(1 0 0 0.1258 0 333.8)" fill="url(#gC)" stroke="url(#gC)" d="M110.7 167l2 18l1.6 46l-2 -20zM112.6 185l2 20l1.6 45l-2 -19zM114.6 205l2 16l1.6 46l-2 -17zM116.6 221l1.9 9l1.6 49l-1.9 -12z"/><path transform="matrix(1 0 0 0.1263 0 335)" fill="url(#gC)" stroke="url(#gC)" d="M118.5 220l1.9 4l1.6 52l-1.9 -7zM120.4 224l1.9 -4l1.6 49l-1.8 7zM122.3 220l1.9 2l1.6 51l-1.9 -4zM124.2 222l2 11l1.5 45l-1.9 -5z"/><path transform="matrix(1 0 0 0.1268 0 336.2)" fill="url(#gC)" stroke="url(#gC)" d="M126.1 223l1.9 5l1.5 46l-1.9 -7zM128.1 228l1.9 9l1.5 36l-1.9 1zM130 237l1.9 -11l1.5 46l-1.9 1zM131.9 226l1.9 5l1.5 47l-1.9 -6z"/><path transform="matrix(1 0 0 0.1273 0 337.4)" fill="url(#gC)" stroke="url(#gC)" d="M133.8 220l2 12l1.5 46l-1.9 -11zM135.8 232l2 12l1.4 45l-2 -11zM137.8 244l2 8l1.4 47l-1.9 -10zM139.7 252l2 5l1.4 50l-1.9 -8z"/><path transform="matrix(1 0 0 0.1278 0 338.7)" fill="url(#gC)" stroke="url(#gC)" d="M141.7 247l2 13l1.5 76l-2 -40zM143.7 260l2 2l1.5 74l-1.9 0zM145.6 262l2 10l1.4 66l-1.9 -2zM147.6 272l2 2l1.4 84l-2 -20z"/><path transform="matrix(1 0 0 0.1283 0 339.9)" fill="url(#gC)" stroke="url(#gC)" d="M149.5 263l2 1l1.4 83l-1.9 0zM151.5 264l2 10l1.4 99l-2 -26zM153.5 274l2 1l1.4 99l-1.9 -1zM155.5 275l2 2l1.3 76l-1.9 21z"/><path transform="matrix(1 0 0 0.1288 0 341.2)" fill="url(#gC)" stroke="url(#gC)" d="M157.5 266l2 -11l1.3 66l-1.9 21zM159.4 255l2 -15l1.3 66l-2 15zM161.4 240l2 -12l1.2 44l-2 34zM163.4 228l2 -6l1.2 42l-2 8z"/><path transform="matrix(1 0 0 0.1293 0 342.4)" fill="url(#gC)" stroke="url(#gC)" d="M165.4 211l2 -14l1.2 28l-2 28zM167.4 197l2 -28l1.2 27l-2 29zM169.4 169l2 -22l1.2 19l-2 30zM171.5 147l2.1 2l1.2 -7l-2 24z"/><path fill="#ff550a" stroke="#ff550a" d="M174.7 360.8l42.1 7l-1.1 1l-42.2 -7zM70.1 344.5l38.6 7.9l-1.4 -.6l-38.6 -6.4z"/><path transform="matrix(1 0 0 0.1260 0 334.3)" fill="url(#gC)" stroke="url(#gC)" d="M107.2 138l1.9 3l1.5 22l-2 -20zM109.1 141l1.9 2l1.6 38l-2 -18zM111 143l1.9 3l1.7 55l-2 -20zM112.9 146l1.9 2l1.8 69l-2 -16z"/><path transform="matrix(1 0 0 0.1265 0 335.5)" fill="url(#gC)" stroke="url(#gC)" d="M114.8 138l1.9 3l1.8 75l-1.9 -10zM116.7 141l1.9 2l1.8 77l-1.9 -4zM118.7 143l1.9 3l1.7 70l-1.9 4zM120.6 146l1.9 3l1.7 69l-1.9 -2z"/><path transform="matrix(1 0 0 0.1270 0 336.7)" fill="url(#gC)" stroke="url(#gC)" d="M122.5 138l1.9 3l1.7 78l-2 -12zM124.4 141l1.9 3l1.7 80l-1.9 -5zM126.4 144l1.9 2l1.7 87l-1.9 -9zM128.3 146l1.9 3l1.6 73l-1.9 11z"/><path transform="matrix(1 0 0 0.1275 0 338)" fill="url(#gC)" stroke="url(#gC)" d="M130.3 139l2 2l1.6 75l-1.9 -4zM132.2 141l2 3l1.6 84l-2 -12zM134.2 144l2 2l1.6 94l-2 -12zM136.1 146l2 3l1.6 99l-2 -8z"/><path transform="matrix(1 0 0 0.1280 0 339.2)" fill="url(#gC)" stroke="url(#gC)" d="M138.1 139l2 2l1.6 101l-2 -5zM140.1 141l2 3l1.6 111l-2 -13zM142 144l2 2l1.6 112l-2 -3zM144 146l2 3l1.6 118l-2 -9z"/><path transform="matrix(1 0 0 0.1285 0 340.4)" fill="url(#gC)" stroke="url(#gC)" d="M146 139l2 2l1.5 117l-2 -2zM148 141l2 3l1.5 115l-2 -1zM150 144l2 2l1.5 123l-2 -10zM152 146l2 3l1.5 121l-2 -1z"/><path transform="matrix(1 0 0 0.1290 0 341.7)" fill="url(#gC)" stroke="url(#gC)" d="M154 139l2 2l1.4 121l-2 -2zM156 141l2 3l1.4 107l-2 11zM158 144l2 3l1.3 89l-2 15zM160.1 147l2 2l1.3 75l-2 12z"/><path transform="matrix(1 0 0 0.1295 0 343)" fill="url(#gC)" stroke="url(#gC)" d="M162.1 139l2 2l1.3 66l-2 6zM164.1 141l2 3l1.2 49l-2 14zM166.2 144l2 3l1.2 17l-2 29zM168.2 147l2.1 2l1.2 -7l-2 22z"/><path fill="#ff550a" stroke="#ff550a" d="M171.5 361.4l44.3 7.4l-1.1 1l-44.4 -7.4z"/></g><path d="M67.3 328.1L141.3 290.5M141.3 290.5L269 306.1M67.3 328.1L77.3 451.6M269 306.1L260.5 420.8M77.3 451.6L210.8 483.7M210.8 483.7L260.5 420.8" fill="none" stroke="#111" stroke-width="1.5" stroke-linejoin="round" stroke-linecap="round"/><g font-family="Liberation Sans" font-weight="bold" font-size="6.4" fill="#1a1a1a"><text x="72.9" y="445" text-anchor="end">0</text><text x="71.9" y="432" text-anchor="end">2</text><text x="70.8" y="418.7" text-anchor="end">4</text><text x="69.7" y="405.2" text-anchor="end">6</text><text x="68.6" y="391.3" text-anchor="end">8</text><text x="67.4" y="377.1" text-anchor="end">10</text><text x="66.3" y="362.5" text-anchor="end">12</text><text x="65.1" y="347.6" text-anchor="end">14</text><text x="63.8" y="332.4" text-anchor="end">16</text><text x="72.3" y="461.1" text-anchor="middle">1.5</text><text x="89" y="465.2" text-anchor="middle">1.0</text><text x="106.1" y="469.3" text-anchor="middle">0.5</text><text x="123.6" y="473.5" text-anchor="middle">0.0</text><text x="141.5" y="477.8" text-anchor="middle">-0.5</text><text x="159.8" y="482.2" text-anchor="middle">-1.0</text><text x="178.6" y="486.7" text-anchor="middle">-1.5</text><text x="197.9" y="491.4" text-anchor="middle">-2.0</text><text x="265.1" y="424.8">1.5</text><text x="258" y="433.7">1.0</text><text x="250.5" y="443.2">0.5</text><text x="242.6" y="453.2">0.0</text><text x="232.4" y="463.8">-0.5</text><text x="223.5" y="475.1">-1.0</text></g><text transform="translate(56.2,393.2) rotate(-90)" text-anchor="middle" font-family="Liberation Sans" font-weight="bold" font-size="8.6" fill="#1a1a1a">G (kJ/mol)</text><text transform="translate(139.5,494.6) rotate(9)" text-anchor="middle" font-family="Liberation Sans" font-weight="bold" font-size="10" fill="#1a1a1a">PC2</text><text transform="translate(264.5,452) rotate(-62)" text-anchor="middle" font-family="Liberation Sans" font-weight="bold" font-size="10" fill="#1a1a1a">PC1</text><g font-family="Liberation Sans" font-size="7" fill="#222"><rect x="284.1" y="322.1" width="37.3" height="82.8" fill="#fff" stroke="#222" stroke-width="1"/><rect x="289" y="328.7" width="15" height="4.4" fill="#2d1080"/><text x="307.4" y="333.4">0</text><rect x="289" y="336.9" width="15" height="4.4" fill="#14148c"/><text x="307.4" y="341.6">2</text><rect x="289" y="345.1" width="15" height="4.4" fill="#1414e6"/><text x="307.4" y="349.8">4</text><rect x="289" y="353.4" width="15" height="4.4" fill="#1e5096"/><text x="307.4" y="358.1">6</text><rect x="289" y="361.6" width="15" height="4.4" fill="#14be14"/><text x="307.4" y="366.3">8</text><rect x="289" y="369.8" width="15" height="4.4" fill="#96e61e"/><text x="307.4" y="374.5">10</text><rect x="289" y="378" width="15" height="4.4" fill="#ffe600"/><text x="307.4" y="382.7">12</text><rect x="289" y="386.2" width="15" height="4.4" fill="#ff9a14"/><text x="307.4" y="390.9">14</text><rect x="289" y="394.5" width="15" height="4.4" fill="#ff5014"/><text x="307.4" y="399.2">16</text></g><text x="9.6" y="291.3" font-family="Liberation Serif" font-weight="bold" font-size="16.5" fill="#000">C</text>
<defs><linearGradient id="gD" gradientUnits="userSpaceOnUse" x1="0" y1="0" x2="0" y2="1000"><stop offset="0.000" stop-color="#ff690a"/><stop offset="0.029" stop-color="#ff690a"/><stop offset="0.057" stop-color="#ff690a"/><stop offset="0.086" stop-color="#ff690a"/><stop offset="0.114" stop-color="#ff690a"/><stop offset="0.143" stop-color="#ff770c"/><stop offset="0.171" stop-color="#ff8d0e"/><stop offset="0.200" stop-color="#ffa20c"/><stop offset="0.229" stop-color="#ffb506"/><stop offset="0.257" stop-color="#ffc901"/><stop offset="0.286" stop-color="#f4d704"/><stop offset="0.314" stop-color="#d7f00f"/><stop offset="0.343" stop-color="#b4e811"/><stop offset="0.371" stop-color="#91df12"/><stop offset="0.400" stop-color="#6ed714"/><stop offset="0.429" stop-color="#57cd17"/><stop offset="0.457" stop-color="#3fc31b"/><stop offset="0.486" stop-color="#28b91e"/><stop offset="0.514" stop-color="#20a62f"/><stop offset="0.543" stop-color="#108050"/><stop offset="0.571" stop-color="#106b80"/><stop offset="0.600" stop-color="#1055b0"/><stop offset="0.629" stop-color="#1040e0"/><stop offset="0.657" stop-color="#1030db"/><stop offset="0.686" stop-color="#1020d5"/><stop offset="0.714" stop-color="#1010d0"/><stop offset="0.743" stop-color="#0e0eb9"/><stop offset="0.771" stop-color="#0a0a8c"/><stop offset="0.800" stop-color="#0f0c89"/><stop offset="0.829" stop-color="#140d85"/><stop offset="0.857" stop-color="#190f82"/><stop offset="0.886" stop-color="#1f1181"/><stop offset="0.914" stop-color="#241381"/><stop offset="0.943" stop-color="#2a1580"/><stop offset="0.971" stop-color="#2a1580"/><stop offset="1.000" stop-color="#2a1580"/></linearGradient></defs><path d="M445.8 436.3L438.1 317.7M459.6 425.2L453.5 309.9M472.5 414.9L467.8 302.7M484.6 405.2L481.2 295.9M503.8 398.4L502.1 291.3M518.1 401.2L517.6 293.1M532.6 403.9L533.4 295M547.4 406.8L549.5 297M562.5 409.6L566 299M577.9 412.6L582.8 301M593.6 415.6L600 303.1M429 441.9L495 390.2M495 390.2L611.8 412M428.1 430.4L494.8 380.1M494.8 380.1L612.5 401.3M427.1 418.6L494.5 369.7M494.5 369.7L613.3 390.3M426.2 406.7L494.3 359.3M494.3 359.3L614.1 379.2M425.2 394.5L494 348.6M494 348.6L614.9 367.9M424.2 382L493.8 337.8M493.8 337.8L615.7 356.3M423.2 369.3L493.5 326.8M493.5 326.8L616.6 344.6M422.2 356.4L493.3 315.5M493.3 315.5L617.4 332.6M421.2 343.1L493 304.1M493 304.1L618.3 320.4M420.1 329.6L492.7 292.6M492.7 292.6L619.2 308" fill="none" stroke="#d4d4d4" stroke-width=".7"/><path d="M492.7 290.1L495.1 396.8" fill="none" stroke="#111" stroke-width="1.4"/><path fill="#ff690a" d="M429.6 449.3L562.5 480.8L611.3 419L495.1 396.8Z"/><path fill="#ff770c" stroke="#ff770c" stroke-width=".4" d="M501.4 464.9l10.9 2.6l1.1 -1.1l-10.9 -2.6zM465.7 455.1l15.6 3.7l1.2 -1.1l-15.6 -3.6zM495.4 462.1l5.4 1.3l1.1 -1.1l-5.4 -1.3zM515.3 466.8l5.5 1.3l1.1 -1.1l-5.5 -1.3zM458.3 452.1l5.1 1.2l1.2 -1.1l-5.1 -1.2zM485.9 458.5l7.1 1.6l1.1 -1.1l-7 -1.6zM521.9 466.9l3.7 .9l1.1 -1.1l-3.7 -.9zM456.2 450.2l3.4 .8l1.2 -1l-3.4 -.8zM524.8 466.2l3.7 .9l1 -1.1l-3.7 -.9zM455.7 448.8l1.7 .4l1.2 -1l-1.7 -.4zM529.5 465.9l1.8 .4l1 -1.1l-1.8 -.4zM453.6 447l3.3 .8l1.2 -1l-3.3 -.8zM532.4 465.2l1.8 .4l1 -1.1l-1.8 -.4zM453.1 445.6l1.7 .4l1.2 -1l-1.7 -.4zM535.3 464.5l1.8 .4l1 -1.1l-1.8 -.4zM452.7 444.2l1.6 .4l1.2 -1l-1.6 -.4zM536.3 463.4l1.8 .4l1 -1.1l-1.8 -.4zM452.3 442.8l1.6 .4l1.2 -1l-1.6 -.4zM537.3 462.3l3.7 .8l1 -1.1l-3.7 -.8zM451.8 441.5l1.6 .4l1.2 -1l-1.6 -.4zM540.1 461.6l1.8 .4l1 -1.1l-1.8 -.4zM453 440.5l1.6 .4l1.2 -1l-1.6 -.4zM541.1 460.5l1.8 .4l1 -1.1l-1.8 -.4zM452.6 439.1l1.6 .4l1.2 -1l-1.6 -.4zM542.1 459.4l1.8 .4l1 -1.1l-1.8 -.4zM452.1 437.8l1.6 .4l1.2 -1l-1.6 -.4zM543.1 458.3l1.8 .4l1 -1.1l-1.8 -.4zM451.7 436.5l1.6 .4l1.2 -1l-1.6 -.4zM544 457.2l1.8 .4l1 -1.1l-1.8 -.4zM571.8 463.4l3.8 .8l.9 -1.1l-3.8 -.8zM451.3 435.2l1.6 .4l1.2 -.9l-1.6 -.4zM545 456.1l1.8 .4l1 -1.1l-1.8 -.4zM567.1 461l1.9 .4l.9 -1.1l-1.9 -.4zM450.9 433.9l1.6 .4l1.2 -.9l-1.6 -.4zM545.9 455l1.8 .4l.9 -1.1l-1.8 -.4zM562.4 458.7l1.8 .4l.9 -1.1l-1.8 -.4zM450.4 432.6l3.2 .7l1.2 -.9l-3.2 -.7zM545.1 453.6l1.8 .4l.9 -1.1l-1.8 -.4zM557.8 456.4l1.8 .4l.9 -1.1l-1.8 -.4zM576.3 460.5l1.9 .4l.9 -1.1l-1.9 -.4zM451.6 431.6l1.6 .4l1.2 -.9l-1.6 -.3zM546.1 452.5l1.8 .4l.9 -1.1l-1.8 -.4zM553.3 454.1l1.8 .4l.9 -1.1l-1.8 -.4zM577.2 459.4l1.9 .4l.9 -1.1l-1.9 -.4zM545.2 451.1l1.8 .4l.9 -1l-1.8 -.4zM550.6 452.2l1.8 .4l.9 -1.1l-1.8 -.4zM576.2 457.9l1.9 .4l.9 -1.1l-1.9 -.4zM546.2 450l1.8 .4l.9 -1l-1.8 -.4zM576.1 455.3l1.8 .4l.9 -1.1l-1.8 -.4zM575.1 453.9l1.8 .4l.9 -1.1l-1.8 -.4zM574.1 452.4l1.8 .4l.9 -1.1l-1.8 -.4zM574 449.9l1.8 .4l.9 -1l-1.8 -.4zM543 442l3.5 .7l.9 -1l-3.5 -.7zM573.1 448.5l1.8 .4l.8 -1l-1.8 -.4zM542.2 440.7l1.7 .4l.9 -1l-1.7 -.4zM572.1 447.1l1.8 .4l.8 -1l-1.8 -.4zM541.4 439.3l3.5 .7l.9 -1l-3.4 -.7zM542.3 438.3l1.7 .4l.9 -1l-1.7 -.4zM545.7 439.1l1.7 .4l.9 -1l-1.7 -.4zM572.1 444.7l1.8 .4l.8 -1l-1.8 -.4zM543.2 437.4l1.7 .4l.9 -1l-1.7 -.4zM546.6 438.1l1.7 .4l.9 -1l-1.7 -.4zM571.1 443.3l1.8 .4l.8 -1l-1.8 -.4zM544.1 436.4l1.7 .4l.9 -1l-1.7 -.4zM551 437.9l1.7 .4l.9 -1l-1.7 -.4zM570.2 441.9l1.8 .4l.8 -1l-1.8 -.4zM467.2 419.1l1.5 .3l1.1 -.9l-1.5 -.3zM545 435.5l10.3 2.2l.9 -1l-10.3 -2.2zM569.3 440.6l1.8 .4l.8 -1l-1.8 -.4zM468.3 418.3l1.5 .3l1.1 -.9l-1.5 -.3zM556.2 436.7l1.7 .4l.9 -1l-1.7 -.4zM470.9 417.7l1.5 .3l1.1 -.9l-1.5 -.3zM569.2 438.2l1.7 .4l.8 -1l-1.7 -.4zM472 416.9l1.5 .3l1 -.8l-1.5 -.3zM568.3 436.9l1.7 .4l.8 -1l-1.7 -.4zM474.5 416.4l3.1 .6l1 -.8l-3.1 -.6zM567.4 435.6l1.7 .4l.8 -1l-1.7 -.4zM478.6 416.1l4.6 1l1 -.8l-4.6 -.9zM484.3 416.3l1.5 .3l1 -.8l-1.5 -.3zM567.4 433.3l1.7 .4l.8 -.9l-1.7 -.4zM486.8 415.7l1.5 .3l1 -.8l-1.5 -.3zM566.5 432.1l1.7 .4l.8 -.9l-1.7 -.3zM489.4 415.2l1.5 .3l1 -.8l-1.5 -.3zM565.6 430.8l1.7 .3l.8 -.9l-1.7 -.3zM491.9 414.7l10.9 2.2l1 -.8l-10.9 -2.2zM564.8 429.5l1.7 .3l.8 -.9l-1.7 -.3zM563.9 428.2l1.7 .3l.8 -.9l-1.7 -.3zM563 427l1.7 .3l.8 -.9l-1.7 -.3zM562.2 425.8l1.7 .3l.8 -.9l-1.7 -.3zM561.3 424.5l1.7 .3l.8 -.9l-1.7 -.3zM558.9 423l1.7 .3l.8 -.9l-1.7 -.3zM558 421.8l1.7 .3l.8 -.9l-1.6 -.3zM557.2 420.6l1.6 .3l.8 -.9l-1.6 -.3zM554.8 419.1l3.3 .6l.8 -.9l-3.3 -.6zM554 417.9l1.6 .3l.8 -.9l-1.6 -.3zM551.6 416.4l3.2 .6l.8 -.8l-3.2 -.6zM549.2 414.9l3.2 .6l.8 -.8l-3.2 -.6zM531.1 410.4l3.1 .6l.9 -.8l-3.1 -.6zM546.8 413.4l3.2 .6l.8 -.8l-3.2 -.6zM533.5 409.9l11 2.1l.8 -.8l-11 -2.1z"/><path fill="#ff8d0e" stroke="#ff8d0e" stroke-width=".4" d="M500.8 463.4l3.6 .8l1.1 -1.1l-3.6 -.8zM511.6 465.9l3.7 .9l1.1 -1.1l-3.6 -.9zM463.4 453.2l5.1 1.2l1.2 -1.1l-5.1 -1.2zM478.9 456.9l7 1.6l1.1 -1.1l-7 -1.6zM493 460.1l5.3 1.2l1.1 -1.1l-5.3 -1.2zM520 466.5l1.8 .4l1.1 -1.1l-1.8 -.4zM459.6 451l1.7 .4l1.2 -1l-1.7 -.4zM457.4 449.2l1.7 .4l1.2 -1l-1.7 -.4zM527.7 465.5l1.8 .4l1 -1.1l-1.8 -.4zM456.9 447.8l1.7 .4l1.2 -1l-1.7 -.4zM530.5 464.8l1.8 .4l1 -1.1l-1.8 -.4zM454.8 446l1.7 .4l1.2 -1l-1.7 -.4zM533.4 464.1l1.8 .4l1 -1.1l-1.8 -.4zM454.4 444.6l1.7 .4l1.2 -1l-1.6 -.4zM453.9 443.2l1.6 .4l1.2 -1l-1.6 -.4zM453.5 441.8l1.6 .4l1.2 -1l-1.6 -.4zM538.3 461.2l1.8 .4l1 -1.1l-1.8 -.4zM454.2 439.5l1.6 .4l1.2 -1l-1.6 -.4zM453.8 438.2l1.6 .4l1.2 -1l-1.6 -.4zM453.3 436.8l1.6 .4l1.2 -1l-1.6 -.4zM452.9 435.5l1.6 .4l1.2 -1l-1.6 -.4zM543.2 455.7l1.8 .4l1 -1.1l-1.8 -.4zM452.5 434.2l1.6 .4l1.2 -.9l-1.6 -.4zM544.1 454.6l1.8 .4l1 -1.1l-1.8 -.4zM575.4 461.6l1.9 .4l.9 -1.1l-1.9 -.4zM559.6 456.8l1.8 .4l.9 -1.1l-1.8 -.4zM453.2 432l1.6 .4l1.2 -.9l-1.6 -.3zM544.3 452.1l1.8 .4l.9 -1.1l-1.8 -.4zM555.1 454.5l1.8 .4l.9 -1.1l-1.8 -.4zM452.8 430.7l1.6 .3l1.1 -.9l-1.6 -.3zM544.4 449.6l1.8 .4l.9 -1l-1.8 -.4zM547.9 450.4l1.8 .4l.9 -1l-1.8 -.4zM575.2 456.4l1.9 .4l.9 -1.1l-1.8 -.4zM573.2 451l1.8 .4l.9 -1l-1.8 -.4zM545.6 441.4l1.7 .4l.9 -1l-1.7 -.4zM539.6 439l1.7 .4l.9 -1l-1.7 -.4zM546.5 440.4l1.7 .4l.9 -1l-1.7 -.4zM571.2 445.7l1.8 .4l.8 -1l-1.8 -.4zM540.6 438l1.7 .4l.9 -1l-1.7 -.4zM541.5 437l1.7 .4l.9 -1l-1.7 -.4zM548.4 438.5l1.7 .4l.9 -1l-1.7 -.4zM466.2 420l1.5 .3l1.1 -.9l-1.5 -.3zM542.4 436.1l1.7 .4l.9 -1l-1.7 -.4zM543.3 435.1l1.7 .4l.9 -1l-1.7 -.4zM555.3 437.6l1.7 .4l.9 -1l-1.7 -.4zM469.8 418.6l1.5 .3l1.1 -.9l-1.5 -.3zM554.5 436.3l1.7 .4l.9 -1l-1.7 -.4zM568.4 439.2l1.8 .4l.8 -1l-1.7 -.4zM473.5 417.2l1.5 .3l1 -.8l-1.5 -.3zM477.6 417l3.1 .6l1 -.8l-3.1 -.6zM483.3 417.1l1.5 .3l1 -.8l-1.5 -.3zM566.5 434.3l1.7 .4l.8 -.9l-1.7 -.4zM485.8 416.6l1.5 .3l1 -.8l-1.5 -.3zM488.4 416l1.5 .3l1 -.8l-1.5 -.3zM490.9 415.5l1.5 .3l1 -.8l-1.5 -.3zM497.1 416.8l3.1 .6l1 -.8l-3.1 -.6zM502.8 416.9l1.6 .3l1 -.8l-1.6 -.3zM560.5 425.4l1.7 .3l.8 -.9l-1.7 -.3zM559.7 424.2l1.7 .3l.8 -.9l-1.7 -.3zM555.6 420.2l1.6 .3l.8 -.9l-1.6 -.3zM553.1 418.7l1.6 .3l.8 -.9l-1.6 -.3zM552.4 417.6l1.6 .3l.8 -.9l-1.6 -.3zM547.6 414.6l1.6 .3l.8 -.8l-1.6 -.3zM542.1 412.5l4.8 .9l.8 -.8l-4.8 -.9z"/><path fill="#ffa20c" stroke="#ffa20c" stroke-width=".4" d="M504.4 464.2l1.8 .4l1.1 -1.1l-1.8 -.4zM508 465l3.6 .9l1.1 -1.1l-3.6 -.8zM468.6 454.4l10.4 2.4l1.2 -1.1l-10.3 -2.4zM498.3 461.4l3.6 .8l1.1 -1.1l-3.6 -.8zM518.2 466l1.8 .4l1.1 -1.1l-1.8 -.4zM461.2 451.4l1.7 .4l1.2 -1l-1.7 -.4zM522.9 465.8l1.8 .4l1.1 -1.1l-1.8 -.4zM459.1 449.6l1.7 .4l1.2 -1l-1.7 -.4zM525.8 465.1l1.8 .4l1 -1.1l-1.8 -.4zM458.6 448.2l1.7 .4l1.2 -1l-1.7 -.4zM456.5 446.4l1.7 .4l1.2 -1l-1.7 -.4zM531.6 463.7l1.8 .4l1 -1.1l-1.8 -.4zM456 445l1.7 .4l1.2 -1l-1.7 -.4zM534.4 463l1.8 .4l1 -1.1l-1.8 -.4zM455.5 443.6l1.6 .4l1.2 -1l-1.6 -.4zM535.4 461.8l1.8 .4l1 -1.1l-1.8 -.4zM455.1 442.2l1.6 .4l1.2 -1l-1.6 -.4zM454.6 440.9l1.6 .4l1.2 -1l-1.6 -.4zM539.3 460l1.8 .4l1 -1.1l-1.8 -.4zM540.3 458.9l1.8 .4l1 -1.1l-1.8 -.4zM541.2 457.9l1.8 .4l1 -1.1l-1.8 -.4zM542.2 456.8l1.8 .4l1 -1.1l-1.8 -.4zM454.5 435.9l1.6 .4l1.2 -1l-1.6 -.4zM568.9 461.5l1.9 .4l.9 -1.1l-1.9 -.4zM574.6 462.7l1.9 .4l.9 -1.1l-1.9 -.4zM454.1 434.6l1.6 .4l1.2 -.9l-1.6 -.4zM542.3 454.2l1.8 .4l1 -1.1l-1.8 -.4zM564.3 459.1l1.9 .4l.9 -1.1l-1.8 -.4zM453.6 433.3l1.6 .4l1.2 -.9l-1.6 -.4zM543.3 453.2l1.8 .4l1 -1.1l-1.8 -.4zM574.5 460.1l1.9 .4l.9 -1.1l-1.9 -.4zM575.3 459l1.9 .4l.9 -1.1l-1.9 -.4zM454.3 431.1l1.6 .3l1.1 -.9l-1.6 -.3zM543.4 450.7l1.8 .4l.9 -1l-1.8 -.4zM552.4 452.6l1.8 .4l.9 -1.1l-1.8 -.4zM453.9 429.8l1.6 .3l1.1 -.9l-1.6 -.3zM542.6 449.2l1.8 .4l.9 -1l-1.8 -.4zM455.1 428.9l1.6 .3l1.1 -.9l-1.6 -.3zM574.2 454.9l1.8 .4l.9 -1.1l-1.8 -.4zM543.8 443.4l3.5 .8l.9 -1l-3.5 -.7zM572.2 449.5l1.8 .4l.9 -1l-1.8 -.4zM540.4 440.3l1.7 .4l.9 -1l-1.7 -.4zM547.5 439.4l1.7 .4l.9 -1l-1.7 -.4zM570.3 444.3l1.8 .4l.8 -1l-1.8 -.4zM465.1 420.9l1.5 .3l1.1 -.9l-1.5 -.3zM569.3 442.9l1.8 .4l.8 -1l-1.8 -.4zM468.8 419.4l1.5 .3l1.1 -.9l-1.5 -.3zM541.6 434.7l1.7 .4l.9 -.9l-1.7 -.4zM544.2 434.2l10.3 2.1l.9 -1l-10.2 -2.1zM557.9 437l1.7 .4l.9 -1l-1.7 -.4zM472.4 418.1l1.5 .3l1 -.9l-1.5 -.3zM557.1 435.7l1.7 .4l.9 -1l-1.7 -.4zM567.5 437.9l1.7 .4l.8 -1l-1.7 -.4zM475 417.5l1.5 .3l1 -.9l-1.5 -.3zM484.8 417.4l1.6 .3l1 -.9l-1.5 -.3zM487.4 416.9l1.6 .3l1 -.8l-1.5 -.3zM565.7 433l1.7 .4l.8 -.9l-1.7 -.4zM489.9 416.4l1.6 .3l1 -.8l-1.5 -.3zM496.2 417.6l1.6 .3l1 -.9l-1.6 -.3zM492.5 415.8l1.6 .3l1 -.8l-1.5 -.3zM495.6 416.5l1.6 .3l1 -.8l-1.6 -.3zM500.3 417.4l1.6 .3l1 -.9l-1.6 -.3zM504.4 417.2l4.7 1l1 -.9l-4.7 -1zM561.4 426.7l1.7 .3l.8 -.9l-1.7 -.3zM556.4 421.4l1.6 .3l.8 -.9l-1.6 -.3zM530.9 412.3l1.6 .3l.9 -.8l-1.6 -.3zM550 416.1l1.6 .3l.8 -.8l-1.6 -.3zM531.7 411.5l1.6 .3l.9 -.8l-1.6 -.3zM534.2 411l7.9 1.5l.8 -.8l-7.9 -1.5z"/><path fill="#ffb506" stroke="#ffb506" stroke-width=".4" d="M506.2 464.6l1.8 .4l1.1 -1.1l-1.8 -.4zM501.9 462.2l1.8 .4l1.1 -1.1l-1.8 -.4zM514.5 465.2l3.7 .9l1.1 -1.1l-3.6 -.8zM462.9 451.8l3.4 .8l1.2 -1.1l-3.4 -.8zM485.3 457l8.8 2l1.1 -1.1l-8.8 -2zM521.1 465.3l1.8 .4l1.1 -1.1l-1.8 -.4zM460.8 450l1.7 .4l1.2 -1l-1.7 -.4zM528.7 464.4l1.8 .4l1 -1.1l-1.8 -.4zM458.1 446.7l1.7 .4l1.2 -1l-1.7 -.4zM532.6 462.5l1.8 .4l1 -1.1l-1.8 -.4zM536.4 460.7l1.8 .4l1 -1.1l-1.8 -.4zM456.3 441.2l1.6 .4l1.2 -1l-1.6 -.4zM537.4 459.6l1.8 .4l1 -1.1l-1.8 -.4zM455.8 439.9l1.6 .4l1.2 -1l-1.6 -.4zM455.4 438.5l1.6 .4l1.2 -1l-1.6 -.4zM454.9 437.2l1.6 .4l1.2 -1l-1.6 -.4zM540.4 456.4l1.8 .4l1 -1.1l-1.8 -.4zM541.4 455.3l1.8 .4l1 -1.1l-1.8 -.4zM570.8 461.9l1.9 .4l.9 -1.1l-1.9 -.4zM566.1 459.5l1.9 .4l.9 -1.1l-1.9 -.4zM455.2 433.6l1.6 .4l1.2 -.9l-1.6 -.4zM541.5 452.8l1.8 .4l1 -1.1l-1.8 -.4zM561.5 457.2l1.8 .4l.9 -1.1l-1.8 -.4zM454.8 432.3l1.6 .4l1.1 -.9l-1.6 -.3zM542.5 451.7l1.8 .4l1 -1l-1.8 -.4zM556.9 454.9l1.8 .4l.9 -1.1l-1.8 -.4zM455.5 430.1l1.6 .3l1.1 -.9l-1.6 -.3zM549.7 450.8l1.8 .4l.9 -1l-1.8 -.4zM541.8 447.8l5.3 1.2l.9 -1l-5.3 -1.2zM456.2 428l1.6 .3l1.1 -.9l-1.6 -.3zM573.3 453.5l1.8 .4l.9 -1.1l-1.8 -.4zM457.3 427.1l1.6 .3l1.1 -.9l-1.6 -.3zM572.3 452l1.8 .4l.9 -1.1l-1.8 -.4zM458.5 426.2l1.6 .3l1.1 -.9l-1.6 -.3zM459.6 425.3l1.6 .3l1.1 -.9l-1.6 -.3zM460.7 424.4l1.6 .3l1.1 -.9l-1.6 -.3zM541.2 441.7l1.7 .4l.9 -1l-1.7 -.4zM546.4 442.8l1.7 .4l.9 -1l-1.7 -.4zM571.3 448.1l1.8 .4l.9 -1l-1.8 -.4zM461.8 423.5l1.6 .3l1.1 -.9l-1.6 -.3zM462.9 422.6l1.6 .3l1.1 -.9l-1.6 -.3zM537.9 438.6l1.7 .4l.9 -1l-1.7 -.4zM464 421.7l1.6 .3l1.1 -.9l-1.5 -.3zM538.9 437.6l1.7 .4l.9 -1l-1.7 -.4zM539.8 436.7l1.7 .4l.9 -1l-1.7 -.4zM467.7 420.3l1.5 .3l1.1 -.9l-1.5 -.3zM540.7 435.7l1.7 .4l.9 -1l-1.7 -.4zM552.7 438.2l1.7 .4l.9 -1l-1.7 -.4zM568.4 441.5l1.8 .4l.8 -1l-1.8 -.4zM471.4 418.9l1.5 .3l1.1 -.9l-1.5 -.3zM542.5 433.8l1.7 .4l.9 -.9l-1.7 -.4zM555.4 435.3l1.7 .4l.9 -1l-1.7 -.4zM476.6 417.8l1.5 .3l1 -.9l-1.5 -.3zM566.6 436.5l1.7 .4l.8 -1l-1.7 -.4zM480.7 417.6l1.5 .3l1 -.9l-1.5 -.3zM493.6 418.2l3.1 .6l1 -.9l-3.1 -.6zM494.6 417.3l1.6 .3l1 -.8l-1.6 -.3zM497.7 418l3.1 .6l1 -.9l-3.1 -.6zM564.8 431.7l1.7 .4l.8 -.9l-1.7 -.3zM494 416.1l1.6 .3l1 -.8l-1.6 -.3zM501.8 417.7l3.1 .6l1 -.9l-3.1 -.6zM506.6 418.7l3.2 .6l1 -.9l-3.2 -.6zM563.9 430.4l1.7 .3l.8 -.9l-1.7 -.3zM563.1 429.2l1.7 .3l.8 -.9l-1.7 -.3zM562.2 427.9l1.7 .3l.8 -.9l-1.7 -.3zM557.2 422.6l1.7 .3l.8 -.9l-1.7 -.3zM553.9 419.9l1.6 .3l.8 -.9l-1.6 -.3zM550.7 417.2l1.6 .3l.8 -.8l-1.6 -.3zM546 414.3l1.6 .3l.8 -.8l-1.6 -.3z"/><path fill="#ffc901" stroke="#ffc901" stroke-width=".4" d="M503.7 462.7l1.8 .4l1.1 -1.1l-1.8 -.4zM512.7 464.8l1.8 .4l1.1 -1.1l-1.8 -.4zM466.3 452.6l3.4 .8l1.2 -1.1l-3.4 -.8zM480.1 455.8l5.2 1.2l1.1 -1.1l-5.2 -1.2zM494.1 459.1l5.3 1.2l1.1 -1.1l-5.3 -1.2zM519.3 464.9l1.8 .4l1.1 -1.1l-1.8 -.4zM462.4 450.4l1.7 .4l1.2 -1l-1.7 -.4zM524 464.6l1.8 .4l1 -1.1l-1.8 -.4zM460.3 448.5l1.7 .4l1.2 -1l-1.7 -.4zM526.9 463.9l1.8 .4l1 -1.1l-1.8 -.4zM529.7 463.2l1.8 .4l1 -1.1l-1.8 -.4zM457.7 445.3l1.7 .4l1.2 -1l-1.7 -.4zM457.2 444l1.7 .4l1.2 -1l-1.6 -.4zM533.6 461.4l1.8 .4l1 -1.1l-1.8 -.4zM456.7 442.6l1.6 .4l1.2 -1l-1.6 -.4zM538.4 458.5l1.8 .4l1 -1.1l-1.8 -.4zM539.4 457.5l1.8 .4l1 -1.1l-1.8 -.4zM456.1 436.2l1.6 .4l1.2 -1l-1.6 -.4zM572.7 462.3l1.9 .4l.9 -1.1l-1.9 -.4zM455.7 434.9l1.6 .4l1.2 -.9l-1.6 -.4zM540.5 453.8l1.8 .4l1 -1.1l-1.8 -.4zM568 459.9l1.9 .4l.9 -1.1l-1.9 -.4zM573.6 461.2l1.9 .4l.9 -1.1l-1.9 -.4zM563.3 457.6l1.8 .4l.9 -1.1l-1.8 -.4zM456.4 432.7l1.6 .4l1.1 -.9l-1.6 -.4zM558.7 455.3l1.8 .4l.9 -1.1l-1.8 -.4zM455.9 431.4l1.6 .3l1.1 -.9l-1.6 -.3zM541.6 450.3l1.8 .4l.9 -1l-1.8 -.4zM554.2 453l1.8 .4l.9 -1.1l-1.8 -.4zM574.3 457.5l1.9 .4l.9 -1.1l-1.9 -.4zM540.8 448.9l1.8 .4l.9 -1l-1.8 -.4zM551.5 451.2l1.8 .4l.9 -1l-1.8 -.4zM456.6 429.2l1.6 .3l1.1 -.9l-1.6 -.3zM547.1 449l1.8 .4l.9 -1l-1.8 -.4zM457.8 428.3l1.6 .3l1.1 -.9l-1.6 -.3zM541 446.4l3.5 .8l.9 -1l-3.5 -.8zM458.9 427.4l1.6 .3l1.1 -.9l-1.6 -.3zM460 426.5l1.6 .3l1.1 -.9l-1.6 -.3zM461.1 425.6l1.6 .3l1.1 -.9l-1.6 -.3zM542 443l1.7 .4l.9 -1l-1.7 -.4zM462.2 424.7l1.6 .3l1.1 -.9l-1.6 -.3zM494.1 431.5l3.3 .7l1 -.9l-3.3 -.7zM487.1 428.9l14.6 3.1l1 -.9l-14.6 -3.1zM538.7 439.9l1.7 .4l.9 -1l-1.7 -.4zM547.4 441.8l1.7 .4l.9 -1l-1.7 -.4zM570.3 446.7l1.8 .4l.9 -1l-1.8 -.4zM486.5 427.6l3.2 .7l1 -.9l-3.2 -.7zM496.2 429.7l6.5 1.4l1 -.9l-6.5 -1.4zM486 426.4l4.8 1l1 -.9l-4.8 -1zM495.6 428.4l8.1 1.7l1 -.9l-8.1 -1.7zM466.6 421.2l1.6 .3l1.1 -.9l-1.5 -.3zM487 425.5l4.8 1l1 -.9l-4.8 -1zM495 427.2l9.7 2.1l1 -.9l-9.7 -2zM469.2 420.6l1.6 .3l1.1 -.9l-1.5 -.3zM486.5 424.3l19.3 4.1l1 -.9l-19.2 -4zM470.3 419.8l1.5 .3l1.1 -.9l-1.5 -.3zM485.9 423.1l22.4 4.7l1 -.9l-22.4 -4.7zM539.9 434.4l1.7 .4l.9 -.9l-1.7 -.4zM557.1 438l1.7 .4l.9 -1l-1.7 -.4zM567.5 440.2l1.8 .4l.8 -1l-1.8 -.4zM472.9 419.2l1.5 .3l1.1 -.9l-1.5 -.3zM487 422.2l22.4 4.7l1 -.9l-22.3 -4.7zM540.8 433.4l1.7 .4l.9 -.9l-1.7 -.4zM474 418.4l1.5 .3l1 -.9l-1.5 -.3zM488 421.3l22.3 4.7l1 -.9l-22.3 -4.6zM478.1 418.2l1.5 .3l1 -.9l-1.5 -.3zM489 420.4l23.9 5l1 -.9l-23.9 -4.9zM482.2 417.9l3.1 .6l1 -.9l-3.1 -.6zM491.6 419.9l1.6 .3l1 -.9l-1.6 -.3zM497.9 421.2l16 3.3l1 -.9l-16 -3.3zM565.7 435.2l1.7 .4l.8 -1l-1.7 -.4zM486.4 417.7l1.6 .3l1 -.9l-1.6 -.3zM492.6 419l3.1 .6l1 -.9l-3.1 -.6zM500.5 420.6l12.8 2.6l1 -.9l-12.7 -2.6zM488.9 417.2l1.6 .3l1 -.8l-1.6 -.3zM496.7 418.8l3.1 .6l1 -.9l-3.1 -.6zM503 420.1l8 1.6l1 -.9l-7.9 -1.6zM491.5 416.7l3.1 .6l1 -.8l-3.1 -.6zM500.9 418.6l7.9 1.6l1 -.9l-7.9 -1.6zM505 418.4l1.6 .3l1 -.9l-1.6 -.3zM558 423.9l1.7 .3l.8 -.9l-1.7 -.3zM551.5 418.4l1.6 .3l.8 -.9l-1.6 -.3zM548.4 415.7l1.6 .3l.8 -.8l-1.6 -.3zM533.3 411.8l1.6 .3l.9 -.8l-1.6 -.3z"/><path fill="#f4d704" stroke="#f4d704" stroke-width=".4" d="M505.5 463.1l7.2 1.7l1.1 -1.1l-7.2 -1.7zM469.7 453.4l10.3 2.4l1.2 -1.1l-10.3 -2.4zM499.4 460.3l3.6 .8l1.1 -1.1l-3.6 -.8zM462 448.9l1.7 .4l1.2 -1l-1.7 -.4zM459.8 447.1l1.7 .4l1.2 -1l-1.7 -.4zM458.4 443l1.6 .4l1.2 -1l-1.6 -.4zM534.6 460.3l1.8 .4l1 -1.1l-1.8 -.4zM457.9 441.6l1.6 .4l1.2 -1l-1.6 -.4zM457.5 440.2l1.6 .4l1.2 -1l-1.6 -.4zM457 438.9l1.6 .4l1.2 -1l-1.6 -.4zM456.5 437.6l1.6 .4l1.2 -1l-1.6 -.4zM539.6 454.9l1.8 .4l1 -1.1l-1.8 -.4zM456.8 434l1.6 .4l1.1 -.9l-1.6 -.4zM540.7 451.3l1.8 .4l1 -1l-1.8 -.4zM560.6 455.7l1.8 .4l.9 -1.1l-1.8 -.4zM457.1 430.5l1.6 .3l1.1 -.9l-1.6 -.3zM573.4 456l1.8 .4l.9 -1.1l-1.8 -.4zM540 447.4l1.8 .4l.9 -1l-1.8 -.4zM548.9 449.4l1.8 .4l.9 -1l-1.8 -.4zM544.5 447.2l1.8 .4l.9 -1l-1.8 -.4zM540.2 445l1.8 .4l.9 -1l-1.7 -.4zM544.6 444.8l3.5 .8l.9 -1l-3.5 -.8zM571.4 450.6l1.8 .4l.9 -1l-1.8 -.4zM487.7 430.2l6.5 1.4l1 -.9l-6.5 -1.4zM497.4 432.3l3.3 .7l1 -.9l-3.3 -.7zM539.5 441.3l1.7 .4l.9 -1l-1.7 -.4zM463.3 423.8l1.6 .3l1.1 -.9l-1.6 -.3zM483.9 428.2l3.2 .7l1 -.9l-3.2 -.7zM464.4 422.9l1.6 .3l1.1 -.9l-1.6 -.3zM483.3 427l3.2 .7l1 -.9l-3.2 -.7zM489.8 428.3l6.5 1.4l1 -.9l-6.5 -1.4zM536.2 438.2l1.7 .4l.9 -1l-1.7 -.4zM569.4 445.3l1.8 .4l.9 -1l-1.8 -.4zM465.5 422.1l1.6 .3l1.1 -.9l-1.6 -.3zM484.4 426.1l1.6 .3l1 -.9l-1.6 -.3zM490.8 427.4l4.8 1l1 -.9l-4.8 -1zM503.7 430.2l1.6 .3l1 -.9l-1.6 -.3zM537.1 437.3l1.7 .4l.9 -1l-1.7 -.4zM468.2 421.5l3.1 .7l1.1 -.9l-3.1 -.7zM483.9 424.8l3.2 .7l1 -.9l-3.2 -.7zM491.8 426.5l3.2 .7l1 -.9l-3.2 -.7zM504.8 429.2l1.6 .3l1 -.9l-1.6 -.3zM550.1 438.8l1.7 .4l.9 -1l-1.7 -.4zM470.8 421l3.1 .7l1.1 -.9l-3.1 -.7zM484.9 423.9l1.6 .3l1 -.9l-1.6 -.3zM505.8 428.3l1.6 .3l1 -.9l-1.6 -.3zM539 435.3l1.7 .4l.9 -1l-1.7 -.4zM471.9 420.1l3.1 .7l1.1 -.9l-3.1 -.6zM484.4 422.7l1.6 .3l1 -.9l-1.6 -.3zM474.5 419.6l1.6 .3l1 -.9l-1.5 -.3zM485.4 421.8l1.6 .3l1 -.9l-1.6 -.3zM509.4 426.9l1.6 .3l1 -.9l-1.6 -.3zM566.6 438.8l1.8 .4l.8 -1l-1.7 -.4zM475.5 418.7l3.1 .6l1 -.9l-3.1 -.6zM486.4 421l1.6 .3l1 -.9l-1.6 -.3zM510.3 426l1.6 .3l1 -.9l-1.6 -.3zM553.6 435l1.7 .4l.9 -.9l-1.7 -.4zM558.8 436.1l1.7 .4l.9 -1l-1.7 -.4zM479.7 418.5l3.1 .6l1 -.9l-3.1 -.6zM485.9 419.8l3.1 .7l1 -.9l-3.1 -.6zM557.9 434.8l1.7 .4l.9 -.9l-1.7 -.4zM485.3 418.6l6.2 1.3l1 -.9l-6.2 -1.3zM493.2 420.2l4.7 1l1 -.9l-4.7 -1zM487.9 418.1l4.7 1l1 -.9l-4.7 -1zM495.7 419.7l4.7 1l1 -.9l-4.7 -1zM564.8 433.9l1.7 .4l.8 -.9l-1.7 -.4zM490.5 417.5l3.1 .6l1 -.9l-3.1 -.6zM499.9 419.5l3.2 .6l1 -.9l-3.2 -.6zM558.8 425.1l1.7 .3l.8 -.9l-1.7 -.3zM528.9 416l1.6 .3l.9 -.8l-1.6 -.3zM554.7 421.1l1.6 .3l.8 -.9l-1.6 -.3zM531.6 413.4l1.6 .3l.9 -.8l-1.6 -.3zM532.4 412.6l1.6 .3l.9 -.8l-1.6 -.3zM544.4 414l1.6 .3l.8 -.8l-1.6 -.3z"/><path fill="#e5e40a" stroke="#e5e40a" stroke-width=".4" d="M503 461.1l1.8 .4l1.1 -1.1l-1.8 -.4zM517.4 464.5l1.8 .4l1.1 -1.1l-1.8 -.4zM464.1 450.7l1.7 .4l1.2 -1l-1.7 -.4zM486.5 455.9l8.8 2l1.1 -1.1l-8.7 -2zM522.2 464.2l1.8 .4l1 -1.1l-1.8 -.4zM525 463.5l1.8 .4l1 -1.1l-1.8 -.4zM459.3 445.7l1.7 .4l1.2 -1l-1.7 -.4zM530.8 462.1l1.8 .4l1 -1.1l-1.8 -.4zM458.8 444.3l1.7 .4l1.2 -1l-1.7 -.4zM535.6 459.2l1.8 .4l1 -1.1l-1.8 -.4zM536.6 458.1l1.8 .4l1 -1.1l-1.8 -.4zM537.6 457l1.8 .4l1 -1.1l-1.8 -.4zM538.6 456l1.8 .4l1 -1.1l-1.8 -.4zM457.3 435.3l1.6 .4l1.2 -1l-1.6 -.4zM569.8 460.3l3.7 .8l.9 -1.1l-3.7 -.8zM458.4 434.3l1.6 .4l1.1 -.9l-1.6 -.4zM539.7 452.4l1.8 .4l1 -1.1l-1.8 -.4zM565.2 458l1.8 .4l.9 -1.1l-1.8 -.4zM458 433l1.6 .4l1.1 -.9l-1.6 -.4zM457.5 431.8l1.6 .4l1.1 -.9l-1.6 -.3zM539.9 449.9l1.8 .4l1 -1l-1.8 -.4zM556 453.4l1.8 .4l.9 -1.1l-1.8 -.4zM458.7 430.8l1.6 .3l1.1 -.9l-1.6 -.3zM458.2 429.6l1.6 .3l1.1 -.9l-1.6 -.3zM572.4 454.5l1.8 .4l.9 -1.1l-1.8 -.4zM459.3 428.6l1.6 .3l1.1 -.9l-1.6 -.3zM539.2 446l1.8 .4l.9 -1l-1.8 -.4zM460.5 427.7l1.6 .3l1.1 -.9l-1.6 -.3zM538.4 444.6l1.7 .4l.9 -1l-1.7 -.4zM541.9 445.4l1.8 .4l.9 -1l-1.8 -.4zM545.4 446.2l3.5 .8l.9 -1l-3.5 -.8zM461.6 426.8l1.6 .3l1.1 -.9l-1.6 -.3zM539.3 443.6l5.2 1.1l.9 -1l-5.2 -1.1zM462.7 425.9l3.1 .7l1.1 -.9l-3.1 -.7zM493.1 432.5l3.3 .7l1 -.9l-3.3 -.7zM540.3 442.6l1.7 .4l.9 -1l-1.7 -.4zM547.3 444.1l1.8 .4l.9 -1l-1.8 -.4zM463.8 425l3.1 .7l1.1 -.9l-3.1 -.7zM484.4 429.5l3.2 .7l1.1 -.9l-3.2 -.7zM464.9 424.1l4.7 1l1.1 -.9l-4.7 -1zM482.3 427.9l1.6 .3l1.1 -.9l-1.6 -.3zM501.7 432l1.6 .4l1 -.9l-1.6 -.3zM537 439.6l1.7 .4l.9 -1l-1.7 -.4zM466 423.3l4.7 1l1.1 -.9l-4.7 -1zM481.7 426.6l1.6 .3l1.1 -.9l-1.6 -.3zM502.7 431.1l1.6 .3l1 -.9l-1.6 -.3zM548.3 440.8l1.7 .4l.9 -1l-1.7 -.4zM467.1 422.4l6.2 1.3l1.1 -.9l-6.2 -1.3zM482.8 425.7l1.6 .3l1 -.9l-1.6 -.3zM568.5 443.9l1.8 .4l.9 -1l-1.8 -.4zM471.3 422.2l3.1 .7l1.1 -.9l-3.1 -.7zM482.3 424.5l1.6 .3l1 -.9l-1.6 -.3zM538.1 436.3l1.7 .4l.9 -1l-1.7 -.4zM473.9 421.6l1.6 .3l1.1 -.9l-1.6 -.3zM481.7 423.3l3.2 .7l1 -.9l-3.2 -.7zM554.4 438.6l1.7 .4l.9 -1l-1.7 -.4zM475 420.7l3.1 .7l1 -.9l-3.1 -.7zM481.2 422.1l3.1 .7l1 -.9l-3.1 -.7zM508.4 427.8l1.6 .3l1 -.9l-1.6 -.3zM476 419.9l9.4 2l1 -.9l-9.4 -2zM559.7 437.4l1.7 .4l.9 -1l-1.7 -.4zM478.6 419.3l7.8 1.6l1 -.9l-7.8 -1.6zM482.8 419.1l3.1 .6l1 -.9l-3.1 -.6zM527.6 420.9l1.6 .3l.9 -.9l-1.6 -.3zM559.7 426.3l1.7 .3l.8 -.9l-1.7 -.3zM528.7 418l1.6 .3l.9 -.9l-1.6 -.3zM529.8 415.1l1.6 .3l.9 -.8l-1.6 -.3zM552.3 419.6l1.6 .3l.8 -.9l-1.6 -.3zM530.7 414.3l1.6 .3l.9 -.8l-1.6 -.3zM549.1 416.9l1.6 .3l.8 -.8l-1.6 -.3zM546.8 415.4l1.6 .3l.8 -.8l-1.6 -.3zM534.9 412.1l1.6 .3l.9 -.8l-1.6 -.3zM539.6 413l4.8 .9l.8 -.8l-4.8 -.9z"/><path fill="#d7f00f" stroke="#d7f00f" stroke-width=".4" d="M504.8 461.5l1.8 .4l1.1 -1.1l-1.8 -.4zM513.8 463.6l3.6 .8l1.1 -1.1l-3.6 -.8zM465.8 451.1l1.7 .4l1.2 -1l-1.7 -.4zM483 455.1l3.5 .8l1.1 -1.1l-3.5 -.8zM495.2 458l3.5 .8l1.1 -1.1l-3.5 -.8zM463.6 449.3l1.7 .4l1.2 -1l-1.7 -.4zM461.5 447.5l1.7 .4l1.2 -1l-1.7 -.4zM527.9 462.8l1.8 .4l1 -1.1l-1.8 -.4zM531.8 461l1.8 .4l1 -1.1l-1.8 -.4zM459.6 442l1.6 .4l1.2 -1l-1.6 -.4zM458.2 437.9l1.6 .4l1.2 -1l-1.6 -.4zM457.7 436.6l1.6 .4l1.2 -1l-1.6 -.4zM538.7 453.4l1.8 .4l1 -1.1l-1.8 -.4zM567 458.4l3.7 .8l.9 -1.1l-3.7 -.8zM572.6 459.7l1.9 .4l.9 -1.1l-1.9 -.4zM459.6 433.4l1.6 .4l1.1 -.9l-1.6 -.4zM562.4 456.1l1.8 .4l.9 -1.1l-1.8 -.4zM566.1 456.9l3.7 .8l.9 -1.1l-3.7 -.8zM573.5 458.6l1.9 .4l.9 -1.1l-1.9 -.4zM459.1 432.1l3.2 .7l1.1 -.9l-3.2 -.7zM557.8 453.8l1.8 .4l.9 -1.1l-1.8 -.4zM460.2 431.2l1.6 .3l1.1 -.9l-1.6 -.3zM539.1 448.5l1.8 .4l1 -1l-1.8 -.4zM553.3 451.6l1.8 .4l.9 -1l-1.8 -.4zM459.8 429.9l3.2 .7l1.1 -.9l-3.2 -.7zM550.7 449.8l1.8 .4l.9 -1l-1.8 -.4zM460.9 429l1.6 .3l1.1 -.9l-1.6 -.3zM546.3 447.6l5.3 1.2l.9 -1l-5.3 -1.2zM462 428.1l3.2 .7l1.1 -.9l-3.2 -.7zM543.7 445.8l1.8 .4l.9 -1l-1.8 -.4zM549 446.9l1.8 .4l.9 -1l-1.8 -.4zM463.2 427.2l3.2 .7l1.1 -.9l-3.1 -.7zM537.6 443.3l1.7 .4l.9 -1l-1.7 -.4zM548.1 445.5l1.8 .4l.9 -1l-1.8 -.4zM465.8 426.6l3.2 .7l1.1 -.9l-3.1 -.7zM491.5 432.1l1.6 .4l1 -.9l-1.6 -.3zM496.4 433.2l1.6 .4l1 -.9l-1.6 -.4zM536.8 441.9l3.5 .7l.9 -1l-3.5 -.7zM570.4 449.1l1.8 .4l.9 -1l-1.8 -.4zM466.9 425.7l4.7 1l1.1 -.9l-4.7 -1zM482.8 429.1l1.6 .3l1.1 -.9l-1.6 -.3zM500.7 433l1.6 .4l1 -.9l-1.6 -.4zM534.3 440.2l5.2 1.1l.9 -1l-5.2 -1.1zM469.6 425.2l3.1 .7l1.1 -.9l-3.1 -.7zM480.7 427.5l1.6 .3l1.1 -.9l-1.6 -.3zM533.6 438.8l3.4 .7l.9 -1l-3.4 -.7zM470.7 424.3l4.7 1l1.1 -.9l-4.7 -1zM478.6 425.9l3.2 .7l1.1 -.9l-3.2 -.7zM473.3 423.7l9.5 2l1 -.9l-9.5 -2zM549.2 439.8l1.7 .4l.9 -1l-1.7 -.4zM474.4 422.8l7.9 1.7l1 -.9l-7.9 -1.7zM475.5 421.9l6.3 1.3l1 -.9l-6.3 -1.3zM507.4 428.7l1.6 .3l1 -.9l-1.6 -.3zM478.1 421.4l3.1 .7l1 -.9l-3.1 -.7zM539.1 433.1l1.7 .4l.9 -.9l-1.7 -.4zM551.9 434.6l1.7 .4l.9 -.9l-1.7 -.4zM565.7 437.5l1.7 .4l.8 -1l-1.7 -.4zM556.2 434.4l1.7 .4l.9 -.9l-1.7 -.4zM563.9 432.6l1.7 .4l.8 -.9l-1.7 -.4zM563.1 431.4l1.7 .3l.8 -.9l-1.7 -.3zM560.5 427.6l1.7 .3l.8 -.9l-1.7 -.3zM528.5 420l1.6 .3l.9 -.9l-1.6 -.3zM555.5 422.3l1.7 .3l.8 -.9l-1.6 -.3zM536.5 412.4l3.2 .6l.9 -.8l-3.2 -.6z"/><path fill="#b4e811" stroke="#b4e811" stroke-width=".4" d="M506.6 462l7.2 1.7l1.1 -1.1l-7.2 -1.7zM467.5 451.5l8.5 2l1.2 -1.1l-8.5 -2zM479.5 454.3l3.5 .8l1.1 -1.1l-3.5 -.8zM498.8 458.8l3.6 .8l1.1 -1.1l-3.5 -.8zM520.3 463.8l1.8 .4l1.1 -1.1l-1.8 -.4zM491.1 455.7l1.7 .4l1.1 -1.1l-1.7 -.4zM461 446.1l1.7 .4l1.2 -1l-1.7 -.4zM460 443.3l1.7 .4l1.2 -1l-1.6 -.4zM532.8 459.9l1.8 .4l1 -1.1l-1.8 -.4zM459.1 440.6l1.6 .4l1.2 -1l-1.6 -.4zM458.6 439.3l1.6 .4l1.2 -1l-1.6 -.4zM537.8 454.5l1.8 .4l1 -1.1l-1.8 -.4zM458.9 435.7l1.6 .4l1.1 -1l-1.6 -.4zM460 434.7l1.6 .4l1.1 -.9l-1.6 -.4zM461.2 433.8l1.6 .4l1.1 -.9l-1.6 -.4zM538.9 450.9l1.8 .4l1 -1l-1.8 -.4zM564.2 456.5l1.8 .4l.9 -1.1l-1.8 -.4zM462.3 432.8l1.6 .4l1.1 -.9l-1.6 -.4zM461.8 431.5l1.6 .4l1.1 -.9l-1.6 -.3zM555.1 452l1.8 .4l.9 -1.1l-1.8 -.4zM463 430.6l1.6 .3l1.1 -.9l-1.6 -.3zM538.2 447.1l1.8 .4l1 -1l-1.8 -.4zM462.5 429.3l3.2 .7l1.1 -.9l-3.2 -.7zM571.4 453.1l1.8 .4l.9 -1.1l-1.8 -.4zM465.2 428.8l3.2 .7l1.1 -.9l-3.2 -.7zM466.3 427.9l4.8 1l1.1 -.9l-4.7 -1zM469 427.3l4.8 1l1.1 -.9l-4.7 -1zM488.2 431.4l3.3 .7l1 -.9l-3.2 -.7zM498 433.5l3.3 .7l1 -.9l-3.3 -.7zM535.1 441.5l1.7 .4l.9 -1l-1.7 -.4zM471.7 426.7l11.2 2.4l1.1 -.9l-11.1 -2.4zM530.9 439.4l3.4 .7l.9 -1l-3.4 -.7zM569.5 447.7l1.8 .4l.9 -1l-1.8 -.4zM472.8 425.8l7.9 1.7l1.1 -.9l-7.9 -1.7zM475.4 425.3l3.2 .7l1.1 -.9l-3.2 -.7zM534.5 437.9l1.7 .4l.9 -1l-1.7 -.4zM506.4 429.6l1.6 .3l1 -.9l-1.6 -.3zM567.6 442.5l1.8 .4l.9 -1l-1.8 -.4zM566.7 441.2l1.8 .4l.9 -1l-1.8 -.4zM538.2 434l1.7 .4l.9 -.9l-1.7 -.4zM558.8 438.4l1.7 .4l.9 -1l-1.7 -.4zM512 426.3l1.6 .3l1 -.9l-1.6 -.3zM541.7 432.5l10.2 2.1l.9 -.9l-10.2 -2.1zM564.8 436.2l1.7 .4l.8 -1l-1.7 -.4zM562.2 430.1l1.7 .3l.8 -.9l-1.7 -.3zM561.4 428.8l1.7 .3l.8 -.9l-1.7 -.3zM556.4 423.5l1.7 .3l.8 -.9l-1.7 -.3zM529.6 417.1l1.6 .3l.9 -.8l-1.6 -.3zM553.1 420.8l1.6 .3l.8 -.9l-1.6 -.3zM549.9 418.1l1.6 .3l.8 -.9l-1.6 -.3zM545.1 415.1l1.6 .3l.8 -.8l-1.6 -.3z"/><path fill="#91df12" stroke="#91df12" stroke-width=".4" d="M476.1 453.5l3.4 .8l1.2 -1.1l-3.4 -.8zM502.3 459.6l1.8 .4l1.1 -1.1l-1.8 -.4zM518.5 463.4l1.8 .4l1.1 -1.1l-1.8 -.4zM465.3 449.7l1.7 .4l1.2 -1l-1.7 -.4zM489.3 455.3l1.7 .4l1.1 -1.1l-1.7 -.4zM492.8 456.1l3.5 .8l1.1 -1.1l-3.5 -.8zM523.2 463.1l1.8 .4l1 -1.1l-1.8 -.4zM463.1 447.9l1.7 .4l1.2 -1l-1.7 -.4zM526.1 462.4l1.8 .4l1 -1.1l-1.8 -.4zM528.9 461.7l1.8 .4l1 -1.1l-1.8 -.4zM460.5 444.7l1.7 .4l1.2 -1l-1.7 -.4zM533.8 458.8l1.8 .4l1 -1.1l-1.8 -.4zM459.3 437l1.6 .4l1.2 -1l-1.6 -.4zM570.7 459.2l1.9 .4l.9 -1.1l-1.9 -.4zM569.8 457.7l1.9 .4l.9 -1.1l-1.8 -.4zM538.1 449.5l1.8 .4l1 -1l-1.8 -.4zM559.6 454.2l1.8 .4l.9 -1.1l-1.8 -.4zM572.5 457.1l1.9 .4l.9 -1.1l-1.8 -.4zM463.4 431.9l1.6 .4l1.1 -.9l-1.6 -.3zM464.6 431l1.6 .3l1.1 -.9l-1.6 -.3zM552.4 450.2l1.8 .4l.9 -1l-1.8 -.4zM465.7 430l3.2 .7l1.1 -.9l-3.2 -.7zM537.4 445.7l1.8 .4l.9 -1l-1.7 -.4zM551.6 448.7l1.8 .4l.9 -1l-1.8 -.4zM468.4 429.5l3.2 .7l1.1 -.9l-3.2 -.7zM536.7 444.3l1.7 .4l.9 -1l-1.7 -.4zM550.7 447.3l1.8 .4l.9 -1l-1.8 -.4zM570.5 451.6l1.8 .4l.9 -1l-1.8 -.4zM471.1 428.9l3.2 .7l1.1 -.9l-3.2 -.7zM535.9 442.9l1.7 .4l.9 -1l-1.7 -.4zM473.8 428.3l4.8 1l1.1 -.9l-4.8 -1zM483.4 430.4l4.9 1l1.1 -.9l-4.8 -1zM501.3 434.3l1.7 .4l1 -.9l-1.6 -.4zM533.4 441.2l1.7 .4l.9 -1l-1.7 -.4zM502.3 433.3l1.6 .4l1 -.9l-1.6 -.4zM548.2 443.1l1.8 .4l.9 -1l-1.7 -.4zM531.8 438.5l1.7 .4l.9 -1l-1.7 -.4zM568.6 446.3l1.8 .4l.9 -1l-1.8 -.4zM505.4 430.5l1.6 .3l1 -.9l-1.6 -.3zM535.4 436.9l1.7 .4l.9 -1l-1.7 -.4zM551.8 439.2l1.7 .4l.9 -1l-1.7 -.4zM565.8 439.8l1.8 .4l.8 -1l-1.8 -.4zM511 427.2l1.6 .3l1 -.9l-1.6 -.3zM540.1 432.2l1.7 .4l.9 -.9l-1.7 -.3zM560.5 436.4l1.7 .4l.9 -1l-1.7 -.4zM559.7 435.1l1.7 .4l.9 -1l-1.7 -.4zM564 434.9l1.7 .4l.8 -.9l-1.7 -.4zM529.4 419.1l1.6 .3l.9 -.9l-1.6 -.3zM557.2 424.7l1.7 .3l.8 -.9l-1.7 -.3zM533.1 413.8l1.6 .3l.9 -.8l-1.6 -.3zM547.5 416.6l1.6 .3l.8 -.8l-1.6 -.3zM534 412.9l1.6 .3l.9 -.8l-1.6 -.3z"/><path fill="#6ed714" stroke="#6ed714" stroke-width=".4" d="M504.1 460l3.6 .8l1.1 -1.1l-3.6 -.8zM516.7 462.9l1.8 .4l1.1 -1.1l-1.8 -.4zM467 450.1l1.7 .4l1.2 -1l-1.7 -.4zM485.9 454.5l3.5 .8l1.1 -1.1l-3.5 -.8zM496.3 456.9l1.8 .4l1.1 -1.1l-1.8 -.4zM464.8 448.3l1.7 .4l1.2 -1l-1.7 -.4zM462.7 446.5l1.7 .4l1.2 -1l-1.7 -.4zM461.2 442.3l1.6 .4l1.2 -1l-1.6 -.4zM460.7 441l1.6 .4l1.2 -1l-1.6 -.4zM534.8 457.7l1.8 .4l1 -1.1l-1.8 -.4zM460.3 439.6l1.6 .4l1.2 -1l-1.6 -.4zM535.8 456.6l1.8 .4l1 -1.1l-1.8 -.4zM459.8 438.3l1.6 .4l1.2 -1l-1.6 -.4zM536.8 455.6l1.8 .4l1 -1.1l-1.8 -.4zM460.5 436l1.6 .4l1.1 -1l-1.6 -.4zM461.6 435.1l1.6 .4l1.1 -.9l-1.6 -.4zM537.9 452l1.8 .4l1 -1l-1.8 -.4zM462.8 434.1l1.6 .4l1.1 -.9l-1.6 -.4zM463.9 433.2l1.6 .4l1.1 -.9l-1.6 -.4zM567 455.9l3.7 .8l.9 -1.1l-3.7 -.8zM465 432.2l1.6 .4l1.1 -.9l-1.6 -.3zM537.3 448.1l1.8 .4l1 -1l-1.8 -.4zM556.9 452.4l1.8 .4l.9 -1.1l-1.8 -.4zM571.5 455.6l1.8 .4l.9 -1.1l-1.8 -.4zM466.2 431.3l3.2 .7l1.1 -.9l-3.2 -.7zM468.9 430.7l3.2 .7l1.1 -.9l-3.2 -.7zM471.6 430.1l3.2 .7l1.1 -.9l-3.2 -.7zM474.3 429.6l3.2 .7l1.1 -.9l-3.2 -.7zM492.1 433.4l4.9 1.1l1 -.9l-4.9 -1.1zM478.5 429.3l4.8 1l1.1 -.9l-4.8 -1zM503 434.6l3.3 .7l1 -.9l-3.3 -.7zM531.6 440.8l1.7 .4l1 -1l-1.7 -.4zM504 433.7l1.7 .4l1 -.9l-1.6 -.4zM529.2 439.1l1.7 .4l1 -1l-1.7 -.4zM503.4 432.4l1.6 .4l1 -.9l-1.6 -.3zM504.4 431.4l1.6 .3l1 -.9l-1.6 -.3zM567.6 444.9l1.8 .4l.9 -1l-1.8 -.4zM536.4 435.9l1.7 .4l.9 -1l-1.7 -.4zM537.3 435l1.7 .4l.9 -.9l-1.7 -.4zM510 428.1l1.6 .3l1 -.9l-1.6 -.3zM564.9 438.5l1.7 .4l.8 -1l-1.7 -.4zM554.5 434l1.7 .4l.9 -.9l-1.7 -.4zM558.8 433.8l1.7 .4l.9 -.9l-1.7 -.4zM529.2 421.2l1.6 .3l.9 -.9l-1.6 -.3zM558 426l1.7 .3l.8 -.9l-1.7 -.3zM530.5 416.3l1.6 .3l.9 -.8l-1.6 -.3zM550.7 419.3l1.6 .3l.8 -.9l-1.6 -.3zM532.3 414.6l1.6 .3l.9 -.8l-1.6 -.3zM543.5 414.8l1.6 .3l.8 -.8l-1.6 -.3z"/><path fill="#57cd17" stroke="#57cd17" stroke-width=".4" d="M507.7 460.8l3.6 .8l1.1 -1.1l-3.6 -.8zM513.1 462.1l3.6 .8l1.1 -1.1l-3.6 -.8zM468.7 450.5l5.1 1.2l1.2 -1l-5.1 -1.2zM480.7 453.3l5.2 1.2l1.1 -1.1l-5.2 -1.2zM498.1 457.3l5.3 1.2l1.1 -1.1l-5.3 -1.2zM521.4 462.7l1.8 .4l1 -1.1l-1.8 -.4zM524.3 462l1.8 .4l1 -1.1l-1.8 -.4zM462.2 445.1l1.7 .4l1.2 -1l-1.7 -.4zM530 460.6l1.8 .4l1 -1.1l-1.8 -.4zM461.7 443.7l1.7 .4l1.2 -1l-1.7 -.4zM531 459.5l1.8 .4l1 -1.1l-1.8 -.4zM537 453l1.8 .4l1 -1.1l-1.8 -.4zM571.6 458.2l1.9 .4l.9 -1.1l-1.9 -.4zM561.5 454.6l1.8 .4l.9 -1.1l-1.8 -.4zM570.6 456.7l1.8 .4l.9 -1.1l-1.8 -.4zM466.6 432.6l1.6 .4l1.1 -.9l-1.6 -.4zM536.5 446.7l1.8 .4l1 -1l-1.8 -.4zM554.2 450.5l1.8 .4l.9 -1l-1.8 -.4zM570.6 454.1l1.8 .4l.9 -1.1l-1.8 -.4zM472.1 431.4l1.6 .3l1.1 -.9l-1.6 -.3zM488.8 432.7l3.3 .7l1 -.9l-3.3 -.7zM497 434.5l1.6 .4l1 -.9l-1.6 -.4zM534.1 442.5l1.7 .4l.9 -1l-1.7 -.4zM549.9 445.9l1.8 .4l.9 -1l-1.8 -.4zM569.5 450.2l1.8 .4l.9 -1l-1.8 -.4zM506.3 435.3l1.7 .4l1 -1l-1.7 -.4zM529.9 440.4l1.7 .4l1 -1l-1.7 -.4zM505.6 434l1.7 .4l1 -.9l-1.7 -.4zM549.1 442.2l1.7 .4l.9 -1l-1.7 -.4zM532.8 437.5l1.7 .4l.9 -1l-1.7 -.4zM556.2 439l1.7 .4l.9 -1l-1.7 -.4zM537.5 432.7l1.7 .4l.9 -.9l-1.7 -.4zM561.4 437.8l1.7 .4l.9 -1l-1.7 -.4zM538.4 431.8l1.7 .4l.9 -.9l-1.7 -.3zM563.1 433.6l1.7 .4l.8 -.9l-1.7 -.4zM562.2 432.3l1.7 .4l.8 -.9l-1.7 -.3zM528.3 422.1l1.6 .3l.9 -.9l-1.6 -.3zM558.8 427.2l1.7 .3l.8 -.9l-1.7 -.3zM530.3 418.3l1.6 .3l.9 -.9l-1.6 -.3zM553.9 422l1.6 .3l.8 -.9l-1.6 -.3zM531.4 415.4l1.6 .3l.9 -.8l-1.6 -.3zM545.9 416.3l1.6 .3l.8 -.8l-1.6 -.3z"/><path fill="#3fc31b" stroke="#3fc31b" stroke-width=".4" d="M511.3 461.7l1.8 .4l1.1 -1.1l-1.8 -.4zM473.8 451.7l6.9 1.6l1.1 -1.1l-6.8 -1.6zM503.4 458.5l1.8 .4l1.1 -1.1l-1.8 -.4zM519.6 462.2l1.8 .4l1.1 -1.1l-1.8 -.4zM466.5 448.7l1.7 .4l1.2 -1l-1.7 -.4zM490.5 454.2l7 1.6l1.1 -1.1l-7 -1.6zM464.3 446.9l1.7 .4l1.2 -1l-1.7 -.4zM527.1 461.3l1.8 .4l1 -1.1l-1.8 -.4zM532 458.4l1.8 .4l1 -1.1l-1.8 -.4zM462.4 441.4l1.6 .4l1.2 -1l-1.6 -.4zM461.9 440l1.6 .4l1.2 -1l-1.6 -.4zM461.4 438.7l1.6 .4l1.2 -1l-1.6 -.4zM461 437.3l1.6 .4l1.1 -1l-1.6 -.4zM536 454.1l1.8 .4l1 -1.1l-1.8 -.4zM464.4 434.5l1.6 .4l1.1 -.9l-1.6 -.4zM537.1 450.5l1.8 .4l1 -1l-1.8 -.4zM465.5 433.5l1.6 .4l1.1 -.9l-1.6 -.4zM565.1 455.4l1.8 .4l.9 -1.1l-1.8 -.4zM558.7 452.8l1.8 .4l.9 -1.1l-1.8 -.4zM469.4 432l1.6 .4l1.1 -.9l-1.6 -.3zM535.7 445.3l1.7 .4l1 -1l-1.7 -.4zM474.8 430.8l1.6 .3l1.1 -.9l-1.6 -.3zM477.5 430.3l1.6 .3l1.1 -.9l-1.6 -.3zM483.9 431.7l4.9 1.1l1.1 -.9l-4.9 -1zM498.6 434.8l1.7 .4l1 -.9l-1.6 -.4zM532.4 442.1l1.7 .4l1 -1l-1.7 -.4zM508 435.7l3.3 .7l1 -1l-3.3 -.7zM528.2 440l1.7 .4l1 -1l-1.7 -.4zM568.6 448.7l1.8 .4l.9 -1l-1.8 -.4zM507.3 434.4l3.3 .7l1 -.9l-3.3 -.7zM530.1 438.1l1.7 .4l.9 -1l-1.7 -.4zM566.7 443.5l1.8 .4l.9 -1l-1.8 -.4zM508 429.9l1.6 .3l1 -.9l-1.6 -.3zM509 429l1.6 .3l1 -.9l-1.6 -.3zM564.9 440.8l1.8 .4l.9 -1l-1.8 -.4zM560.5 438.7l1.7 .4l.9 -1l-1.7 -.4zM564 439.5l1.8 .4l.9 -1l-1.7 -.4zM562.3 436.8l3.5 .7l.8 -1l-3.5 -.7zM561.4 435.5l3.5 .7l.8 -1l-3.4 -.7zM557.1 433.5l1.7 .4l.9 -.9l-1.7 -.4zM560.5 434.2l1.7 .4l.9 -.9l-1.7 -.4zM559.7 432.9l1.7 .4l.8 -.9l-1.7 -.4zM561.4 431l1.7 .3l.8 -.9l-1.7 -.3zM560.5 429.7l1.7 .3l.8 -.9l-1.7 -.3zM559.7 428.5l1.7 .3l.8 -.9l-1.7 -.3zM530.1 420.3l1.6 .3l.9 -.9l-1.6 -.3zM555.5 424.4l1.7 .3l.8 -.9l-1.7 -.3zM554.7 423.2l1.7 .3l.8 -.9l-1.7 -.3zM551.5 420.5l1.6 .3l.8 -.9l-1.6 -.3zM548.3 417.8l1.6 .3l.8 -.9l-1.6 -.3zM535.6 413.2l1.6 .3l.9 -.8l-1.6 -.3zM542 414.5l1.6 .3l.8 -.8l-1.6 -.3z"/><path fill="#28b91e" stroke="#28b91e" stroke-width=".4" d="M505.2 458.9l3.6 .8l1.1 -1.1l-3.6 -.8zM516 461.4l3.6 .8l1.1 -1.1l-3.6 -.8zM488.7 453.8l1.7 .4l1.1 -1.1l-1.7 -.4zM497.5 455.8l1.8 .4l1.1 -1.1l-1.8 -.4zM522.4 461.6l1.8 .4l1 -1.1l-1.8 -.4zM466 447.3l1.7 .4l1.2 -1l-1.7 -.4zM463.8 445.5l1.7 .4l1.2 -1l-1.7 -.4zM528.1 460.2l1.8 .4l1 -1.1l-1.8 -.4zM463.3 444.1l1.7 .4l1.2 -1l-1.7 -.4zM462.9 442.7l1.7 .4l1.2 -1l-1.6 -.4zM462.1 436.4l1.6 .4l1.1 -1l-1.6 -.4zM463.2 435.4l1.6 .4l1.1 -1l-1.6 -.4zM536.1 451.6l1.8 .4l1 -1l-1.8 -.4zM536.3 449.1l1.8 .4l1 -1l-1.8 -.4zM563.3 455l1.8 .4l.9 -1.1l-1.8 -.4zM468.2 432.9l1.6 .4l1.1 -.9l-1.6 -.4zM569.7 455.2l1.8 .4l.9 -1.1l-1.8 -.4zM471 432.4l1.6 .4l1.1 -.9l-1.6 -.3zM556 450.9l1.8 .4l.9 -1l-1.8 -.4zM473.7 431.8l1.6 .4l1.1 -.9l-1.6 -.3zM553.4 449.1l1.8 .4l.9 -1l-1.8 -.4zM569.6 452.7l1.8 .4l.9 -1.1l-1.8 -.4zM534.9 443.9l1.7 .4l1 -1l-1.7 -.4zM479.1 430.6l4.8 1l1.1 -.9l-4.8 -1zM500.3 435.2l3.3 .7l1 -1l-3.3 -.7zM530.7 441.8l1.7 .4l1 -1l-1.7 -.4zM511.3 436.4l3.4 .7l1 -1l-3.3 -.7zM526.5 439.7l1.7 .4l1 -1l-1.7 -.4zM549 444.5l1.8 .4l.9 -1l-1.8 -.4zM510.6 435.1l1.7 .4l1 -.9l-1.7 -.4zM527.5 438.7l1.7 .4l1 -1l-1.7 -.4zM567.7 447.3l1.8 .4l.9 -1l-1.8 -.4zM505 432.7l1.6 .4l1 -.9l-1.6 -.4zM550 441.2l1.7 .4l.9 -1l-1.7 -.4zM507 430.9l1.6 .3l1 -.9l-1.6 -.3zM550.9 440.2l1.7 .4l.9 -1l-1.7 -.4zM565.8 442.2l1.8 .4l.9 -1l-1.8 -.4zM536.5 433.7l1.7 .4l.9 -.9l-1.7 -.4zM562.3 439.1l1.7 .4l.9 -1l-1.7 -.4zM512.6 427.5l1.6 .3l1 -.9l-1.6 -.3zM563.1 438.1l1.7 .4l.9 -1l-1.7 -.4zM552.8 433.7l1.7 .4l.9 -.9l-1.7 -.4zM562.2 434.5l1.7 .4l.8 -.9l-1.7 -.4zM561.4 433.2l1.7 .4l.8 -.9l-1.7 -.4zM560.5 431.9l1.7 .4l.8 -.9l-1.7 -.3zM559.7 430.7l1.7 .3l.8 -.9l-1.7 -.3zM558 428.1l1.7 .3l.8 -.9l-1.7 -.3zM557.2 426.9l1.7 .3l.8 -.9l-1.7 -.3zM556.3 425.6l1.7 .3l.8 -.9l-1.7 -.3zM531 419.5l1.6 .3l.9 -.9l-1.6 -.3zM531.2 417.4l1.6 .3l.9 -.9l-1.6 -.3zM552.3 421.7l1.6 .3l.8 -.9l-1.6 -.3zM549.1 418.9l1.6 .3l.8 -.9l-1.6 -.3zM544.3 416l1.6 .3l.8 -.8l-1.6 -.3zM537.2 413.5l4.8 .9l.9 -.8l-4.8 -.9z"/><path fill="#20a62f" stroke="#20a62f" stroke-width=".4" d="M508.8 459.7l7.2 1.7l1.1 -1.1l-7.2 -1.7zM468.2 449.1l1.7 .4l1.2 -1l-1.7 -.4zM485.3 453l3.5 .8l1.1 -1.1l-3.5 -.8zM499.2 456.2l3.5 .8l1.1 -1.1l-3.5 -.8zM520.6 461.1l1.8 .4l1 -1.1l-1.8 -.4zM525.3 460.9l1.8 .4l1 -1.1l-1.8 -.4zM529.2 459.1l1.8 .4l1 -1.1l-1.8 -.4zM533 457.3l1.8 .4l1 -1.1l-1.8 -.4zM534 456.2l1.8 .4l1 -1.1l-1.8 -.4zM463.1 439l1.6 .4l1.1 -1l-1.6 -.4zM535 455.2l1.8 .4l1 -1.1l-1.8 -.4zM462.6 437.7l1.6 .4l1.1 -1l-1.6 -.4zM535.2 452.6l1.8 .4l1 -1.1l-1.8 -.4zM535.5 447.7l1.8 .4l1 -1l-1.8 -.4zM560.6 453.2l1.8 .4l.9 -1.1l-1.8 -.4zM476.4 431.2l1.6 .3l1.1 -.9l-1.6 -.3zM491 434.4l4.9 1.1l1 -.9l-4.9 -1.1zM552.5 447.7l1.8 .4l.9 -1l-1.8 -.4zM503.6 435.9l1.7 .4l1 -1l-1.7 -.4zM514.7 437.1l1.7 .4l1 -1l-1.7 -.4zM512.3 435.4l1.7 .4l1 -1l-1.7 -.4zM566.8 445.9l1.8 .4l.9 -1l-1.8 -.4zM506 431.8l1.6 .4l1 -.9l-1.6 -.3zM533.7 436.5l1.7 .4l.9 -1l-1.7 -.4zM553.6 439.6l1.7 .4l.9 -1l-1.7 -.4zM539.3 430.9l1.7 .3l.9 -.9l-1.7 -.3zM558 432.5l1.7 .4l.9 -.9l-1.7 -.4zM558.8 431.6l1.7 .4l.8 -.9l-1.7 -.3zM558 430.3l1.7 .3l.8 -.9l-1.7 -.3zM558.8 429.4l1.7 .3l.8 -.9l-1.7 -.3zM555.5 426.5l1.7 .3l.8 -.9l-1.7 -.3zM554.7 425.3l1.7 .3l.8 -.9l-1.7 -.3zM553.9 424.1l1.7 .3l.8 -.9l-1.7 -.3zM553.1 422.9l1.7 .3l.8 -.9l-1.6 -.3zM550.6 421.3l1.6 .3l.8 -.9l-1.6 -.3zM549.8 420.1l1.6 .3l.8 -.9l-1.6 -.3zM546.7 417.4l1.6 .3l.8 -.9l-1.6 -.3zM534.7 414.1l1.6 .3l.9 -.8l-1.6 -.3z"/><path fill="#18933f" stroke="#18933f" stroke-width=".4" d="M469.9 449.5l15.4 3.5l1.1 -1.1l-15.4 -3.5zM502.7 457l3.5 .8l1.1 -1.1l-3.5 -.8zM518.8 460.7l1.8 .4l1 -1.1l-1.8 -.4zM467.7 447.6l1.7 .4l1.2 -1l-1.7 -.4zM493.3 453.5l3.5 .8l1.1 -1.1l-3.5 -.8zM523.5 460.4l1.8 .4l1 -1.1l-1.8 -.4zM465.5 445.9l1.7 .4l1.2 -1l-1.7 -.4zM526.3 459.8l1.8 .4l1 -1.1l-1.8 -.4zM465 444.5l1.7 .4l1.2 -1l-1.7 -.4zM464.5 443.1l1.7 .4l1.2 -1l-1.7 -.4zM530.2 458l1.8 .4l1 -1.1l-1.8 -.4zM464 441.7l1.6 .4l1.2 -1l-1.6 -.4zM463.5 440.4l1.6 .4l1.2 -1l-1.6 -.4zM463.7 436.7l1.6 .4l1.1 -1l-1.6 -.4zM535.3 450.1l1.8 .4l1 -1l-1.8 -.4zM467.1 433.9l1.6 .4l1.1 -.9l-1.6 -.4zM469.9 433.3l1.6 .4l1.1 -.9l-1.6 -.4zM567.8 454.8l1.8 .4l.9 -1.1l-1.8 -.4zM472.6 432.7l1.6 .4l1.1 -.9l-1.6 -.4zM534.7 446.3l1.8 .4l1 -1l-1.7 -.4zM475.3 432.1l1.6 .4l1.1 -.9l-1.6 -.3zM478 431.5l1.6 .4l1.1 -.9l-1.6 -.3zM487.7 433.7l3.3 .7l1.1 -.9l-3.3 -.7zM495.9 435.4l3.3 .7l1 -1l-3.3 -.7zM533.2 443.5l1.7 .4l1 -1l-1.7 -.4zM568.7 451.2l1.8 .4l.9 -1l-1.8 -.4zM505.3 436.3l1.7 .4l1 -1l-1.7 -.4zM529 441.4l1.7 .4l1 -1l-1.7 -.4zM551.6 446.3l1.8 .4l.9 -1l-1.8 -.4zM516.3 437.5l3.4 .7l1 -1l-3.4 -.7zM514 435.8l1.7 .4l1 -1l-1.7 -.4zM506.7 433.1l1.7 .4l1 -.9l-1.6 -.4zM531.1 437.1l1.7 .4l.9 -1l-1.7 -.4zM534.7 435.6l1.7 .4l.9 -1l-1.7 -.4zM535.6 434.6l1.7 .4l.9 -.9l-1.7 -.4zM557.9 439.3l1.7 .4l.9 -1l-1.7 -.4zM563.2 440.4l1.8 .4l.9 -1l-1.8 -.4zM511.6 428.4l1.6 .3l1 -.9l-1.6 -.3zM536.7 431.5l1.7 .4l.9 -.9l-1.7 -.3zM537.6 430.5l1.7 .3l.9 -.9l-1.7 -.3zM541 431.2l1.7 .3l.9 -.9l-1.7 -.3zM549.4 433l3.4 .7l.9 -.9l-3.4 -.7zM555.4 433.1l1.7 .4l.9 -.9l-1.7 -.4zM527.4 423l1.6 .3l.9 -.9l-1.6 -.3zM557.1 429l1.7 .3l.8 -.9l-1.7 -.3zM529.9 422.4l1.6 .3l.9 -.9l-1.6 -.3zM556.3 427.8l1.7 .3l.8 -.9l-1.7 -.3zM530.8 421.5l1.6 .3l.9 -.9l-1.6 -.3zM531.9 418.6l1.6 .3l.9 -.9l-1.6 -.3zM551.4 422.5l1.6 .3l.8 -.9l-1.6 -.3zM532.1 416.6l1.6 .3l.9 -.8l-1.6 -.3zM533 415.7l1.6 .3l.9 -.8l-1.6 -.3zM547.4 418.6l1.6 .3l.8 -.9l-1.6 -.3zM533.9 414.9l1.6 .3l.9 -.8l-1.6 -.3z"/><path fill="#108050" stroke="#108050" stroke-width=".4" d="M506.3 457.8l3.6 .8l1.1 -1.1l-3.6 -.8zM517 460.3l1.8 .4l1.1 -1.1l-1.8 -.4zM469.4 448l1.7 .4l1.2 -1l-1.7 -.4zM491.6 453.1l1.7 .4l1.1 -1.1l-1.7 -.4zM496.8 454.3l3.5 .8l1.1 -1.1l-3.5 -.8zM467.2 446.2l1.7 .4l1.2 -1l-1.7 -.4zM464.7 439.4l1.6 .4l1.1 -1l-1.6 -.4zM464.2 438.1l1.6 .4l1.1 -1l-1.6 -.4zM534.2 453.7l1.8 .4l1 -1.1l-1.8 -.4zM464.9 435.8l1.6 .4l1.1 -1l-1.6 -.4zM466 434.8l1.6 .4l1.1 -.9l-1.6 -.4zM534.6 448.7l1.8 .4l1 -1l-1.8 -.4zM557.8 451.3l1.8 .4l.9 -1l-1.8 -.4zM568.7 453.7l1.8 .4l.9 -1.1l-1.8 -.4zM534 444.9l1.7 .4l1 -1l-1.7 -.4zM479.6 431.9l8.1 1.8l1.1 -.9l-8.1 -1.8zM499.3 436.2l1.7 .4l1 -1l-1.7 -.4zM531.4 443.1l1.7 .4l1 -1l-1.7 -.4zM506.9 436.6l5 1.1l1 -1l-5 -1.1zM527.2 441l1.7 .4l1 -1l-1.7 -.4zM567.7 449.8l1.8 .4l.9 -1l-1.8 -.4zM519.7 438.2l1.7 .4l1 -1l-1.7 -.4zM524.8 439.3l1.7 .4l1 -1l-1.7 -.4zM515.6 436.2l1.7 .4l1 -1l-1.7 -.4zM525.8 438.3l1.7 .4l1 -1l-1.7 -.4zM549.9 443.5l1.8 .4l.9 -1l-1.8 -.4zM508.3 433.4l1.7 .4l1 -.9l-1.7 -.4zM528.4 437.7l1.7 .4l1 -1l-1.7 -.4zM565.9 444.5l1.8 .4l.9 -1l-1.8 -.4zM564 441.8l1.8 .4l.9 -1l-1.8 -.4zM510.6 429.4l1.6 .3l1 -.9l-1.6 -.3zM535.8 432.4l1.7 .4l.9 -.9l-1.7 -.4zM542.6 431.6l6.8 1.4l.9 -.9l-6.7 -1.4zM557.1 431.2l1.7 .3l.9 -.9l-1.7 -.3zM553 425l1.7 .3l.8 -.9l-1.7 -.3zM552.2 423.7l1.7 .3l.8 -.9l-1.7 -.3zM549 421l1.6 .3l.8 -.9l-1.6 -.3zM548.2 419.8l1.6 .3l.8 -.9l-1.6 -.3zM545.1 417.1l1.6 .3l.8 -.8l-1.6 -.3zM542.7 415.6l1.6 .3l.9 -.8l-1.6 -.3z"/><path fill="#106b80" stroke="#106b80" stroke-width=".4" d="M509.8 458.7l7.2 1.7l1.1 -1.1l-7.2 -1.6zM471 448.4l1.7 .4l1.2 -1l-1.7 -.4zM488.1 452.3l3.5 .8l1.1 -1.1l-3.5 -.8zM500.3 455.1l3.5 .8l1.1 -1.1l-3.5 -.8zM521.7 460l1.8 .4l1 -1.1l-1.8 -.4zM468.8 446.6l1.7 .4l1.2 -1l-1.7 -.4zM524.5 459.3l1.8 .4l1 -1.1l-1.8 -.4zM466.7 444.9l1.7 .4l1.2 -1l-1.7 -.4zM527.4 458.7l1.8 .4l1 -1.1l-1.8 -.4zM465.7 442.1l1.7 .4l1.1 -1l-1.6 -.4zM531.2 456.9l1.8 .4l1 -1.1l-1.8 -.4zM465.2 440.7l1.6 .4l1.1 -1l-1.6 -.4zM532.2 455.8l1.8 .4l1 -1.1l-1.8 -.4zM533.2 454.8l1.8 .4l1 -1.1l-1.8 -.4zM465.3 437.1l1.6 .4l1.1 -1l-1.6 -.4zM534.4 451.2l1.8 .4l1 -1l-1.8 -.4zM468.7 434.2l1.6 .4l1.1 -.9l-1.6 -.4zM533.8 447.3l1.8 .4l1 -1l-1.8 -.4zM562.4 453.6l1.8 .4l.9 -1.1l-1.8 -.4zM476.9 432.5l1.6 .4l1.1 -.9l-1.6 -.4zM491.6 435.7l1.6 .4l1.1 -1l-1.6 -.4zM555.2 449.5l1.8 .4l.9 -1l-1.8 -.4zM567.8 452.3l1.8 .4l.9 -1.1l-1.8 -.4zM500.9 436.5l1.7 .4l1 -1l-1.7 -.4zM529.7 442.8l1.7 .4l1 -1l-1.7 -.4zM512 437.7l6.8 1.5l1 -1l-6.7 -1.5zM523.8 440.3l3.4 .7l1 -1l-3.4 -.7zM521.4 438.6l3.4 .7l1 -1l-3.4 -.7zM550.8 444.9l1.8 .4l.9 -1l-1.8 -.4zM566.8 448.4l1.8 .4l.9 -1l-1.8 -.4zM510 433.8l1.7 .4l1 -.9l-1.7 -.4zM550.9 442.5l1.8 .4l.9 -1l-1.7 -.4zM507.7 432.1l1.6 .4l1 -.9l-1.6 -.3zM508.7 431.2l1.6 .3l1 -.9l-1.6 -.3zM532 436.2l1.7 .4l.9 -1l-1.7 -.4zM509.7 430.3l1.6 .3l1 -.9l-1.6 -.3zM555.3 439.9l1.7 .4l.9 -1l-1.7 -.4zM559.7 439.7l3.5 .7l.9 -1l-3.5 -.7zM534.9 433.3l1.7 .4l.9 -.9l-1.7 -.4zM535.9 430.2l1.7 .3l.9 -.9l-1.7 -.3zM536.9 429.3l3.3 .7l.9 -.9l-3.3 -.7zM556.3 430l1.7 .3l.9 -.9l-1.7 -.3zM529 423.3l1.6 .3l.9 -.9l-1.6 -.3zM555.5 428.7l1.7 .3l.9 -.9l-1.7 -.3zM531.5 422.7l1.6 .3l.9 -.9l-1.6 -.3zM554.6 427.4l1.7 .3l.8 -.9l-1.7 -.3zM553.8 426.2l1.7 .3l.8 -.9l-1.7 -.3zM531.7 420.7l1.6 .3l.9 -.9l-1.6 -.3zM549.8 422.2l1.6 .3l.8 -.9l-1.6 -.3zM532.8 417.8l1.6 .3l.9 -.9l-1.6 -.3zM545.8 418.3l1.6 .3l.8 -.9l-1.6 -.3zM536.3 414.4l1.6 .3l.9 -.8l-1.6 -.3z"/><path fill="#1055b0" stroke="#1055b0" stroke-width=".4" d="M472.7 448.8l15.4 3.5l1.1 -1l-15.4 -3.5zM503.8 455.9l3.5 .8l1.1 -1.1l-3.5 -.8zM519.9 459.6l1.8 .4l1 -1.1l-1.8 -.4zM470.5 447l1.7 .4l1.2 -1l-1.7 -.4zM494.4 452.5l5.2 1.2l1.1 -1.1l-5.2 -1.2zM468.3 445.2l1.7 .4l1.2 -1l-1.7 -.4zM466.2 443.5l1.7 .4l1.2 -1l-1.7 -.4zM528.4 457.6l1.8 .4l1 -1.1l-1.8 -.4zM466.3 439.8l1.6 .4l1.1 -1l-1.6 -.4zM465.8 438.4l1.6 .4l1.1 -1l-1.6 -.4zM532.4 453.3l1.8 .4l1 -1.1l-1.8 -.4zM533.4 452.2l1.8 .4l1 -1.1l-1.8 -.4zM466.5 436.1l1.6 .4l1.1 -1l-1.6 -.4zM533.6 449.8l1.8 .4l1 -1l-1.8 -.4zM532.8 448.3l1.8 .4l1 -1l-1.8 -.4zM471.5 433.6l1.6 .4l1.1 -.9l-1.6 -.4zM564.2 454l3.7 .8l.9 -1.1l-3.6 -.8zM474.2 433.1l1.6 .4l1.1 -.9l-1.6 -.4zM533 445.9l1.7 .4l1 -1l-1.7 -.4zM559.6 451.7l1.8 .4l.9 -1l-1.8 -.4zM488.3 435l3.3 .7l1.1 -1l-3.3 -.7zM493.2 436l5 1.1l1 -1l-5 -1.1zM532.2 444.5l1.7 .4l1 -1l-1.7 -.4zM502.6 436.9l3.3 .7l1 -1l-3.3 -.7zM528 442.4l1.7 .4l1 -1l-1.7 -.4zM554.3 448.1l1.8 .4l.9 -1l-1.8 -.4zM518.7 439.2l5.1 1.1l1 -1l-5.1 -1.1zM553.4 446.7l1.8 .4l.9 -1l-1.8 -.4zM520.7 437.2l5.1 1.1l1 -1l-5.1 -1.1zM565.9 446.9l1.8 .4l.9 -1l-1.8 -.4zM511.6 434.1l3.3 .7l1 -.9l-3.3 -.7zM526.7 437.4l1.7 .4l1 -1l-1.7 -.4zM565 445.5l1.8 .4l.9 -1l-1.8 -.4zM529.4 436.8l1.7 .4l.9 -1l-1.7 -.4zM551.8 441.5l1.7 .4l.9 -1l-1.7 -.4zM552.7 440.5l1.7 .4l.9 -1l-1.7 -.4zM564.9 443.2l1.8 .4l.9 -1l-1.8 -.4zM533 435.2l1.7 .4l.9 -1l-1.7 -.4zM562.3 441.4l1.8 .4l.9 -1l-1.8 -.4zM512.3 429.7l1.6 .3l1 -.9l-1.6 -.3zM533.9 434.3l1.7 .4l.9 -.9l-1.7 -.4zM534.1 432l1.7 .4l.9 -.9l-1.7 -.3zM535 431.1l1.7 .3l.9 -.9l-1.7 -.3zM535.2 428.9l1.7 .3l.9 -.9l-1.7 -.3zM540.2 430l1.7 .3l.9 -.9l-1.7 -.3zM553.7 432.7l1.7 .4l.9 -.9l-1.7 -.4zM556.3 432.2l1.7 .4l.9 -.9l-1.7 -.3zM526.4 423.8l1.6 .3l.9 -.9l-1.6 -.3zM530.6 423.6l3.3 .7l.9 -.9l-3.3 -.7zM532.4 421.9l1.6 .3l.9 -.9l-1.6 -.3zM532.6 419.8l1.6 .3l.9 -.9l-1.6 -.3zM550.6 423.4l1.7 .3l.9 -.9l-1.6 -.3zM533.7 416.9l1.6 .3l.9 -.8l-1.6 -.3zM546.6 419.5l1.6 .3l.9 -.9l-1.6 -.3zM535.4 415.2l1.6 .3l.9 -.8l-1.6 -.3zM543.4 416.8l1.6 .3l.9 -.8l-1.6 -.3zM541.1 415.3l1.6 .3l.9 -.8l-1.6 -.3z"/><path fill="#1040e0" stroke="#1040e0" stroke-width=".4" d="M507.4 456.8l3.6 .8l1.1 -1.1l-3.5 -.8zM518.1 459.2l1.8 .4l1 -1.1l-1.8 -.4zM472.2 447.4l1.7 .4l1.1 -1l-1.7 -.4zM491 451.7l3.5 .8l1.1 -1.1l-3.5 -.8zM499.7 453.7l5.3 1.2l1.1 -1.1l-5.2 -1.2zM522.7 458.9l1.8 .4l1 -1.1l-1.8 -.4zM470 445.6l1.7 .4l1.1 -1l-1.7 -.4zM525.6 458.3l1.8 .4l1 -1.1l-1.8 -.4zM467.8 443.8l1.7 .4l1.1 -1l-1.7 -.4zM467.3 442.5l1.7 .4l1.1 -1l-1.7 -.4zM529.4 456.5l1.8 .4l1 -1.1l-1.8 -.4zM466.8 441.1l1.6 .4l1.1 -1l-1.6 -.4zM530.4 455.4l1.8 .4l1 -1.1l-1.8 -.4zM531.4 454.4l1.8 .4l1 -1.1l-1.8 -.4zM467.5 438.8l1.6 .4l1.1 -1l-1.6 -.4zM467 437.5l1.6 .4l1.1 -1l-1.6 -.4zM532.6 450.8l1.8 .4l1 -1l-1.8 -.4zM467.6 435.2l1.6 .4l1.1 -.9l-1.6 -.4zM470.4 434.6l1.6 .4l1.1 -.9l-1.6 -.4zM473.1 434l1.6 .4l1.1 -.9l-1.6 -.4zM532 446.9l1.8 .4l1 -1l-1.7 -.4zM475.8 433.4l1.6 .4l1.1 -.9l-1.6 -.4zM531.2 445.5l1.7 .4l1 -1l-1.7 -.4zM561.5 452.1l1.8 .4l.9 -1.1l-1.8 -.4zM566.9 453.3l1.8 .4l.9 -1.1l-1.8 -.4zM478.5 432.8l9.8 2.1l1.1 -.9l-9.8 -2.1zM498.2 437.1l3.3 .7l1 -1l-3.3 -.7zM530.5 444.1l1.7 .4l1 -1l-1.7 -.4zM556.9 449.9l1.8 .4l.9 -1l-1.8 -.4zM505.9 437.6l5 1.1l1 -1l-5 -1.1zM524.6 441.6l3.4 .7l1 -1l-3.4 -.7zM566.9 450.8l1.8 .4l.9 -1l-1.8 -.4zM565.9 449.4l1.8 .4l.9 -1l-1.8 -.4zM552.6 445.3l1.8 .4l.9 -1l-1.8 -.4zM551.7 443.9l1.8 .4l.9 -1l-1.8 -.4zM515 434.9l1.7 .4l1 -.9l-1.7 -.4zM509.3 432.5l3.3 .7l1 -.9l-3.3 -.7zM527.7 436.4l1.7 .4l1 -1l-1.7 -.4zM510.3 431.6l1.6 .4l1 -.9l-1.6 -.3zM530.3 435.8l1.7 .4l.9 -1l-1.7 -.4zM511.3 430.6l1.6 .3l1 -.9l-1.6 -.3zM557 440.3l1.7 .4l.9 -1l-1.7 -.4zM533.2 433l1.7 .4l.9 -.9l-1.7 -.4zM532.4 431.7l1.7 .4l.9 -.9l-1.7 -.3zM533.4 430.8l1.7 .3l.9 -.9l-1.7 -.3zM534.3 429.8l1.7 .3l.9 -.9l-1.7 -.3zM536.1 428l1.7 .3l.9 -.9l-1.7 -.3zM555.4 430.9l1.7 .3l.9 -.9l-1.7 -.3zM528.1 424.2l6.5 1.3l.9 -.9l-6.5 -1.3zM533.9 424.3l1.6 .3l.9 -.9l-1.6 -.3zM533.2 423.1l1.6 .3l.9 -.9l-1.6 -.3zM552.2 425.9l1.7 .3l.9 -.9l-1.7 -.3zM551.4 424.6l1.7 .3l.9 -.9l-1.7 -.3zM533.5 418.9l1.6 .3l.9 -.9l-1.6 -.3zM548.1 421.9l1.6 .3l.9 -.9l-1.6 -.3zM547.3 420.7l1.6 .3l.9 -.9l-1.6 -.3zM534.6 416.1l1.6 .3l.9 -.8l-1.6 -.3zM544.2 418l1.6 .3l.9 -.9l-1.6 -.3zM537.9 414.7l3.2 .6l.9 -.8l-3.2 -.6z"/><path fill="#1030db" stroke="#1030db" stroke-width=".4" d="M510.9 457.6l7.2 1.6l1.1 -1.1l-7.1 -1.6zM473.9 447.8l17.1 3.9l1.1 -1l-17 -3.9zM504.9 454.9l1.8 .4l1.1 -1.1l-1.8 -.4zM520.9 458.5l1.8 .4l1 -1.1l-1.8 -.4zM471.7 446l3.4 .8l1.1 -1l-3.4 -.8zM492.1 450.6l8.7 2l1.1 -1.1l-8.6 -2zM469.5 444.2l1.7 .4l1.1 -1l-1.7 -.4zM526.6 457.2l1.8 .4l1 -1.1l-1.8 -.4zM469 442.8l1.7 .4l1.1 -1l-1.7 -.4zM468.5 441.5l1.7 .4l1.1 -1l-1.6 -.4zM468 440.1l1.6 .4l1.1 -1l-1.6 -.4zM529.6 454l1.8 .4l1 -1.1l-1.8 -.4zM530.6 452.9l1.8 .4l1 -1.1l-1.8 -.4zM468.6 437.8l1.6 .4l1.1 -1l-1.6 -.4zM531.6 451.8l1.8 .4l1 -1l-1.8 -.4zM468.1 436.5l1.6 .4l1.1 -1l-1.6 -.4zM530.8 450.4l1.8 .4l1 -1l-1.8 -.4zM469.2 435.5l1.6 .4l1.1 -1l-1.6 -.4zM531.8 449.4l1.8 .4l1 -1l-1.8 -.4zM531 447.9l1.8 .4l1 -1l-1.8 -.4zM530.3 446.5l1.7 .4l1 -1l-1.7 -.4zM477.4 433.8l1.6 .4l1.1 -.9l-1.6 -.4zM490.5 436.6l6.6 1.4l1 -1l-6.6 -1.4zM529.5 445.1l1.7 .4l1 -1l-1.7 -.4zM563.3 452.5l3.6 .8l.9 -1.1l-3.6 -.8zM501.5 437.8l5 1.1l1 -1l-5 -1.1zM525.3 443l5.2 1.1l1 -1l-5.2 -1.1zM558.7 450.3l1.8 .4l.9 -1l-1.8 -.4zM566 451.9l1.8 .4l.9 -1l-1.8 -.4zM511 438.7l13.6 2.9l1 -1l-13.6 -2.9zM556.1 448.5l1.8 .4l.9 -1l-1.8 -.4zM565.1 450.4l1.8 .4l.9 -1l-1.8 -.4zM555.2 447.1l1.8 .4l.9 -1l-1.8 -.4zM565 448l1.8 .4l.9 -1l-1.8 -.4zM564.1 446.6l1.8 .4l.9 -1l-1.8 -.4zM516.6 435.2l10.1 2.2l1 -1l-10.1 -2.1zM552.6 442.9l1.8 .4l.9 -1l-1.8 -.4zM512.6 433.2l3.3 .7l1 -.9l-3.3 -.7zM526 436l1.7 .4l1 -1l-1.7 -.4zM553.5 441.9l1.8 .4l.9 -1l-1.7 -.4zM564.1 444.2l1.8 .4l.9 -1l-1.8 -.4zM512 431.9l1.7 .4l1 -.9l-1.6 -.3zM528.7 435.5l1.7 .4l.9 -1l-1.7 -.4zM554.4 440.9l1.7 .4l.9 -1l-1.7 -.4zM563.2 442.8l1.8 .4l.9 -1l-1.8 -.4zM512.9 431l3.3 .7l1 -.9l-3.3 -.7zM531.3 434.9l1.7 .4l.9 -.9l-1.7 -.4zM560.5 441l1.8 .4l.9 -1l-1.8 -.4zM530.6 433.6l3.4 .7l.9 -.9l-3.4 -.7zM531.5 432.6l1.7 .4l.9 -.9l-1.7 -.4zM530.8 431.3l1.7 .3l.9 -.9l-1.7 -.3zM531.7 430.4l1.7 .3l.9 -.9l-1.7 -.3zM532.6 429.5l1.7 .3l.9 -.9l-1.7 -.3zM533.5 428.6l1.7 .3l.9 -.9l-1.7 -.3zM541.9 430.3l1.7 .3l.9 -.9l-1.7 -.3zM552 432.4l1.7 .4l.9 -.9l-1.7 -.4zM532.8 427.3l3.3 .7l.9 -.9l-3.3 -.7zM537.8 428.3l1.7 .3l.9 -.9l-1.7 -.3zM554.6 431.8l1.7 .4l.9 -.9l-1.7 -.3zM525.5 424.7l3.3 .7l.9 -.9l-3.3 -.7zM530.4 425.7l6.6 1.4l.9 -.9l-6.6 -1.3zM534.6 425.5l1.6 .3l.9 -.9l-1.6 -.3zM554.6 429.6l1.7 .3l.9 -.9l-1.7 -.3zM553.8 428.4l1.7 .3l.9 -.9l-1.7 -.3zM553 427.1l1.7 .3l.9 -.9l-1.7 -.3zM533.3 421l1.6 .3l.9 -.9l-1.6 -.3zM534.2 420.1l1.6 .3l.9 -.9l-1.6 -.3zM548.9 423.1l1.6 .3l.9 -.9l-1.6 -.3zM534.4 418.1l1.6 .3l.9 -.9l-1.6 -.3zM545 419.2l1.6 .3l.9 -.9l-1.6 -.3zM541.8 416.5l1.6 .3l.9 -.8l-1.6 -.3z"/><path fill="#1020d5" stroke="#1020d5" stroke-width=".4" d="M506.7 455.3l3.5 .8l1.1 -1.1l-3.5 -.8zM519.1 458.1l1.8 .4l1 -1.1l-1.8 -.4zM475 446.8l17 3.9l1.1 -1l-17 -3.9zM500.7 452.6l7 1.6l1.1 -1.1l-7 -1.6zM523.8 457.8l1.8 .4l1 -1.1l-1.8 -.4zM471.2 444.6l35.9 8.1l1.1 -1.1l-35.8 -8.1zM470.6 443.2l1.7 .4l1.1 -1l-1.7 -.4zM477.3 444.7l29.1 6.6l1.1 -1l-29 -6.5zM527.6 456.1l1.8 .4l1 -1.1l-1.8 -.4zM485.2 445.2l22.3 5l1.1 -1l-22.2 -5zM528.6 455l1.8 .4l1 -1.1l-1.8 -.4zM469.6 440.5l1.6 .4l1.1 -1l-1.6 -.4zM486.3 444.2l22.2 5l1 -1l-22.2 -5zM469.1 439.2l1.6 .4l1.1 -1l-1.6 -.4zM487.4 443.2l22.2 5l1 -1l-22.1 -4.9zM490.1 442.6l22.2 4.9l1 -1l-22.1 -4.9zM529.8 451.4l1.8 .4l1 -1l-1.8 -.4zM469.7 436.9l1.6 .4l1.1 -1l-1.6 -.4zM496.3 442.7l18.8 4.2l1 -1l-18.8 -4.1zM470.9 435.9l1.6 .4l1.1 -1l-1.6 -.4zM490.6 440.3l3.3 .7l1.1 -1l-3.3 -.7zM497.3 441.7l20.5 4.5l1 -1l-20.4 -4.5zM530.1 449l1.8 .4l1 -1l-1.8 -.4zM472 434.9l1.6 .4l1.1 -.9l-1.6 -.4zM490 438.9l41 9l1 -1l-40.9 -9zM474.7 434.4l1.6 .4l1.1 -.9l-1.6 -.4zM489.5 437.6l40.8 8.9l1 -1l-40.7 -8.9zM479.1 434.1l1.6 .4l1.1 -.9l-1.6 -.4zM487.2 435.9l3.3 .7l1.1 -1l-3.3 -.7zM497.2 438.1l32.3 7.1l1 -1l-32.3 -7zM506.6 438.9l18.7 4.1l1 -1l-18.7 -4.1zM560.5 450.7l1.8 .4l.9 -1l-1.8 -.4zM564.2 451.5l1.8 .4l.9 -1l-1.8 -.4zM557.9 448.9l1.8 .4l.9 -1l-1.8 -.4zM564.1 449l1.8 .4l.9 -1l-1.8 -.4zM554.3 445.7l1.8 .4l.9 -1l-1.8 -.4zM563.2 447.6l1.8 .4l.9 -1l-1.8 -.4zM553.5 444.3l1.8 .4l.9 -1l-1.8 -.4zM554.4 443.3l1.8 .4l.9 -1l-1.8 -.4zM563.2 445.2l1.8 .4l.9 -1l-1.8 -.4zM516 433.9l10.1 2.1l1 -1l-10 -2.1zM562.3 443.8l1.8 .4l.9 -1l-1.8 -.4zM513.6 432.3l15 3.2l.9 -.9l-15 -3.2zM561.4 442.4l1.8 .4l.9 -1l-1.8 -.4zM516.3 431.7l15 3.2l.9 -.9l-15 -3.2zM558.8 440.7l1.8 .4l.9 -1l-1.7 -.4zM517.2 430.7l13.3 2.8l.9 -.9l-13.3 -2.8zM518.2 429.8l13.3 2.8l.9 -.9l-13.3 -2.8zM519.2 428.9l11.6 2.4l.9 -.9l-11.6 -2.4zM520.1 428l11.6 2.4l.9 -.9l-11.5 -2.4zM521.1 427.1l11.5 2.4l.9 -.9l-11.5 -2.4zM523.6 426.5l9.9 2l.9 -.9l-9.9 -2zM543.5 430.6l8.4 1.7l.9 -.9l-8.4 -1.7zM524.6 425.6l8.2 1.7l.9 -.9l-8.2 -1.7zM539.4 428.7l1.7 .3l.9 -.9l-1.7 -.3zM528.8 425.4l1.6 .3l.9 -.9l-1.6 -.3zM553.7 430.5l1.7 .3l.9 -.9l-1.7 -.3zM535.5 424.6l1.6 .3l.9 -.9l-1.6 -.3zM534.8 423.4l1.6 .3l.9 -.9l-1.6 -.3zM534.1 422.2l1.6 .3l.9 -.9l-1.6 -.3zM549.7 424.3l1.7 .3l.9 -.9l-1.7 -.3zM535.1 419.3l1.6 .3l.9 -.9l-1.6 -.3zM546.5 421.5l1.6 .3l.9 -.9l-1.6 -.3zM545.7 420.3l1.6 .3l.9 -.9l-1.6 -.3zM535.3 417.2l1.6 .3l.9 -.8l-1.6 -.3zM536.2 416.4l1.6 .3l.9 -.8l-1.6 -.3zM542.6 417.7l1.6 .3l.9 -.9l-1.6 -.3zM537 415.5l1.6 .3l.9 -.8l-1.6 -.3zM540.2 416.2l1.6 .3l.9 -.8l-1.6 -.3z"/><path fill="#1010d0" stroke="#1010d0" stroke-width=".4" d="M510.2 456.1l1.8 .4l1.1 -1.1l-1.8 -.4zM517.3 457.7l1.8 .4l1 -1.1l-1.8 -.4zM507.7 454.2l1.8 .4l1.1 -1.1l-1.8 -.4zM522 457.4l1.8 .4l1 -1.1l-1.8 -.4zM507.1 452.7l1.8 .4l1.1 -1.1l-1.7 -.4zM524.8 456.8l1.8 .4l1 -1.1l-1.8 -.4zM472.3 443.6l5 1.1l1.1 -1l-5 -1.1zM506.4 451.3l3.5 .8l1.1 -1l-3.5 -.8zM525.8 455.7l1.8 .4l1 -1.1l-1.8 -.4zM470.1 441.9l15 3.4l1.1 -1l-15 -3.4zM507.4 450.3l3.5 .8l1 -1l-3.5 -.8zM477.9 442.4l8.4 1.9l1.1 -1l-8.4 -1.9zM508.5 449.2l3.5 .8l1 -1l-3.5 -.8zM527.8 453.6l1.8 .4l1 -1.1l-1.8 -.4zM470.7 439.5l1.6 .4l1.1 -1l-1.6 -.4zM480.7 441.7l6.7 1.5l1.1 -1l-6.7 -1.5zM509.6 448.2l3.5 .8l1 -1l-3.5 -.8zM528.8 452.5l1.8 .4l1 -1.1l-1.8 -.4zM470.2 438.2l1.6 .4l1.1 -1l-1.6 -.4zM483.5 441.1l6.7 1.5l1.1 -1l-6.7 -1.5zM512.3 447.5l3.5 .8l1 -1l-3.5 -.8zM471.4 437.2l1.6 .4l1.1 -1l-1.6 -.4zM484.5 440.1l11.7 2.6l1.1 -1l-11.7 -2.6zM515.1 446.9l3.5 .8l1 -1l-3.5 -.8zM529.1 450l1.8 .4l1 -1l-1.8 -.4zM472.5 436.3l1.6 .4l1.1 -1l-1.6 -.4zM485.6 439.2l5 1.1l1.1 -1l-5 -1.1zM494 441l3.4 .7l1.1 -1l-3.4 -.7zM517.8 446.3l12.2 2.7l1 -1l-12.2 -2.7zM473.6 435.3l1.6 .4l1.1 -1l-1.6 -.4zM486.7 438.2l3.3 .7l1.1 -1l-3.3 -.7zM476.3 434.7l1.6 .4l1.1 -.9l-1.6 -.4zM487.8 437.2l1.7 .4l1.1 -1l-1.6 -.4zM480.7 434.5l6.5 1.4l1.1 -1l-6.5 -1.4zM562.4 451.1l1.8 .4l.9 -1l-1.8 -.4zM559.6 449.3l5.4 1.2l.9 -1l-5.4 -1.2zM557 447.4l1.8 .4l.9 -1l-1.8 -.4zM562.3 448.6l1.8 .4l.9 -1l-1.8 -.4zM556.1 446l1.8 .4l.9 -1l-1.8 -.4zM555.2 444.7l1.8 .4l.9 -1l-1.8 -.4zM562.3 446.2l1.8 .4l.9 -1l-1.8 -.4zM561.4 444.8l1.8 .4l.9 -1l-1.8 -.4zM555.3 442.3l1.8 .4l.9 -1l-1.8 -.4zM556.2 441.3l5.3 1.1l.9 -1l-5.3 -1.1zM552.9 431.5l1.7 .4l.9 -.9l-1.7 -.3zM537 427.1l1.7 .3l.9 -.9l-1.7 -.3zM536.3 425.9l1.6 .3l.9 -.9l-1.6 -.3zM552.9 429.3l1.7 .3l.9 -.9l-1.7 -.3zM552.1 428l1.7 .3l.9 -.9l-1.7 -.3zM551.3 426.8l1.7 .3l.9 -.9l-1.7 -.3zM535.7 422.5l1.6 .3l.9 -.9l-1.6 -.3zM550.5 425.5l1.7 .3l.9 -.9l-1.7 -.3zM535 421.3l1.6 .3l.9 -.9l-1.6 -.3zM535.8 420.4l1.6 .3l.9 -.9l-1.6 -.3zM547.3 422.7l1.6 .3l.9 -.9l-1.6 -.3zM536 418.4l1.6 .3l.9 -.9l-1.6 -.3zM544.1 420l1.6 .3l.9 -.9l-1.6 -.3zM543.3 418.8l1.6 .3l.9 -.9l-1.6 -.3zM541 417.3l1.6 .3l.9 -.9l-1.6 -.3zM538.6 415.8l1.6 .3l.9 -.8l-1.6 -.3z"/><path fill="#0e0eb9" stroke="#0e0eb9" stroke-width=".4" d="M512 456.5l5.3 1.2l1 -1.1l-5.3 -1.2zM509.5 454.6l1.8 .4l1.1 -1.1l-1.8 -.4zM508.8 453.1l1.8 .4l1.1 -1.1l-1.8 -.4zM523 456.4l1.8 .4l1 -1.1l-1.8 -.4zM509.9 452.1l1.8 .4l1.1 -1.1l-1.7 -.4zM510.9 451l1.7 .4l1 -1l-1.7 -.4zM526.8 454.6l1.8 .4l1 -1.1l-1.8 -.4zM471.3 440.9l6.6 1.5l1.1 -1l-6.6 -1.5zM512 450l1.7 .4l1 -1l-1.7 -.4zM472.4 439.9l1.6 .4l1.1 -1l-1.6 -.4zM475.7 440.6l5 1.1l1.1 -1l-5 -1.1zM513 449l1.7 .4l1 -1l-1.7 -.4zM527.1 452.1l1.8 .4l1 -1.1l-1.8 -.4zM471.9 438.5l1.6 .4l1.1 -1l-1.6 -.4zM478.5 440l5 1.1l1.1 -1l-5 -1.1zM515.8 448.3l1.7 .4l1 -1l-1.7 -.4zM528.1 451.1l1.8 .4l1 -1l-1.8 -.4zM473 437.6l1.6 .4l1.1 -1l-1.6 -.4zM481.2 439.4l3.3 .7l1.1 -1l-3.3 -.7zM518.6 447.7l10.5 2.3l1 -1l-10.5 -2.3zM474.1 436.6l1.6 .4l1.1 -1l-1.6 -.4zM482.3 438.4l3.3 .7l1.1 -1l-3.3 -.7zM475.2 435.7l3.3 .7l1.1 -1l-3.3 -.7zM483.4 437.5l3.3 .7l1.1 -1l-3.3 -.7zM478 435.1l9.8 2.2l1.1 -1l-9.8 -2.1zM558.8 447.8l3.6 .8l.9 -1l-3.6 -.8zM557.9 446.4l5.4 1.2l.9 -1l-5.3 -1.1zM557 445l5.3 1.1l.9 -1l-5.3 -1.1zM556.1 443.7l5.3 1.1l.9 -1l-5.3 -1.1zM557 442.7l5.3 1.1l.9 -1l-5.3 -1.1zM541.1 429l1.7 .3l.9 -.9l-1.7 -.3zM551.2 431.1l1.7 .3l.9 -.9l-1.7 -.3zM538.7 427.4l1.7 .3l.9 -.9l-1.7 -.3zM552 430.2l1.7 .3l.9 -.9l-1.7 -.3zM536.4 423.7l1.6 .3l.9 -.9l-1.6 -.3zM536.6 421.6l1.6 .3l.9 -.9l-1.6 -.3zM548 424l1.7 .3l.9 -.9l-1.6 -.3zM545.6 422.4l1.6 .3l.9 -.9l-1.6 -.3zM536.7 419.6l1.6 .3l.9 -.9l-1.6 -.3zM544.9 421.2l1.6 .3l.9 -.9l-1.6 -.3zM537.6 418.7l1.6 .3l.9 -.9l-1.6 -.3zM542.5 419.7l1.6 .3l.9 -.9l-1.6 -.3zM536.9 417.5l1.6 .3l.9 -.9l-1.6 -.3zM541.7 418.5l1.6 .3l.9 -.9l-1.6 -.3zM537.8 416.7l3.2 .6l.9 -.8l-3.2 -.6z"/><path fill="#0c0ca3" stroke="#0c0ca3" stroke-width=".4" d="M511.3 455l1.8 .4l1.1 -1.1l-1.8 -.4zM520.2 457l1.8 .4l1 -1.1l-1.8 -.4zM510.6 453.5l1.8 .4l1.1 -1.1l-1.8 -.4zM511.6 452.5l1.8 .4l1 -1.1l-1.8 -.4zM524 455.3l1.8 .4l1 -1.1l-1.8 -.4zM525 454.2l1.8 .4l1 -1.1l-1.8 -.4zM513.7 450.4l1.7 .4l1 -1l-1.7 -.4zM526.1 453.2l1.8 .4l1 -1.1l-1.8 -.4zM474 440.3l1.7 .4l1.1 -1l-1.6 -.4zM514.8 449.4l1.7 .4l1 -1l-1.7 -.4zM473.5 438.9l4.9 1.1l1.1 -1l-4.9 -1.1zM517.5 448.7l3.5 .8l1 -1l-3.5 -.8zM524.5 450.3l3.5 .8l1 -1l-3.5 -.8zM474.6 437.9l6.6 1.5l1.1 -1l-6.6 -1.5zM475.8 437l6.6 1.5l1.1 -1l-6.6 -1.4zM478.5 436.4l4.9 1.1l1.1 -1l-4.9 -1.1zM542.8 429.4l8.4 1.7l.9 -.9l-8.4 -1.7zM550.4 429.8l1.7 .3l.9 -.9l-1.7 -.3zM537.9 426.2l1.7 .3l.9 -.9l-1.6 -.3zM551.2 428.9l1.7 .3l.9 -.9l-1.7 -.3zM537.2 425l1.6 .3l.9 -.9l-1.6 -.3zM550.4 427.7l1.7 .3l.9 -.9l-1.7 -.3zM538.1 424.1l1.6 .3l.9 -.9l-1.6 -.3zM549.6 426.4l1.7 .3l.9 -.9l-1.7 -.3zM537.3 422.9l3.3 .7l.9 -.9l-3.3 -.7zM548.8 425.2l1.7 .3l.9 -.9l-1.7 -.3zM538.2 422l4.9 1l.9 -.9l-4.9 -1zM546.4 423.6l1.6 .3l.9 -.9l-1.6 -.3zM537.5 420.8l8.2 1.6l.9 -.9l-8.1 -1.6zM538.4 419.9l6.5 1.3l.9 -.9l-6.5 -1.3zM539.2 419l3.2 .6l.9 -.9l-3.2 -.6zM538.5 417.9l3.2 .6l.9 -.9l-3.2 -.6z"/><path fill="#0a0a8c" stroke="#0a0a8c" stroke-width=".4" d="M513 455.4l1.8 .4l1.1 -1.1l-1.8 -.4zM518.4 456.6l1.8 .4l1 -1.1l-1.8 -.4zM512.3 453.9l1.8 .4l1 -1.1l-1.8 -.4zM521.2 456l1.8 .4l1 -1.1l-1.8 -.4zM512.7 451.4l1.8 .4l1 -1l-1.7 -.4zM516.5 449.7l1.7 .4l1 -1l-1.7 -.4zM525.3 451.7l1.8 .4l1 -1l-1.8 -.4zM521 449.5l3.5 .8l1 -1l-3.5 -.8zM540.3 427.8l1.7 .3l.9 -.9l-1.7 -.3zM548.7 429.5l1.7 .3l.9 -.9l-1.7 -.3zM549.6 428.6l1.7 .3l.9 -.9l-1.7 -.3zM538.8 425.3l1.6 .3l.9 -.9l-1.6 -.3zM539.7 424.4l1.6 .3l.9 -.9l-1.6 -.3zM540.6 423.5l3.3 .7l.9 -.9l-3.3 -.7zM547.2 424.9l1.7 .3l.9 -.9l-1.7 -.3zM543.1 423l3.3 .7l.9 -.9l-3.3 -.7z"/><path fill="#0f0c89" stroke="#0f0c89" stroke-width=".4" d="M514.8 455.8l3.6 .8l1 -1.1l-3.6 -.8zM519.4 455.5l1.8 .4l1 -1.1l-1.8 -.4zM513.4 452.9l1.8 .4l1 -1.1l-1.8 -.4zM522.2 454.9l1.8 .4l1 -1.1l-1.8 -.4zM514.4 451.8l1.8 .4l1 -1l-1.8 -.4zM523.3 453.8l1.8 .4l1 -1.1l-1.8 -.4zM515.5 450.8l1.8 .4l1 -1l-1.7 -.4zM524.3 452.8l1.8 .4l1 -1.1l-1.8 -.4zM518.3 450.1l7 1.6l1 -1l-7 -1.6zM542 428.1l6.7 1.4l.9 -.9l-6.7 -1.4zM539.6 426.5l1.7 .3l.9 -.9l-1.7 -.3zM547.9 428.2l1.7 .3l.9 -.9l-1.7 -.3zM540.5 425.6l1.7 .3l.9 -.9l-1.6 -.3zM548.8 427.3l1.7 .3l.9 -.9l-1.7 -.3zM541.3 424.7l1.6 .3l.9 -.9l-1.6 -.3zM548 426.1l1.7 .3l.9 -.9l-1.7 -.3zM543.9 424.2l3.3 .7l.9 -.9l-3.3 -.7z"/><path fill="#140d85" stroke="#140d85" stroke-width=".4" d="M514.1 454.3l5.3 1.2l1 -1.1l-5.3 -1.2zM520.5 454.5l1.8 .4l1 -1.1l-1.8 -.4zM517.2 451.2l1.8 .4l1 -1l-1.8 -.4zM522.5 452.4l1.8 .4l1 -1.1l-1.8 -.4zM541.2 426.9l6.7 1.4l.9 -.9l-6.6 -1.4zM542.1 426l1.7 .3l.9 -.9l-1.7 -.3zM547.1 427l1.7 .3l.9 -.9l-1.7 -.3zM543 425.1l5 1l.9 -.9l-5 -1z"/><path fill="#190f82" stroke="#190f82" stroke-width=".4" d="M515.2 453.3l1.8 .4l1 -1.1l-1.8 -.4zM518.7 454.1l1.8 .4l1 -1.1l-1.8 -.4zM516.2 452.2l1.8 .4l1 -1.1l-1.8 -.4zM521.5 453.4l1.8 .4l1 -1.1l-1.8 -.4zM519 451.6l3.5 .8l1 -1l-3.5 -.8zM543.8 426.3l3.3 .7l.9 -.9l-3.3 -.7z"/><path fill="#1f1181" stroke="#1f1181" stroke-width=".4" d="M516.9 453.7l1.8 .4l1 -1.1l-1.8 -.4zM518 452.6l3.5 .8l1 -1.1l-3.5 -.8z"/><g stroke-width="1.0" stroke-linejoin="round"><path fill="#ff690a" stroke="#ff690a" d="M493 305.3l28.6 3.7l-.9 .6l-28.7 -3.8z"/><path transform="matrix(1 0 0 0.1085 0 294.3)" fill="url(#gD)" stroke="url(#gD)" d="M521.7 136l1.6 52l-.9 -1l-1.6 -46zM523.3 188l1.6 60l-.9 -8l-1.6 -53zM527.2 254l1.6 -49l.9 2l-1.6 55z"/><path transform="matrix(1 0 0 0.1090 0 295.3)" fill="url(#gD)" stroke="url(#gD)" d="M528.9 195l1.7 -49l.9 -5l-1.7 55z"/><path fill="#ff690a" stroke="#ff690a" d="M531.5 310.6l86.8 11l-.7 .6l-87 -11.1zM492 305.8l28.7 3.8l-.9 .6l-28.8 -3.8z"/><path transform="matrix(1 0 0 0.1088 0 294.8)" fill="url(#gD)" stroke="url(#gD)" d="M520.7 136l1.6 46l-.9 0l-1.6 -41zM522.4 182l1.6 53l-.9 -7l-1.6 -46z"/><path transform="matrix(1 0 0 0.1092 0 295.8)" fill="url(#gD)" stroke="url(#gD)" d="M527.9 187l1.7 -42l.9 -5l-1.7 49z"/><path fill="#ff690a" stroke="#ff690a" d="M530.5 311.2l87 11.1l-.7 .6l-87.2 -11.2zM491 306.4l28.8 3.8l-1 .6l-28.8 -3.8z"/><path transform="matrix(1 0 0 0.1090 0 295.4)" fill="url(#gD)" stroke="url(#gD)" d="M519.8 136l1.6 40l-.9 0l-1.6 -35zM521.4 176l1.6 46l-.9 -7l-1.6 -39zM523.7 254l1.6 -28l.9 8l-1.6 34z"/><path transform="matrix(1 0 0 0.1095 0 296.4)" fill="url(#gD)" stroke="url(#gD)" d="M527 180l1.7 -35l.9 -5l-1.7 42z"/><path fill="#ff690a" stroke="#ff690a" d="M529.6 311.7l87.2 11.2l-.7 .6l-87.4 -11.3zM490 306.9l28.8 3.8l-1 .6l-28.9 -3.8z"/><path transform="matrix(1 0 0 0.1093 0 295.9)" fill="url(#gD)" stroke="url(#gD)" d="M518.8 136l1.6 34l-1 0l-1.6 -29zM520.5 170l1.6 39l-.9 -7l-1.6 -32z"/><path fill="#ff690a" stroke="#ff690a" d="M528.7 312.2l87.4 11.3l-.7 .7l-87.6 -11.4zM489 307.5l28.9 3.8l-1 .6l-28.9 -3.8z"/><path transform="matrix(1 0 0 0.1095 0 296.5)" fill="url(#gD)" stroke="url(#gD)" d="M517.9 136l1.6 28l-1 0l-1.7 -23zM519.5 164l1.6 33l-1 -8l-1.6 -25zM521.8 215l1.6 -18l.9 9l-1.6 23z"/><path transform="matrix(1 0 0 0.1100 0 297.5)" fill="url(#gD)" stroke="url(#gD)" d="M525.1 166l1.7 -22l.9 -5l-1.7 29z"/><path fill="#ff690a" stroke="#ff690a" d="M527.7 312.8l87.6 11.4l-.7 .7l-87.8 -11.5zM488 308.1l28.9 3.8l-1 .6l-29 -3.9z"/><path transform="matrix(1 0 0 0.1097 0 297)" fill="url(#gD)" stroke="url(#gD)" d="M516.9 136l1.7 22l-1 0l-1.7 -17zM518.6 158l1.6 26l-1 -8l-1.7 -18z"/><path transform="matrix(1 0 0 0.1102 0 298)" fill="url(#gD)" stroke="url(#gD)" d="M524.2 159l1.7 -15l.9 -5l-1.7 21z"/><path fill="#ff690a" stroke="#ff690a" d="M526.8 313.3l87.8 11.5l-.7 .7l-88 -11.6zM486.9 308.6l29 3.9l-1 .6l-29.1 -3.9z"/><path fill="#ff770c" stroke="#ff770c" d="M515.9 312.5l1.7 1.8l-1 -.1l-1.7 -1.2z"/><path transform="matrix(1 0 0 0.1101 0 297.8)" fill="url(#gD)" stroke="url(#gD)" d="M517.6 150l1.7 19l-1 -8l-1.7 -11zM523.2 159l1.7 -7l1 -5l-1.7 14z"/><path fill="#ff690a" stroke="#ff690a" d="M525.9 313.9l88 11.6l-.7 .7l-88.2 -11.7zM485.9 309.2l29.1 3.9l-1 .6l-29.1 -3.9z"/><path fill="#ff770c" stroke="#ff770c" d="M515 313.1l3.3 2.4l-1 -.8l-3.3 -1z"/><path transform="matrix(1 0 0 0.1106 0 298.9)" fill="url(#gD)" stroke="url(#gD)" d="M520.6 147l1.7 -1l1 2l-1.7 8z"/><path fill="#ff770c" stroke="#ff770c" d="M522.3 315.1l1.7 -.1l1 -.6l-1.7 .8z"/><path fill="#ff690a" stroke="#ff690a" d="M524.9 314.5l11.8 1.5l-.9 .6l-11.8 -1.6z"/><path transform="matrix(1 0 0 0.1115 0 300.8)" fill="url(#gD)" stroke="url(#gD)" d="M536.7 136l1.7 2l-1.1 116l-1.6 -113zM538.4 138l1.7 2l-1.1 128l-1.7 -14zM540.1 140l1.7 2l-1.2 218l-1.6 -92zM541.8 142l1.7 2l-1.2 160l-1.8 56z"/><path transform="matrix(1 0 0 0.1119 0 301.7)" fill="url(#gD)" stroke="url(#gD)" d="M543.5 136l1.7 2l-1.1 133l-1.7 24zM545.2 138l1.7 2l-1.1 100l-1.8 31zM546.9 140l1.7 2l-1 59l-1.8 39zM548.6 142l1.7 2l-.9 14l-1.8 43z"/><path fill="#ff690a" stroke="#ff690a" d="M550.3 317.8l62.8 8.4l-.7 .7l-63 -7.5zM484.8 309.8l32.4 4.9l-1 0l-32.5 -4.4zM520.6 315.2l13.4 1.2l-.9 .6l-13.5 -1.8z"/><path transform="matrix(1 0 0 0.1116 0 301.2)" fill="url(#gD)" stroke="url(#gD)" d="M534 136l1.7 2l-1 23l-1.7 -20zM535.7 138l1.6 113l-1 65l-1.5 -155zM537.3 251l1.7 13l-1.1 166l-1.5 -114zM539 264l1.6 92l-1.1 122l-1.6 -48z"/><path transform="matrix(1 0 0 0.1120 0 302.1)" fill="url(#gD)" stroke="url(#gD)" d="M540.6 347l1.8 -56l-1.2 219l-1.6 -41zM542.3 291l1.7 -23l-1.3 227l-1.7 15zM544.1 268l1.8 -31l-1.3 244l-1.7 14zM545.8 237l1.8 -40l-1.4 244l-1.8 40z"/><path transform="matrix(1 0 0 0.1124 0 302.9)" fill="url(#gD)" stroke="url(#gD)" d="M547.6 189l1.8 -43l-1.4 257l-1.8 29zM549.4 146l1.7 -6l-1.4 214l-1.8 49zM551.2 140l1.7 2l-1.2 146l-1.9 66zM552.9 142l1.7 2l-1 44l-2 100z"/><path transform="matrix(1 0 0 0.1128 0 303.8)" fill="url(#gD)" stroke="url(#gD)" d="M554.6 136l1.7 2l-.9 6l-1.8 35z"/><path fill="#ff690a" stroke="#ff690a" d="M556.4 319.4l56 7.5l-.7 .7l-56.1 -7.6zM483.8 310.3l49.3 6.6l-.9 .6l-49.4 -6.7z"/><path transform="matrix(1 0 0 0.1119 0 301.8)" fill="url(#gD)" stroke="url(#gD)" d="M533.1 136l1.7 20l-1 30l-1.7 -45zM534.8 156l1.5 154l-.9 17l-1.6 -141zM536.3 310l1.5 114l-1 49l-1.5 -146zM537.9 424l1.6 48l-1 107l-1.5 -106z"/><path transform="matrix(1 0 0 0.1130 0 304.2)" fill="url(#gD)" stroke="url(#gD)" d="M551.7 275l2 -99l-1.3 180l-2 114zM553.7 176l1.8 -36l-1.1 83l-2.1 133zM555.5 140l1.7 2l-.9 6l-2 75z"/><path fill="#ff690a" stroke="#ff690a" d="M557.3 320.2l54.4 7.3l-.8 .7l-54.5 -7.4zM482.7 310.9l49.4 6.7l-1 .6l-49.5 -6.7z"/><path transform="matrix(1 0 0 0.1121 0 302.3)" fill="url(#gD)" stroke="url(#gD)" d="M532.2 136l1.7 44l-1 25l-1.7 -64zM533.8 180l1.6 141l-.9 18l-1.6 -134zM535.4 321l1.5 145l-.9 8l-1.5 -135z"/><path transform="matrix(1 0 0 0.1133 0 305)" fill="url(#gD)" stroke="url(#gD)" d="M552.3 348l2.1 -133l-1.4 202l-1.9 93zM554.4 215l2 -75l-1.3 140l-2.1 137zM556.4 140l1.8 2l-1 32l-2 106zM558.1 142l1.8 2l-.9 6l-1.8 24z"/><path fill="#ff690a" stroke="#ff690a" d="M559.9 321.3l51 6.9l-.8 .7l-51.1 -6.9zM481.7 311.5l49.5 6.7l-1 .6l-49.6 -6.8z"/><path transform="matrix(1 0 0 0.1124 0 302.9)" fill="url(#gD)" stroke="url(#gD)" d="M531.2 136l1.7 63l-.9 8l-1.7 -66zM532.9 199l1.6 134l-.9 24l-1.6 -150zM534.5 333l1.5 134l-.9 26l-1.6 -136z"/><path transform="matrix(1 0 0 0.1138 0 306)" fill="url(#gD)" stroke="url(#gD)" d="M555.1 270l2 -105l-1.4 191l-2 105zM557.2 165l1.8 -25l-1.2 102l-2.1 114zM559 140l1.8 2l-.9 6l-2.1 94z"/><path fill="#ff690a" stroke="#ff690a" d="M560.8 322.2l49.4 6.7l-.8 .7l-49.5 -6.7zM480.6 312.1l49.6 6.8l-1 .6l-49.7 -6.8z"/><path transform="matrix(1 0 0 0.1126 0 303.5)" fill="url(#gD)" stroke="url(#gD)" d="M530.3 136l1.7 65l-.9 -36l-1.7 -24zM531.9 201l1.6 150l-.9 -41l-1.6 -145zM533.5 351l1.6 136l-.9 -64l-1.6 -113zM535.1 487l1.5 111l-.9 -45l-1.6 -130z"/><path transform="matrix(1 0 0 0.1142 0 307.1)" fill="url(#gD)" stroke="url(#gD)" d="M557.8 232l2.1 -94l-1.4 162l-2.1 126zM559.9 138l1.8 2l-1.1 65l-2.1 95zM561.7 140l1.8 2l-.9 6l-2 57z"/><path fill="#ff690a" stroke="#ff690a" d="M563.4 323.3l45.9 6.2l-.8 .7l-46 -6.3zM479.5 312.7l49.7 6.8l-1 .6l-49.9 -6.8z"/><path transform="matrix(1 0 0 0.1129 0 304.1)" fill="url(#gD)" stroke="url(#gD)" d="M529.3 136l1.7 23l-1 -15l-1.7 -3zM531 159l1.6 146l-.9 -75l-1.7 -86zM532.6 305l1.6 112l-.9 -39l-1.6 -148zM534.2 417l1.6 130l-.9 -36l-1.6 -133z"/><path transform="matrix(1 0 0 0.1146 0 307.9)" fill="url(#gD)" stroke="url(#gD)" d="M558.5 291l2.1 -94l-1.5 188l-2.1 106zM560.6 197l2 -57l-1.2 93l-2.3 152zM562.6 140l1.8 2l-.9 6l-2.1 85z"/><path fill="#ff690a" stroke="#ff690a" d="M564.3 324.2l44.2 6l-.8 .7l-44.4 -6.1zM478.5 313.2l51.6 7.1l-1 .6l-51.7 -7.1z"/><path transform="matrix(1 0 0 0.1133 0 304.9)" fill="url(#gD)" stroke="url(#gD)" d="M530 136l1.7 86l-.9 -30l-1.7 -51zM531.7 222l1.6 147l-.9 -39l-1.6 -138zM533.3 369l1.6 133l-.9 -37l-1.6 -135z"/><path transform="matrix(1 0 0 0.1151 0 309)" fill="url(#gD)" stroke="url(#gD)" d="M561.4 223l2.1 -85l-1.3 117l-2.2 130zM563.5 138l1.8 2l-.9 6l-2.2 109z"/><path fill="#ff690a" stroke="#ff690a" d="M565.3 325.1l42.6 5.8l-.8 .7l-42.7 -5.9zM477.4 313.8l51.7 7.1l-1 .6l-51.8 -7.2z"/><path transform="matrix(1 0 0 0.1135 0 305.5)" fill="url(#gD)" stroke="url(#gD)" d="M528.1 141l1.7 3l.9 43l-1.7 -51zM530.8 187l1.6 137l-.9 -69l-1.7 -111zM532.4 324l1.6 135l-.9 -60l-1.6 -144zM534 459l1.6 134l-.9 -34l-1.6 -160z"/><path transform="matrix(1 0 0 0.1155 0 309.9)" fill="url(#gD)" stroke="url(#gD)" d="M562.2 247l2.2 -109l-1.4 153l-2.2 129zM564.4 138l1.8 2l-1 33l-2.2 118zM566.2 140l1.8 2l-.9 6l-1.9 25z"/><path fill="#ff690a" stroke="#ff690a" d="M568 326.3l39 5.4l-.8 .7l-39.1 -5.4zM476.3 314.4l53.5 7.4l-1 .6l-53.7 -7.4z"/><path transform="matrix(1 0 0 0.1139 0 306.3)" fill="url(#gD)" stroke="url(#gD)" d="M529.8 136l1.7 111l-.9 -26l-1.7 -79zM531.5 247l1.6 144l-.9 -34l-1.6 -136zM533.1 391l1.6 159l-.9 -33l-1.6 -160z"/><path transform="matrix(1 0 0 0.1158 0 310.7)" fill="url(#gD)" stroke="url(#gD)" d="M563 283l2.2 -118l-1.5 183l-2.2 117zM565.2 165l1.9 -25l-1.1 72l-2.3 136zM567.1 140l1.8 2l-.9 6l-2.1 64z"/><path fill="#ff690a" stroke="#ff690a" d="M568.9 327.2l37.3 5.2l-.8 .7l-37.4 -5.2zM475.2 315l28 3.9l-1 .6l-28.1 -3.9z"/><path transform="matrix(1 0 0 0.1127 0 303.6)" fill="url(#gD)" stroke="url(#gD)" d="M503.2 136l1.7 2l-1 25l-1.7 -22zM504.9 138l1.7 2l-1 58l-1.7 -35zM506.6 140l1.7 2l-1 49l-1.7 7zM508.3 142l1.7 2l-1 22l-1.7 25z"/><path fill="#ff770c" stroke="#ff770c" d="M510 319.8l1.7 .2l-1 .6l-1.7 1.5z"/><path fill="#ff690a" stroke="#ff690a" d="M511.7 320.1l15.4 2.1l-1 .6l-15.5 -2.2z"/><path transform="matrix(1 0 0 0.1141 0 306.7)" fill="url(#gD)" stroke="url(#gD)" d="M527.1 136l1.7 2l-1 60l-1.7 -56zM528.9 138l1.7 80l-1 44l-1.7 -64zM530.6 218l1.6 135l-1 4l-1.7 -95zM532.2 353l1.6 160l-.9 -49l-1.6 -107z"/><path transform="matrix(1 0 0 0.1148 0 308.3)" fill="url(#gD)" stroke="url(#gD)" d="M537.7 677l1.6 49l.9 28l-1.6 -47z"/><path transform="matrix(1 0 0 0.1162 0 311.6)" fill="url(#gD)" stroke="url(#gD)" d="M563.7 340l2.3 -136l-1.4 157l-2.2 111zM566 204l2.1 -64l-1.1 71l-2.4 150zM568.1 140l1.8 2l-.9 6l-2.1 63z"/><path fill="#ff690a" stroke="#ff690a" d="M569.9 328.1l35.6 4.9l-.8 .7l-35.7 -5zM474.1 315.6l24.7 3.4l-1.1 .6l-24.8 -3.5z"/><path transform="matrix(1 0 0 0.1127 0 303.8)" fill="url(#gD)" stroke="url(#gD)" d="M498.8 136l1.7 2l-1 28l-1.7 -25zM500.5 138l1.7 2l-.9 57l-1.7 -31zM502.2 140l1.7 22l-.9 65l-1.7 -30zM503.9 162l1.7 35l-1 50l-1.7 -20z"/><path transform="matrix(1 0 0 0.1131 0 304.6)" fill="url(#gD)" stroke="url(#gD)" d="M505.6 188l1.7 -7l-1 57l-1.7 1zM507.3 181l1.7 -25l-.9 67l-1.7 15zM509 156l1.7 -14l-1 59l-1.7 22zM510.7 142l1.7 2l-1 37l-1.7 20z"/><path transform="matrix(1 0 0 0.1135 0 305.5)" fill="url(#gD)" stroke="url(#gD)" d="M512.4 136l1.7 2l-1 12l-1.7 23z"/><path fill="#ff690a" stroke="#ff690a" d="M514.1 321.2l8.6 1.2l-1 .6l-8.6 -.5z"/><path transform="matrix(1 0 0 0.1141 0 306.9)" fill="url(#gD)" stroke="url(#gD)" d="M522.7 136l1.7 2l-1 66l-1.7 -62zM524.4 138l1.7 2l-1 172l-1.7 -108zM526.1 140l1.7 57l-1 180l-1.7 -65zM527.9 197l1.7 63l-1.1 208l-1.7 -91z"/><path transform="matrix(1 0 0 0.1145 0 307.8)" fill="url(#gD)" stroke="url(#gD)" d="M529.6 251l1.7 95l-1.1 179l-1.7 -67zM531.2 346l1.6 106l-1 146l-1.6 -73z"/><path transform="matrix(1 0 0 0.1151 0 309.2)" fill="url(#gD)" stroke="url(#gD)" d="M538.5 683l1.6 59l.8 30l-1.6 -55zM540.9 772l1.7 5l-.9 13l-1.6 -48z"/><path transform="matrix(1 0 0 0.1166 0 312.5)" fill="url(#gD)" stroke="url(#gD)" d="M564.5 352l2.4 -150l-1.5 179l-2.2 115zM566.9 202l2.1 -62l-1.3 113l-2.3 128zM569 140l1.8 3l-.9 5l-2.3 105z"/><path fill="#ff690a" stroke="#ff690a" d="M570.8 329.1l33.8 4.7l-.8 .7l-33.9 -4.7zM473 316.2l18.1 2.5l-1.1 .6l-18.1 -2.5z"/><path transform="matrix(1 0 0 0.1126 0 303.5)" fill="url(#gD)" stroke="url(#gD)" d="M491.1 136l1.7 2l-.8 106l-1.9 -103zM492.8 138l1.7 2l-.9 54l-1.5 50zM494.4 140l1.7 2l-1 28l-1.6 24zM496.1 142l1.7 2l-.9 57l-1.7 -31z"/><path transform="matrix(1 0 0 0.1130 0 304.3)" fill="url(#gD)" stroke="url(#gD)" d="M497.8 136l1.7 24l-.9 61l-1.7 -28zM499.5 160l1.7 31l-.9 54l-1.7 -24zM501.2 191l1.7 30l-1 42l-1.7 -18zM503 221l1.7 21l-1 42l-1.7 -21z"/><path transform="matrix(1 0 0 0.1134 0 305.2)" fill="url(#gD)" stroke="url(#gD)" d="M504.7 233l1.7 0l-1 42l-1.7 0zM506.4 233l1.7 -16l-1 40l-1.7 18zM508 217l1.7 -22l-1 50l-1.7 12zM509.7 195l1.7 -19l-1 57l-1.7 12z"/><path transform="matrix(1 0 0 0.1138 0 306.1)" fill="url(#gD)" stroke="url(#gD)" d="M511.4 167l1.7 -23l-1 57l-1.7 24zM513.1 144l1.7 -4l-1 34l-1.7 27zM514.8 140l1.7 2l-1 6l-1.7 26z"/><path fill="#ff690a" stroke="#ff690a" d="M516.5 322.3l1.7 .2l-1 .6l-1.7 -.2z"/><path transform="matrix(1 0 0 0.1142 0 307)" fill="url(#gD)" stroke="url(#gD)" d="M518.2 136l1.7 2l-1 67l-1.8 -63zM519.9 138l1.7 2l-1 174l-1.8 -109zM521.7 140l1.7 63l-1 176l-1.7 -65zM523.4 203l1.7 108l-1 161l-1.7 -93z"/><path transform="matrix(1 0 0 0.1146 0 307.9)" fill="url(#gD)" stroke="url(#gD)" d="M525.1 301l1.7 66l-1 164l-1.7 -69zM526.8 367l1.7 90l-1 134l-1.7 -60z"/><path transform="matrix(1 0 0 0.1155 0 310)" fill="url(#gD)" stroke="url(#gD)" d="M539.2 699l1.6 52l.8 29l-1.6 -48zM541.7 780l1.7 6l-.9 10l-1.6 -45z"/><path transform="matrix(1 0 0 0.1170 0 313.4)" fill="url(#gD)" stroke="url(#gD)" d="M565.4 372l2.3 -128l-1.4 135l-2.2 108zM567.7 244l2.3 -104l-1.2 93l-2.4 146zM570 140l1.8 3l-.9 5l-2.2 85z"/><path fill="#ff690a" stroke="#ff690a" d="M571.8 330l32.1 4.5l-.8 .7l-32.2 -4.5zM471.9 316.8l16.5 2.3l-1.1 .6l-16.5 -2.3z"/><path transform="matrix(1 0 0 0.1127 0 303.8)" fill="url(#gD)" stroke="url(#gD)" d="M488.3 136l1.7 2l-.9 77l-1.9 -74zM490 138l1.9 103l-.9 65l-1.9 -91zM493.5 190l1.6 -24l-.9 65l-1.7 -18zM495.1 166l1.7 31l-1 52l-1.7 -18z"/><path transform="matrix(1 0 0 0.1132 0 304.9)" fill="url(#gD)" stroke="url(#gD)" d="M496.8 187l1.7 28l-1 45l-1.7 -21zM498.6 215l1.7 25l-1 40l-1.7 -20zM500.3 240l1.7 17l-1 28l-1.7 -5zM502 257l1.7 21l-1 9l-1.7 -2z"/><path fill="#ffc901" stroke="#ffc901" d="M503.7 336.5l1.7 -.1l-1 1.1l-1.7 -0z"/><path transform="matrix(1 0 0 0.1137 0 306.1)" fill="url(#gD)" stroke="url(#gD)" d="M505.4 267l1.7 -18l-1 27l-1.7 0zM507 249l1.7 -12l-1 38l-1.7 1zM508.7 237l1.7 -12l-1 38l-1.7 12zM510.4 225l1.7 -23l-1 45l-1.7 16z"/><path transform="matrix(1 0 0 0.1141 0 307)" fill="url(#gD)" stroke="url(#gD)" d="M512.1 194l1.7 -28l-1 53l-1.7 20zM513.8 166l1.7 -26l-1 53l-1.7 26zM515.5 140l1.7 2l-1 29l-1.7 22zM517.2 142l1.8 64l-1 65l-1.8 -100z"/><path transform="matrix(1 0 0 0.1145 0 307.9)" fill="url(#gD)" stroke="url(#gD)" d="M518.9 197l1.8 109l-1 107l-1.8 -151zM520.7 306l1.7 64l-1 155l-1.7 -112zM522.4 370l1.7 93l-1 135l-1.7 -73z"/><path transform="matrix(1 0 0 0.1157 0 310.4)" fill="url(#gD)" stroke="url(#gD)" d="M537.6 634l1.6 61l-.9 -34l-1.7 -21zM538.4 661l1.7 35l.8 51l-1.6 -52zM540 696l1.7 34l.8 61l-1.6 -44zM541.7 730l1.7 26l.8 40l-1.7 -5z"/><path transform="matrix(1 0 0 0.1161 0 311.4)" fill="url(#gD)" stroke="url(#gD)" d="M543.3 746l1.6 34l.9 8l-1.7 -3zM545 780l1.7 8l.9 -1l-1.7 1zM549.3 784l1.8 -39l-1 41l-1.7 1z"/><path transform="matrix(1 0 0 0.1173 0 314.2)" fill="url(#gD)" stroke="url(#gD)" d="M566.3 370l2.4 -146l-1.4 124l-2.3 120zM568.7 224l2.2 -84l-1.1 62l-2.4 146zM570.9 140l1.9 3l-.9 6l-2.1 53z"/><path fill="#ff690a" stroke="#ff690a" d="M572.8 331l30.3 4.2l-.8 .7l-30.4 -4.3zM470.8 317.5l14.8 2.1l-1.1 .6l-14.9 -2.1z"/><path transform="matrix(1 0 0 0.1129 0 304.2)" fill="url(#gD)" stroke="url(#gD)" d="M485.6 136l1.7 2l-.9 74l-1.9 -71zM487.3 138l1.9 74l-.8 91l-1.9 -91zM489.1 212l1.9 90l-1.1 5l-1.7 -4zM492.5 210l1.7 18l-1 42l-1.7 -21z"/><path transform="matrix(1 0 0 0.1134 0 305.3)" fill="url(#gD)" stroke="url(#gD)" d="M494.2 217l1.7 18l-1 45l-1.7 -21zM495.9 235l1.7 21l-1 30l-1.7 -6zM497.6 256l1.7 20l-1 11l-1.7 -1z"/><path fill="#f4d704" stroke="#f4d704" d="M499.3 336.7l3.4 .7l-1 .5l-3.4 -0z"/><path fill="#ffc901" stroke="#ffc901" d="M502.7 337.4l5.1 -.1l-1 .9l-5.1 -.3z"/><path transform="matrix(1 0 0 0.1142 0 307.1)" fill="url(#gD)" stroke="url(#gD)" d="M507.7 265l1.7 -12l-1 24l-1.7 -5zM509.4 253l1.7 -16l-1 42l-1.7 -2zM511.1 237l1.7 -19l-1 46l-1.7 15zM512.8 218l1.7 -26l-1 50l-1.7 22z"/><path transform="matrix(1 0 0 0.1146 0 308)" fill="url(#gD)" stroke="url(#gD)" d="M514.5 183l1.7 -22l-1 56l-1.7 16zM516.2 161l1.8 100l-1 74l-1.8 -118zM518 261l1.8 151l-1 61l-1.8 -138zM519.7 412l1.7 111l-1 48l-1.7 -98z"/><path transform="matrix(1 0 0 0.1160 0 311.3)" fill="url(#gD)" stroke="url(#gD)" d="M537.5 643l1.8 -54l.8 97l-1.7 -35zM539.2 589l1.6 55l.8 76l-1.7 -34zM540.9 644l1.7 29l.8 74l-1.7 -27zM542.6 673l1.7 33l.7 75l-1.6 -34z"/><path transform="matrix(1 0 0 0.1165 0 312.2)" fill="url(#gD)" stroke="url(#gD)" d="M544.2 696l1.7 28l.8 54l-1.7 -8zM545.9 724l1.7 27l.8 26l-1.7 1zM547.6 751l1.7 11l.8 14l-1.7 1zM549.3 762l1.7 3l.9 -25l-1.8 36z"/><path transform="matrix(1 0 0 0.1177 0 315.1)" fill="url(#gD)" stroke="url(#gD)" d="M567.4 339l2.4 -146l-1.4 140l-2.3 122zM569.8 193l2.1 -53l-.9 18l-2.6 175z"/><path fill="#ff770c" stroke="#ff770c" d="M571.9 331.7l1.9 .3l-.9 .7l-1.9 1.1z"/><path fill="#ff690a" stroke="#ff690a" d="M573.8 331.9l28.5 4l-.8 .7l-28.6 -4zM469.6 318.1l13.2 1.9l-1.1 .6l-13.2 -1.9z"/><path transform="matrix(1 0 0 0.1131 0 304.6)" fill="url(#gD)" stroke="url(#gD)" d="M482.8 136l1.7 2l-.9 61l-1.9 -58zM484.5 138l1.9 71l-.8 89l-2 -99zM486.4 209l1.9 90l-1.1 9l-1.7 -10zM488.9 306l1.6 -25l1 -36l-1.5 59z"/><path transform="matrix(1 0 0 0.1136 0 305.7)" fill="url(#gD)" stroke="url(#gD)" d="M491.5 234l1.7 21l-1 27l-1.7 -12zM493.2 255l1.7 22l-1.1 8l-1.7 -3z"/><path fill="#f4d704" stroke="#f4d704" d="M494.9 337.1l5 .8l-1.1 .4l-5 -.2z"/><path fill="#ffc901" stroke="#ffc901" d="M499.9 337.9l10.2 1l-1 .7l-10.2 -1.3z"/><path transform="matrix(1 0 0 0.1147 0 308.2)" fill="url(#gD)" stroke="url(#gD)" d="M510.1 268l1.7 -14l-1 17l-1.7 3zM511.8 254l1.7 -22l-1 35l-1.7 4zM513.5 232l1.7 -17l-1 39l-1.7 13zM515.2 215l1.8 119l-1 29l-1.8 -109z"/><path transform="matrix(1 0 0 0.1151 0 309.1)" fill="url(#gD)" stroke="url(#gD)" d="M517 324l1.8 138l-1 28l-1.8 -136z"/><path transform="matrix(1 0 0 0.1164 0 312.2)" fill="url(#gD)" stroke="url(#gD)" d="M538.3 599l1.9 -89l.7 124l-1.6 -54zM540.2 510l1.7 30l.7 123l-1.7 -29zM541.9 540l1.6 72l.8 84l-1.7 -33zM543.5 612l1.6 53l.8 60l-1.7 -29z"/><path transform="matrix(1 0 0 0.1168 0 313.1)" fill="url(#gD)" stroke="url(#gD)" d="M545.1 654l1.7 24l.8 63l-1.7 -27zM546.8 678l1.7 2l.7 72l-1.7 -11zM548.5 680l1.7 4l.7 71l-1.7 -3zM550.3 684l1.7 3l.8 45l-1.8 23z"/><path transform="matrix(1 0 0 0.1173 0 314.1)" fill="url(#gD)" stroke="url(#gD)" d="M552 676l1.8 -5l.8 10l-1.9 40z"/><path transform="matrix(1 0 0 0.1181 0 316.1)" fill="url(#gD)" stroke="url(#gD)" d="M568.4 324l2.6 -174l-1.4 117l-2.6 184zM571 150l1.9 -10l-.9 6l-2.4 121z"/><path fill="#ff690a" stroke="#ff690a" d="M572.9 332.6l28.6 4l-.8 .7l-28.7 -4.1zM468.5 318.7l8.2 1.2l-1.1 .6l-8.3 -1.2z"/><path transform="matrix(1 0 0 0.1130 0 304.5)" fill="url(#gD)" stroke="url(#gD)" d="M476.7 136l1.7 2l-1 30l-1.8 -27zM478.4 138l1.7 2l-.7 107l-2 -79zM480.1 140l1.7 2l-.5 162l-1.9 -57zM481.7 142l1.9 58l-.7 107l-1.7 -3z"/><path transform="matrix(1 0 0 0.1134 0 305.4)" fill="url(#gD)" stroke="url(#gD)" d="M483.6 191l2 99l-1.1 13l-1.7 -5zM486.2 305l1.6 -29l1.2 22l-1.6 2zM487.7 276l1.7 7l1.1 -10l-1.6 25z"/><path fill="#ffc901" stroke="#ffc901" d="M490.5 336.3l1.7 1.3l-1.1 .3l-1.7 -.5z"/><path fill="#f4d704" stroke="#f4d704" d="M492.2 337.7l5 .7l-1.1 .5l-5 -.9z"/><path fill="#ffc901" stroke="#ffc901" d="M497.2 338.4l15.3 .4l-1 .8l-15.3 -.8z"/><path transform="matrix(1 0 0 0.1151 0 309.3)" fill="url(#gD)" stroke="url(#gD)" d="M512.5 257l1.7 -13l-1 21l-1.7 -1zM514.2 244l1.8 108l-1 31l-1.8 -118zM516 352l1.8 136l-1 29l-1.8 -134z"/><path transform="matrix(1 0 0 0.1168 0 313)" fill="url(#gD)" stroke="url(#gD)" d="M539.2 540l1.9 -113l.8 104l-1.7 -30zM541.1 427l1.7 50l.7 125l-1.6 -71zM542.8 477l1.7 56l.7 122l-1.6 -53zM544.4 533l1.7 16l.6 130l-1.7 -24z"/><path transform="matrix(1 0 0 0.1172 0 314)" fill="url(#gD)" stroke="url(#gD)" d="M546.2 539l1.8 1l.6 131l-1.7 -3zM547.9 540l1.8 1l.6 133l-1.7 -3zM549.7 541l1.8 3l.5 133l-1.7 -3z"/><path transform="matrix(1 0 0 0.1184 0 316.7)" fill="url(#gD)" stroke="url(#gD)" d="M567 445l2.6 -184l-1.4 140l-2.3 106zM569.6 261l2.4 -121l-1.4 115l-2.5 146zM572 140l1.9 3l-.9 6l-2.3 106z"/><path fill="#ff690a" stroke="#ff690a" d="M573.9 333.6l26.8 3.8l-.8 .7l-26.9 -3.8zM467.3 319.3l4.9 .7l-1.1 .6l-5 -.7z"/><path transform="matrix(1 0 0 0.1131 0 304.7)" fill="url(#gD)" stroke="url(#gD)" d="M472.3 136l1.7 2l-.8 89l-2 -86zM473.9 138l1.7 2l-.6 132l-1.8 -45zM475.6 140l1.8 27l-.6 137l-1.8 -32zM477.4 167l2 79l-.9 69l-1.7 -11z"/><path transform="matrix(1 0 0 0.1135 0 305.5)" fill="url(#gD)" stroke="url(#gD)" d="M479.3 237l1.9 56l-1 21l-1.7 -8zM481.2 293l1.7 4l-1 21l-1.7 -4z"/><path fill="#e5e40a" stroke="#e5e40a" d="M482.8 339.2l1.7 .5l-1.1 1.9l-1.6 0z"/><path transform="matrix(1 0 0 0.1139 0 306.4)" fill="url(#gD)" stroke="url(#gD)" d="M485.1 302l1.6 -32l1.1 -4l-1.6 29z"/><path fill="#ffc901" stroke="#ffc901" d="M487.7 336.7l25.5 3.1l-1 1l-25.5 -3.6z"/><path transform="matrix(1 0 0 0.1155 0 310.1)" fill="url(#gD)" stroke="url(#gD)" d="M513.2 257l1.8 117l-1 32l-1.9 -140zM515 374l1.8 134l-1 28l-1.8 -130z"/><path transform="matrix(1 0 0 0.1173 0 314.2)" fill="url(#gD)" stroke="url(#gD)" d="M542 343l1.8 -20l.6 198l-1.7 -55zM543.9 323l1.8 -1l.5 215l-1.7 -16zM545.7 322l1.8 -1l.4 217l-1.8 -1zM547.5 321l1.8 -1l.4 220l-1.8 -2z"/><path transform="matrix(1 0 0 0.1177 0 315.2)" fill="url(#gD)" stroke="url(#gD)" d="M549.3 311l1.8 0l.4 221l-1.8 -2z"/><path transform="matrix(1 0 0 0.1188 0 317.6)" fill="url(#gD)" stroke="url(#gD)" d="M568.2 392l2.5 -146l-1.4 132l-2.3 113zM570.6 246l2.3 -105l-1.3 87l-2.5 150zM573 141l1.9 2l-.9 6l-2.2 79z"/><path fill="#ff690a" stroke="#ff690a" d="M574.9 334.6l25 3.6l-.8 .7l-25 -3.6zM466.2 319.9l3.3 .5l-1.1 .6l-3.3 -.5z"/><path transform="matrix(1 0 0 0.1132 0 305)" fill="url(#gD)" stroke="url(#gD)" d="M469.5 136l1.7 2l-.9 58l-1.9 -55zM471.2 138l2 85l-.8 73l-2.1 -100zM473.2 223l1.8 45l-1 40l-1.7 -12zM475 268l1.8 33l-1.1 19l-1.7 -12z"/><path transform="matrix(1 0 0 0.1136 0 305.9)" fill="url(#gD)" stroke="url(#gD)" d="M476.8 292l1.7 10l-1.1 20l-1.7 -11zM478.5 302l1.7 8l-1.1 20l-1.7 -8z"/><path fill="#e5e40a" stroke="#e5e40a" d="M480.1 341.2l4.9 -.4l-1.1 .8l-4.9 1.9z"/><path fill="#ffc901" stroke="#ffc901" d="M486.6 337.2l23.8 3.5l-1 1.3l-23.9 -4.3z"/><path transform="matrix(1 0 0 0.1157 0 310.5)" fill="url(#gD)" stroke="url(#gD)" d="M510.4 261l1.7 1l-1 59l-1.8 -48zM512.2 262l1.9 140l-1 33l-1.8 -114z"/><path transform="matrix(1 0 0 0.1179 0 315.6)" fill="url(#gD)" stroke="url(#gD)" d="M546.9 142l1.8 2l.6 163l-1.8 1zM548.7 144l1.8 2l.5 161l-1.8 0zM550.6 146l1.8 3l.5 162l-1.8 -4zM552.4 149l1.9 2l.5 165l-1.8 -5z"/><path transform="matrix(1 0 0 0.1183 0 316.6)" fill="url(#gD)" stroke="url(#gD)" d="M554.3 142l1.9 2l.7 68l-2.1 94zM556.1 144l1.9 2l.9 -6l-2.1 72z"/><path fill="#ff690a" stroke="#ff690a" d="M558.9 333.2l1.9 .3l-.9 .7l-1.9 -.3z"/><path transform="matrix(1 0 0 0.1186 0 317.3)" fill="url(#gD)" stroke="url(#gD)" d="M559.9 142l1.8 23l.6 87l-1.5 -116z"/><path transform="matrix(1 0 0 0.1192 0 318.6)" fill="url(#gD)" stroke="url(#gD)" d="M569.2 369l2.5 -150l-1.4 117l-2.4 125zM571.7 219l2.2 -78l-1.1 50l-2.5 145zM574 141l1.9 2l-.9 6l-2.1 42z"/><path fill="#ff690a" stroke="#ff690a" d="M575.9 335.6l23.1 3.3l-.8 .7l-23.2 -3.3zM465 320.6l3.3 .5l-1.2 .6l-3.3 -.5z"/><path transform="matrix(1 0 0 0.1135 0 305.6)" fill="url(#gD)" stroke="url(#gD)" d="M468.4 136l1.9 55l-.9 49l-2.1 -99zM470.3 191l2.1 99l-1.1 6l-1.9 -56z"/><path fill="#f4d704" stroke="#f4d704" d="M472.3 338.5l1.7 1.4l-1.1 1l-1.7 -1.6z"/><path transform="matrix(1 0 0 0.1138 0 306.3)" fill="url(#gD)" stroke="url(#gD)" d="M474 295l1.7 12l-1.1 12l-1.7 -15zM475.7 307l1.7 11l-1.1 17l-1.7 -16z"/><path fill="#e5e40a" stroke="#e5e40a" d="M477.4 342.5l4.9 .2l-1.1 .8l-4.9 1z"/><path transform="matrix(1 0 0 0.1145 0 307.9)" fill="url(#gD)" stroke="url(#gD)" d="M485.5 261l1.7 5l-1.1 5l-1.7 -20z"/><path fill="#ffc901" stroke="#ffc901" d="M487.2 338.4l22.2 3.6l-1 1.1l-22.2 -4.2z"/><path transform="matrix(1 0 0 0.1159 0 311.1)" fill="url(#gD)" stroke="url(#gD)" d="M509.4 266l1.8 49l-1 37l-1.8 -76zM511.2 315l1.8 114l-1 53l-1.9 -130z"/><path fill="#ff770c" stroke="#ff770c" d="M545.1 332.1l1.8 .3l-1 .7l-1.9 1.2z"/><path fill="#ff690a" stroke="#ff690a" d="M546.9 332.3l13 1.8l-.9 .7l-13 -1.9z"/><path transform="matrix(1 0 0 0.1189 0 318)" fill="url(#gD)" stroke="url(#gD)" d="M559.9 136l1.8 23l-.9 -15l-1.9 -2zM561.7 159l1.4 131l-.6 -75l-1.6 -71z"/><path transform="matrix(1 0 0 0.1196 0 319.5)" fill="url(#gD)" stroke="url(#gD)" d="M570.3 327l2.5 -145l-1.3 102l-2.4 129zM572.9 182l2.1 -41l-.9 6l-2.5 137z"/><path fill="#ff690a" stroke="#ff690a" d="M575 336.3l23.2 3.3l-.8 .8l-23.3 -3.3zM463.9 321.2l1.7 .2l-1.2 .6l-1.7 -.2z"/><path transform="matrix(1 0 0 0.1137 0 306)" fill="url(#gD)" stroke="url(#gD)" d="M465.5 136l1.7 2l-1 34l-1.8 -30zM467.2 138l2.1 98l-.9 54l-2.2 -118zM469.3 236l1.9 57l-1.1 8l-1.7 -11z"/><path fill="#f4d704" stroke="#f4d704" d="M471.2 339.3l1.7 1.6l-1.1 1.1l-1.7 -1.7z"/><path transform="matrix(1 0 0 0.1141 0 306.9)" fill="url(#gD)" stroke="url(#gD)" d="M472.9 298l1.7 15l-1.1 11l-1.7 -17zM474.6 313l1.7 16l-1.1 11l-1.7 -16z"/><path fill="#d7f00f" stroke="#d7f00f" d="M476.3 344.5l3.3 .1l-1.1 1.2l-3.3 -.1z"/><path transform="matrix(1 0 0 0.1145 0 307.8)" fill="url(#gD)" stroke="url(#gD)" d="M479.6 321l1.6 -10l-1.1 13l-1.6 8zM481.3 311l1.6 -11l-1.1 13l-1.6 11zM482.9 300l1.5 -48l-1 49l-1.6 12zM484.4 252l1.7 20l-1.1 5l-1.6 24z"/><path fill="#ffc901" stroke="#ffc901" d="M486.1 338.9l22.2 4.2l-1.1 .8l-22.3 -4.3z"/><path transform="matrix(1 0 0 0.1162 0 311.8)" fill="url(#gD)" stroke="url(#gD)" d="M508.3 270l1.8 75l-1 43l-1.9 -112zM510.2 345l1.9 130l-1 44l-1.9 -131z"/><path transform="matrix(1 0 0 0.1183 0 316.6)" fill="url(#gD)" stroke="url(#gD)" d="M544.1 148l1.9 -10l-1 6l-1.9 54z"/><path fill="#ff690a" stroke="#ff690a" d="M545.9 333l11.1 1.6l-.9 .7l-11.2 -1.6z"/><path transform="matrix(1 0 0 0.1191 0 318.4)" fill="url(#gD)" stroke="url(#gD)" d="M557.1 136l1.9 2l-1.1 57l-1.7 -53zM558.9 138l1.9 3l-1.4 140l-1.6 -86zM560.8 141l1.6 70l-1.6 195l-1.4 -125zM562.4 211l1.4 141l-1.5 181l-1.4 -127z"/><path transform="matrix(1 0 0 0.1200 0 320.5)" fill="url(#gD)" stroke="url(#gD)" d="M571.5 275l2.5 -136l-1.4 116l-2.5 138zM574.1 139l1.9 2l-.9 6l-2.4 108z"/><path fill="#ff690a" stroke="#ff690a" d="M576 337.3l21.4 3.1l-.8 .8l-21.4 -3.1zM462.7 321.8l1.7 .2l-1.2 .6l-1.7 -.2z"/><path transform="matrix(1 0 0 0.1139 0 306.6)" fill="url(#gD)" stroke="url(#gD)" d="M464.4 136l1.8 30l-.9 62l-2.1 -86zM466.2 166l2.2 118l-1.1 14l-2 -70z"/><path fill="#f4d704" stroke="#f4d704" d="M468.4 339l1.7 1.2l-1.1 1.4l-1.7 -1z"/><path transform="matrix(1 0 0 0.1142 0 307.3)" fill="url(#gD)" stroke="url(#gD)" d="M470.1 288l1.7 15l-1.1 11l-1.7 -14zM471.8 303l1.7 17l-1.1 11l-1.7 -17zM473.5 320l1.7 16l-1.1 11l-1.7 -16z"/><path fill="#d7f00f" stroke="#d7f00f" d="M475.2 345.7l3.3 .1l-1.1 1.5l-3.3 -.4z"/><path transform="matrix(1 0 0 0.1147 0 308.4)" fill="url(#gD)" stroke="url(#gD)" d="M478.5 326l1.6 -8l-1.1 15l-1.6 5zM480.2 318l1.6 -11l-1.1 18l-1.6 8zM481.8 307l1.6 -12l-1.1 17l-1.6 13z"/><path fill="#ffc901" stroke="#ffc901" d="M485 339.6l22.3 4.3l-1.1 .5l-22.3 -3.8z"/><path transform="matrix(1 0 0 0.1165 0 312.4)" fill="url(#gD)" stroke="url(#gD)" d="M507.3 270l1.9 111l-1 33l-1.9 -140z"/><path fill="#ff690a" stroke="#ff690a" d="M544.9 333.7l9.3 1.3l-1 1.4l-9.3 -2.1z"/><path transform="matrix(1 0 0 0.1193 0 318.8)" fill="url(#gD)" stroke="url(#gD)" d="M554.2 136l1.9 2l-1.2 101l-1.6 -91zM556.1 138l1.7 53l-1.5 179l-1.5 -131zM557.8 191l1.6 86l-1.6 216l-1.5 -123z"/><path transform="matrix(1 0 0 0.1203 0 321.2)" fill="url(#gD)" stroke="url(#gD)" d="M570.2 386l2.5 -137l-1.4 114l-2.4 118zM572.7 249l2.4 -108l-1.2 64l-2.6 158zM575.1 141l1.9 2l-.9 6l-2.2 56z"/><path fill="#ff690a" stroke="#ff690a" d="M577 338.3l19.5 2.8l-.8 .8l-19.5 -2.8z"/><path transform="matrix(1 0 0 0.1141 0 307)" fill="url(#gD)" stroke="url(#gD)" d="M461.5 136l1.7 2l-.9 50l-1.9 -46zM463.2 138l2.1 87l-.8 79l-2.3 -116zM465.3 225l2 69l-1.1 17l-1.7 -7zM467.3 294l1.7 9l-1.1 16l-1.7 -8z"/><path transform="matrix(1 0 0 0.1145 0 307.9)" fill="url(#gD)" stroke="url(#gD)" d="M469 294l1.7 14l-1.1 14l-1.7 -12zM470.7 308l1.7 16l-1.1 13l-1.7 -15zM472.4 324l1.7 17l-1.1 11l-1.7 -15z"/><path fill="#d7f00f" stroke="#d7f00f" d="M474.1 346.9l3.3 .4l-1.1 1.7l-3.3 -.7z"/><path transform="matrix(1 0 0 0.1150 0 309)" fill="url(#gD)" stroke="url(#gD)" d="M477.4 332l1.6 -5l-1.1 19l-1.7 1zM479.1 327l1.6 -8l-1.1 21l-1.6 6zM480.7 319l1.6 -13l-1.1 21l-1.6 13zM482.3 306l1.6 -32l-1 37l-1.6 16z"/><path transform="matrix(1 0 0 0.1154 0 310)" fill="url(#gD)" stroke="url(#gD)" d="M483.9 265l1.7 2l-1.1 7l-1.6 28z"/><path fill="#ffc901" stroke="#ffc901" d="M485.6 340.8l5.1 1.6l-1.1 1l-5.1 -1.8z"/><path fill="#f4d704" stroke="#f4d704" d="M490.7 342.4l3.4 .5l-1.1 1.3l-3.4 -.8z"/><path fill="#ffc901" stroke="#ffc901" d="M494.1 342.9l10.3 1.2l-1.1 .6l-10.4 -.5z"/><path transform="matrix(1 0 0 0.1167 0 312.8)" fill="url(#gD)" stroke="url(#gD)" d="M504.5 268l1.7 2l-1 52l-1.8 -49zM506.2 270l1.9 140l-1 28l-1.9 -116z"/><path fill="#ff690a" stroke="#ff690a" d="M544 334.4l5.6 .8l-1 .7l-5.6 -.6z"/><path transform="matrix(1 0 0 0.1193 0 319)" fill="url(#gD)" stroke="url(#gD)" d="M549.5 136l1.9 2l-1 27l-1.8 -23zM551.4 138l1.9 8l-1.4 174l-1.5 -155zM553.3 146l1.6 91l-1.5 192l-1.6 -109z"/><path transform="matrix(1 0 0 0.1207 0 322.1)" fill="url(#gD)" stroke="url(#gD)" d="M571.3 354l2.6 -158l-1.6 151l-2.7 176zM573.9 196l2.2 -55l-1.2 70l-2.6 136zM576.1 141l1.9 2l-.9 6l-2.2 62z"/><path fill="#ff690a" stroke="#ff690a" d="M578 339.4l17.6 2.6l-.9 .8l-17.7 -2.6z"/><path transform="matrix(1 0 0 0.1144 0 307.6)" fill="url(#gD)" stroke="url(#gD)" d="M460.4 136l1.9 46l-1 31l-2 -71zM462.3 182l2.3 116l-1.1 10l-2.2 -95z"/><path fill="#e5e40a" stroke="#e5e40a" d="M464.5 341.7l3.4 1.7l-1.1 1.6l-3.4 -2.2z"/><path transform="matrix(1 0 0 0.1148 0 308.5)" fill="url(#gD)" stroke="url(#gD)" d="M467.9 304l1.7 12l-1.1 14l-1.7 -12zM469.6 316l1.7 15l-1.1 12l-1.7 -13zM471.3 331l1.7 15l-1.1 11l-1.7 -14z"/><path fill="#d7f00f" stroke="#d7f00f" d="M473 348.2l5 .6l-1.1 1.7l-5 -1.1z"/><path transform="matrix(1 0 0 0.1154 0 309.9)" fill="url(#gD)" stroke="url(#gD)" d="M478 337l1.6 -5l-1.1 17l-1.7 3zM479.7 332l1.6 -14l-1.1 18l-1.6 13zM481.3 318l1.6 -15l-1.1 15l-1.6 18z"/><path fill="#ffc901" stroke="#ffc901" d="M484.5 341.6l5.1 1.8l-1.1 .7l-5.2 -1.9z"/><path fill="#f4d704" stroke="#f4d704" d="M489.6 343.4l5.1 .6l-1.1 1l-5.2 -.9z"/><path fill="#ffc901" stroke="#ffc901" d="M494.8 344l8.6 .7l-1.1 .7l-8.7 -.4z"/><path transform="matrix(1 0 0 0.1169 0 313.5)" fill="url(#gD)" stroke="url(#gD)" d="M503.4 267l1.8 48l-1 28l-1.9 -70zM505.2 315l1.9 116l-1 47l-2 -135z"/><path fill="#ff690a" stroke="#ff690a" d="M543 335.4l5.6 .6l-1 .7l-5.6 -.8z"/><path transform="matrix(1 0 0 0.1196 0 319.7)" fill="url(#gD)" stroke="url(#gD)" d="M548.6 136l1.8 23l-.9 -15l-1.9 -2zM550.4 159l1.5 155l-.8 -43l-1.6 -127z"/><path transform="matrix(1 0 0 0.1211 0 323.1)" fill="url(#gD)" stroke="url(#gD)" d="M572.3 338l2.6 -136l-1.4 111l-2.4 104zM574.9 202l2.2 -61l-1.1 38l-2.6 134zM577.1 141l1.9 2l-.9 6l-2.1 30z"/><path fill="#ff690a" stroke="#ff690a" d="M579.1 340.4l15.7 2.3l-.9 .8l-15.8 -2.3z"/><path transform="matrix(1 0 0 0.1146 0 308.2)" fill="url(#gD)" stroke="url(#gD)" d="M459.2 136l2 71l-1.2 2l-2 -67zM461.2 207l2.2 95l-1.2 5l-2.2 -98z"/><path fill="#e5e40a" stroke="#e5e40a" d="M463.4 342.8l3.4 2.2l-1.1 1l-3.4 -2.6zM466.8 345l1.7 1.3l-1.1 1.1l-1.7 -1.5z"/><path fill="#d7f00f" stroke="#d7f00f" d="M468.5 346.4l3.4 3.1l-1.1 1.2l-3.4 -3.2zM471.9 349.5l1.7 .7l-1.1 1.5l-1.7 -1z"/><path transform="matrix(1 0 0 0.1157 0 310.8)" fill="url(#gD)" stroke="url(#gD)" d="M478.6 340l1.6 -13l-1.1 18l-1.6 12zM480.2 327l1.6 -17l-1.1 17l-1.6 18zM481.8 310l1.5 -39l-1 37l-1.6 19zM483.4 271l1.7 4l-1.1 4l-1.6 29z"/><path fill="#ffc901" stroke="#ffc901" d="M485.1 342.6l3.4 1.5l-1.1 .3l-3.5 -1.4z"/><path fill="#f4d704" stroke="#f4d704" d="M488.5 344.1l6.9 .8l-1.1 .7l-6.9 -1.1z"/><path fill="#ffc901" stroke="#ffc901" d="M495.4 344.8l6.9 .5l-1.1 .7l-7 -.6z"/><path transform="matrix(1 0 0 0.1172 0 314.1)" fill="url(#gD)" stroke="url(#gD)" d="M502.3 267l1.9 70l-1 32l-1.9 -96zM504.2 337l2 134l-1 28l-2 -130z"/><path transform="matrix(1 0 0 0.1194 0 319.1)" fill="url(#gD)" stroke="url(#gD)" d="M538 306l2 -126l-1.2 127l-1.9 47zM540.1 180l1.9 -39l-1 33l-2 133zM542 141l1.9 2l-1 6l-1.9 25z"/><path fill="#ff690a" stroke="#ff690a" d="M543.8 336.1l5.6 .8l-1 .7l-5.6 -.8z"/><path transform="matrix(1 0 0 0.1200 0 320.6)" fill="url(#gD)" stroke="url(#gD)" d="M549.5 136l1.6 126l-.9 -40l-1.7 -80z"/><path transform="matrix(1 0 0 0.1215 0 324.1)" fill="url(#gD)" stroke="url(#gD)" d="M573.5 304l2.6 -134l-1.3 95l-2.5 126zM576.1 170l2.1 -29l-.9 6l-2.5 118z"/><path fill="#ff690a" stroke="#ff690a" d="M578.2 341.2l15.8 2.3l-.9 .8l-15.8 -2.3z"/><path transform="matrix(1 0 0 0.1149 0 308.8)" fill="url(#gD)" stroke="url(#gD)" d="M458 136l2 67l-1.2 0l-2 -61zM460 203l2.2 98l-1.2 3l-2.2 -101z"/><path fill="#e5e40a" stroke="#e5e40a" d="M462.2 343.3l3.4 2.6l-1.1 1.2l-3.5 -3.4zM465.6 346l1.7 1.5l-1.1 1.3l-1.7 -1.6z"/><path transform="matrix(1 0 0 0.1154 0 310)" fill="url(#gD)" stroke="url(#gD)" d="M467.3 325l1.7 13l-1.1 11l-1.7 -13z"/><path transform="matrix(1 0 0 0.1161 0 311.6)" fill="url(#gD)" stroke="url(#gD)" d="M479.1 336l1.6 -17l-1 31l-1.6 13zM480.7 319l1.6 -20l-1 30l-1.6 21zM482.3 299l1.6 -29l-1 37l-1.6 22zM483.9 270l1.7 6l-1.2 -6l-1.6 37z"/><path fill="#ffc901" stroke="#ffc901" d="M489.7 344.4l10.5 1.9l1.1 -.2l-10.4 -.8z"/><path transform="matrix(1 0 0 0.1175 0 314.8)" fill="url(#gD)" stroke="url(#gD)" d="M501.2 267l1.9 95l-1 27l-2 -121z"/><path transform="matrix(1 0 0 0.1198 0 320)" fill="url(#gD)" stroke="url(#gD)" d="M538.9 298l2 -132l-1.3 190l-1.8 2zM540.9 166l1.9 -25l-1.3 158l-1.9 57zM542.8 141l1.9 2l-1 12l-2.1 144z"/><path fill="#ff690a" stroke="#ff690a" d="M544.7 337.2l3.8 .6l-1 .7l-3.8 .1z"/><path transform="matrix(1 0 0 0.1203 0 321.3)" fill="url(#gD)" stroke="url(#gD)" d="M548.5 136l1.7 80l-.9 -29l-1.8 -45zM550.2 216l1.5 154l-.8 -45l-1.5 -138z"/><path transform="matrix(1 0 0 0.1219 0 325.1)" fill="url(#gD)" stroke="url(#gD)" d="M574.7 256l2.5 -118l-1.4 104l-2.6 139zM577.3 138l2 3l-.9 6l-2.4 95z"/><path fill="#ff690a" stroke="#ff690a" d="M579.2 342.2l13.8 2l-.9 .8l-13.9 -2z"/><path transform="matrix(1 0 0 0.1152 0 309.4)" fill="url(#gD)" stroke="url(#gD)" d="M456.8 136l2 61l-1.2 3l-2 -58zM458.8 197l2.2 101l-1.2 6l-2.3 -104zM461 298l1.7 17l-1.2 10l-1.8 -21zM462.7 315l1.7 13l-1.1 13l-1.7 -16z"/><path transform="matrix(1 0 0 0.1156 0 310.4)" fill="url(#gD)" stroke="url(#gD)" d="M464.5 319l1.7 13l-1.1 14l-1.7 -14z"/><path transform="matrix(1 0 0 0.1166 0 312.7)" fill="url(#gD)" stroke="url(#gD)" d="M481.3 318l1.6 -22l-.9 78l-1.7 9zM482.9 296l1.6 -37l-.8 108l-1.7 7zM484.5 259l1.7 0l-.8 97l-1.7 11zM486.2 259l1.7 6l-.9 82l-1.7 9z"/><path transform="matrix(1 0 0 0.1170 0 313.7)" fill="url(#gD)" stroke="url(#gD)" d="M487.9 256l1.7 6l-.9 68l-1.7 7zM489.7 262l1.7 7l-1 53l-1.7 8zM491.4 269l1.7 2l-1.1 8l-1.6 43z"/><path transform="matrix(1 0 0 0.1176 0 314.9)" fill="url(#gD)" stroke="url(#gD)" d="M496.7 266l1.7 2l-1 46l-1.9 -47zM498.4 268l1.7 -1l-1 64l-1.8 -17zM500.1 267l2 120l-1.2 -31l-1.8 -25z"/><path transform="matrix(1 0 0 0.1203 0 321.3)" fill="url(#gD)" stroke="url(#gD)" d="M541.6 288l2.1 -144l-1.3 195l-1.9 9zM543.7 144l1.9 -3l-1.2 112l-2 86zM545.6 141l1.9 2l-1 6l-2.1 104zM546.5 149l1.9 2l.9 36l-1.8 -44z"/><path transform="matrix(1 0 0 0.1207 0 322.3)" fill="url(#gD)" stroke="url(#gD)" d="M549.3 178l1.5 138l-.8 -49l-1.6 -125z"/><path transform="matrix(1 0 0 0.1223 0 326.1)" fill="url(#gD)" stroke="url(#gD)" d="M575.9 233l2.4 -95l-1.3 75l-2.6 135zM578.3 138l2 3l-.9 6l-2.3 66z"/><path fill="#ff690a" stroke="#ff690a" d="M580.3 343.3l11.9 1.8l-.9 .8l-11.9 -1.8z"/><path transform="matrix(1 0 0 0.1154 0 310.1)" fill="url(#gD)" stroke="url(#gD)" d="M455.6 136l2 58l-1.2 7l-2 -59zM457.6 194l2.3 104l-1.2 7l-2.3 -104zM459.8 298l1.8 21l-1.2 10l-1.8 -24zM461.6 319l1.7 16l-1.1 12l-1.8 -18z"/><path transform="matrix(1 0 0 0.1175 0 314.9)" fill="url(#gD)" stroke="url(#gD)" d="M490.4 311l1.6 -43l-.8 114l-1.7 14zM492.1 268l1.7 -24l-.8 126l-1.7 12zM493.7 244l1.8 24l-.8 110l-1.8 -8zM495.5 268l1.9 46l-.9 83l-1.8 -19z"/><path transform="matrix(1 0 0 0.1179 0 315.8)" fill="url(#gD)" stroke="url(#gD)" d="M497.4 305l1.8 17l-.9 85l-1.8 -20zM499.2 322l1.8 25l-.9 84l-1.8 -24z"/><path transform="matrix(1 0 0 0.1208 0 322.5)" fill="url(#gD)" stroke="url(#gD)" d="M544.4 241l2.1 -103l-1.4 206l-1.9 7zM546.5 138l1.9 3l-1.2 114l-2.1 89zM548.4 141l1.6 124l-.9 -38l-2 28zM550 265l1.3 215l-.7 -114l-1.6 -139z"/><path transform="matrix(1 0 0 0.1212 0 323.5)" fill="url(#gD)" stroke="url(#gD)" d="M550.7 356l1.5 138l.6 132l-1.4 -156zM552.2 494l1.6 105l.7 62l-1.7 -35zM553.7 599l1.7 62l.8 39l-1.7 -39zM555.4 661l1.7 42l.8 37l-1.7 -40z"/><path transform="matrix(1 0 0 0.1217 0 324.6)" fill="url(#gD)" stroke="url(#gD)" d="M557.1 691l1.7 37l.8 18l-1.8 -17zM559.6 746l1.8 3l-.9 7l-1.7 -28z"/><path transform="matrix(1 0 0 0.1226 0 326.8)" fill="url(#gD)" stroke="url(#gD)" d="M574.4 341l2.6 -134l-1.5 117l-2.7 155zM577.1 207l2.3 -66l-1 29l-2.8 154zM579.4 141l2 2l-.9 7l-2.1 20z"/><path fill="#ff690a" stroke="#ff690a" d="M581.3 344.3l10 1.5l-.9 .8l-10 -1.5z"/><path transform="matrix(1 0 0 0.1157 0 310.7)" fill="url(#gD)" stroke="url(#gD)" d="M454.3 136l2 59l-1.2 6l-2 -59zM456.4 195l2.3 104l-1.2 7l-2.3 -105zM458.6 299l1.8 24l-1.2 9l-1.8 -26z"/><path transform="matrix(1 0 0 0.1211 0 323.2)" fill="url(#gD)" stroke="url(#gD)" d="M542.4 250l1.7 99l1 -12l-1.9 7zM549.9 265l1.9 14l.4 218l-1.5 -137z"/><path transform="matrix(1 0 0 0.1216 0 324.5)" fill="url(#gD)" stroke="url(#gD)" d="M551.8 267l1.5 145l.4 177l-1.6 -105zM553.3 412l1.5 132l.6 107l-1.7 -62zM554.8 544l1.5 109l.8 39l-1.7 -41zM556.3 653l1.7 33l.7 43l-1.7 -37z"/><path transform="matrix(1 0 0 0.1221 0 325.6)" fill="url(#gD)" stroke="url(#gD)" d="M558.1 674l1.7 36l.8 35l-1.7 -27zM559.8 710l1.7 31l.9 7l-1.8 -3z"/><path transform="matrix(1 0 0 0.1230 0 327.8)" fill="url(#gD)" stroke="url(#gD)" d="M575.6 315l2.8 -154l-1.4 99l-2.8 162zM578.3 161l2.1 -20l-.9 6l-2.6 113z"/><path fill="#ff690a" stroke="#ff690a" d="M580.4 345.1l10 1.5l-.9 .8l-10 -1.5z"/><path transform="matrix(1 0 0 0.1160 0 311.3)" fill="url(#gD)" stroke="url(#gD)" d="M453.1 136l2 59l-1.2 3l-2 -56zM455.1 195l2.3 104l-1.2 5l-2.3 -106z"/><path transform="matrix(1 0 0 0.1215 0 324.2)" fill="url(#gD)" stroke="url(#gD)" d="M543.3 208l1.7 84l.8 65l-1.8 -17zM545.1 292l1.7 67l1 -8l-1.9 6zM551.8 270l1.5 146l-.7 -97l-2 46z"/><path transform="matrix(1 0 0 0.1221 0 325.5)" fill="url(#gD)" stroke="url(#gD)" d="M552.6 306l1.7 57l.4 171l-1.5 -131zM554.4 363l1.4 163l.6 117l-1.5 -109zM555.8 526l1.5 119l.8 30l-1.7 -32zM557.3 645l1.8 27l.8 39l-1.7 -36z"/><path transform="matrix(1 0 0 0.1225 0 326.6)" fill="url(#gD)" stroke="url(#gD)" d="M559 660l1.7 36l.8 35l-1.7 -32zM560.8 696l1.8 28l.8 22l-1.8 -15zM563.3 746l1.9 -17l-1 24l-1.8 -29z"/><path transform="matrix(1 0 0 0.1234 0 328.8)" fill="url(#gD)" stroke="url(#gD)" d="M576.9 250l2.6 -112l-1.4 97l-2.7 141zM579.5 138l2 3l-.9 6l-2.5 88z"/><path fill="#ff690a" stroke="#ff690a" d="M581.5 346.2l8 1.2l-.9 .8l-8 -1.2z"/><path transform="matrix(1 0 0 0.1162 0 312)" fill="url(#gD)" stroke="url(#gD)" d="M451.9 136l2 56l-1.3 2l-2 -52zM453.9 192l2.3 106l-1.2 4l-2.3 -108z"/><path transform="matrix(1 0 0 0.1217 0 324.6)" fill="url(#gD)" stroke="url(#gD)" d="M541.3 307l2.1 -103l-1.1 67l-2.1 103zM542.2 271l2.1 -91l.8 108l-1.7 -84zM544.3 180l1.9 -9l.6 184l-1.7 -67zM546.2 171l1.6 126l.8 70l-1.9 -12z"/><path transform="matrix(1 0 0 0.1221 0 325.7)" fill="url(#gD)" stroke="url(#gD)" d="M547.9 287l1.7 66l1 -2l-1.9 6zM553.4 371l1.9 -6l.5 160l-1.4 -163zM555.3 365l1.5 132l.5 146l-1.5 -118z"/><path transform="matrix(1 0 0 0.1227 0 327.1)" fill="url(#gD)" stroke="url(#gD)" d="M556.8 484l1.5 103l.7 69l-1.8 -28zM558.4 587l1.7 61l.7 43l-1.7 -35zM560 648l1.8 25l.7 47l-1.8 -29zM561.8 673l1.8 27l.7 48l-1.8 -28z"/><path transform="matrix(1 0 0 0.1232 0 328.2)" fill="url(#gD)" stroke="url(#gD)" d="M563.6 688l1.8 24l.9 -2l-2 26zM566.2 710l2 -36l-1 34l-1.9 4z"/><path transform="matrix(1 0 0 0.1239 0 329.9)" fill="url(#gD)" stroke="url(#gD)" d="M578.1 226l2.5 -87l-1.2 56l-2.8 156zM580.6 139l2 2l-.9 6l-2.3 48z"/><path fill="#ff690a" stroke="#ff690a" d="M582.6 347.3l6 .9l-.9 .8l-6.1 -.9z"/><path transform="matrix(1 0 0 0.1165 0 312.6)" fill="url(#gD)" stroke="url(#gD)" d="M450.6 136l2 52l-1.5 -27l-1.8 -19zM452.6 188l2.3 108l-1.4 -25l-2.4 -110z"/><path transform="matrix(1 0 0 0.1221 0 325.6)" fill="url(#gD)" stroke="url(#gD)" d="M542.2 262l2.1 -91l-1.2 89l-2.1 97zM544.3 171l1.9 -9l-1 -10l-2.1 108zM545.2 152l1.9 -3l.7 139l-1.6 -126zM547.2 149l1.9 3l.5 202l-1.7 -66z"/><path transform="matrix(1 0 0 0.1225 0 326.7)" fill="url(#gD)" stroke="url(#gD)" d="M549.1 142l1.9 35l.5 178l-1.9 -11zM551 177l1.6 115l.8 69l-1.9 -6zM552.6 292l1.7 73l1 -9l-1.9 5zM554.3 365l1.9 15l.6 107l-1.5 -131z"/><path transform="matrix(1 0 0 0.1230 0 327.8)" fill="url(#gD)" stroke="url(#gD)" d="M556.2 370l1.9 -3l.2 212l-1.5 -102zM558.1 367l1.7 62l.2 212l-1.7 -62zM559.9 429l1.6 98l.4 138l-1.8 -24zM561.4 527l1.6 83l.6 82l-1.8 -27z"/><path transform="matrix(1 0 0 0.1235 0 328.9)" fill="url(#gD)" stroke="url(#gD)" d="M563 598l1.7 56l.7 51l-1.8 -25zM564.7 654l1.8 20l.8 26l-1.9 5zM566.5 674l1.8 22l1 -30l-2 34z"/><path transform="matrix(1 0 0 0.1243 0 330.9)" fill="url(#gD)" stroke="url(#gD)" d="M579.4 186l2.3 -47l-1.1 38l-2.6 114zM581.7 139l2 2l-.9 6l-2.2 30z"/><path fill="#ff690a" stroke="#ff690a" d="M583.7 348.4l4 .6l-.9 .8l-4.1 -.6z"/><path transform="matrix(1 0 0 0.1168 0 313.2)" fill="url(#gD)" stroke="url(#gD)" d="M449.4 136l1.8 19l-1.4 -11l-1.7 -2zM451.2 155l2.4 110l-1.7 -65l-2.1 -56zM453.6 265l2 55l-1.3 -8l-2.4 -112z"/><path transform="matrix(1 0 0 0.1225 0 326.6)" fill="url(#gD)" stroke="url(#gD)" d="M543.1 251l2.1 -108l-1.2 79l-2.1 111zM545.2 143l1.9 -2l-1 6l-2.1 75z"/><path fill="#ff690a" stroke="#ff690a" d="M547.2 343.9l1.9 .3l-1 .8l-1.9 -.3z"/><path transform="matrix(1 0 0 0.1228 0 327.4)" fill="url(#gD)" stroke="url(#gD)" d="M548.1 142l1.9 3l.9 25l-1.9 -34zM550.1 145l2 2l.6 139l-1.6 -116zM552 147l2 3l.4 208l-1.7 -72zM554 150l1.7 101l.6 123l-1.9 -16z"/><path transform="matrix(1 0 0 0.1233 0 328.5)" fill="url(#gD)" stroke="url(#gD)" d="M555.6 241l1.6 121l1 -2l-1.9 3zM557.2 362l1.9 9l.8 51l-1.7 -62zM559.1 371l1.9 8l.4 140l-1.6 -97zM561 379l1.9 22l.1 201l-1.6 -83z"/><path transform="matrix(1 0 0 0.1238 0 329.7)" fill="url(#gD)" stroke="url(#gD)" d="M562.9 390l1.6 96l.3 160l-1.7 -55zM564.4 486l1.6 75l.5 105l-1.8 -20zM566 561l1.6 82l.7 46l-1.8 -23zM567.6 643l2.2 -64l.5 76l-2.1 34z"/><path transform="matrix(1 0 0 0.1242 0 330.8)" fill="url(#gD)" stroke="url(#gD)" d="M569.8 568l2.3 -71l.7 37l-2.4 109zM572.1 497l1.9 13l1.1 -47l-2.3 71zM578 292l2.6 -115l-1.4 96l-2.8 157zM580.6 177l2.2 -29l-.9 7l-2.7 118z"/><path fill="#ff690a" stroke="#ff690a" d="M582.8 349.2l4.1 .6l-.9 .8l-4.1 -.6zM448.1 329.8l1.7 .3l-1.3 .7l-1.7 -.3z"/><path transform="matrix(1 0 0 0.1172 0 314.1)" fill="url(#gD)" stroke="url(#gD)" d="M449.8 136l2.1 56l-1.6 -48l-1.7 -2zM451.9 192l2.4 111l-1.6 -52l-2.4 -107z"/><path transform="matrix(1 0 0 0.1230 0 327.9)" fill="url(#gD)" stroke="url(#gD)" d="M546.2 136l1.9 2l-1 7l-2 18z"/><path fill="#ff690a" stroke="#ff690a" d="M548.1 344.9l5.9 .9l-1 .8l-5.9 -.9z"/><path transform="matrix(1 0 0 0.1235 0 329)" fill="url(#gD)" stroke="url(#gD)" d="M553 143l2 2l.7 92l-1.7 -101zM554.9 145l2 2l.3 211l-1.6 -121zM556.9 147l1.8 53l.4 166l-1.9 -8zM558.7 200l1.6 110l.7 64l-1.9 -8z"/><path transform="matrix(1 0 0 0.1240 0 330.1)" fill="url(#gD)" stroke="url(#gD)" d="M560.3 299l1.7 64l.8 23l-1.9 -22zM562 363l1.9 8l.5 111l-1.6 -96zM563.9 371l2 -2l.1 188l-1.6 -75zM565.9 369l1.8 38l-.1 231l-1.6 -81z"/><path transform="matrix(1 0 0 0.1244 0 331.3)" fill="url(#gD)" stroke="url(#gD)" d="M567.7 396l2.2 -58l-.1 225l-2.2 64zM570 338l2.2 -41l-0 195l-2.3 71zM572.1 297l1.3 133l.5 75l-1.9 -13zM574 505l2.4 -80l-1.3 80l-1.6 -75z"/><path transform="matrix(1 0 0 0.1250 0 332.7)" fill="url(#gD)" stroke="url(#gD)" d="M579.2 255l2.7 -116l-1.3 81l-2.9 168zM581.9 139l2 2l-.9 7l-2.4 72z"/><path fill="#ff690a" stroke="#ff690a" d="M583.9 350.3l2 .3l-.9 .8l-2 -.3zM446.9 330.5l3.4 .5l-1.3 .7l-3.4 -.5z"/><path transform="matrix(1 0 0 0.1175 0 315)" fill="url(#gD)" stroke="url(#gD)" d="M450.3 136l2.4 107l-1.8 -75l-1.9 -26zM452.7 243l2.1 66l-1.5 -38l-2.4 -103z"/><path transform="matrix(1 0 0 0.1232 0 328.4)" fill="url(#gD)" stroke="url(#gD)" d="M541.8 347l2.2 -128l1.1 -60l-2.2 144z"/><path fill="#ff690a" stroke="#ff690a" d="M547.1 345.7l9.8 1.5l-1 .8l-9.8 -1.5z"/><path transform="matrix(1 0 0 0.1240 0 330.3)" fill="url(#gD)" stroke="url(#gD)" d="M555.9 143l2 2l.8 44l-1.8 -53zM557.9 145l2 2l.4 151l-1.6 -109zM559.9 147l2 3l.2 211l-1.7 -63zM561.8 150l1.8 63l.3 156l-1.9 -8z"/><path transform="matrix(1 0 0 0.1245 0 331.5)" fill="url(#gD)" stroke="url(#gD)" d="M563.6 203l1.6 91l.7 63l-2 2zM565.2 294l1.7 67l.8 33l-1.8 -37zM566.9 361l1.9 11l1.1 -36l-2.2 58zM570.9 366l2.3 -63l.3 125l-1.3 -133z"/><path transform="matrix(1 0 0 0.1251 0 332.9)" fill="url(#gD)" stroke="url(#gD)" d="M573.2 290l1.3 136l.6 63l-1.6 -74zM575.1 489l2.5 -103l-1.3 88l-1.7 -48zM580.5 218l2.4 -72l-1.1 41l-3 167zM583 146l2 2l-.9 7l-2.2 32z"/><path fill="#ff690a" stroke="#ff690a" d="M445.6 331.2l3.4 .5l-1.3 .7l-3.4 -.5z"/><path transform="matrix(1 0 0 0.1178 0 315.7)" fill="url(#gD)" stroke="url(#gD)" d="M449 136l1.9 26l-1.4 -18l-1.7 -2zM450.9 162l2.4 103l-1.7 -67l-2.1 -54zM453.3 265l2 54l-1.4 -13l-2.4 -108z"/><path transform="matrix(1 0 0 0.1232 0 328.3)" fill="url(#gD)" stroke="url(#gD)" d="M534.7 647l1.9 -79l1 -32l-1.9 74zM536.7 568l2 -76l1.1 -61l-2 105zM538.7 492l2.1 -108l1.1 -36l-2 83zM540.7 384l2.1 -128l1.1 -36l-2.2 128z"/><path transform="matrix(1 0 0 0.1236 0 329.4)" fill="url(#gD)" stroke="url(#gD)" d="M542.9 246l2.1 -101l1 -7l-2.1 72z"/><path fill="#ff690a" stroke="#ff690a" d="M546.1 346.5l15.8 2.4l-1 .8l-15.8 -2.4z"/><path transform="matrix(1 0 0 0.1247 0 332)" fill="url(#gD)" stroke="url(#gD)" d="M560.8 143l2 2l.8 54l-1.8 -63zM562.8 145l2 3l.4 142l-1.6 -91zM564.9 148l2 2l.1 207l-1.7 -67zM566.9 150l1.7 82l.3 135l-1.9 -10z"/><path transform="matrix(1 0 0 0.1252 0 333.1)" fill="url(#gD)" stroke="url(#gD)" d="M568.5 222l1.4 132l.9 -3l-2 6zM573.9 366l2 -2l.3 108l-1.7 -48zM575.9 364l2.8 -145l.2 133l-2.6 120z"/><path transform="matrix(1 0 0 0.1258 0 334.6)" fill="url(#gD)" stroke="url(#gD)" d="M578.7 206l2.4 -61l.7 28l-3 166zM581.1 145l2.1 3l.9 -7l-2.2 32z"/><path fill="#ff690a" stroke="#ff690a" d="M444.3 331.9l5.2 .8l-1.3 .7l-5.2 -.8z"/><path transform="matrix(1 0 0 0.1182 0 316.6)" fill="url(#gD)" stroke="url(#gD)" d="M449.5 136l2.1 54l-1.6 -46l-1.7 -2zM451.5 190l2.4 107l-1.8 -76l-2.2 -77z"/><path transform="matrix(1 0 0 0.1198 0 320.4)" fill="url(#gD)" stroke="url(#gD)" d="M477.4 760l1.7 -7l1.2 -2l-1.6 8z"/><path transform="matrix(1 0 0 0.1232 0 328.5)" fill="url(#gD)" stroke="url(#gD)" d="M531 709l1.9 -36l-1 18l-1.9 44zM533.7 659l1.9 -62l1 -31l-1.9 79zM535.6 597l2 -76l1.1 -31l-2 76zM537.6 521l2 -91l1.1 -48l-2.1 108z"/><path transform="matrix(1 0 0 0.1238 0 329.9)" fill="url(#gD)" stroke="url(#gD)" d="M539.6 416l2.1 -138l1.1 -36l-2.1 127zM541.8 278l2.1 -97l1.1 -40l-2.1 101zM545 141l2 2l-1 7l-2 31z"/><path fill="#ff690a" stroke="#ff690a" d="M547 347.6l19.9 3l-1 .8l-19.9 -3.1z"/><path transform="matrix(1 0 0 0.1254 0 333.6)" fill="url(#gD)" stroke="url(#gD)" d="M565.9 143l2 2l.6 73l-1.7 -82zM567.9 145l2 3l0 201l-1.4 -131zM569.9 148l2 2l-0 207l-2 -8zM572 150l1.5 118l.5 94l-2 -5z"/><path transform="matrix(1 0 0 0.1259 0 334.8)" fill="url(#gD)" stroke="url(#gD)" d="M573.4 258l1.5 98l.9 -7l-2 2zM578.7 205l2.4 -61l-1.9 179l-2.3 47zM581.1 144l2.1 2l-.9 7l-3 170z"/><path fill="#ff690a" stroke="#ff690a" d="M443 332.6l6.9 1.1l-1.3 .7l-6.9 -1.1z"/><path transform="matrix(1 0 0 0.1186 0 317.5)" fill="url(#gD)" stroke="url(#gD)" d="M448.6 142l1.7 2l1.8 69l-2.2 -77z"/><path fill="#0c0ca3" stroke="#0c0ca3" d="M472.8 411l1.7 .4l1.2 .5l-1.7 -.5z"/><path transform="matrix(1 0 0 0.1200 0 320.8)" fill="url(#gD)" stroke="url(#gD)" d="M474.5 754l1.7 -2l1.2 3l-1.7 4zM476.2 752l1.7 -6l1.2 2l-1.7 7z"/><path transform="matrix(1 0 0 0.1236 0 329.2)" fill="url(#gD)" stroke="url(#gD)" d="M529 754l1.9 -52l1 -18l-1.9 44zM530.8 702l1.9 -37l1 -14l-1.9 33zM532.7 665l1.9 -39l1.1 -36l-1.9 61zM534.6 626l2 -74l1.1 -38l-2 76z"/><path transform="matrix(1 0 0 0.1241 0 330.6)" fill="url(#gD)" stroke="url(#gD)" d="M538.5 475l2.1 -128l1.2 -75l-2.1 137z"/><path fill="#ff690a" stroke="#ff690a" d="M545.9 348.4l26 4l-1 .8l-26.1 -4z"/><path transform="matrix(1 0 0 0.1261 0 335.3)" fill="url(#gD)" stroke="url(#gD)" d="M571 143l2 2l.4 108l-1.5 -117zM573 145l2 3l-.1 203l-1.5 -98zM575.1 148l2.1 2l-.2 216l-1.9 -15zM577.1 150l1.6 87l.5 82l-2.3 47z"/><path transform="matrix(1 0 0 0.1264 0 336.2)" fill="url(#gD)" stroke="url(#gD)" d="M578.7 229l2.5 -81l.9 -7l-3 170z"/><path fill="#ff690a" stroke="#ff690a" d="M441.7 333.3l8.7 1.4l-1.3 .7l-8.7 -1.4z"/><path transform="matrix(1 0 0 0.1190 0 318.5)" fill="url(#gD)" stroke="url(#gD)" d="M449.1 142l1.8 4l1.9 92l-2.4 -102zM452.8 238l2.4 111l-1.7 -67l-2.6 -136zM455.2 349l2.1 61l-1.5 -40l-2.3 -88z"/><path transform="matrix(1 0 0 0.1202 0 321.3)" fill="url(#gD)" stroke="url(#gD)" d="M471.6 739l1.7 3l1.2 8l-1.7 -3zM473.3 742l1.7 -1l1.2 6l-1.7 3zM475 741l1.7 -3l1.2 3l-1.7 6z"/><path transform="matrix(1 0 0 0.1239 0 330)" fill="url(#gD)" stroke="url(#gD)" d="M527.9 762l1.9 -49l1 -19l-1.9 52zM529.8 713l1.9 -40l1 -16l-1.9 37zM533.5 646l2 -73l1.1 -29l-2 75zM535.5 573l2 -69l1.1 -22l-2 62z"/><path transform="matrix(1 0 0 0.1244 0 331.4)" fill="url(#gD)" stroke="url(#gD)" d="M537.5 491l2.1 -120l1.1 -31l-2.1 128zM539.6 371l2.2 -127l1.1 -33l-2.2 129zM541.7 244l2.1 -94l1.1 -7l-2.1 68z"/><path fill="#ff690a" stroke="#ff690a" d="M544.9 349.2l32.2 5l-1 .9l-32.3 -5z"/><path transform="matrix(1 0 0 0.1267 0 337)" fill="url(#gD)" stroke="url(#gD)" d="M576.2 143l2.1 2l.5 77l-1.6 -86zM578.2 145l2.1 3l1 -7l-2.5 81z"/><path fill="#ff690a" stroke="#ff690a" d="M440.4 334l10.4 1.8l-1.3 .6l-10.4 -1.6z"/><path transform="matrix(1 0 0 0.1194 0 319.4)" fill="url(#gD)" stroke="url(#gD)" d="M450.9 138l2.6 135l-1.9 -93l-2 -38zM451.5 180l2.4 103l1.8 78l-2.3 -88zM456.3 374l2.1 59l1.6 54l-2.1 -63z"/><path transform="matrix(1 0 0 0.1205 0 322)" fill="url(#gD)" stroke="url(#gD)" d="M470.3 709l1.8 19l1.2 7l-1.7 -4zM472.1 728l1.7 -1l1.2 6l-1.7 2zM473.7 727l1.7 0l1.2 3l-1.7 3z"/><path transform="matrix(1 0 0 0.1238 0 329.9)" fill="url(#gD)" stroke="url(#gD)" d="M521.5 876l1.8 -32l1 -11l-1.8 29zM523.3 844l1.8 -37l1 -9l-1.8 35zM525.1 807l1.8 -35l1 -9l-1.8 35zM526.9 772l1.9 -43l1 -15l-1.9 49z"/><path transform="matrix(1 0 0 0.1243 0 331)" fill="url(#gD)" stroke="url(#gD)" d="M528.7 717l1.9 -40l1 -14l-1.9 39zM530.6 677l1.9 -31l1 -11l-1.9 28zM532.5 646l1.9 -69l1 -15l-2 73zM534.4 577l2 -67l1 -16l-2 68z"/><path transform="matrix(1 0 0 0.1248 0 332.2)" fill="url(#gD)" stroke="url(#gD)" d="M536.4 499l2.1 -114l1.1 -21l-2.1 119zM538.5 385l2.1 -105l1.1 -43l-2.2 127zM540.6 280l2.2 -117l1.1 -20l-2.1 94z"/><path fill="#ff770c" stroke="#ff770c" d="M543.9 350l2 .3l-1.1 .8l-2 1.3z"/><path fill="#ff690a" stroke="#ff690a" d="M545.8 350.4l34.5 5.3l-1 .9l-34.6 -5.4zM439.1 334.7l10.4 1.6l-1.3 .7l-10.5 -1.7z"/><path transform="matrix(1 0 0 0.1197 0 320.1)" fill="url(#gD)" stroke="url(#gD)" d="M449.6 136l2 38l-1.5 -29l-1.8 -3zM451.5 174l2.4 102l-1.9 -82l-2.1 -49zM452.1 194l2.3 84l1.9 89l-2.3 -91zM454.4 278l2.3 88l1.7 60l-2.1 -59z"/><path transform="matrix(1 0 0 0.1206 0 322.2)" fill="url(#gD)" stroke="url(#gD)" d="M466.6 650l1.9 31l-1.3 -20l-2 -48zM468.9 685l1.8 22l1.3 19l-1.8 -19zM470.7 707l1.8 14l1.2 4l-1.7 1z"/><path fill="#1010d0" stroke="#1010d0" d="M472.5 409.1l3.4 .4l1.2 .1l-3.4 .1z"/><path fill="#1020d5" stroke="#1020d5" d="M496.3 411.5l10.7 3.5l-1.1 .8l-10.7 -3.8z"/><path transform="matrix(1 0 0 0.1239 0 330.1)" fill="url(#gD)" stroke="url(#gD)" d="M516.8 867l1.8 11l1.1 10l-1.8 -12zM518.6 878l1.8 -13l1 9l-1.8 14zM520.4 865l1.8 -29l1 6l-1.8 32zM522.2 836l1.8 -35l1 4l-1.8 37z"/><path transform="matrix(1 0 0 0.1244 0 331.2)" fill="url(#gD)" stroke="url(#gD)" d="M524 789l1.8 -32l1 1l-1.8 35zM525.9 757l1.9 -49l1 7l-1.9 43zM527.7 708l1.9 -40l1 7l-1.9 40zM529.6 668l1.9 -43l1 19l-1.9 31z"/><path transform="matrix(1 0 0 0.1248 0 332.3)" fill="url(#gD)" stroke="url(#gD)" d="M531.5 613l1.9 -68l1 18l-1.9 69zM533.4 545l2 -75l1 27l-2 66zM535.4 470l2 -97l1 10l-2.1 114zM537.5 373l2.1 -96l1 1l-2.1 105z"/><path transform="matrix(1 0 0 0.1253 0 333.5)" fill="url(#gD)" stroke="url(#gD)" d="M539.6 266l2.2 -112l1.1 -2l-2.2 116z"/><path fill="#ff770c" stroke="#ff770c" d="M541.7 352.8l2 -.8l1.1 -.8l-2 1.3z"/><path fill="#ff690a" stroke="#ff690a" d="M544.8 351.2l34.6 5.4l-1 .9l-34.7 -5.4zM437.8 335.4l12.2 1.9l-1.3 .7l-12.2 -1.9z"/><path transform="matrix(1 0 0 0.1201 0 321)" fill="url(#gD)" stroke="url(#gD)" d="M450 136l2.1 49l-1.6 -40l-1.8 -3z"/><path transform="matrix(1 0 0 0.1210 0 323.1)" fill="url(#gD)" stroke="url(#gD)" d="M465.6 615l1.9 35l1.4 24l-1.8 -23zM467.6 650l1.8 18l1.4 29l-1.8 -23zM469.4 668l1.8 16l1.4 27l-1.8 -14zM471.2 684l1.8 20l1.3 8l-1.7 -1z"/><path transform="matrix(1 0 0 0.1214 0 324.2)" fill="url(#gD)" stroke="url(#gD)" d="M474.2 700l1.7 2l-1.2 2l-1.8 -11z"/><path fill="#1020d5" stroke="#1020d5" d="M475.9 409.5l31.7 7.3l-1.1 .4l-31.8 -7.5z"/><path transform="matrix(1 0 0 0.1241 0 330.5)" fill="url(#gD)" stroke="url(#gD)" d="M513.9 806l1.8 27l1.1 29l-1.8 -33zM515.7 833l1.8 10l1.1 30l-1.8 -11zM517.5 843l1.8 -9l1.1 26l-1.8 13zM519.3 834l1.8 -24l1.1 20l-1.8 30z"/><path transform="matrix(1 0 0 0.1245 0 331.7)" fill="url(#gD)" stroke="url(#gD)" d="M521.1 798l1.8 -26l1.1 12l-1.8 34zM523 772l1.8 -39l1 19l-1.8 32zM524.8 733l1.9 -43l1 13l-1.9 49zM526.7 690l1.9 -34l1 7l-1.9 40z"/><path transform="matrix(1 0 0 0.1250 0 332.8)" fill="url(#gD)" stroke="url(#gD)" d="M528.5 644l1.9 -65l1 29l-1.9 43zM530.5 579l1.9 -63l1 24l-1.9 68zM532.4 516l2 -81l1 30l-2 75zM534.4 435l2 -87l1 21l-2 96z"/><path transform="matrix(1 0 0 0.1255 0 334)" fill="url(#gD)" stroke="url(#gD)" d="M536.4 337l2.1 -118l1 43l-2.1 96zM538.6 219l2.1 -71l1.1 2l-2.2 112z"/><path fill="#ff690a" stroke="#ff690a" d="M541.7 352.8l36.7 4.6l-1 .9l-36.8 -5.8zM436.5 336.2l14 2.2l-1.3 .7l-14 -2.2z"/><path transform="matrix(1 0 0 0.1205 0 322)" fill="url(#gD)" stroke="url(#gD)" d="M450.5 136l2.1 53l-1.6 -44l-1.8 -3zM451 145l2.2 59l1.9 94l-2.5 -109zM453.1 204l2.4 105l1.6 46l-2.1 -57z"/><path transform="matrix(1 0 0 0.1210 0 323.3)" fill="url(#gD)" stroke="url(#gD)" d="M461.5 496l2.1 66l-1.6 -49l-2.1 -54zM462.1 513l2 48l1.6 52l-2 -51zM464.1 561l1.9 37l1.5 50l-1.9 -35zM466 598l2 44l1.4 24l-1.8 -18z"/><path transform="matrix(1 0 0 0.1215 0 324.4)" fill="url(#gD)" stroke="url(#gD)" d="M468 630l1.8 17l1.4 24l-1.8 -16zM469.8 647l1.8 18l1.4 26l-1.8 -20zM471.6 665l1.8 21l1.3 16l-1.8 -11z"/><path fill="#1020d5" stroke="#1020d5" d="M476.5 410.1l12.2 2.9l-1.2 -.3l-12.3 -2.5z"/><path transform="matrix(1 0 0 0.1227 0 327.4)" fill="url(#gD)" stroke="url(#gD)" d="M487.5 695l1.7 -3l1.2 6l-1.8 -1zM489.3 692l1.7 -7l1.2 13l-1.8 0zM491 685l1.8 -7l1.2 19l-1.8 1zM492.8 678l1.8 -4l1.2 24l-1.8 -1z"/><path transform="matrix(1 0 0 0.1232 0 328.5)" fill="url(#gD)" stroke="url(#gD)" d="M494.5 662l1.8 -1l1.2 24l-1.8 2zM496.3 661l1.8 2l1.2 26l-1.8 -4zM498.1 663l1.8 13l1.2 27l-1.8 -14zM499.9 676l1.8 9l1.2 26l-1.8 -8z"/><path transform="matrix(1 0 0 0.1237 0 329.6)" fill="url(#gD)" stroke="url(#gD)" d="M501.8 674l1.8 9l1.2 20l-1.8 -4zM503.6 683l1.8 10l1.1 15l-1.8 -5zM505.4 693l1.8 17l1.1 11l-1.8 -13z"/><path transform="matrix(1 0 0 0.1243 0 331)" fill="url(#gD)" stroke="url(#gD)" d="M510.9 747l1.8 26l1.1 28l-1.8 -37zM512.8 773l1.8 20l1.1 35l-1.8 -27zM514.6 793l1.8 8l1.1 37l-1.8 -10zM516.4 801l1.8 -6l1.1 33l-1.8 10z"/><path transform="matrix(1 0 0 0.1247 0 332.2)" fill="url(#gD)" stroke="url(#gD)" d="M518.3 783l1.8 -24l1.1 34l-1.8 23zM520.1 759l1.8 -30l1.1 38l-1.8 26zM521.9 729l1.8 -27l1.1 26l-1.8 39zM523.7 702l1.9 -33l1.1 16l-1.9 43z"/><path transform="matrix(1 0 0 0.1252 0 333.3)" fill="url(#gD)" stroke="url(#gD)" d="M525.6 657l1.9 -44l1 26l-1.9 34zM527.5 613l1.9 -55l1 17l-1.9 64zM529.4 558l1.9 -57l1 11l-1.9 63zM531.4 501l2 -82l1 12l-2 81z"/><path transform="matrix(1 0 0 0.1257 0 334.5)" fill="url(#gD)" stroke="url(#gD)" d="M533.3 409l2 -98l1 22l-2 87zM535.4 311l2.1 -134l1 37l-2.1 119zM537.5 177l2 -27l1.1 -6l-2.1 70z"/><path fill="#ff690a" stroke="#ff690a" d="M540.7 352.5l36.8 5.8l-1 .9l-36.9 -5.8zM435.1 336.9l15.8 2.5l-1.3 .7l-15.9 -2.5z"/><path transform="matrix(1 0 0 0.1209 0 323)" fill="url(#gD)" stroke="url(#gD)" d="M451 136l2.2 59l-1.7 -50l-1.8 -3zM451.4 145l2.2 58l2 96l-2.4 -104zM455.5 299l2.3 82l-1.7 -56l-2.6 -122zM456.1 325l2.2 73l1.7 64l-2.2 -81z"/><path transform="matrix(1 0 0 0.1213 0 324)" fill="url(#gD)" stroke="url(#gD)" d="M458.3 388l2.2 76l1.5 42l-2.1 -54zM460.6 464l1.9 31l1.6 59l-2 -48zM462.5 495l1.9 35l1.6 61l-1.9 -37zM464.4 530l2 39l1.6 65l-2 -43z"/><path transform="matrix(1 0 0 0.1218 0 325.1)" fill="url(#gD)" stroke="url(#gD)" d="M466.4 558l1.9 32l1.5 49l-1.8 -16zM468.3 590l2 46l1.4 21l-1.8 -18zM470.3 636l1.8 20l1.3 23l-1.8 -22zM472.1 656l1.8 7l1.4 36l-1.8 -20z"/><path transform="matrix(1 0 0 0.1222 0 326.2)" fill="url(#gD)" stroke="url(#gD)" d="M473.9 652l1.7 2l1.4 37l-1.7 -4zM475.6 654l1.8 4l1.4 40l-1.8 -7zM477.4 658l1.8 2l1.4 41l-1.7 -3zM479.1 660l1.8 5l1.4 38l-1.7 -2z"/><path transform="matrix(1 0 0 0.1227 0 327.3)" fill="url(#gD)" stroke="url(#gD)" d="M480.9 654l1.8 6l1.3 34l-1.8 -3zM482.7 660l1.8 0l1.3 38l-1.8 -4zM484.4 660l1.8 1l1.3 35l-1.7 2zM486.2 661l1.8 -1l1.3 33l-1.7 3z"/><path transform="matrix(1 0 0 0.1232 0 328.4)" fill="url(#gD)" stroke="url(#gD)" d="M488 649l1.8 -5l1.3 30l-1.7 7zM489.7 644l1.8 -4l1.3 27l-1.8 7zM491.5 640l1.7 -24l1.3 47l-1.8 4zM493.2 616l1.8 -5l1.3 51l-1.8 1z"/><path transform="matrix(1 0 0 0.1236 0 329.5)" fill="url(#gD)" stroke="url(#gD)" d="M495 599l1.8 1l1.3 53l-1.8 -3zM496.8 600l1.9 21l1.3 45l-1.8 -13zM498.7 621l1.8 12l1.2 42l-1.8 -9zM500.5 633l1.8 15l1.2 36l-1.8 -9z"/><path transform="matrix(1 0 0 0.1241 0 330.6)" fill="url(#gD)" stroke="url(#gD)" d="M502.4 636l1.8 12l1.2 35l-1.8 -11zM504.2 648l1.8 13l1.2 38l-1.8 -16zM506.1 661l1.9 18l1.2 45l-1.8 -25zM507.9 679l1.9 19l1.2 53l-1.8 -27z"/><path transform="matrix(1 0 0 0.1246 0 331.8)" fill="url(#gD)" stroke="url(#gD)" d="M509.8 686l1.8 17l1.2 62l-1.8 -26zM511.6 703l1.8 17l1.2 64l-1.8 -19zM513.5 720l1.8 11l1.1 62l-1.8 -9zM515.3 731l1.8 -6l1.1 62l-1.8 6z"/><path transform="matrix(1 0 0 0.1251 0 332.9)" fill="url(#gD)" stroke="url(#gD)" d="M517.1 713l1.8 -23l1.1 61l-1.8 24zM519 690l1.8 -22l1.1 53l-1.8 30zM520.8 668l1.9 -17l1.1 43l-1.8 27zM522.7 651l1.9 -38l1.1 48l-1.9 33z"/><path transform="matrix(1 0 0 0.1255 0 334.1)" fill="url(#gD)" stroke="url(#gD)" d="M524.5 601l1.9 -34l1.1 38l-1.9 44zM526.4 567l1.9 -40l1.1 24l-1.9 54zM528.4 527l1.9 -43l1.1 10l-1.9 57zM530.3 484l2 -83l1.1 11l-2 82z"/><path transform="matrix(1 0 0 0.1260 0 335.3)" fill="url(#gD)" stroke="url(#gD)" d="M532.3 390l2.1 -138l1 52l-2 97zM534.4 252l2.1 -104l1.1 23l-2.1 133z"/><path fill="#ff690a" stroke="#ff690a" d="M539.6 353.4l36.9 5.8l-1 .9l-37 -5.9zM433.8 337.6l17.6 2.8l-1.3 .7l-17.7 -2.8z"/><path transform="matrix(1 0 0 0.1213 0 323.9)" fill="url(#gD)" stroke="url(#gD)" d="M451.4 136l2.2 58l-1.7 -49l-1.8 -3zM453.6 194l2.6 122l-1.9 -91l-2.3 -80zM454.2 225l2.4 93l1.8 71l-2.2 -73zM456.6 318l2.1 53l1.9 94l-2.2 -76z"/><path transform="matrix(1 0 0 0.1217 0 325)" fill="url(#gD)" stroke="url(#gD)" d="M458.7 361l2.1 50l1.7 74l-1.9 -31zM460.7 411l2.1 53l1.6 56l-1.9 -35zM462.8 464l2 39l1.6 56l-2 -39zM464.8 503l2 39l1.5 49l-1.9 -32z"/><path transform="matrix(1 0 0 0.1222 0 326.1)" fill="url(#gD)" stroke="url(#gD)" d="M466.7 531l2 38l1.6 57l-2 -46zM468.7 569l1.9 28l1.5 49l-1.8 -20zM470.6 597l1.8 2l1.5 54l-1.8 -7zM472.4 599l1.8 8l1.5 48l-1.7 -2z"/><path transform="matrix(1 0 0 0.1227 0 327.2)" fill="url(#gD)" stroke="url(#gD)" d="M474.1 596l1.7 -2l1.5 53l-1.8 -3zM475.9 594l1.8 9l1.4 47l-1.8 -3zM477.7 603l1.8 2l1.4 50l-1.8 -5zM479.5 605l1.8 12l1.4 44l-1.8 -6z"/><path transform="matrix(1 0 0 0.1231 0 328.3)" fill="url(#gD)" stroke="url(#gD)" d="M481.3 606l1.8 -5l1.4 49l-1.8 0zM483 601l1.8 -4l1.4 54l-1.8 -1zM484.8 597l1.7 -13l1.4 66l-1.8 1zM486.5 584l1.8 -8l1.4 69l-1.8 5z"/><path transform="matrix(1 0 0 0.1236 0 329.4)" fill="url(#gD)" stroke="url(#gD)" d="M488.3 565l1.7 -20l1.5 84l-1.8 4zM490 545l1.8 -13l1.4 73l-1.7 24zM491.8 532l1.8 -10l1.4 78l-1.8 5zM493.6 522l1.9 12l1.4 67l-1.8 -1z"/><path transform="matrix(1 0 0 0.1241 0 330.5)" fill="url(#gD)" stroke="url(#gD)" d="M495.5 522l1.9 22l1.3 66l-1.9 -21zM497.3 544l1.9 17l1.3 61l-1.8 -12zM499.2 561l1.9 15l1.3 61l-1.8 -15zM501.1 576l1.9 17l1.3 56l-1.8 -12z"/><path transform="matrix(1 0 0 0.1245 0 331.7)" fill="url(#gD)" stroke="url(#gD)" d="M502.9 581l1.9 16l1.2 53l-1.8 -12zM504.8 597l1.9 15l1.2 57l-1.9 -19zM506.7 612l1.9 17l1.2 58l-1.9 -18zM508.5 629l1.9 18l1.2 57l-1.8 -17z"/><path transform="matrix(1 0 0 0.1250 0 332.8)" fill="url(#gD)" stroke="url(#gD)" d="M510.4 635l1.9 7l1.2 67l-1.8 -17zM512.3 642l1.9 17l1.2 61l-1.8 -11zM514.1 659l1.9 2l1.1 53l-1.8 6zM516 661l1.8 -22l1.1 52l-1.8 23z"/><path transform="matrix(1 0 0 0.1255 0 334)" fill="url(#gD)" stroke="url(#gD)" d="M517.8 627l1.9 -25l1.1 55l-1.8 22zM519.7 602l1.9 -23l1.1 61l-1.9 17zM521.6 579l1.9 -31l1.1 54l-1.9 38zM523.5 548l1.9 -29l1.1 49l-1.9 34z"/><path transform="matrix(1 0 0 0.1260 0 335.2)" fill="url(#gD)" stroke="url(#gD)" d="M525.4 508l1.9 -30l1.1 38l-1.9 40zM527.3 478l2 -60l1 55l-1.9 43zM529.2 418l2 -64l1.1 37l-2 82zM531.2 354l2.1 -137l1.1 36l-2.1 138z"/><path transform="matrix(1 0 0 0.1265 0 336.4)" fill="url(#gD)" stroke="url(#gD)" d="M533.3 206l2.1 -61l1.1 -6l-2.1 103z"/><path fill="#ff690a" stroke="#ff690a" d="M536.5 353.9l39 6.2l-1 .9l-39.1 -6.2zM432.4 338.4l19.5 3.1l-1.3 .7l-19.5 -3.1z"/><path transform="matrix(1 0 0 0.1217 0 324.9)" fill="url(#gD)" stroke="url(#gD)" d="M450.6 142l1.8 3l1.8 71l-2.3 -80zM452.4 145l1.9 15l2.3 149l-2.4 -93zM454.3 160l2.2 71l2.2 131l-2.1 -53zM456.5 231l2.3 89l1.9 92l-2.1 -50z"/><path transform="matrix(1 0 0 0.1222 0 326)" fill="url(#gD)" stroke="url(#gD)" d="M458.9 310l2.1 51l1.9 94l-2.1 -53zM460.9 361l2.1 57l1.7 75l-2 -38zM463.1 418l2.1 52l1.6 62l-2 -39zM465.1 470l2 35l1.6 65l-2 -38z"/><path transform="matrix(1 0 0 0.1226 0 327.1)" fill="url(#gD)" stroke="url(#gD)" d="M467.1 494l1.8 13l1.7 80l-1.9 -28zM468.9 507l1.8 3l1.7 79l-1.8 -2zM470.7 510l1.8 6l1.7 81l-1.8 -8zM472.5 516l1.8 0l1.6 79l-1.7 2z"/><path transform="matrix(1 0 0 0.1231 0 328.2)" fill="url(#gD)" stroke="url(#gD)" d="M474.3 505l1.8 8l1.6 80l-1.8 -9zM476.1 513l1.8 2l1.6 79l-1.8 -1zM477.9 515l1.8 2l1.6 90l-1.8 -13zM479.7 517l1.8 -4l1.6 89l-1.8 5z"/><path transform="matrix(1 0 0 0.1235 0 329.3)" fill="url(#gD)" stroke="url(#gD)" d="M481.5 502l1.8 -5l1.6 90l-1.8 4zM483.2 497l1.8 -12l1.6 89l-1.7 13zM485 485l1.8 -9l1.5 90l-1.8 8zM486.8 476l1.7 -24l1.5 94l-1.7 20z"/><path transform="matrix(1 0 0 0.1240 0 330.4)" fill="url(#gD)" stroke="url(#gD)" d="M488.5 441l1.8 -13l1.5 94l-1.8 13zM490.3 428l1.8 -5l1.5 89l-1.8 10zM492.1 423l1.9 17l1.4 83l-1.9 -11zM494 440l1.9 22l1.4 83l-1.9 -22z"/><path transform="matrix(1 0 0 0.1245 0 331.6)" fill="url(#gD)" stroke="url(#gD)" d="M495.9 452l1.9 23l1.4 76l-1.9 -17zM497.8 475l1.9 20l1.3 70l-1.9 -14zM499.7 495l1.9 12l1.3 75l-1.9 -17zM501.6 507l1.9 13l1.3 78l-1.9 -16z"/><path transform="matrix(1 0 0 0.1250 0 332.7)" fill="url(#gD)" stroke="url(#gD)" d="M503.5 509l1.9 17l1.3 76l-1.9 -16zM505.4 526l1.9 14l1.3 79l-1.9 -17zM507.3 540l1.9 16l1.2 80l-1.9 -17zM509.2 556l1.9 12l1.2 75l-1.9 -7z"/><path transform="matrix(1 0 0 0.1254 0 333.9)" fill="url(#gD)" stroke="url(#gD)" d="M511.1 557l1.9 11l1.2 80l-1.9 -16zM512.9 568l1.9 4l1.2 78l-1.9 -2zM514.8 572l1.9 -13l1.2 69l-1.8 22zM516.7 559l1.9 -14l1.1 58l-1.9 25z"/><path transform="matrix(1 0 0 0.1259 0 335.1)" fill="url(#gD)" stroke="url(#gD)" d="M518.6 533l1.9 -14l1.1 49l-1.9 23zM520.5 519l1.9 -26l1.1 44l-1.9 31zM522.4 493l1.9 -23l1.1 39l-1.9 28zM524.3 470l1.9 -68l1.1 77l-1.9 30z"/><path transform="matrix(1 0 0 0.1264 0 336.3)" fill="url(#gD)" stroke="url(#gD)" d="M526.2 391l2 -53l1.1 70l-2 59zM528.2 338l2 -99l1 105l-2 64zM530.2 239l2.1 -89l1.1 57l-2.1 137zM532.3 150l2 3l1.1 -7l-2.1 61z"/><path fill="#ff690a" stroke="#ff690a" d="M535.4 354.7l39.1 6.2l-1 .9l-39.2 -6.3zM431.1 339.1l21.3 3.4l-1.3 .8l-21.4 -3.4z"/><path fill="#ff770c" stroke="#ff770c" d="M452.4 342.5l1.9 1.9l-1.4 -.8l-1.8 -.3z"/><path transform="matrix(1 0 0 0.1222 0 326.2)" fill="url(#gD)" stroke="url(#gD)" d="M452.9 142l1.8 3l1.8 74l-2.2 -70zM454.7 145l2 33l2.2 130l-2.3 -89zM456.7 178l2.3 88l1.9 93l-2.1 -51zM459 266l2.3 81l1.7 69l-2.1 -57z"/><path transform="matrix(1 0 0 0.1227 0 327.3)" fill="url(#gD)" stroke="url(#gD)" d="M461.3 336l2.1 47l1.7 74l-2.1 -51zM463.4 383l1.9 24l1.8 85l-2 -35zM465.3 407l1.8 9l1.8 90l-1.8 -14zM467.1 416l1.9 12l1.7 80l-1.8 -2z"/><path transform="matrix(1 0 0 0.1231 0 328.4)" fill="url(#gD)" stroke="url(#gD)" d="M469 418l1.8 1l1.7 84l-1.8 -6zM470.8 419l1.8 10l1.6 74l-1.8 0zM472.6 429l1.8 2l1.6 80l-1.8 -8zM474.4 431l1.9 11l1.6 72l-1.8 -3z"/><path transform="matrix(1 0 0 0.1236 0 329.5)" fill="url(#gD)" stroke="url(#gD)" d="M476.3 431l1.8 -9l1.6 82l-1.8 -1zM478.1 422l1.8 -6l1.6 84l-1.8 4zM479.8 416l1.8 -8l1.6 88l-1.8 4zM481.6 408l1.8 -7l1.6 82l-1.8 13z"/><path transform="matrix(1 0 0 0.1241 0 330.6)" fill="url(#gD)" stroke="url(#gD)" d="M483.4 391l1.8 -10l1.5 82l-1.8 10zM485.2 381l1.8 -13l1.5 71l-1.7 24zM487 368l1.8 -11l1.5 69l-1.8 13zM488.8 357l1.9 -1l1.4 65l-1.8 5z"/><path transform="matrix(1 0 0 0.1246 0 331.8)" fill="url(#gD)" stroke="url(#gD)" d="M490.7 345l1.9 16l1.4 67l-1.9 -18zM492.6 361l1.9 20l1.4 69l-1.9 -22zM494.5 381l1.9 16l1.4 76l-1.9 -23zM496.4 397l1.9 17l1.4 79l-1.9 -20z"/><path transform="matrix(1 0 0 0.1250 0 332.9)" fill="url(#gD)" stroke="url(#gD)" d="M498.4 403l1.9 13l1.4 78l-1.9 -12zM500.3 416l1.9 13l1.3 78l-1.9 -13zM502.2 429l1.9 22l1.3 73l-1.9 -17zM504.1 451l1.9 24l1.3 63l-1.9 -14z"/><path transform="matrix(1 0 0 0.1255 0 334.1)" fill="url(#gD)" stroke="url(#gD)" d="M506 464l1.9 15l1.2 63l-1.9 -16zM507.9 479l1.9 16l1.2 60l-1.9 -13zM509.8 495l1.9 12l1.2 59l-1.9 -11zM511.7 507l1.9 4l1.2 59l-1.9 -4z"/><path transform="matrix(1 0 0 0.1260 0 335.3)" fill="url(#gD)" stroke="url(#gD)" d="M513.6 499l1.9 -11l1.2 58l-1.9 13zM515.5 488l1.9 -9l1.2 52l-1.9 15zM517.4 479l1.9 -11l1.1 49l-1.9 14zM519.3 468l1.9 -25l1.1 48l-1.9 26z"/><path transform="matrix(1 0 0 0.1265 0 336.5)" fill="url(#gD)" stroke="url(#gD)" d="M521.2 432l1.9 -52l1.1 77l-1.9 23zM523.2 380l2 -59l1.1 68l-1.9 68zM525.1 321l2 -99l1.1 114l-2 53zM527.1 222l2 -69l1.1 85l-2 98z"/><path transform="matrix(1 0 0 0.1270 0 337.7)" fill="url(#gD)" stroke="url(#gD)" d="M529.1 143l2 2l1.1 -6l-2.1 88z"/><path fill="#ff690a" stroke="#ff690a" d="M532.3 355.3l41.2 6.6l-1 .9l-41.3 -6.6zM429.7 339.9l25 4l-1.3 .8l-25.1 -4z"/><path transform="matrix(1 0 0 0.1226 0 327.2)" fill="url(#gD)" stroke="url(#gD)" d="M454.7 136l2 34l-1.5 -25l-1.8 -3zM455.2 145l1.8 2l2 109l-2.3 -86zM457 147l2.3 86l2 104l-2.3 -81zM459.4 233l2.1 47l1.9 104l-2.1 -47z"/><path transform="matrix(1 0 0 0.1231 0 328.3)" fill="url(#gD)" stroke="url(#gD)" d="M461.4 270l2 40l1.8 88l-1.9 -24zM463.5 310l1.9 16l1.8 80l-1.8 -8zM465.4 326l1.9 13l1.7 80l-1.9 -13zM467.3 339l1.8 6l1.7 75l-1.8 -1z"/><path transform="matrix(1 0 0 0.1236 0 329.4)" fill="url(#gD)" stroke="url(#gD)" d="M469.1 335l1.9 9l1.7 75l-1.8 -10zM471 344l1.9 7l1.6 70l-1.8 -2zM472.8 351l1.9 8l1.6 73l-1.9 -11zM474.7 359l1.8 -11l1.6 75l-1.8 9z"/><path transform="matrix(1 0 0 0.1240 0 330.5)" fill="url(#gD)" stroke="url(#gD)" d="M476.4 337l1.8 -9l1.6 78l-1.8 6zM478.2 328l1.8 -6l1.6 76l-1.8 8zM480.1 322l1.8 -5l1.6 75l-1.8 6zM481.9 317l1.7 -30l1.6 95l-1.8 10z"/><path transform="matrix(1 0 0 0.1245 0 331.7)" fill="url(#gD)" stroke="url(#gD)" d="M483.6 277l1.8 -26l1.6 107l-1.8 13zM485.4 251l1.8 -31l1.7 127l-1.8 11zM487.1 220l1.9 16l1.6 110l-1.9 1zM489.1 236l2 27l1.5 99l-1.9 -16z"/><path transform="matrix(1 0 0 0.1250 0 332.8)" fill="url(#gD)" stroke="url(#gD)" d="M491.1 253l2 28l1.5 90l-1.9 -19zM493 281l2 37l1.4 69l-1.9 -16zM495 318l1.9 7l1.4 79l-1.9 -17zM496.9 325l1.9 11l1.4 81l-1.9 -13z"/><path transform="matrix(1 0 0 0.1255 0 334)" fill="url(#gD)" stroke="url(#gD)" d="M498.9 325l1.9 13l1.4 81l-1.9 -13zM500.8 338l2 26l1.3 77l-1.9 -22zM502.7 364l2 26l1.3 75l-1.9 -24zM504.7 390l1.9 20l1.3 70l-1.9 -15z"/><path transform="matrix(1 0 0 0.1259 0 335.2)" fill="url(#gD)" stroke="url(#gD)" d="M506.6 400l1.9 20l1.3 65l-1.9 -16zM508.6 420l1.9 13l1.2 63l-1.9 -11zM510.5 433l1.9 3l1.2 64l-1.9 -4zM512.4 436l1.9 -19l1.2 72l-1.9 11z"/><path transform="matrix(1 0 0 0.1264 0 336.4)" fill="url(#gD)" stroke="url(#gD)" d="M514.3 406l1.9 -13l1.2 76l-1.9 9zM516.2 393l1.9 -14l1.2 79l-1.9 11zM518.1 379l1.9 -30l1.2 84l-1.9 25zM520.1 349l1.9 -65l1.1 97l-1.9 52z"/><path transform="matrix(1 0 0 0.1269 0 337.6)" fill="url(#gD)" stroke="url(#gD)" d="M522 274l2 -80l1.1 118l-2 58zM524 194l2 -46l1.1 65l-2 99zM526 148l2 3l1.1 -7l-2 69z"/><path fill="#ff690a" stroke="#ff690a" d="M529.1 355.8l43.3 6.9l-1 .9l-43.4 -7zM428.3 340.6l28.7 4.6l-1.3 .8l-28.8 -4.7z"/><path transform="matrix(1 0 0 0.1232 0 328.5)" fill="url(#gD)" stroke="url(#gD)" d="M455.7 142l1.8 3l1.8 77l-2.3 -86zM457.5 145l1.8 2l2.1 121l-2.1 -46zM459.4 147l1.8 3l2.3 159l-2 -41zM461.2 150l1.9 2l2.3 173l-1.9 -16z"/><path transform="matrix(1 0 0 0.1236 0 329.6)" fill="url(#gD)" stroke="url(#gD)" d="M463.1 143l1.9 2l2.3 182l-1.9 -13zM464.9 145l2 19l2.2 169l-1.8 -6zM466.9 164l2 23l2.1 155l-1.9 -9zM468.8 187l2 23l2 139l-1.9 -7z"/><path transform="matrix(1 0 0 0.1241 0 330.7)" fill="url(#gD)" stroke="url(#gD)" d="M470.8 200l1.9 1l2 145l-1.9 -8zM472.7 201l1.8 -20l2 155l-1.8 10zM474.4 181l1.8 -22l2 167l-1.8 10zM476.2 159l1.8 -7l2 168l-1.8 6z"/><path transform="matrix(1 0 0 0.1246 0 331.9)" fill="url(#gD)" stroke="url(#gD)" d="M478 143l1.9 2l1.9 159l-1.8 6zM479.9 145l1.9 3l1.8 127l-1.7 29zM481.8 148l1.9 2l1.7 99l-1.8 26zM483.7 150l1.9 2l1.5 67l-1.8 30z"/><path transform="matrix(1 0 0 0.1251 0 333)" fill="url(#gD)" stroke="url(#gD)" d="M485.6 143l1.9 2l1.5 79l-1.9 -16zM487.6 145l1.9 3l1.6 103l-2 -27zM489.5 148l1.9 2l1.6 129l-2 -28zM491.4 150l1.9 3l1.7 164l-2 -38z"/><path transform="matrix(1 0 0 0.1255 0 334.2)" fill="url(#gD)" stroke="url(#gD)" d="M493.3 143l1.9 2l1.7 168l-1.9 -7zM495.3 145l1.9 3l1.7 175l-1.9 -10zM497.2 148l2 21l1.6 167l-1.9 -13zM499.2 169l2.1 66l1.5 127l-2 -26z"/><path transform="matrix(1 0 0 0.1260 0 335.4)" fill="url(#gD)" stroke="url(#gD)" d="M501.3 225l2 47l1.4 105l-2 -26zM503.3 272l2 52l1.3 74l-1.9 -21zM505.3 324l2 19l1.3 75l-1.9 -20zM507.3 343l2 17l1.3 72l-1.9 -14z"/><path transform="matrix(1 0 0 0.1265 0 336.6)" fill="url(#gD)" stroke="url(#gD)" d="M509.2 349l1.9 -13l1.3 87l-1.9 -2zM511.1 336l1.9 -18l1.2 87l-1.9 18zM513.1 318l1.9 -11l1.2 85l-1.9 13zM515 307l1.9 -54l1.2 125l-1.9 14z"/><path transform="matrix(1 0 0 0.1270 0 337.8)" fill="url(#gD)" stroke="url(#gD)" d="M516.9 242l2 -33l1.2 128l-1.9 30zM518.9 209l2 -61l1.2 124l-1.9 65zM520.8 148l2 3l1.2 42l-2 79zM522.8 151l2 2l1.1 -7l-2 47z"/><path fill="#ff690a" stroke="#ff690a" d="M526 356.4l45.5 7.3l-1 .9l-45.6 -7.4zM426.9 341.4l38 6.1l-1.3 .8l-38.1 -6.2z"/><path transform="matrix(1 0 0 0.1241 0 330.6)" fill="url(#gD)" stroke="url(#gD)" d="M464.9 136l2 20l-1.4 -11l-1.9 -2zM465.5 145l1.9 2l1.5 31l-2 -22zM467.3 147l1.9 3l1.6 51l-2 -23zM469.2 150l1.9 2l1.6 50l-1.9 -1z"/><path transform="matrix(1 0 0 0.1245 0 331.8)" fill="url(#gD)" stroke="url(#gD)" d="M471.1 143l1.9 2l1.4 27l-1.8 20z"/><path fill="#ff690a" stroke="#ff690a" d="M476.2 350.5l21 2.3l-1.2 .8l-21.1 -3.4z"/><path transform="matrix(1 0 0 0.1261 0 335.6)" fill="url(#gD)" stroke="url(#gD)" d="M497.2 136l2 21l-1.3 -12l-1.9 -2zM497.9 145l2 3l1.4 75l-2.1 -66zM499.9 148l2 2l1.5 120l-2 -47zM501.8 150l2 15l1.5 158l-2 -53z"/><path transform="matrix(1 0 0 0.1266 0 336.8)" fill="url(#gD)" stroke="url(#gD)" d="M503.8 155l2 46l1.4 130l-2 -19zM505.8 201l2 30l1.4 116l-2 -16zM507.9 231l1.9 -47l1.4 151l-1.9 12zM509.7 184l1.9 -27l1.4 159l-1.9 19z"/><path transform="matrix(1 0 0 0.1271 0 338)" fill="url(#gD)" stroke="url(#gD)" d="M511.7 146l2 -1l1.3 150l-1.9 11zM513.7 145l2 3l1.2 92l-1.9 55zM515.7 148l2 3l1.2 56l-2 33zM517.7 151l2 2l1.2 -7l-2 61z"/><path fill="#ff690a" stroke="#ff690a" d="M520.8 356.6l49.6 8l-1 .9l-49.7 -8.1zM425.5 342.1l76.3 12.4l-1.2 .8l-76.5 -12.5z"/><path fill="#ff770c" stroke="#ff770c" d="M501.8 354.5l2 1.9l-1.2 -.7l-2 -.3z"/><path transform="matrix(1 0 0 0.1269 0 337.6)" fill="url(#gD)" stroke="url(#gD)" d="M502.6 143l2 2l1.3 49l-2 -45zM504.5 145l2 3l1.3 76l-2 -30zM506.5 148l2 3l1.2 26l-1.9 47zM508.5 151l2 2l1.2 -3l-1.9 27z"/><path fill="#ff690a" stroke="#ff690a" d="M511.7 356.6l57.7 8.9l-1 .9l-57.9 -9.4zM424.1 342.9l144.3 23.5l-1 .9l-144.6 -23.7zM422.7 343.7l144.6 23.7l-1 .9l-145 -23.8z"/></g><path d="M419.9 326.8L492.7 290.1M492.7 290.1L619.4 305.4M419.9 326.8L429.6 449.3M619.4 305.4L611.3 419M429.6 449.3L562.5 480.8M562.5 480.8L611.3 419" fill="none" stroke="#111" stroke-width="1.5" stroke-linejoin="round" stroke-linecap="round"/><g font-family="Liberation Sans" font-weight="bold" font-size="6.4" fill="#1a1a1a"><text x="425.4" y="444.2" text-anchor="end">0</text><text x="424.5" y="432.7" text-anchor="end">2</text><text x="423.5" y="420.9" text-anchor="end">4</text><text x="422.6" y="409" text-anchor="end">6</text><text x="421.6" y="396.8" text-anchor="end">8</text><text x="420.6" y="384.3" text-anchor="end">10</text><text x="419.6" y="371.6" text-anchor="end">12</text><text x="418.6" y="358.7" text-anchor="end">14</text><text x="417.6" y="345.4" text-anchor="end">16</text><text x="416.5" y="331.9" text-anchor="end">18</text><text x="432.8" y="460.8" text-anchor="middle">1.5</text><text x="449" y="464.6" text-anchor="middle">1.0</text><text x="465.5" y="468.6" text-anchor="middle">0.5</text><text x="482.4" y="472.6" text-anchor="middle">0.0</text><text x="499.7" y="476.6" text-anchor="middle">-0.5</text><text x="517.4" y="480.8" text-anchor="middle">-1.0</text><text x="535.5" y="485.1" text-anchor="middle">-1.5</text><text x="554.1" y="489.5" text-anchor="middle">-2.0</text><text x="608.2" y="432.7">2</text><text x="599.2" y="444.1">1</text><text x="589.6" y="456.2">0</text><text x="577.5" y="469.3">-1</text><text x="566.4" y="483.4">-2</text></g><text transform="translate(408.5,390) rotate(-90)" text-anchor="middle" font-family="Liberation Sans" font-weight="bold" font-size="9" fill="#1a1a1a">G (kJ/mol)</text><text transform="translate(491.5,493.5) rotate(9)" text-anchor="middle" font-family="Liberation Sans" font-weight="bold" font-size="10" fill="#1a1a1a">PC2</text><text transform="translate(616,451) rotate(-62)" text-anchor="middle" font-family="Liberation Sans" font-weight="bold" font-size="10" fill="#1a1a1a">PC1</text><g font-family="Liberation Sans" font-size="7" fill="#222"><rect x="622.6" y="317.4" width="36.6" height="88.6" fill="#fff" stroke="#222" stroke-width="1"/><rect x="627.4" y="323.3" width="14.7" height="4.4" fill="#2a1580"/><text x="645.5" y="328">0</text><rect x="627.4" y="331.3" width="14.7" height="4.4" fill="#0a0a80"/><text x="645.5" y="336">2</text><rect x="627.4" y="339.4" width="14.7" height="4.4" fill="#1010d0"/><text x="645.5" y="344.1">4</text><rect x="627.4" y="347.4" width="14.7" height="4.4" fill="#1040e0"/><text x="645.5" y="352.1">6</text><rect x="627.4" y="355.4" width="14.7" height="4.4" fill="#108050"/><text x="645.5" y="360.1">8</text><rect x="627.4" y="363.4" width="14.7" height="4.4" fill="#40d010"/><text x="645.5" y="368.1">10</text><rect x="627.4" y="371.5" width="14.7" height="4.4" fill="#c8f010"/><text x="645.5" y="376.2">12</text><rect x="627.4" y="379.5" width="14.7" height="4.4" fill="#ffcc00"/><text x="645.5" y="384.2">14</text><rect x="627.4" y="387.5" width="14.7" height="4.4" fill="#ff9010"/><text x="645.5" y="392.2">16</text><rect x="627.4" y="395.6" width="14.7" height="4.4" fill="#ff5010"/><text x="645.5" y="400.3">18</text></g><text x="345.6" y="290.9" font-family="Liberation Serif" font-weight="bold" font-size="16.5" fill="#000">D</text>
</svg>
</body></html>
